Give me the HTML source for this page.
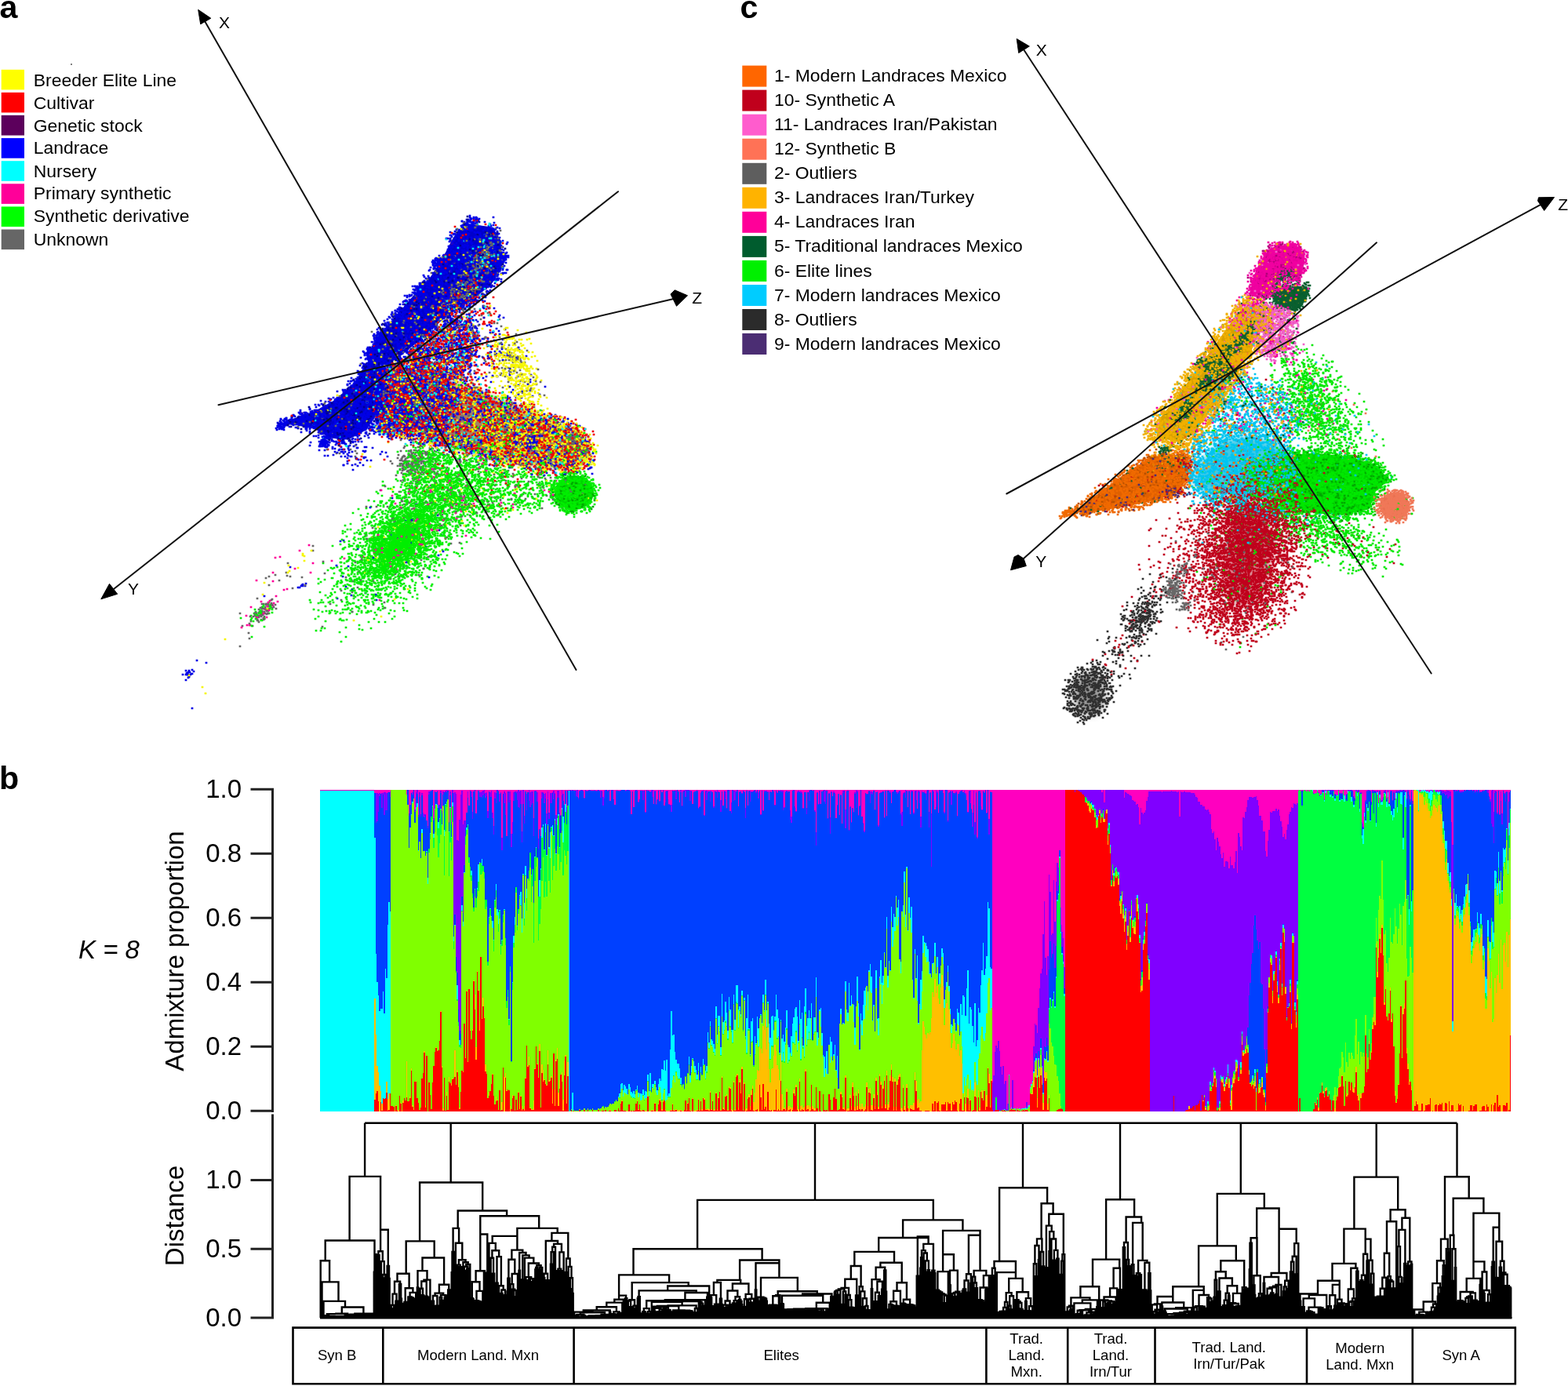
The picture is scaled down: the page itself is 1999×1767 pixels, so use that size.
<!DOCTYPE html>
<html lang="en"><head><meta charset="utf-8"><title>Figure</title>
<style>
html,body{margin:0;padding:0;background:#fff;}
body{width:1999px;height:1767px;overflow:hidden;}
svg{display:block;font-family:'Liberation Sans', sans-serif;}
text{fill:#000;}
</style></head>
<body>
<svg width="1999" height="1767" viewBox="0 0 1999 1767">
<defs><filter id="bl" x="-20%" y="-20%" width="140%" height="140%"><feGaussianBlur stdDeviation="5"/></filter></defs>
<rect width="1999" height="1767" fill="#fff"/>
<g fill="none" stroke-width="2.7" stroke-linecap="square">
<path d="M598 287L627 291L637 307L639 341L625 362L602 380L566 404L536 431L508 454L492 464L477 461L472 449L481 432L504 406L528 378L550 354L566 329L579 304L589 291Z" fill="#0000cc" stroke="#0000cc" stroke-width="3" stroke-linejoin="round"/>
<path d="M472 459L488 470L490 500L480 526L466 547L444 559L421 557L401 545L377 540L363 540L372 536L401 526L428 511L452 490Z" fill="#0000cc" stroke="#0000cc" stroke-width="3" stroke-linejoin="round"/>
<path d="M525 478L560 482L610 500L660 520L725 548L744 567L744 590L700 595L640 585L580 570L535 556L515 540L515 505Z" fill="#6a3410" opacity="0.62" stroke="none" filter="url(#bl)"/>
<path d="M486 470L520 470L540 500L530 540L500 552L480 545Z" fill="#0000cc" opacity="0.8" stroke="none" filter="url(#bl)"/>
<ellipse cx="732" cy="628" rx="25" ry="22" transform="rotate(0 732 628)" fill="#00d400"/>
<ellipse cx="512" cy="690" rx="30" ry="13" transform="rotate(-48 512 690)" fill="#30dc30"/>
<path d="M409 511zm20-2zm-1 0zm9-12zm1 3zm-6 10zm3-2zm8 2zm2-6zm1-1zm-5-2zm-1-4zm7 2zm-1-5zm-1 0zm2-1zm-1-4zm-3 2zm4-5zm15-23zm-2-7zm4-7zm6 5zm-1-3zm0-1zm4-2zm2 1zm1 0zm1-1zm2 3zm-2 0zm-1 0zm0 2zm3 0zm-4 0zm-2-1zm-1 3zm0 1zm1 5zm0 2zm-2-1zm0-5zm-5 1zm0 7zm-2 2zm0 1zm4-1zm8-2zm1-1zm-5 10zm1 1zm1 4zm-3-1zm-3 0zm0-1zm-1 2zm-10-2zm1-1zm-2-3zm6-4zm1-2zm-4-1zm-11 16zm7 3zm-1-2zm2-2zm6-1zm-2 5zm-4 0zm-3 3zm-5 4zm0 1zm1 3zm3 4zm-4 2zm2 4zm0 1zm-2 0zm2 2zm5 1zm-2-3zm0-2zm2-1zm3 0zm-2 4zm1 0zm0 3zm6 0zm-7-13zm0-1zm7 1zm2-2zm5 2zm-2 0zm-2 2zm-2 10zm0 1zm3-2zm3 1zm-1-5zm6-1zm-2 6zm6 1zm0-1zm-1-2zm1 0zm-1-6zm-3-5zm4-4zm-5-2zm-2-3zm-1 5zm-6-1zm6-6zm-7 0zm0-1zm2 0zm-2-4zm0-1zm5 1zm4 0zm1 3zm3 3zm2-7zm4 2zm-2 0zm4 5zm1-1zm-1-5zm6-1zm3 4zm-6 0zm2 6zm5 5zm-4-1zm-2-1zm-1 1zm-1 1zm-3-7zm1 2zm-3 0zm-1 1zm-1 2zm7 4zm-3 5zm-1 0zm0-1zm-1 0zm-2 0zm3 3zm0 1zm-3 4zm5 2zm2 0zm2-6zm0-1zm-1 2zm0 2zm1 3zm6 0zm0-3zm-3-1zm0-2zm0-2zm-2-1zm-2 0zm2-3zm-2 0zm1-1zm-1-1zm6 0zm3 1zm2-2zm1 0zm3 1zm-1 1zm-1 0zm-1 2zm3 1zm-7 9zm4-4zm5-1zm1 0zm-1 6zm1-2zm3-1zm0 3zm2-3zm0-5zm-6-3zm1-1zm-2-2zm7-3zm-3-3zm-2-2zm-1 2zm0 1zm-1 2zm-2 0zm-1-1zm0 1zm0 1zm-4-1zm5-4zm0-4zm-2 0zm-2-1zm0-4zm1-1zm7 0zm1 2zm-2 5zm1 0zm2 0zm2-10zm-5 0zm1 0zm1-2zm-1-2zm3-1zm0 3zm1 0zm-1-7zm2-1zm-7-2zm-2 1zm-2 1zm-1 2zm-3 4zm6 3zm-4 2zm-6 0zm1 0zm1-4zm-5-2zm-1 4zm1 1zm2 0zm0 1zm0 1zm-2 0zm-2-3zm-1 0zm-1 0zm-1 1zm1 2zm-1 0zm1-4zm0-1zm1 0zm0-2zm1-2zm-2-1zm-3-1zm1-3zm4 0zm1 0zm0 1zm2 5zm0-2zm4-1zm-6-10zm1 3zm2-1zm-7 2zm-3-2zm3-1zm0-4zm-1 0zm2-7zm1 1zm3 1zm3 5zm2-1zm5-6zm3 0zm-1 5zm-1 2zm-3 1zm1 7zm9-6zm-1 0zm4 4zm-1-2zm0-1zm-5-4zm2-3zm3-10zm-1 0zm-5 6zm-2-3zm-1 0zm-4-3zm3-1zm0-3zm8 2zm-1-3zm4-8zm-6-3zm4-5zm2 0zm-5-1zm-4 0zm1 6zm0 4zm-8-1zm-2 0zm1 2zm-3-4zm5-1zm-1-1zm0-1zm-8 0zm-3-5zm-2 9zm1-1zm0-1zm3-1zm1 2zm0 4zm-1 0zm-2 1zm-1 0zm-1-2zm-1 3zm1 1zm2 0zm0 2zm-3 4zm4-4zm3-3zm3 0zm4 2zm1 5zm-6 3zm3 1zm0 1zm-2 2zm-5-3zm-3-3zm-1 0zm1 6zm0 1zm-8-2zm1-3zm4-3zm-1-5zm-1-2zm-6 11zm-2 1zm2 2zm6-16zm1-2zm15-13zm1-8zm5-6zm1 2zm0 4zm-3-2zm10 9zm2-10zm-4 0zm0-1zm-1 0zm5-3zm0 1zm-1 2zm1 0zm1 0zm0-5zm0-2zm1 0zm0-2zm-1-2zm-1 2zm0 1zm-1 0zm-1-1zm-3 2zm0 3zm-4-1zm176 89zm0 11zm3-2zm0 9zm-29 2zm2-7zm2-3zm-5-13zm11-4zm7 6zm-5-18zm1 10zm0-20zm0-1zm8-3zm6 24zm-15-32zm-22-7zm1-6zm3-13zm-3-113zm1 12zm-2-1zm1 5zm-1 4zm1-1zm2-1zm2-2zm-2 8zm0-1zm-3 3zm1-1zm-1 4zm1 5zm0 7zm2 0zm-4 8zm-3-1zm-2-3zm-1 4zm2 1zm-3 1zm-3-1zm1-2zm0 10zm-3 0zm0-1zm-9 3zm-1-2zm2 0zm3-5zm0-8zm-14 6zm2 4zm0-1zm3 6zm-3-2zm-2 3zm2 6zm4-3zm9 1zm-7 3zm2 1zm-3 7zm-4-3zm-4 3zm-3 0zm-3-10zm-9 0zm1 2zm5 8zm-1 0zm-5-3zm1 3zm-16-4zm2-2zm4 1zm-2-6zm0 3zm-2-2zm-1-4zm5 1zm0-1zm6 5zm0-7zm1-4zm-1-1zm-12 5zm4-5zm1-5zm-6-4zm6-1zm1 0zm3 6zm2 1zm3-5zm1 0zm7-2zm0 3zm-3 1zm-3 8zm5 2zm1-5zm8 2zm-4-4zm-3-1zm1-4zm2-1zm-2-2zm2-5zm-2-2zm6-1zm-15-7zm0 5zm-2 10zm0-2zm1-1zm-1-4zm-6 2zm1 5zm-5 0zm-3-2zm6-2zm-1-2zm-1-5zm-3 3zm-2-1zm2-3zm7 3zm1 1zm0-2zm-2-10zm-1 1zm-3 0zm-1 2zm-2-9zm-1 0zm2-3zm-2 1zm4-2zm5 0zm2 2zm4-3zm5 0zm0 2zm-3 3zm2 5zm7-2zm1 3zm-2 2zm5-9zm-1 3zm2-6zm0-1zm7 7zm7-5zm-4 7zm3 3zm1 2zm-2 1zm-4 0zm-3 0zm3-5zm-5 4zm5 8zm-4 0zm0 8zm0-2zm4-2zm-2 0zm2-2zm5 2zm2-3zm-1-2zm0-1zm-1-2zm9 1zm-3 8zm-2 0zm0 4zm2-2zm3-5zm5 0zm3 2zm1-2zm0-4zm-6 3zm2-5zm-2-1zm5-1zm1-1zm1-3zm-1-4zm-2 3zm-1-3zm-4 7zm-2-1zm-3-6zm2-2zm-3 1zm4-7zm3 2zm0 5zm7-4zm0-1zm-7-5zm7-4zm-1-4zm-4-4zm-1 6zm-2-4zm-1 0zm1-3zm-2 1zm-2 6zm-3 1zm5 0zm1 5zm-9-1zm2-3zm0-1zm-3 3zm-1 1zm-10 2zm1-1zm1-5zm1 2zm2 1zm4-9zm5 1zm-1-9zm-2 0zm1 0zm-3 1zm1 4zm-6-2zm-5 0zm4-2zm-2-10zm2 0zm0 1zm7 5zm10-2zm0-1zm-5 10zm8-2zm2 3zm-2-11zm-7-6zm-17-8zm1 2zm-2 3zm-5 0zm-2 0zm2 1zm0 1zm-3 2zm-3-2zm-4-1zm0-1zm5-1zm7-4zm3 0zm0-1zm-18 5zm-6 14zm1 0zm3 2zm-2 4zm4-10zm-4 3zm4-7zm0 2zm4-2zm2 1zm-3 1zm1 3zm1-1zm2 3zm1-6zm8 0zm-1 1zm-2 4zm-6 8zm-1-3zm2 9zm3 1zm4 6zm1 2zm1 1zm-5 1zm-3 0zm1-2zm-6-5zm-4 7zm-4-1zm0-2zm1 0zm2-3zm3 2zm-2-6zm1-1zm-1-1zm-4-1zm-6 1zm-1 0zm-1 8zm5 1zm-9 0zm-1-2zm1-6zm-4-4zm5-4zm-34 51zm12-19zm2 2zm0 1zm1 0zm1-3zm3 1zm-1 0zm1-1zm1-6zm5 0zm1-1zm5-2zm2 3zm-4-2zm1 5zm5 3zm-5 2zm-2-2zm-2 3zm0-2zm-5-4zm0 4zm2 0zm-1 0zm0 1zm-2 1zm3 1zm-1 3zm-1 0zm2 4zm0-3zm2-4zm9 2zm-2 9zm-8 3zm1-6zm-1 1zm-4 5zm-3-13zm-3 2zm-2-1zm1 4zm-4-1zm-1 3zm6 16zm-1 3zm4-2zm4-2zm1 0zm0-3zm2 1zm6-5zm2 6zm-4 4zm1 1zm5 3zm-2 1zm-1-2zm-9-5zm0 7zm-1-1zm2 2zm0 4zm3 2zm-1-6zm3 1zm1 10zm3 0zm-4 3zm-3 0zm1-3zm1-3zm-3 3zm-2 3zm-10 1zm3-10zm-4-1zm-1 6zm1 2zm-5 3zm-4-2zm-2-4zm-3 3zm1 0zm-9 0zm3-3zm3-2zm-7-2zm1-3zm1-1zm3-1zm0 1zm-1 0zm0 2zm2-2zm1-1zm5 7zm2 0zm1-5zm-5-4zm-1-2zm0-2zm-1-1zm5-8zm-6 8zm-3 4zm3 1zm-2 0zm-1 1zm-1-1zm-2-1zm-7 13zm0 4zm-3-5zm-3 0zm3 7zm-1 5zm-1 1zm-3-2zm0 6zm-2 4zm1 0zm1 0zm1 1zm5-6zm3 2zm0 3zm1 1zm0-7zm-2-3zm-2-2zm8-3zm0 1zm0 5zm4-2zm3 1zm-2-2zm6 5zm3 1zm0 4zm-6-1zm-7-3zm-1 0zm1 1zm-1 6zm3 7zm0-2zm7-4zm1 3zm-3 1zm1 1zm4 9zm-1-1zm-1 1zm-6-1zm2-3zm0-3zm-5 7zm-2-1zm-8 1zm0-5zm5 0zm1-1zm-3-6zm-2-1zm-1 1zm-5-3zm-1 1zm-1 1zm3 8zm0 1zm-4 8zm6-1zm4 0zm0 3zm-4 9zm-2-2zm-2 8zm-2 6zm6 4zm1 1zm0-2zm4 2zm4-5zm-4-5zm1-4zm2 2zm9-2zm-2 2zm-1 1zm-3 9zm3 0zm3-4zm2 2zm0-6zm0-1zm2 0zm0-1zm-1-2zm3-6zm-2-2zm-2 6zm-4-1zm-4-3zm0-3zm5 0zm-3-1zm-3-2zm3-3zm-1-2zm2 1zm1 2zm3 3zm11-6zm6 1zm3-1zm2 1zm-3 3zm-3 5zm2-1zm5 7zm-7 0zm-4 0zm2-2zm0-5zm-5 1zm2 22zm3-2zm2-2zm1 3zm2 0zm2-1zm-1 2zm2-2zm-2-2zm4-11zm6 7zm-3-1zm-1 4zm-2 0zm2 4zm5-2zm-1-2zm0-1zm2 4zm6 2zm0-2zm1-3zm-3-6zm-3 3zm0-2zm0-1zm6-5zm-7-3zm-1-5zm-1-2zm-4-1zm2-4zm11 7zm0-6zm0-1zm0-4zm-3 2zm-3 0zm4-3zm2-1zm-1-2zm-8-2zm-1-1zm-1-2zm-1-1zm-3-1zm7 12zm0 2zm-9-7zm-2 1zm-1 6zm-5-3zm-5-2zm2-2zm-3-7zm10-1zm0 6zm3-10zm-1-1zm-2 0zm-10 2zm3-5zm-2-8zm10 0zm-2 2zm8-1zm1 0zm3 0zm1 5zm-3 0zm-2 9zm3-2zm1-2zm5 0zm-1 2zm4-2zm-1-1zm1 0zm-1-2zm0-4zm0 1zm-1 1zm1-3zm4-3zm3 3zm2 2zm-1 1zm2 0zm3-4zm4-1zm1 9zm-14 0zm1 6zm1 3zm4 3zm-4 1zm4 6zm5-2zm4 3zm0-1zm-3-9zm0 2zm7-5zm3 5zm-4 7zm1-1zm2 3zm-1-5zm-1-14zm-3-9zm3-3zm4 3zm3-3zm0 7zm8-7zm8 0zm6 30zm-16 8zm1 2zm1 0zm1 4zm17-4zm2 10zm-8 1zm-7-3zm-3 2zm-8 13zm-3-2zm0-1zm0 3zm-5-2zm-3-10zm5-2zm2 5zm5-5zm-2-4zm1-5zm1 1zm1-9zm-4 2zm0 2zm-3-1zm-4 0zm-1 6zm3 3zm-12 0zm1 1zm4-2zm1-10zm-6-1zm-1 1zm1 4zm-2 2zm-4-6zm-2 1zm0 1zm0 4zm2 4zm1 2zm-2 1zm-1-2zm-1 1zm2 3zm0 2zm1 0zm-3 3zm6 2zm4-6zm4-1zm0 1zm-4 10zm0-3zm3 0zm-1 4zm1 1zm2-1zm-5 3zm0-3zm-5 2zm-2-4zm-1-1zm-1 0zm0 8zm0 2zm1 3zm0-2zm4 3zm3-5zm2 1zm3-3zm-1 2zm-1 3zm2-1zm-2 2zm-3-1zm6 6zm-11 3zm1-5zm-1 7zm0 1zm-4 6zm1 2zm1 2zm3 2zm2 0zm-2-4zm-1 0zm4 4zm4-1zm0 1zm5-11zm3-2zm-3 7zm5 4zm2-3zm5 4zm-5-11zm-4-5zm-1 3zm-2-7zm4 1zm1-3zm-2-1zm0 2zm-3-5zm7 3zm11 1zm15-5zm7 2zm5 1zm-14 14zm5-2zm-19 19zm-2 2zm8-3zm10 5zm6 20zm4 2zm2 2zm-16-7zm-2-4zm0-3zm-6 2zm-10 10zm1-1zm-10-11zm0-14zm-3-2zm3 5zm-2 3zm4 3zm-9-7zm-3-4zm-6 2zm-3-3zm0 2zm0 11zm4 8zm0-3zm6-1zm-2 6zm0 3zm-3-1zm-1 0zm-4 1zm0 1zm-7-1zm3-2zm1-3zm1-5zm-6 4zm3 0zm-6 2zm0-6zm-4 9zm2 2zm3-2zm-1 2zm1 3zm-2 0zm-1-1zm-3-1zm-2 1zm-1-3zm-5 3zm-2 1zm-5 0zm-1-5zm1-1zm3 0zm2-1zm-5-2zm3-5zm4 2zm6 0zm-2-6zm-2-1zm-1-3zm0 5zm1 0zm1 1zm0 1zm-11-1zm3-1zm2-3zm-4-6zm1-1zm6-2zm6 4zm0-1zm0-2zm2 0zm2-1zm3 0zm-1 2zm0 2zm3 2zm-5 0zm-1-3zm-1 0zm0 5zm2 5zm1 1zm4-2zm-2-3zm3 0zm3 4zm2-2zm0-8zm-2 0zm0-6zm-1 1zm-9-2zm1-7zm-2 0zm1 0zm2-1zm-1-3zm-2 1zm9-2zm0 6zm1-3zm0-6zm-2-1zm2 0zm2-5zm2-1zm-10 0zm0-6zm-2 3zm3 4zm-11 7zm1-7zm4 1zm-3-3zm0-5zm-4-1zm0 5zm1-1zm1 1zm-3 1zm-7-5zm1 3zm6 4zm-3 5zm-3 4zm2 1zm0 4zm-1-2zm3 0zm1-1zm4-1zm0-2zm3 5zm1 2zm-2-1zm-1-2zm-2 0zm5 5zm-2 3zm3 3zm-5-1zm-1-2zm-3 3zm1-4zm-3-1zm1 0zm-4-1zm-1 5zm-1 1zm-5-7zm-1 0zm2 6zm-7-1zm1 2zm-3 0zm0-2zm-2-5zm1 0zm5 3zm1-2zm-6-2zm2-3zm-1-2zm-2 0zm2-2zm4 1zm4-1zm0 1zm0 1zm-1 1zm3 4zm3-2zm0-6zm0-1zm-6 1zm5-15zm-4 2zm0-2zm-1 0zm-1 3zm3 3zm-6-6zm-5 5zm2-1zm0 11zm-2-2zm-6-4zm5 1zm-1-6zm1-3zm-2-1zm-1 3zm-2 0zm-1 1zm0 3zm-2-5zm0 7zm-2 1zm2 2zm-6 2zm-1 7zm5 0zm9-4zm1 6zm-5-1zm0-2zm-2 1zm1 3zm2 2zm0-2zm1 0zm1 1zm2 2zm-2 0zm-1-1zm-8 3zm2-5zm-4 1zm-1-1zm-1 0zm0 4zm4 5zm2 6zm-6-3zm1 9zm4 1zm2-5zm2 0zm-1 1zm1 2zm-1 1zm1 2zm3 0zm2 0zm-4-10zm0-2zm0-3zm7 1zm2 2zm-1 0zm-1 1zm2 2zm2 0zm2 0zm-2-3zm0-2zm-1 0zm5-1zm0 1zm6 2zm0 3zm-2 8zm-3 0zm1 0zm-5 1zm0-6zm-5 0zm2 4zm2 5zm6 4zm-2 5zm6 0zm-1 0zm-2-1zm0 2zm-8 2zm1-2zm-6 3zm0-1zm-2 1zm-4-2zm2 0zm3-6zm1-2zm-1-3zm-2-2zm0 3zm-3 4zm-1 0zm-2-7zm-2 2zm1 1zm-3-1zm1-1zm-1 5zm1 1zm3 2zm0 2zm-1 2zm2 2zm-3 0zm3 7zm-2 1zm-3-2zm-1-1zm0 3zm-1 1zm4 2zm9 5zm1-2zm0-1zm-4-6zm-2-6zm12 4zm1-1zm1-2zm2 1zm4-1zm3-1zm-3 3zm2 3zm-6 3zm6 5zm-7 0zm0-4zm-4 1zm0-2zm0-1zm-1 1zm-2-1zm0 3zm3 2zm-1 9zm4 1zm1-1zm4-4zm2-2zm0 2zm-1 2zm-1 3zm0-1zm0 2zm4 1zm-3 1zm-3 2zm-3-2zm1 0zm-3-1zm0 1zm-3 3zm2-1zm0 2zm-1 1zm-3-2zm-2 1zm-3 0zm-1 1zm3-9zm0-2zm1 0zm2-1zm-5-2zm-3 5zm-7-5zm0 10zm6-1zm-2 1zm1 1zm1 0zm-4 4zm-1 5zm3 0zm3-2zm-3 0zm10-1zm1 0zm-6 8zm3 0zm-2 2zm-1 0zm-2-3zm-3-1zm-4 3zm0 4zm13 2zm9 4zm9-6zm-1-7zm-7-4zm-2 0zm-1-3zm0 2zm2-1zm0 1zm5 1zm4 1zm-3-3zm0-1zm4 3zm5 3zm1-4zm-1-1zm2-2zm2 0zm6 1zm0 1zm0 1zm-1 0zm-2 2zm-4 6zm1 0zm5 4zm-10-4zm-1-2zm-1 0zm4 18zm8 3zm-1-7zm9-4zm-1-1zm-4 4zm12 5zm1-5zm-2-11zm-10 2zm1-4zm1 0zm1-5zm-1 2zm-3 0zm0-1zm0-1zm-1-4zm14-16zm-7 7zm-2-3zm-5 1zm0 1zm2 5zm3-2zm0 6zm-2-1zm-6-1zm-1-1zm0-3zm-2 0zm0 5zm-1 0zm-2 1zm-2-3zm0 3zm-2-6zm3-2zm-2-1zm-2 1zm-2-3zm2-1zm-1-3zm8 1zm2 0zm-3 5zm7-7zm-6-4zm0 4zm-2-1zm-2 0zm0 1zm-4-2zm2-1zm0-9zm6-3zm2 7zm1-2zm2-2zm-1-3zm5 2zm3 0zm2 3zm0 2zm-4-1zm-1 4zm1 1zm1-2zm3 0zm1 6zm3-11zm0-4zm5 7zm3-2zm2-1zm1 3zm5-4zm-2 5zm4 5zm-10 2zm-2 5zm5 9zm2-4zm1 0zm5-5zm-6-4zm11 9zm2 3zm2 2zm1-3zm0 2zm1-6zm3-7zm1-3zm-5-11zm14-2zm-2 6zm0 6zm1 0zm1-3zm5 5zm4-3zm-5-8zm-1-1zm16-1zm6 1zm-5 11zm-5-5zm-4 3zm4 8zm0-2zm5 7zm1 6zm-9-4zm0 4zm-3-1zm-5-4zm4 1zm-9-10zm-1 28zm2 2zm7-1zm1 2zm1-9zm-5-3zm0-3zm6 6zm3-2zm4 1zm1-5zm1 5zm-4 4zm0 2zm1 5zm1 0zm2 1zm1 2zm3 0zm-1-1zm-8 13zm-1-7zm-7 7zm-5-9zm-2-4zm-2 5zm-2 1zm-1 3zm2-1zm-7 0zm-8-1zm1-3zm-3-4zm3 1zm3-2zm1 4zm6-11zm1-10zm-10 0zm-6 12zm-6-6zm-3 0zm-3-3zm11 17zm1 3zm-4 1zm14 20zm19-4zm0-2zm4 0zm0 1zm14-4zm-6 6zm7 0zm-9-1zm0 10zm-20-2zm-77 51zm25 14zm5 25zm-29 17zm25 9zm194-112zm-6-20zm-11 2zm0 14zm0 2zm4 3zm7-3zm4-2zm-18 8zm-12-8zm8 3zm-1 4zm6-8zm-4-1zm2-6zm-7 5zm-11 2zm-2-13zm-1-2zm-3 14zm0 8zm-2 3zm-38-9zm-18 2zm1-8zm-3-10zm6 4zm-1-2zm10-1zm-3 5zm-1 9zm2-1zm5-6zm4 3zm3-9zm10 1zm-6 19zm6 0zm9 0zm-4-2zm0 7zm4-1zm5 1zm5-5zm-6-4zm6-7zm1-2zm-8 0zm-4-2zm-3 0zm0-2zm1-4zm-1 0zm15-10zm-3-15zm-1-1zm-5-6zm-5 1zm-1 8zm4 1zm3 4zm-10 0zm-5-3zm7-4zm-15-7zm1 4zm3 5zm1 4zm-5 0zm2 3zm-1 3zm3 3zm0-7zm4 3zm6-3zm-5 5zm0-1zm-1 1zm0 1zm1 3zm-1 0zm4-1zm-3 7zm-2-7zm-3 0zm-2 0zm-2 1zm-1 4zm-2-1zm0-3zm0-4zm2-1zm-1-3zm-8 5zm-1-6zm-1 15zm-2-3zm-5-1zm-2-1zm-2-2zm-9-1zm1-6zm8 1zm3-1zm2-8zm-9 5zm-4 0zm2-4zm10-5zm6-5zm-1 4zm-2 11zm5-6zm8 6zm1-5zm1-7zm-1-5zm-2-5zm-1-3zm-5-5zm-4 1zm0 5zm-2 6zm-8 1zm-2-10zm-2 1zm-4 2zm12-5zm-2-9zm-4 6zm3-13zm3-1zm9 14zm-1-6zm7 1zm4-3zm-4-2zm8-1zm-2 8zm1 12zm2 3zm10-6zm-3 1zm-2-5zm7 8zm14-2zm-11-11zm43 17zm-6-1zm-4-1zm-11 4zm1-2zm5-7zm-11-5zm-1 4zm3 16zm8-5zm-3 11zm-8-2zm-1-1zm2 11zm-3 7zm12 1zm2-7zm-2 3zm-5-1zm0-3zm5-1zm8 10zm3-2zm7-4zm-4-11zm-5 0zm-1-4zm-1-5zm7 5zm15 7zm-1 0zm-9 1zm7 2zm-2 5zm-4-2zm-1 9zm6-2zm5-4zm0-4zm-281 193zm-77-9zm48-12zm7-13zm-6-33zm18 11zm26-1zm13 4zm5-68zm-47-43zm3 2zm7-1zm1-9zm23-8zm5 1zm7-17zm-4-6zm-11 0zm2-4zm1-1zm-3 1zm0-5zm5 0zm2 0zm0 1zm2 1zm3-3zm0 1zm0 2zm6 0zm1 2zm-3 1zm-2 3zm-1 4zm-1 2zm3-1zm3-6zm9 3zm-1-2zm1-4zm-3-1zm-4-1zm5 0zm1-1zm-1-5zm1-2zm-3-3zm-1 0zm-10 2zm6 1zm1-4zm-7-2zm2 0zm-2-3zm4-2zm0 2zm0 1zm3-2zm3 1zm1 3zm3-9zm-5-4zm3 0zm3 3zm-7-8zm-4 0zm-2-1zm1 4zm-2 1zm-1-1zm3 5zm-4 3zm-5 1zm-2-3zm5-3zm1 1zm0 1zm1-1zm-1-5zm1 0zm0-3zm-4-2zm-1 0zm-1 2zm1 2zm1 0zm-3 3zm-3-2zm0-5zm-2 6zm-3 5zm2-3zm5 0zm-2 3zm-1 0zm1 2zm-4 9zm5 0zm0-2zm9 0zm-1 1zm-4 6zm2 3zm-2 1zm-3 0zm-3 0zm3-5zm-5 0zm0-2zm-3 7zm-3-2zm-10 2zm-2-1zm7-7zm-1-3zm-6 2zm1-5zm-1-1zm5 0zm-1 3zm6 0zm-2-1zm0 3zm4-1zm1-2zm1-2zm-5-2zm-1-2zm2-1zm-2 0zm1-1zm3-1zm1 2zm2-8zm-2-2zm-1-1zm-7 6zm-1-5zm-1 9zm2 4zm-3-1zm-7 0zm-2-5zm3 1zm3-6zm-6 2zm0 2zm0-1zm-5 0zm1-1zm1-2zm1-1zm-7 4zm2 4zm1 1zm-3 3zm0 5zm1 2zm-1 2zm8-6zm7 1zm-3 2zm3 0zm-1 3zm-2-1zm-2-1zm0 5zm5-2zm-5 6zm-4-2zm0-3zm-6 2zm2 1zm1 2zm-2 1zm0 1zm2 3zm-1 4zm-2-2zm2 4zm8 2zm2-5zm-4 1zm2-3zm5-3zm4 1zm-3 0zm2 2zm5-1zm3-2zm0-1zm5 7zm-7-3zm5 5zm-11-1zm-8 8zm-4 7zm-1-7zm-4 3zm-1 0zm3 6zm-6-7zm-7-1zm-4 1zm1 0zm-2 1zm-1 1zm0 1zm-8 7zm-7-2zm2-2zm1-4zm-4-2zm11 1zm-1 0zm-2-1zm7 3zm-1 0zm1-5zm-11-2zm-2-1zm0-9zm13-2zm8-1zm-1 0zm-5 4zm-1 7zm1 0zm9-3zm-1 3zm2 2zm0-2zm2 1zm2-3zm-4-8zm0-2zm2 3zm1-2zm0-5zm0-3zm-2 0zm1 2zm-2 2zm-7 1zm-2 0zm0-1zm-2-2zm1-3zm2-6zm3 1zm7 3zm2-2zm-3-3zm-1-2zm1-9zm-1-2zm-1 3zm-4-2zm-5 2zm3 2zm0 4zm-7 2zm-2-3zm0-5zm-7 0zm1-6zm0 2zm-2-3zm1 15zm-1 5zm2 1zm3-4zm0 1zm5 3zm-4-1zm2 9zm-1 0zm-2 2zm-5-6zm-3 4zm-3 2zm0-3zm-3-3zm-2 1zm-1 4zm-5 1zm0-10zm0-2zm2-1zm9 3zm2-3zm-2-2zm2 1zm-2-11zm-11-2zm1 3zm-1 7zm-2 0zm-4-1zm-1-4zm-8 8zm-3 2zm0 1zm1 1zm0 2zm1 0zm3-1zm2-1zm-1-4zm5 0zm-1 0zm4 0zm0 5zm-4 0zm-1-2zm1 5zm0 4zm-1 1zm-2-6zm-5 0zm-2 1zm0 2zm7 6zm-1 2zm5 5zm0-2zm2-6zm-1 1zm2 0zm15 12zm0-1zm2 1zm-1 1zm1 0zm-2 1zm-7-1zm-6-2zm3 0zm4 7zm1 0zm2 0zm3-2zm1 0zm0 2zm-2 0zm2 4zm-1-1zm-3 0zm-2 2zm3 1zm0-1zm3 1zm-19-1zm19 13zm21-5zm0 6zm5 0zm3 2zm-5 9zm-86-47zm5-2zm0 2zm2-2zm24-6zm0-2zm-2 2zm-2 1zm-2-1zm-1 1zm0 2zm-4-1zm-1-1zm-2-3zm6 0zm-3-4zm2-2zm1 0zm-1-1zm2 2zm5 1zm2 2zm0-9zm0-2zm-18 10zm-2 2zm3 3zm-1 1zm0-1zm0 3zm-2 2zm-1 0zm1-1zm0-1zm-5 2zm-2-1zm2-3zm-1-2zm-3 2zm0 4zm16 180zm-123 133zm-2 3zm-1 0zm-1 1zm-2 2zm-2-2zm-1-2zm-1-3zm0 12zm8 36z" stroke="#0000e6"/>
<path d="M504 507zm-1-14zm-3-7zm-1-16zm-3 1zm145 29zm-17-6zm8 12zm-25 5zm-9-15zm5 7zm2-9zm-50-2zm-9-4zm16 6zm7-2zm-1 1zm-22-23zm2 7zm-5-5zm-30 19zm-1 1zm17 19zm-2-6zm-6 10zm9 16zm-7 10zm1-5zm-12 2zm18 36zm5-4zm3-20zm9 11zm3 4zm-3 10zm1-2zm7-9zm0-4zm9 2zm3 12zm5-10zm-21-45zm47 21zm1-26zm16-2zm24 7zm-4 22zm-7-1zm-6 0zm-10 16zm10-2zm2-5zm7-3zm6 8zm-13 9zm-4 9zm0 1zm2-12zm-4-1zm-2 5zm-10 7zm-7 1zm-4-3zm0-8zm-12-17zm4 23zm-9 2zm0 6zm2 7zm0-4zm11 0zm-4 4zm-1 1zm-3 10zm-7 6zm0 1zm2 4zm4 2zm-1-4zm0-1zm6-2zm-3 2zm1 5zm4-3zm-1 3zm3-7zm-3-3zm-3-4zm1-1zm6 2zm3 0zm-1-1zm5 6zm-4-1zm-2-2zm-1 4zm3 7zm1-5zm3-2zm2 2zm-1 1zm2 3zm3 0zm1 1zm-6-11zm3 0zm0-1zm4-6zm0-3zm-9 4zm-6-2zm1 0zm3-7zm-1 1zm-1-6zm4 3zm21 8zm14-4zm1 3zm-9 12zm6-1zm1-5zm3 5zm-3 0zm0 1zm0 4zm2 1zm4-1zm-1 3zm2 2zm-4-3zm-9 2zm-4 0zm-2-1zm-1-4zm4 2zm-1-5zm-2-6zm-1 6zm-7-1zm-2 1zm4 11zm-4 4zm-2 3zm1 1zm4 3zm2-2zm2 0zm7-10zm3 2zm2 5zm1-7zm1 1zm7-1zm-2 5zm-3 1zm0 4zm1 5zm-5-5zm-2-1zm-1 6zm-1 6zm7-5zm3 3zm1-2zm0 1zm0 1zm-4 7zm3 0zm4-2zm-9 7zm-6-6zm-1 6zm-6 0zm0-13zm-1 2zm2 3zm-5-1zm0-1zm-1 0zm-4-2zm2 4zm4 8zm-6-3zm0 1zm-4-1zm2-2zm-4 2zm1 3zm-3 0zm-2-2zm-1-5zm0 1zm0 2zm2 0zm0-5zm-5-1zm9-4zm-2 2zm0 4zm5-11zm-5 2zm-1-5zm5-5zm1 1zm-1-2zm-3 1zm1 0zm-1 2zm-1 1zm-4-1zm-2-2zm-1 7zm1 0zm1-1zm1 2zm-1 3zm-3-1zm-8-4zm4 1zm2-11zm-7 3zm3 2zm-4 2zm-3 0zm0-1zm-2-4zm-1 1zm1 3zm1 0zm4 2zm-2 2zm-1 1zm3 2zm-1 1zm-6 2zm0 4zm0 1zm4 0zm0 1zm5-3zm2 4zm-3 3zm4-2zm1 5zm-3 2zm-5-6zm-2-1zm-3 6zm-5 0zm-3 1zm2-3zm-2-1zm6 0zm-2-5zm2-2zm1-2zm-1-2zm-5 7zm-8-2zm2 6zm0-1zm0-2zm1 1zm1 2zm-1 1zm0 1zm1 1zm-4-1zm0-1zm-1 0zm0 2zm-1-5zm-6 6zm-1 0zm-1-3zm-1 0zm0 1zm0-6zm1-1zm-6-5zm3 2zm1 0zm4-2zm2 0zm-3 5zm2-1zm4 1zm1-11zm-5-1zm1-1zm-1 3zm-7 3zm-2-2zm1 0zm-1-2zm5 0zm-1-6zm-2 2zm-1-1zm0-4zm4 1zm0-3zm7 1zm10 2zm-2 0zm0 3zm-4-2zm0 2zm1 2zm0 2zm-1 2zm0 1zm2 1zm1-2zm2 0zm2 1zm3 1zm2-5zm0-1zm2-1zm-1-1zm1 0zm-1-2zm-6 0zm2 1zm1-2zm-1-2zm1 0zm2-1zm-1-4zm3 1zm-4-3zm-1 5zm-2-1zm-4 0zm1-10zm-5 1zm4-3zm1 0zm4 4zm4-6zm-1-2zm1 1zm-3-2zm1-2zm-3 0zm5-3zm1 2zm-3-5zm-7-1zm2 1zm1 0zm-7 2zm0 4zm7 0zm-1 0zm-8-3zm-2-4zm-1 0zm-6 0zm1 1zm1 0zm-6-5zm-1 2zm1 1zm1 6zm1-1zm3 3zm-1 4zm-4-2zm2 4zm0 2zm-1 0zm1 4zm2-2zm2 1zm0-6zm3 3zm5-3zm-3 5zm-1 0zm-1 5zm2 2zm2 0zm-8 3zm-1-7zm-5 3zm2 1zm0 1zm-4-3zm-6 1zm0 1zm-1 3zm-1-1zm-2 1zm1-6zm-1-5zm-4 3zm6-4zm1 0zm-1-3zm4 4zm3 3zm1-21zm-4 1zm-1-1zm-2 3zm0-1zm-5-3zm1 12zm-5 1zm-1-7zm0-2zm2-4zm-2 2zm-4 0zm-4 9zm1 2zm-1 8zm1-6zm2 0zm2 1zm3 0zm1 2zm-2 4zm-3 1zm3 1zm3 4zm0 1zm-7-1zm-8 13zm6 2zm-1-3zm2-1zm2 7zm1 0zm-2-11zm13 3zm0-5zm9 0zm-2 2zm3 3zm-2 0zm0 6zm-4 0zm-3-4zm-5 4zm0 3zm-1 5zm6-5zm5 2zm3 1zm-2 3zm-2-1zm1 5zm2-2zm2 7zm-5 0zm-2-2zm1 2zm-5-3zm3-3zm-3 1zm-4 3zm-8 2zm7-7zm-5-6zm-4 5zm-2-3zm-3 7zm3-2zm0 6zm-4-2zm7 6zm3-2zm2-1zm3 5zm-4 0zm-2 2zm0 2zm6-1zm-1 5zm-3-1zm-3 2zm0 1zm-2-1zm1-5zm-1-1zm-5 3zm0 3zm-1 0zm3 3zm0-1zm2 3zm-1 4zm-1-3zm-3 5zm1 3zm-1 2zm4-1zm0 1zm0-3zm2-2zm2 0zm1 3zm-1 1zm0 2zm3 0zm0-2zm3 1zm0-1zm0-1zm1-1zm-1-3zm-1-3zm-5 2zm3-2zm-2-3zm-1-2zm1 0zm2 1zm7 2zm0-3zm3 1zm2 0zm-2 3zm-3 1zm1 3zm-2 5zm0 2zm0-1zm2 0zm0-1zm1-1zm0 1zm3 2zm-1-3zm0-4zm5 1zm-1 0zm0 2zm-1-1zm-1 2zm2 3zm1 0zm3-3zm-1-1zm-1-2zm-1-3zm-3-2zm3-2zm-2 0zm0-1zm1-1zm3 2zm2-1zm-1-5zm1-3zm-1 0zm-2 0zm-4-1zm1 2zm0 3zm-1 1zm-2 1zm-2-3zm-4 3zm1-4zm1-2zm2 2zm1 0zm1-7zm-3 2zm-1 0zm0-6zm4 3zm1-3zm4 3zm-2 1zm2 0zm4 3zm-3-4zm1-2zm10 4zm-1 0zm-1 2zm-3-1zm1 0zm-2 1zm2 1zm-1 4zm4 3zm-2-4zm0-3zm3 1zm0-1zm5 6zm2-4zm0-2zm0 1zm-2-5zm0 1zm-1 2zm0-2zm-2-2zm-1 0zm0-1zm1-2zm3 3zm1 0zm1 0zm6 2zm11-3zm-1 5zm-3-3zm-3 0zm6 4zm-9 5zm-1 0zm1-4zm0 2zm-2-1zm0-1zm-1-1zm-2 0zm2 5zm-1 1zm1 3zm1 1zm-1 2zm2 3zm2-2zm-2-2zm6-2zm1 6zm-1 0zm1-1zm-3 4zm5 0zm1 3zm-8 0zm-5-1zm-5 1zm-2 1zm-1-5zm-1 0zm5-2zm-2-6zm-2 0zm1 5zm-2 1zm-3-3zm1-1zm-4-1zm1 0zm-1-1zm-1 0zm0-1zm-1 0zm0 3zm0 2zm1 0zm1 3zm5 6zm-5-2zm-2 2zm3 2zm2 1zm0 1zm-2 5zm-2-2zm0 4zm1-1zm1 0zm-1 3zm0 4zm4-3zm2-3zm3-1zm-1 2zm0 1zm3 4zm1-4zm0-3zm-1-3zm-2-3zm-1 0zm0-1zm4 0zm5-1zm-2 2zm6 5zm0-2zm-3-5zm5 1zm1 1zm4 2zm-4 1zm3 5zm-1 1zm1 1zm2 3zm-9-6zm-1 2zm-4 11zm8-3zm2 10zm-7 0zm-8-4zm2-3zm1-2zm-2-3zm-3 2zm-2 1zm2 1zm-6 0zm2-1zm1 1zm-1-3zm1-1zm-5 2zm1-1zm-3 2zm1 1zm3 3zm1 0zm-4 4zm-1 2zm-1-2zm0-2zm-2 1zm-5-1zm1 1zm-1 0zm0 2zm-1 0zm-2-2zm0-1zm1-2zm1-2zm-5-4zm-2-1zm5 1zm2 0zm-1-2zm4 3zm-1 0zm-1-1zm0 2zm1 2zm3 0zm0 1zm3-11zm-5 3zm1-4zm-1-2zm3 0zm-1 2zm2-1zm1 0zm0-1zm-3-2zm2-5zm-2-1zm0 2zm-3-2zm1 3zm1 1zm0 1zm-2 1zm-3-1zm-1 1zm-1-1zm0-2zm3-2zm-2-2zm-1 1zm-1 2zm0-1zm-3 1zm1 1zm2 7zm-1-2zm2 0zm3-1zm0 4zm-4 2zm0-1zm0-1zm-5 3zm-1-3zm0 2zm-2 1zm-1 0zm-2-1zm0-1zm3-2zm0-1zm-1 1zm-1 0zm-1 0zm0-3zm1 0zm6-2zm-3 0zm1-2zm1-3zm-1 1zm-5-2zm0 3zm1 1zm2 1zm-1 2zm-1 0zm-2 0zm-2-1zm0-2zm1 0zm0 1zm0-3zm-1-2zm-1 3zm-1 0zm-1-1zm1 0zm-1-2zm-2 0zm1 2zm-1 3zm1 0zm1 2zm-1 1zm-1 1zm3-1zm2 0zm1 4zm1 1zm-1 1zm1 1zm-3 0zm-3-3zm0 2zm2 3zm-2 6zm3-1zm2-1zm-1-3zm-1-2zm1 0zm3 1zm3 0zm1 0zm1 0zm1-1zm0 2zm1 0zm0 3zm-1 1zm-6-1zm1 4zm2 1zm-1-1zm2 2zm0 1zm1 2zm-3-2zm-1 3zm-5 0zm0-1zm1 0zm1-3zm-2-3zm1 2zm-2 1zm-1 0zm0-1zm-2-1zm0 2zm3 2zm-1 0zm0 1zm-2 2zm0 1zm2 2zm0-3zm4 2zm-2 3zm2 0zm-1 2zm-5 0zm3 2zm-3 2zm1 3zm2-1zm4-2zm0-1zm-2 0zm0-1zm0-1zm1 0zm2 1zm2 2zm-2-1zm1 2zm-1 1zm4-5zm3 1zm-3-5zm-4 2zm0-2zm0-1zm5-3zm2 1zm-1-1zm1 0zm2 6zm2-2zm2 1zm-1 2zm1 0zm1 0zm7-6zm1 1zm-1 4zm-13 4zm1 1zm2 4zm4 8zm-1-5zm8-2zm-2 5zm-2 5zm-1 3zm-7 0zm-4-1zm-2 1zm0-4zm2 0zm1-3zm-9-4zm1 0zm-5 0zm1-2zm-2 5zm4 5zm1 3zm-4 1zm-1 5zm12 0zm1 2zm-3 8zm-7 2zm1-4zm-2 2zm3 15zm14-1zm6-25zm12 9zm4-13zm-6-13zm6 1zm2-4zm2-4zm-6 0zm-3 2zm-5-3zm6-3zm1-1zm-7 2zm10-4zm8 0zm5 12zm-3-6zm18-8zm4 4zm50-31zm-48 15zm-12-8zm6-6zm16 0zm-3-2zm11 6zm-3-4zm-2-1zm3-10zm1-5zm-1-1zm-1-6zm-7 7zm-3-5zm6 8zm-2 4zm-3 1zm0-1zm-8-6zm0 4zm-9 3zm5-8zm0-1zm-2 1zm-1-1zm-3-2zm3 0zm4-1zm8-3zm0-2zm-1-2zm0-2zm-4 0zm-9-2zm2 0zm3 1zm-4-6zm-1 0zm4-3zm1 2zm2 0zm1 3zm0 2zm3-1zm4-4zm1 0zm1-1zm4 1zm0 2zm0 2zm-5 0zm0 3zm1-1zm2 1zm4 4zm2 1zm5-7zm-7 0zm3-2zm11-3zm-1 0zm5 1zm3 4zm-1 3zm-9-1zm1 8zm0 1zm-2 11zm14 1zm12-14zm3-7zm-7 3zm-8-4zm2-2zm-1 1zm-1-4zm5 0zm5 2zm2-3zm8 1zm4 8zm1 0zm2 0zm-10-3zm27 1zm-4 6zm-3-15zm-1 1zm13 1zm3 0zm-3 5zm2 5zm3 2zm7-4zm1-6zm-5 3zm22-5zm-15 6zm44 8zm-10 0zm-4-7zm-13-8zm5-1zm3 0zm1 5zm2 2zm2-1zm1 0zm0-3zm-1-1zm4 1zm5 3zm-7 5zm4 1zm1 2zm2-6zm2 2zm3 1zm0-3zm3-3zm-2 2zm-4-1zm0-1zm-1 0zm3-1zm6 2zm3-1zm1 1zm2 1zm5-6zm1 4zm2 1zm-6 4zm-4 2zm13-12zm9-15zm-3 4zm1 2zm-2-5zm-7-2zm1 7zm6 1zm-1 1zm1 2zm-6 3zm-4-2zm0-2zm-2 1zm-2-2zm1 5zm-6-2zm0-7zm2-4zm2 0zm3 6zm-1-11zm0 3zm-3-1zm-2-2zm-2-5zm-3-1zm5-6zm-1 1zm4 3zm3 1zm2 2zm-1-4zm3-2zm3 7zm3 3zm7-1zm-4-42zm-4 0zm-15 16zm5 12zm-9 3zm-5-3zm3 0zm-4-3zm-2 2zm-1 0zm-7 3zm8-13zm0-7zm-11 3zm-5-1zm-3-8zm-6 14zm15 8zm-2 1zm0 1zm-7 3zm-3 10zm-2 5zm1-2zm4-4zm3 1zm0-1zm3 5zm1-2zm2-2zm-2-4zm0-1zm0 2zm-2-1zm-2-5zm4 1zm7 6zm0-6zm0-1zm8 5zm-2 1zm0-1zm-2-1zm2 6zm0-2zm2 1zm3 5zm-5-2zm-2 3zm-1 0zm-3 0zm1-3zm1 0zm-2-3zm-2-1zm1 14zm-1-1zm3 2zm1 0zm1-3zm-3-3zm2 0zm1 0zm1 1zm1 0zm6-2zm0 1zm-3 5zm-1 1zm0-2zm-2 4zm6 0zm-3 3zm2 3zm-3-2zm-3 0zm-10-1zm-6-1zm5-2zm2-2zm-1-3zm1-4zm-6 4zm-2 0zm0-4zm-3 3zm-3-2zm0 2zm-1 8zm4-2zm3 6zm-3 0zm-1-1zm-1-2zm-6 1zm2-3zm-12 1zm3-4zm-2-3zm1-1zm10 2zm-1-5zm2-1zm-7-6zm6-4zm-6-1zm-5-3zm-1 0zm0 8zm3 2zm-1 1zm-7-2zm-1-3zm2-7zm-5 0zm-8 8zm0 3zm2 5zm-2 7zm7-6zm3 11zm-18 2zm3-10zm-5-4zm-5 10zm5 3zm-11 0zm-4 0zm1 0zm-8-2zm3-4zm-3 0zm1-5zm9 1zm-3 1zm1 3zm2-2zm-3-8zm-1 1zm-2-5zm2 2zm1-6zm0 2zm10 3zm1 1zm-2 0zm4 2zm0-4zm10 6zm0-3zm0-11zm0-5zm-4 2zm-1-4zm-1-10zm2 5zm-2 1zm-20 7zm0 1zm-3 1zm4-6zm-5-2zm10-6zm-2 3zm4 0zm-11-15zm8-1zm6 9zm27-11zm1 1zm2 12zm-14 16zm5-3zm1 0zm6 0zm2-1zm1-4zm-1-2zm9-4zm-5 7zm3 7zm6-1zm3-37zm-5-2zm4-8zm-13-11zm1 0zm0 3zm5 4zm-9-5zm-7-2zm8 16zm-25-4zm-8 14zm-10 1zm1-23zm2 3zm3-6zm-8-6zm5-6zm-4-9zm1-2zm0-10zm5 2zm27-1zm0 15zm14-9zm30 40zm2 9zm12-9zm0-4zm-2-8zm4-3zm11 19zm-232 202zm5 10zm-195 3zm2-2zm7 1zm1-2zm13-8zm0 10zm-4 1zm-3-4zm-20 7zm1 3zm85-2zm9 6zm-15-15zm16 2zm11 0zm16-8zm-1-3zm-2 9zm2 0zm5 1zm-1 4zm-9-1zm-28 23zm49-7zm3-16zm-3-5zm-3 7zm-6-3zm5-7zm-4-4zm10 3zm18 9zm13-6zm-3 1zm-6 1zm23-15zm2-1zm4 1zm-7-5zm-6-1zm1 0zm2 10zm-7 1zm-10-5zm0-3zm-1-7zm12-4zm-9 3zm-6 0zm2-3zm0-5zm-1-3zm2-4zm3 2zm7-1zm1-1zm4 0zm-2 8zm1 0zm5 0zm4 6zm5-3zm0-7zm-2 0zm-3 2zm-2 1zm1-3zm3-2zm-1-9zm-1-1zm-1 2zm-3 3zm-2-1zm0 2zm-3-2zm0-3zm-1-1zm2 0zm1 0zm2 0zm1 2zm1 0zm0-2zm0-2zm-3-1zm-3-2zm-1 0zm5-3zm2 3zm1 1zm0 3zm6-3zm-2-3zm2-1zm1 0zm-7-6zm0-2zm2 1zm3 0zm-1 1zm1 1zm1-3zm1-4zm-3-4zm-2 5zm-1 1zm-5 0zm1-1zm-1 0zm1-5zm-1 0zm0 2zm-1 1zm-3-3zm1 3zm2 3zm-1 1zm-1-1zm-1 1zm0 2zm1 2zm2-3zm1 0zm2 1zm1 3zm-1 3zm-6 0zm-1 0zm-1-1zm-2 1zm-2-1zm0 1zm-2 0zm0-2zm3-2zm0-1zm-2 0zm-1-2zm5 1zm0 2zm1-3zm0-1zm-2-2zm2-1zm1 0zm-1-2zm-1-2zm-3 3zm-2 1zm0 1zm3 0zm-1 2zm-1 0zm-1-1zm-3 1zm0-1zm2-1zm-1-2zm0-1zm0-2zm-1 3zm-3-1zm1-2zm-1 1zm-1 2zm-1 8zm1 0zm2 0zm4-2zm-1 0zm-2 4zm3-1zm-2 3zm-5-2zm0 3zm3 3zm-3 1zm0 3zm2-1zm2 1zm2-1zm1 0zm0-2zm-3-2zm0-2zm6 3zm1-2zm2-1zm1 1zm-1 1zm0 5zm-2-3zm-2 1zm-1-1zm0 7zm5-2zm2 0zm0 1zm-3 2zm-4 1zm-2-3zm-2 1zm-1-1zm0-1zm-2-1zm-1 2zm3 2zm0 1zm-1 2zm-1-1zm-1 1zm-1 0zm0-1zm-1-3zm1-1zm0-1zm-1 0zm-1-1zm0 3zm-3-1zm-2 2zm2 3zm-4-1zm-2-2zm-3 3zm4-4zm1-3zm-3-2zm-1 0zm0-3zm3-2zm3-1zm0 3zm2 2zm2-1zm3 0zm-1-6zm-2-1zm-2 1zm-2-2zm2-3zm2 0zm1 1zm2-6zm0-1zm-2-3zm0 2zm-2 4zm-7 1zm1-1zm2-3zm-1 0zm-1-3zm-5 0zm1 2zm0 8zm2 1zm1-2zm2-1zm0 4zm0 1zm-5-1zm-4 1zm0-2zm1-1zm-1-5zm-7-2zm-1 9zm-4 2zm1 2zm-2 6zm2-1zm2 2zm5-5zm6 2zm-7 2zm3 4zm-1-2zm4 3zm-13-2zm4 10zm-1 0zm0 1zm0 1zm3-1zm-6 11zm3-6zm5-1zm1 0zm3 1zm-2-6zm1 0zm2-2zm8 1zm9-1zm-1 0zm-2 1zm2 5zm-3-3zm-1 6zm0-2zm-3 7zm-2-4zm-2 0zm-2 4zm2 2zm1 1zm5-1zm1-1zm2 7zm-2-1zm0 5zm2-3zm3 0zm-3 2zm-11 5zm-3-14zm-3 5zm-6-2zm-1-3zm-3-1zm2 11zm-9-2zm-3-5zm4-11zm4 2zm-1-6zm0-3zm1-1zm-13 6zm-4 5zm-6 3zm6-9zm-3 13zm-3 10zm-3 2zm-15-29zm6-20zm14 6zm9-2zm12-10zm-2 1zm-1 2zm-2 1zm4-5zm-6-13zm0-20zm7-10zm22-13zm-2-7zm1 11zm6-1zm2-2zm-4 9zm1 1zm4 5zm-3-1zm-9-4zm-2-4zm-2 1zm-6 16zm3 2zm5 4zm-6 2zm-9 9zm1 0zm5 5zm1-4zm1 0zm1 1zm4 5zm1-5zm-2-2zm-1-4zm9 1zm-3 7zm5 3zm0-3zm0-2zm5-1zm0 4zm2 1zm1 0zm1 1zm-1-3zm-2-3zm2 0zm0-2zm-1-2zm0 1zm0 1zm-2 0zm0-7zm2 1zm1 0zm-1-3zm0-6zm-3 5zm-1 2zm-6 0zm-2-3zm0-11zm14 6zm6-2zm1 2zm1-3zm-3-2zm3-2zm8 0zm0 3zm-3 2zm3-1zm-2 3zm-4-1zm-1 2zm0 3zm4-2zm2 2zm1 4zm-3 0zm-1 0zm-2 0zm-4-3zm2-1zm-1 0zm-4-2zm-1 5zm-1 1zm0 2zm3 0zm4 0zm0 1zm0 1zm-2 0zm-1 0zm1 1zm-2 3zm-1-3zm-1 0zm0 2zm1 2zm1 0zm-1 3zm-2 1zm4 0zm0 1zm1 2zm1-1zm0 1zm1-1zm-1-1zm-2-2zm0-1zm1-2zm4 0zm1 0zm1 2zm-2 5zm0-1zm2 0zm-1-2zm2 0zm0 1zm1 2zm1-2zm0-2zm1-6zm-2 0zm-1-1zm-1 3zm-1-1zm0-2zm0 1zm1-1zm0-1zm-2-3zm2 1zm2 0zm-1 1zm10-2zm1 1zm-2 1zm-1 1zm0 2zm1 2zm0-1zm-2 1zm0-2zm0-1zm-3 0zm0 3zm0 2zm1 0zm1 1zm1 1zm-2 0zm-1-1zm1 5zm2-1zm1-2zm2 2zm0-2zm0-2zm-1 1zm-1 0zm3-3zm4 0zm-1 2zm1 0zm0 1zm-1 4zm1-1zm-1-2zm2 0zm0 3zm2-2zm-1-4zm-1-1zm1 0zm1-1zm1-3zm-2 3zm-4-1zm-1-1zm0-1zm1 0zm1 0zm1 1zm0-1zm0-1zm-1 0zm-1 0zm-1-1zm1 0zm2-2zm3 3zm1-3zm0-2zm-1 0zm-2 0zm3-6zm-4 0zm-2 1zm-1-1zm0 2zm0 2zm0 1zm1 0zm0-1zm1 0zm1 0zm0 1zm-1 0zm1 1zm-2 1zm-1 0zm-1 0zm-1 0zm1-1zm-1-2zm-2 2zm1 0zm0 1zm-2-1zm-2-1zm2-1zm-2-2zm0-2zm2 0zm2 1zm0 2zm1-2zm-1-5zm-2 1zm-1-2zm3 0zm1 0zm5-2zm-1 0zm0 6zm1-2zm-1-1zm1 0zm1 1zm2 2zm0-2zm1-3zm-3 0zm1-1zm0-1zm-3-2zm-1-4zm2-2zm2 1zm2 0zm0-2zm-2 0zm-1-3zm0-4zm-2 1zm-2-1zm3 5zm-1 0zm-3 1zm-3 0zm0-2zm2 0zm1 1zm-1-2zm0-1zm0-1zm-3 1zm-3 5zm1 1zm0 3zm5-3zm0 3zm-2 2zm3 0zm0 1zm-2 1zm-3 0zm1-3zm-2 0zm-3-2zm-1-1zm-5 2zm-3-3zm0 2zm0-6zm-5 2zm8-10zm3 3zm-11-3zm2-8zm3-3zm4 3zm0 2zm4-5zm8-1zm-1 4zm-1 0zm-1 0zm1 5zm-1 4zm2 2zm2-3zm0-4zm4 2zm3 4zm0-5zm1 0zm-3-3zm3-11zm-1 0zm-3-2zm-10 5zm10-8zm5-3zm-13-4zm-10-9zm19-13zm0 2zm-29-73z" stroke="#00ee00"/>
<path d="M441 506zm3-11zm25-43zm5 3zm-2 1zm5 12zm1 1zm-19 14zm4 4zm-3 7zm-11 2zm3 15zm10-15zm9 8zm-4-17zm9-2zm14 0zm-8 5zm4 7zm0 3zm0 1zm-6 8zm13-35zm-6 3zm-5-27zm28-12zm-5-21zm-4 9zm-6 11zm-23 6zm6-2zm33-39zm133-85zm-3 6zm0 6zm-1 0zm-13 35zm-13-1zm-12 12zm5-22zm-10-11zm2-2zm-20 7zm5-6zm5-4zm-2-13zm9-1zm5 11zm0-11zm1-2zm9 3zm3 4zm-4 6zm25-22zm-21 2zm-1-10zm5 7zm9-13zm-16-15zm-17 5zm5 17zm4 14zm-29-15zm-2 24zm-1 20zm-13 1zm-1 4zm9 6zm5-5zm-2 23zm-27 4zm-8-3zm-18 10zm4 10zm4-2zm14 9zm-13 2zm-2-3zm-4-4zm5 45zm-1-10zm16-9zm4-5zm13-9zm-2 2zm-9-14zm8 7zm14-18zm-6 5zm26-2zm-1 11zm15-18zm-79 66zm-42 72zm-8 11zm3-1zm4-11zm-4-9zm-16 13zm-3-6zm4-5zm-7 20zm2-2zm3-1zm0 4zm-4 4zm-4 6zm-21 8zm-11-5zm19 3zm6 7zm-5-25zm4-12zm-3-1zm-13 1zm-5-3zm2-5zm-4 5zm-1 5zm-1 0zm6 11zm0-5zm7 4zm-3 3zm-5-1zm-3 2zm-1 5zm-8-4zm-8-15zm-18 17zm-13 3zm1-13zm-17 9z" stroke="#000090"/>
<path d="M465 503zm12 6zm-9-24zm2-3zm12 2zm7-1zm1 14zm21-1zm-5-14zm3 5zm0-7zm1-8zm1-1zm-31-1zm3-22zm-2-20zm159 73zm-32-137zm-23 10zm6 1zm8-13zm3 5zm-1-21zm1-10zm-6-2zm7 1zm20-13zm-12 19zm11 4zm6-14zm3-10zm8-12zm-10 2zm-11 8zm-7-14zm7-5zm-9-14zm-27 6zm10 15zm11 8zm-34-10zm-11 51zm-40 30zm13 17zm-18 20zm24 23zm3-11zm-1-5zm9-7zm0 24zm5-3zm3-7zm12-4zm-9-40zm20 0zm9 14zm12 1zm-3-16zm15 2zm11 8zm2 39zm-24-8zm-1-7zm-1-2zm-13 21zm-3-4zm-5 1zm-2-2zm10 15zm-8 6zm5 18zm8-5zm-7-10zm17-1zm34-5zm-26 9zm20 42zm-26 1zm-3-10zm-23-2zm14 6zm-18-3zm-15 9zm1-4zm-4 4zm-6-13zm5 3zm1-12zm0 6zm-2 1zm-7-2zm7-13zm3 4zm10 4zm9-5zm-4-24zm-8-1zm-11-6zm-4 14zm6 0zm-10 9zm-13-11zm6 4zm5-11zm-10-2zm-2 0zm8 30zm-10 5zm8 20zm-10-12zm-4-2zm-5 7zm2-6zm-3 2zm-4 5zm3 21zm27-9zm-5 11zm-4-6zm-1 10zm-9-2zm-9 8zm5 8zm2 12zm-4 9zm26-2zm-6-14zm9-1zm10-2zm3 5zm-2 6zm0 8zm17-17zm-16-11zm-3 2zm-5-5zm39-11zm-12-4zm7 23zm13-28zm9 0zm7 23zm5 18zm3-3zm9-1zm-24 14zm-9-12zm-13-4zm-7 5zm13 12zm32 11zm105 15zm-7-5zm-11 8zm-58-6zm-7-14zm18 3zm18-1zm0 11zm-1 0zm0 10zm15-18zm3-24zm-18-8zm-21 15zm3 7zm-17-28zm10-18zm-7 1zm-5-7zm1-2zm38 24zm1-1zm-194 13zm-4-1zm19-6zm-7 4zm10-14zm-3 0zm-1-4zm-9-5zm0-9zm0-6zm-9 24zm-16-23zm-36 12zm-14 10zm12 5zm-30 1zm5-10zm7 27z" stroke="#00e6f0"/>
<path d="M469 457zm7 18zm-24 25zm8 7zm-2-11zm10 15zm23-7zm2 1zm18-1zm-7-1zm2-7zm1 1zm-19-22zm8-18zm2-41zm-8 9zm-4-3zm8 10zm0 2zm-2 8zm-13-13zm205 61zm-7 5zm-11 6zm-26 7zm1-14zm3-14zm14 2zm0 10zm11-5zm-6-15zm-15-3zm7-1zm-4-15zm1-3zm4 4zm2 2zm7 6zm4 0zm3-15zm-48-83zm-11-6zm-3 11zm2 0zm8 3zm-18 7zm5-11zm-3 3zm-10-2zm-2-1zm2 4zm0 4zm-10 3zm-1 2zm-7-5zm5-1zm-5-7zm11 7zm3-6zm1-2zm-9-5zm9-3zm-3-6zm11 10zm-2 0zm3 1zm3-12zm3-2zm-3 1zm4-8zm-6-7zm0 7zm0-1zm-3 0zm-1 1zm-2 6zm-4-3zm-12-11zm14-6zm5 4zm3-8zm-1-3zm7-2zm2 3zm4 2zm2-4zm3 2zm1 4zm-2 2zm-2 2zm-5 4zm1 4zm3-3zm-4 7zm1 1zm-3 4zm5-2zm-1-1zm7-1zm4 3zm-6-10zm4 2zm8-14zm-5-4zm12-13zm-1-1zm-11 8zm3-1zm0 3zm-5-1zm-5 2zm5-10zm-3-8zm19-6zm-6-3zm-37-8zm10 7zm0 15zm-31 26zm-24 17zm24 33zm-1 1zm-6 0zm-3-2zm-21-1zm-11 1zm-2-11zm5 19zm-4 25zm-17-1zm4 31zm10-9zm12-6zm-4-1zm13 0zm-2 2zm3 4zm1 4zm-7 7zm1 1zm6 1zm-2-5zm8 2zm-2-5zm15 4zm2-6zm3-3zm-7-5zm-8-6zm3-1zm7-5zm5 5zm-1-1zm-6-5zm1-2zm-9-12zm2 6zm-3 3zm7-22zm9 3zm-6-7zm13 3zm6-2zm3 4zm-15 10zm1 8zm14 8zm2-6zm12-15zm20 6zm0 11zm-17 20zm31-15zm-2 14zm-5 5zm2 10zm-29-7zm-3-17zm-14-4zm-12 4zm2 6zm6 5zm1 4zm1 6zm3-2zm1 0zm-8 4zm8 6zm-1 7zm-3 6zm-10-5zm2 4zm2 8zm0 3zm4 0zm1-4zm10-21zm5 2zm6 2zm9 3zm4 6zm17 9zm3 6zm-30 18zm-6 17zm-17-16zm5-14zm-3-1zm-5 29zm-13-11zm0-1zm-8 12zm-3 2zm-2 0zm-13-12zm1-1zm-1-6zm7-11zm6 1zm11-18zm2-3zm-2-10zm3 2zm-9 0zm-1 2zm0 4zm-2-8zm-6 18zm-10 8zm-3-3zm-5-10zm2-8zm6-5zm-19 2zm-10-4zm0 22zm7 2zm-6 0zm-2 9zm3 3zm-2 6zm8-6zm17-1zm3 16zm-23 3zm-7-7zm4 20zm1 6zm10-5zm3 0zm11-1zm2 1zm-15 14zm-5 8zm-6 3zm5 13zm4-1zm-2 0zm0 20zm0-7zm4 7zm11 1zm-2-14zm3-7zm-7-10zm14 6zm9-3zm13 9zm-5-5zm4-4zm6-7zm-5-8zm-14-1zm4-17zm3 2zm13 5zm7 11zm-5 5zm7 4zm6-6zm17-1zm-6-2zm7-18zm11 8zm4-9zm12 2zm-3 7zm6 15zm0 4zm-7-1zm-10-6zm-2-1zm-9 13zm14 0zm1 15zm-6 5zm-1 1zm-13-2zm-1-2zm-11-12zm5 8zm-16 8zm9 18zm-5 6zm23-2zm5-5zm22-3zm-21 12zm16 26zm-5 9zm6 6zm6 3zm0 1zm-11-4zm-8-9zm-26 9zm3-13zm-17-1zm-2 1zm13 14zm-1 3zm-39-16zm-6-3zm7-9zm10 4zm12-6zm-13-16zm10 4zm-11-5zm-7-6zm1-7zm-1 1zm1 2zm-7-3zm-1 0zm2 13zm-2-3zm7 10zm1 3zm-8 0zm1 3zm-6-1zm-2-1zm0-2zm-10 6zm0-2zm2-2zm-2-4zm2-6zm3 2zm1-1zm2 6zm2 0zm3-1zm-1-4zm0-6zm1 3zm-3-3zm5-10zm-7-1zm2 5zm-1 1zm-6-2zm1 5zm-1 4zm-1-2zm-2 2zm-1-1zm-1 0zm-1 0zm-4-1zm6-4zm-3-2zm2-4zm-1 0zm-4 2zm2 1zm-8 0zm-3 4zm7-1zm-3 3zm3 3zm-6 2zm0 2zm1 3zm5-3zm3 0zm0 1zm5 0zm-2-1zm1 2zm-1 3zm-1-1zm-4-2zm1 6zm3 3zm-2 0zm-9-5zm1 12zm10 4zm3-3zm0-2zm8-2zm0-1zm7 12zm-13 7zm-16 12zm2 21zm-1 1zm6 8zm17-8zm-6-18zm6-1zm18 12zm13-14zm6 4zm-10 12zm-14 1zm-5 13zm10 5zm-19 7zm-11 5zm2-15zm-3 0zm-10 22zm0 2zm-2 9zm25 9zm-5 4zm54-26zm-10-46zm25-3zm21-3zm1 12zm35-9zm12 1zm21 4zm59-67zm-10 8zm2 1zm-9-12zm-4-1zm-2 1zm-4 3zm-1 5zm-15 37zm-17 2zm12-16zm-7 1zm-3 11zm-3 1zm-11-14zm4 22zm-12 6zm-29-28zm13 0zm6 11zm-12-19zm4-4zm-11-15zm11 1zm3-1zm12 10zm-1-11zm0 1zm18 4zm-12 4zm11 7zm1-4zm5 0zm13 7zm-7-23zm4 5zm4-4zm-2-3zm-12 0zm4-7zm-4 0zm9-11zm1-4zm-6 1zm1-1zm0 7zm-10-1zm-3 1zm1-2zm5-3zm-5-10zm-3 4zm1 19zm6 6zm-1 1zm-12 0zm-9 1zm-4-8zm0 1zm-4 7zm-4-3zm-4 2zm-3-9zm-5-3zm8 3zm5-9zm-4-8zm5 3zm5-4zm1 4zm5 1zm3-13zm1-1zm-4-3zm-25 1zm10-1zm0-9zm10 1zm3-3zm18-5zm-3 6zm-1 12zm12-7zm9 8zm-2 4zm19-10zm-10 9zm3 6zm11 1zm-2 9zm-13 1zm4 4zm2 2zm-3 10zm11-1zm-1-3zm1-1zm0-8zm2 1zm6 1zm-2 3zm-3 1zm2 3zm-3 5zm4-2zm3-3zm-2 0zm4-2zm1 2zm-2 5zm4-3zm3-1zm-1 0zm1-7zm-3 2zm0 1zm-1-1zm-3-1zm3-3zm2-5zm1-1zm-9 3zm-5-1zm3-3zm-3-5zm14 1zm11 8zm-6-3zm-3 3zm1 4zm4 1zm1 0zm1 1zm-1 0zm-3 0zm-2 0zm0-1zm-1 6zm5 2zm0 1zm-1-3zm1 0zm0-2zm7 4zm2 1zm-6-8zm-427 242zm-8-9zm9-3zm9-13zm4-2zm3-6zm5-3zm-1 3zm3-1zm5-2zm1 4zm-6 7zm-1-3zm-2-3zm-2 0zm1 6zm0 4zm0 3zm-1 0zm-3-5zm0 2zm-3-1zm-2 1zm-3-1zm0-1zm-2 2zm88 13zm10-29zm65-18zm18-20zm-2-7zm5-6zm-10-15zm-17 3zm12 26zm-32 7zm-46-9zm-15-29zm75-22zm5-6zm26 21zm4-17zm-10-15zm10-36zm2-14zm-26 12zm-31-40zm-1-3zm57 5zm-3-3zm-7 7zm11-30zm-26-15zm18 9zm8-17zm-14-10zm-6-2zm3-3zm-11-5zm5 11zm-41 44zm-3-3zm0-21zm-33-16zm18 45zm-49-32zm-7 204zm-26 14zm-4-18z" stroke="#686868"/>
<path d="M430 504zm48-5zm12-4zm3 7zm5-1zm6 6zm0-9zm4-2zm3-7zm-7 4zm3 0zm-4-1zm-4 2zm0-13zm8-3zm2-7zm-3-6zm-5 2zm3-7zm-13-21zm198 67zm-5-24zm-11 7zm1 0zm3 3zm-2 0zm-1 10zm1-1zm3-2zm8 2zm-12 6zm1 4zm-5-3zm1-9zm-6-3zm-1 3zm-7-1zm2 3zm2 8zm2 0zm-23 1zm3-3zm1-3zm2-8zm8 6zm0-2zm-2-11zm-4 3zm-4 0zm3-12zm2 2zm0 3zm9-2zm1-3zm1 6zm-3 8zm6-5zm5 3zm3-6zm-4 0zm-3-1zm1-1zm1-3zm2 2zm3-1zm0-1zm-1-4zm-3 1zm-3-1zm7-4zm-1-2zm-2-1zm3-3zm0-1zm-2-1zm0-1zm-3 2zm-2-2zm-3 2zm-4 0zm0 4zm-1 2zm1 1zm4 5zm-19-2zm0 1zm0-3zm0 1zm-1-3zm4 3zm1-7zm-4-3zm8 4zm5-3zm-1 0zm-2 0zm-2-7zm-6 1zm-3 0zm5-6zm-5-1zm7-5zm3 2zm-2 1zm-1 4zm6 0zm9-6zm-1 6zm-2-1zm-4 3zm2 2zm3-1zm1-1zm6 5zm0-4zm2-2zm-4-7zm8 0zm11 11zm-13 10zm0 2zm1 1zm2 0zm0 3zm2 3zm4-3zm-6-44zm2 6zm-8 6zm-4-3zm0-8zm-3 0zm-6 5zm1 2zm5 7zm-3-3zm-2 3zm-2-1zm-1 0zm0-6zm-5 6zm-9-2zm4-7zm9-5zm2-1zm-14-4zm6-9zm24 6zm-57-70zm-6 14zm-13 1zm-2 6zm1 5zm-3 1zm-13-8zm4-4zm7-1zm0-4zm-9-9zm23 7zm2 0zm1-1zm-3-2zm-2-2zm15-31zm-8 6zm0 4zm4 4zm21 11zm-5-35zm-7 1zm1-2zm-34-23zm6-2zm-35 39zm16 48zm-4 5zm-37 22zm-20 14zm0 26zm45-23zm11 26zm3-4zm-2-10zm0-8zm-3 6zm-2-11zm-6 2zm12-12zm-8 0zm-18-9zm9 3zm-3-11zm13-6zm8 4zm-3-2zm8 22zm54 19zm-5 5zm4 4zm5 0zm-1-1zm-1 2zm-4 2zm-13 2zm-6-12zm-13 8zm0-6zm5-4zm-19 8zm-8 7zm0 3zm11 6zm-4 4zm-7 9zm4 12zm4-4zm2 4zm11-3zm27-25zm0 2zm7-3zm7-1zm-2 2zm0 2zm-1-1zm-1 1zm3 10zm-10-4zm0 11zm1-5zm-16 29zm17-14zm-4 20zm7-2zm3 7zm-13 2zm-4-5zm-3 0zm-2-4zm0 6zm-12 3zm-7-1zm4-7zm7-4zm-5-6zm1-2zm-16 4zm3 0zm-1-11zm-10 2zm1 10zm-1 0zm0 11zm12-1zm2 2zm-11 0zm-2 5zm-3 1zm0-2zm-5-4zm-2-3zm-8-5zm2 4zm4 5zm-1 6zm-18-4zm8-4zm3-5zm-6-4zm-3-2zm-4-7zm4-4zm1 0zm2 6zm12 7zm2-6zm5 6zm3-5zm-3-7zm-6-3zm0-5zm-3-22zm0 11zm-10 6zm3 5zm1 3zm2-1zm-13 1zm-6-2zm-3 0zm-1 3zm0-5zm0-4zm-5-2zm4-3zm6 1zm-2-3zm5-12zm-23 5zm-7 8zm-1 17zm5 4zm4 5zm2-1zm0 1zm3-4zm8-4zm3 1zm5-2zm-10 14zm9 13zm0 4zm-6-7zm-11 3zm2-1zm1-1zm-3-9zm-8 9zm-3 16zm1 1zm7-3zm18 2zm-11 6zm3 3zm6 4zm-1 4zm-13 3zm-3-3zm-5-2zm1 4zm20 22zm6 1zm-7-4zm-5-10zm8-3zm12 5zm4-6zm1-1zm-2 8zm-2 1zm-5-1zm10 19zm0-6zm-2 1zm-1 0zm12 0zm6 2zm-2-1zm-5-10zm-4 0zm5-8zm-4-4zm11 4zm-2-6zm0-15zm-1 4zm-10 4zm-10-1zm5 0zm0-2zm5-6zm-8-3zm-2-7zm-3-3zm7 1zm2 1zm13 0zm4-2zm18 5zm-3 3zm-5 1zm-6 0zm0 14zm4 5zm9-2zm10-6zm5 7zm2-5zm-2-2zm2-6zm-2-5zm-12 4zm11-12zm-3 4zm8-4zm7 0zm-5 7zm8 4zm1 1zm0-1zm1-2zm0 2zm0-3zm1-7zm-1 3zm16-7zm-2 10zm5 5zm-7 0zm-2-2zm-3-5zm-2 0zm0 7zm6 8zm-3-6zm2-1zm3 3zm2 0zm0-1zm1 0zm-7 11zm0-3zm-9 3zm0 1zm1 1zm-5-2zm4-2zm2-10zm-9-1zm-2 4zm-3 15zm3 6zm-1 0zm5 1zm-2-1zm6 1zm-1 3zm1-11zm2-2zm6 3zm-3 0zm12-2zm2 6zm-4-1zm4 2zm-1 4zm-4 3zm-4 0zm1-5zm-6-1zm0 6zm1 1zm0 3zm-1 3zm11-3zm1 7zm0 5zm-10-5zm-2-1zm0 3zm-6-3zm4 2zm1-5zm0-4zm-3-2zm-3 7zm-16 1zm2 4zm-11 0zm3-12zm10 7zm2-22zm-3 1zm-3 3zm-13 6zm-8-7zm-1-2zm4 27zm-1-5zm9 16zm-8 4zm10 9zm1-15zm26-6zm7 3zm10 1zm-4 0zm3 6zm-6 18zm-14-3zm-2 21zm12 8zm-9-4zm-30-15zm-8 16zm10 1zm-34-14zm8-4zm7 4zm-23-38zm-31 32zm3 10zm21 17zm-18 35zm28-29zm19 28zm-12 2zm-3 4zm-26 22zm3-4zm2-2zm-12-4zm4-7zm-1 36zm-4-7zm0 22zm72-61zm-3-6zm6-19zm-3-1zm0 4zm55 6zm-4-5zm26-4zm81-10zm4-43zm4 1zm2-15zm-7 1zm4 12zm-10-4zm-2 0zm5-5zm-1-1zm2-4zm0-1zm-4 4zm-4-2zm-6 14zm1 1zm3 4zm10-3zm-19 7zm-3 3zm-7-1zm4-2zm-1-5zm-4 1zm0-1zm0-3zm7 3zm6 1zm-2-2zm3-2zm-7-3zm1-5zm3-1zm3 3zm-3-7zm-1-1zm-3 0zm-2 4zm0-4zm-3 2zm-2 2zm4 8zm-3-3zm-2 2zm-1-2zm-3 0zm3-4zm-1-3zm1-3zm-6-2zm0 2zm2 3zm-2 1zm-4-2zm-1 7zm-4 6zm10 4zm-1 2zm3 2zm-7 22zm-12-10zm-38 11zm-1 8zm-16 1zm4-25zm22-13zm-7 1zm-14-4zm7-2zm0 1zm-3-2zm-6 2zm2-11zm-4 2zm1-3zm8 3zm0-3zm4-3zm1 0zm2 1zm-3 4zm0 3zm1 0zm6 7zm-3-5zm1-2zm5 7zm0-2zm4-4zm-4-2zm1-3zm-2-4zm6 3zm0-2zm3 2zm-2 4zm2-3zm4 3zm-2-5zm5 0zm3 3zm0 2zm-1-2zm-2 4zm6 0zm-6 6zm-5-6zm-4 3zm2 1zm1 5zm1 2zm-1 2zm-1-2zm10 4zm10-5zm-1 3zm-3 1zm9-5zm1 1zm-3-4zm-5-2zm0-2zm2-7zm-5 1zm2-2zm4-2zm1 1zm-8-5zm1-1zm3-1zm0-7zm-4 0zm10-1zm-1 2zm6 2zm-5-9zm4-6zm-1-4zm1-2zm-6 2zm1 2zm-6-4zm0 4zm-3 1zm5 4zm-2 2zm-9 1zm3-4zm-3-8zm-2 0zm-1 4zm-7-6zm1 2zm1 2zm2 9zm1 0zm1 2zm-4-3zm-1 1zm0 9zm2-2zm1 2zm3-1zm-1-3zm4 6zm2 3zm2 3zm-4-2zm-8-1zm-3 3zm-6-2zm2-1zm-2-8zm-4 1zm-4 4zm5 0zm-3 5zm0-1zm-9-1zm1-3zm-9 7zm-1 0zm0-1zm8-14zm4-1zm2-7zm-4 3zm-1-1zm1 4zm-5 0zm-3-1zm1-2zm-2-6zm7-5zm2 3zm-1 2zm3-3zm0-1zm6 4zm-3 10zm1-1zm2-2zm6-2zm-1 1zm6 2zm-1-8zm-2-1zm-3-1zm4-1zm0-8zm3-5zm-2-2zm-13-1zm2 7zm5 1zm-3 0zm-8 2zm0-4zm-1 0zm-3 4zm1 1zm2 1zm-7 0zm2-4zm-5-3zm4-6zm10 2zm0-1zm-9-4zm-2-1zm0 2zm-1-2zm0-5zm3 1zm-5-6zm5-1zm6 1zm5 0zm-1 6zm13 3zm2-7zm-3 0zm7-4zm-1 6zm5-2zm-2-5zm2 0zm1 1zm2 9zm0 4zm-5-1zm0-4zm-1 10zm1 3zm-4 6zm6-4zm4 6zm3-1zm0-3zm-6-8zm4 0zm11 3zm-6 3zm-1 7zm3-2zm1-1zm1 1zm1-1zm7 0zm2-4zm-5-15zm1 6zm25 8zm7 4zm4 1zm-13 1zm-3 2zm0-1zm-7 0zm-4-12zm-3 3zm1 6zm5 1zm-7 3zm5 2zm5 1zm2 4zm-4 1zm3 3zm-1-2zm2 0zm1 1zm2 5zm-12-4zm-3 9zm2 0zm1-1zm4-1zm-1 6zm-6 0zm2 4zm3 4zm1-1zm1-1zm-3-3zm1-1zm10 1zm-2 1zm2-6zm-3 2zm-4-1zm15-5zm0 5zm-6 3zm4 5zm-1-4zm9 2zm-1-4zm2-4zm-5-2zm5-8zm-1-2zm-5 2zm-1 4zm-4 0zm0-4zm-1 0zm-1-4zm1-1zm-1-4zm10 4zm6-4zm-1 6zm6-6zm5 9zm-2 4zm-4-1zm-2-3zm0 5zm-2 1zm0 3zm5-2zm-5 4zm1 3zm4 3zm-1 0zm5-2zm1 2zm-3-1zm5 3zm0 2zm2-6zm0-4zm6 8zm1 2zm-5-16zm-1-5zm-490 330zm-4-8zm245-112zm-12-50zm-1-7zm-17 10zm-2-8zm-5 2zm-6 40zm-72-36zm0-6zm-2-1zm58 24zm31-47zm7-13zm7 21zm18-19zm-3 0zm-32-79zm-10-16zm33-15zm-15-20zm20 1zm3 3zm-7 0zm1 9zm1-1zm3-3zm9-2zm-13-22zm14 5zm-1-5zm0-4zm-5-1zm1-10zm-10 6zm4 1zm1 4zm-8-1zm2-11zm-4 0zm-1 26zm-34-4zm-38-12zm-9 1z" stroke="#f5f500"/>
<path d="M474 451zm-4 24zm-5 20zm0-2zm6-5zm13-1zm7-4zm0-2zm4 4zm-7 10zm-4-5zm-1 17zm6-1zm0 5zm2-3zm4-6zm0-1zm-6-3zm6 1zm1-2zm0 1zm6-2zm1 1zm0 3zm-7 5zm2-1zm2 7zm1-4zm0-2zm5 0zm0 4zm3 2zm1-5zm-2 0zm-2-6zm5-3zm-2-5zm-3 2zm-8 1zm-2-1zm7-9zm-6 2zm8-4zm0-4zm4-7zm-1 3zm0-6zm3 0zm-7-1zm3 2zm-5 1zm0-5zm-3 5zm-1 8zm-16-3zm2-6zm6 1zm4 0zm4-15zm-21-15zm169 70zm3-58zm-20-74zm5-16zm-13-7zm-10 3zm-10 22zm-1-1zm-2-1zm0 2zm-12-4zm4-2zm6-18zm7 8zm1-6zm1-17zm-2-4zm-5-11zm24-3zm-3 16zm7 7zm6-14zm-17-14zm-6-2zm14-10zm6-9zm3-11zm-36 5zm-28 42zm6 44zm-13 5zm-29-3zm-10 19zm5 47zm2-1zm14 1zm-1-6zm-1-2zm-2 0zm17-12zm-12 7zm1 1zm4-2zm-1 4zm2 2zm-1 0zm-5-1zm2 10zm12-4zm8-11zm0 3zm-2 3zm-2 5zm4-2zm7 5zm1 0zm1 1zm-3-11zm0-1zm-5-10zm-7-8zm11 4zm-15-7zm-6 1zm4-10zm4-9zm-14-8zm3-3zm15-1zm-2 8zm10-7zm9 0zm-1 2zm5-3zm8 4zm-2 11zm-7 0zm-6 2zm5 0zm-4 11zm3-1zm3-2zm4-5zm11-4zm1 11zm-1 0zm0-3zm9-8zm-3-15zm2-1zm6 12zm4 3zm4-5zm4 4zm6 2zm-6 11zm3 1zm-11 1zm1-3zm17 32zm-6-1zm-7-6zm-6 4zm-7-2zm2 1zm-4 9zm-3-7zm-10 4zm4-1zm-5-5zm3-2zm0-4zm11-2zm-2 0zm2-6zm-2-8zm-8 7zm-3-3zm6 10zm-4-2zm-4 2zm-3-2zm-1 3zm1-10zm-3-4zm-6 2zm2 7zm0 3zm1-1zm-4 4zm-1 2zm2 3zm2 1zm-1-3zm7-1zm4 5zm-3 0zm-8 1zm-3 1zm3 10zm1-1zm6 2zm2 10zm-4 1zm-5-2zm2-2zm1-3zm-3 1zm-1 3zm2 9zm-3 3zm0 6zm2 1zm4-6zm3 5zm3-7zm1-1zm-2-2zm-5 0zm7-4zm7 2zm-1 4zm-4-2zm14 8zm-7-9zm5-1zm-4-8zm-8 2zm0-1zm0-1zm4-9zm1 0zm4 0zm-2 5zm23 2zm9-2zm-4 9zm-1-5zm-8 33zm1 1zm-1-7zm18 16zm-14 7zm-3-1zm1 0zm2-3zm-16 4zm-4-4zm-2 7zm-6 0zm-3-5zm5-4zm5-5zm-1-2zm-1-15zm2 4zm-8-2zm-1 3zm-6-4zm-4 0zm-5-1zm-2 3zm0 14zm15 11zm-8 2zm-5 0zm-7 1zm-2-2zm5-3zm-5-9zm-5 9zm1 4zm-12-2zm-7-1zm0-10zm9 2zm-2 0zm5-4zm-8-2zm-4 1zm-2-12zm1-1zm6-1zm4 3zm-1 0zm5-1zm6-2zm2 0zm0 5zm8 10zm-1-6zm-6-5zm7-1zm-1-3zm-4-5zm-3 2zm-2 1zm-2 0zm-1-2zm0-2zm-1-1zm4-2zm-5-7zm5 2zm5 5zm2-9zm2-9zm-1-4zm-2 1zm-8 11zm-6 1zm-2 0zm0-5zm0-1zm1 1zm0-4zm0-1zm3-4zm-7 2zm-4 2zm3 1zm0-1zm-1-2zm-3 5zm-3 2zm6 10zm-2-3zm2 1zm2 1zm1 1zm5 2zm1 1zm-5 1zm3 4zm-7-1zm-2-1zm-4 0zm0 1zm2 2zm-6-1zm-12-10zm10 2zm4 2zm-2-7zm-1-2zm1-2zm2-10zm-1 0zm-8 7zm-2-3zm-3 4zm1 0zm-1 2zm3-2zm3 0zm1 4zm-5 2zm0-2zm-1 1zm-2 1zm0-2zm-5 0zm-1-4zm3 2zm3 0zm-3-10zm1 3zm-13 7zm7 4zm-4 7zm12-4zm-3 5zm-4 8zm-1 0zm-6 3zm-1 1zm2 4zm1 5zm-3 2zm7 2zm1-3zm0 1zm0 1zm5-9zm6 2zm5-5zm3 0zm-2 3zm4 5zm-3 4zm-2-1zm-5 1zm-2 8zm4-6zm8 2zm1 2zm-5 5zm6 6zm-10-4zm-1 0zm-4-3zm0 4zm-6-1zm5-4zm-1-4zm1-1zm-6 2zm-3 2zm-3-3zm-3 5zm0 3zm2 0zm-2 1zm1 6zm6-1zm7 8zm-2-5zm-1 3zm11-4zm3-1zm2 9zm4 4zm-15 7zm2-1zm3 0zm2-4zm6 4zm1-1zm-2 3zm-1 0zm2 7zm-13-2zm2 0zm-9-2zm6-9zm-11 5zm2-2zm1 1zm-4-5zm-3 5zm1 6zm1 11zm1-1zm4 1zm0-1zm0-4zm3 0zm4 0zm-4 3zm-6 11zm3-3zm-1-2zm1-2zm-4 3zm15 8zm6 5zm0-4zm2-7zm-7 2zm-2-6zm5-5zm-1 0zm-4-3zm4-1zm18 5zm8-5zm-4 6zm-3 5zm2 1zm-6 1zm3 0zm0-1zm-3-1zm2 5zm-1 9zm5-4zm1 0zm0-1zm1-4zm5 8zm3 0zm4 6zm5-5zm2 0zm-4-3zm-2-2zm-7-8zm2-6zm3-3zm-1-2zm5-3zm2-5zm1 2zm-2-4zm-12-2zm3 6zm3 0zm-2-1zm0 1zm-1 4zm-8-5zm-6 3zm-1-2zm2-3zm-6-1zm8-3zm5-4zm2-1zm-3-7zm0 3zm-4 2zm1 0zm-4 2zm-5 0zm0-2zm6-2zm1-5zm-7-2zm1 0zm7-1zm7 0zm0-2zm3 2zm1-1zm1 0zm1 10zm5-4zm1 1zm1 4zm5-10zm-1-1zm1 5zm10 3zm2 0zm-4 3zm1 12zm0-9zm7 8zm2 1zm-1 2zm9-8zm4-2zm0-8zm-12 5zm-1-1zm-2-4zm2-7zm5 0zm1 1zm1 3zm4 1zm6-1zm-3 4zm2 5zm8-13zm6-2zm3 0zm11 3zm-2 5zm3 7zm-3-1zm-3-2zm-8-4zm11 23zm-2 0zm-1 0zm-2-1zm-2 1zm-4-6zm-1 0zm-5 1zm1-4zm-12-3zm6 16zm-1 4zm-5 1zm5 7zm3-8zm1-4zm9 2zm3-5zm5 3zm3 2zm-3-1zm-1 6zm3-1zm1 2zm-6-1zm-4 0zm-2 10zm4 1zm-1 1zm4 8zm-16 1zm0-6zm2-6zm-1 3zm-6-1zm-1 0zm-1 1zm6 9zm-6-3zm-8-3zm1 5zm-5-10zm5 3zm-1-8zm-1 0zm7-13zm-5 0zm0 2zm-9-1zm5 9zm-5 1zm-5 1zm-1-2zm4-3zm-4-8zm-10 6zm1 8zm1 3zm0 4zm1-4zm11 0zm-6 2zm-4 6zm0 1zm-2 6zm24 22zm-11-13zm1-5zm2-4zm3 1zm7-2zm3 1zm6 5zm3 5zm3-7zm1 3zm6-7zm11 1zm-1 14zm-22 1zm12 33zm-1 5zm-52-54zm-38 7zm-5 39zm74 23zm32-1zm117-62zm-1 3zm5 1zm-13 4zm5-12zm-2 1zm-6-1zm-4 13zm5 7zm5-4zm-3 3zm0-1zm-1 1zm-12 3zm-3 0zm-5-2zm-3 1zm8-7zm6 2zm-1-2zm-5-5zm-1-3zm6-2zm0-1zm1 0zm-1-4zm-3 4zm-1 2zm-5 0zm1-4zm1-1zm-5 0zm2 9zm-5-4zm-14-6zm-1 7zm7 0zm-1 2zm0 1zm-1 2zm1 0zm-1 8zm2-1zm-2-3zm6-1zm-1 4zm-1 1zm-36 26zm-21 7zm4-16zm9-19zm-14 11zm-2-18zm-8-11zm4 4zm5 0zm1-3zm7-2zm1 6zm-5 4zm0 1zm-1 4zm4 0zm6-4zm8-5zm8-3zm4-1zm-5 9zm3-3zm2 1zm-13 17zm17-1zm10-3zm-5-1zm2 0zm0-4zm-1-3zm-5-9zm4-1zm7-1zm0-10zm-4 2zm-11 1zm7-2zm-7-9zm0-1zm4 3zm2-2zm7 2zm-1-4zm-3-1zm-5-8zm3-3zm-1-3zm-6 6zm5 5zm-9 4zm-4 0zm2-5zm1-1zm-1-6zm-2 4zm-4-5zm-2 5zm2 8zm-2 3zm0 2zm6-4zm1 1zm-1 2zm4 2zm2 4zm-2 1zm-12 0zm2 4zm-1 1zm-8-2zm2-2zm1-3zm0 2zm0-8zm-3-1zm-3 5zm1-6zm-5 3zm-2 1zm2 0zm-1 11zm-5 0zm-1-6zm-4 3zm1-11zm0 3zm7 2zm-3-9zm3-3zm-5 1zm1-1zm-1 5zm-7-8zm5-6zm1 1zm14 2zm-2 2zm-5 4zm4 0zm9 2zm2-5zm-1-3zm-3-2zm1-2zm3-4zm-5 1zm-2-9zm-1 3zm-22 8zm-1-1zm9-13zm0-1zm3 2zm-1-6zm-5-1zm1-4zm-2 0zm-5-6zm11 3zm1 0zm11 1zm-4 5zm0 4zm1-1zm7-3zm1 4zm-3-9zm3-4zm11 6zm-1-4zm-3 10zm2 6zm-2 4zm-1 0zm7 1zm4 1zm1-5zm-5 3zm5-5zm5-1zm-1 6zm-2 1zm1 3zm4 3zm6-6zm2 0zm2-3zm-2 0zm-3-3zm22 4zm15 8zm-22-1zm-7-3zm5 0zm0 1zm-1 0zm-1 4zm4 11zm-9 2zm0 3zm3 4zm4-3zm0 1zm-5 14zm7-7zm1 1zm5-5zm-1-4zm8 8zm7 1zm2 0zm0-6zm-9-7zm-2 0zm-4-11zm11 1zm-2 0zm5 3zm1-4zm9 1zm0 1zm2 0zm2 7zm-10 0zm1 8zm1 3zm2 10zm3-4zm3-2zm-1-5zm-2-3zm6 2zm6 4zm-4 0zm-292 15zm29 4zm5-23zm-1-10zm-4-3zm2-1zm0 2zm7-1zm1 7zm10 1zm0-1zm-1-4zm1-5zm0-7zm0-5zm-1 3zm-8-7zm0 2zm-4-5zm5-13zm-6-3zm-2 11zm-3-3zm1-3zm3-2zm-2-2zm-3-1zm-1 2zm-5 15zm1-1zm10 0zm-2 3zm2 0zm-7 2zm0 1zm2 2zm2 0zm-5 5zm-28-5zm-11 11zm-16 13zm-14 12zm23-26zm-36-22zm-20 2z" stroke="#f00000"/>
<path d="M713 644zm7 7zm3 3zm12-6zm18-13zm4-3zm-14 6zm-2-3zm1-17zm-8-17zm-7 5zm-13 12zm1 3zm19 0zm-3-1zm2 7zm-2 2zm-2 0zm3 6zm-7 4zm-5-6zm-7 5zm-1-3z" stroke="#00a800"/>
<path d="M585 605zm31 9zm-11 17zm-11-11zm-19 10zm0-3zm-5-1zm-26 1zm27-12zm-16-24zm-11 12zm-9-23zm-1-2zm-10 61zm-7 12zm3 7zm25-14zm29-4zm-15 30zm-13 22zm-7 2zm-4-15zm-1-5zm-5-1zm-6 18zm0 14zm70-62zm42 13zm74-43zm-15 12zm-38 4zm1-8zm-337 153zm28-2zm-16 12zm152-19zm22-39zm-8-19zm-12 8zm-92-20zm82-9zm21 14zm10 3zm-3-61zm-156 88zm3-19zm6-1zm-3 57zm-27-27z" stroke="#ff0099"/>
<path d="M475 459zm-6 42zm8 1zm17-20zm-5 2zm6 21zm3-1zm1 6zm9-4zm3-6zm-3-3zm-1-13zm4 0zm0-1zm-3-15zm-2-1zm1 1zm0 1zm-2 2zm-3 2zm0 2zm-5 1zm-4-1zm-11 0zm8-8zm18-8zm-2-6zm191 54zm-9-3zm2-19zm-9 10zm-1-6zm4 0zm1-8zm-2 3zm-4 7zm-5 12zm5-7zm3 3zm-3 7zm-6 3zm0 1zm-9 1zm0-4zm1-2zm-1 0zm5-2zm0-1zm-1-4zm1 0zm-4 1zm-4 2zm-5 4zm2-1zm-18 0zm2 0zm1-1zm6-9zm6-9zm-2-2zm-1-2zm11-1zm-5 7zm0 2zm3 3zm2 3zm2-3zm6 3zm-6-11zm1-6zm0-1zm2-11zm-4-1zm0 4zm3-1zm-7 0zm3 0zm0-4zm-2 2zm-2-1zm-2 3zm6 11zm-8-3zm-4-2zm-6 4zm-4 1zm1-7zm1 0zm3 3zm-2-5zm0 1zm7 0zm0-2zm3-2zm-2-2zm0-5zm3 0zm-4-3zm-5 6zm-3 0zm-1-3zm-2-4zm5 0zm-1-6zm3-1zm1 0zm2 0zm0 1zm-1 1zm6 4zm8-1zm-6-2zm-1 2zm0 7zm1 1zm2-1zm3-2zm-1-1zm5-2zm3 2zm-2-4zm-1-2zm12 3zm1-6zm-2 18zm-5 3zm12 9zm0-9zm-17-30zm-10-6zm-1 3zm5 6zm-1 3zm-12-3zm-1 3zm-5-4zm-2 0zm6-9zm3-2zm-3-2zm-1-1zm15-7zm-20-90zm6 13zm-45 25zm-8 2zm-2 7zm-13-9zm16-8zm-2-15zm-12-19zm11-2zm22-1zm7-3zm3 4zm2-7zm-32-29zm-33 77zm-31 34zm-17 18zm24 24zm7-9zm14-15zm-4 10zm4 12zm-2-6zm15 10zm5-4zm-3-1zm1-15zm-2 2zm-7 3zm-1 1zm-9-23zm4-5zm6-13zm12-2zm13 6zm-13 15zm16 4zm11 2zm-2-22zm20 39zm15-3zm-10-3zm10 13zm-4 2zm-1 1zm-5 1zm1 3zm-6-3zm-27 4zm5-5zm-4-3zm9 1zm-15-11zm-10-7zm-2 3zm4 5zm6 4zm-11 8zm2 4zm6 10zm-5 1zm0 23zm12-10zm-1-4zm11-9zm0 3zm30-5zm6 0zm-1 1zm-4 2zm-6-1zm5 15zm2-7zm0 4zm0 5zm0 6zm-3-4zm-16 4zm-3 15zm28-8zm-8 9zm8 12zm-5 2zm-12-7zm-13-6zm0 5zm-9 4zm-3 2zm-5-6zm2 0zm-5-17zm-2-3zm-1-1zm1 7zm-8 1zm3 7zm-3-1zm-3 3zm6 2zm7 10zm-10-4zm-2 2zm-3-5zm-2-1zm3-1zm-21 4zm0 1zm1 5zm-7-3zm-3-7zm1-1zm6-7zm-2-2zm-5-4zm30 9zm0-19zm-6 1zm-4-3zm6-10zm0-12zm-9 1zm-1 7zm-8-4zm-1-5zm-5 12zm8 6zm4 6zm-3 1zm2 3zm-7-5zm-6-2zm-9 2zm-1-9zm4-4zm1-4zm0-4zm-2 0zm-9-1zm0 9zm-1 1zm-3-2zm-5 3zm6-6zm0 12zm-9 10zm3 9zm13-8zm8 8zm2 2zm-3 1zm-6 4zm-1 0zm-4 3zm2 3zm4 1zm0-6zm-7 15zm-1-1zm-6-1zm-1-3zm7-4zm-5-5zm-9 8zm4-1zm-1 5zm2 6zm-1 5zm6 0zm-2 3zm6 0zm8-5zm-1-5zm6 2zm0 9zm-8-1zm-4 6zm10-1zm0 7zm5 4zm-3 1zm-4 2zm-11-1zm0 2zm2-5zm-8-7zm-1 7zm-4 11zm8 4zm-1 3zm20 13zm-3-4zm5-6zm-3-6zm-6-1zm0-2zm1-6zm1 0zm3 4zm10 3zm19 19zm1-9zm6-2zm-15-6zm7-5zm-4-1zm2-17zm-4 1zm-1 2zm0 6zm-3 0zm-7 3zm-6-7zm2-5zm6 3zm7 0zm1-17zm2 11zm1-1zm4-3zm-1-3zm5 0zm-2-7zm15 1zm1 9zm1-3zm5 1zm0 1zm-14 1zm2 3zm20 5zm-1 3zm-2 0zm9-4zm0-6zm-2-2zm-10-3zm11-7zm3 0zm6 5zm-3 3zm9 6zm4-1zm1-8zm10 3zm4 6zm-5 1zm-4-6zm-3-1zm-2 9zm1 2zm7-3zm0 2zm4-2zm0 1zm-2 6zm1-2zm-2-1zm-1 1zm1 5zm2 4zm-7 1zm1-6zm-4 0zm-1 2zm0 1zm-8 2zm2-3zm3-3zm-2-6zm-1-2zm-2 7zm-1-7zm-6 4zm2 0zm-3 14zm0 5zm3 3zm2 3zm0 1zm2-4zm3-2zm2 1zm2-4zm-4-1zm-1-1zm15 5zm2 2zm2 4zm-4 1zm-5-4zm-1 11zm0 1zm2-3zm5-1zm1-1zm-2 4zm1 1zm2 2zm-4 3zm-3-4zm-6 5zm-2 0zm-4-5zm7-5zm-2-1zm-2 1zm-2-1zm1 2zm-7 8zm-17-9zm-2-2zm12-4zm1-4zm-1 2zm3-1zm0-6zm-8 1zm-3 9zm-11-1zm3-4zm-4-5zm-5-4zm4 15zm-2 8zm6-6zm0 11zm-7 3zm0 8zm2-6zm19 23zm22-17zm-2-2zm6-2zm-3 4zm7-5zm6 2zm0 3zm-2-1zm-2 2zm6 3zm-3 0zm-8 15zm-6 13zm4 4zm-15 12zm-25-12zm-10 20zm-4 0zm-3-1zm3-13zm-17-10zm8-15zm3-23zm-17 11zm-1 15zm-16 4zm-7-1zm6 5zm-15 41zm-4 9zm17 6zm9-4zm-4-10zm18 1zm-6 8zm15 41zm-27-27zm-18-2zm-1 12zm0 8zm12-1zm-10 10zm1-6zm-5-1zm3 21zm78-65zm8 1zm153-70zm-3 2zm-6 3zm1 1zm1-5zm0 1zm3-1zm-3-6zm-3 1zm2 2zm-5 2zm1-4zm-7-3zm2 7zm3 7zm-4 6zm5 1zm8-5zm0 6zm-23 4zm0-5zm-2-1zm-2-2zm-3-1zm10 3zm5 3zm0-3zm-2-14zm1-6zm-3 3zm-2 0zm1 1zm-10-1zm5 9zm2 3zm-7-3zm-4 3zm-1-5zm2-2zm0-6zm-4 0zm-5 4zm0-2zm3 0zm-3-1zm-3 4zm1 9zm0 1zm0 2zm3 0zm6 0zm3 2zm7 19zm8 17zm-28-7zm-5 0zm-13-6zm-3 16zm-25-13zm12-20zm-2-10zm-4 0zm-1 1zm-1-1zm-22 7zm14-9zm0-5zm-8 5zm0-3zm-2-4zm2-1zm-5-1zm10-4zm10-1zm-1 1zm2 3zm-4-1zm-2 5zm6 0zm3 5zm1 0zm0-12zm1-2zm19 1zm-3 4zm-1 0zm-3 6zm2-1zm5 0zm-10 0zm-3-1zm-1 3zm1 3zm-2 3zm14-1zm5 0zm4 1zm0 5zm2 1zm-1-2zm0-5zm4 0zm2-9zm-1 1zm-2-1zm-1 5zm1 2zm-1 0zm-9-10zm1-1zm3-4zm-1 1zm5 5zm1 0zm2-9zm-2-4zm-1 0zm-7 4zm-2-2zm5-3zm0-4zm-1 1zm-1 1zm-1-6zm6 0zm0 6zm0 1zm2 0zm-1-8zm-1-7zm2 0zm1 1zm2-8zm0 1zm-4-1zm-6 1zm0 4zm-7 9zm-4 0zm7-4zm0-1zm-5-10zm-2 2zm3 4zm-5 0zm-2 16zm3 1zm0-5zm-1 1zm6 1zm3 2zm-4-1zm-3-1zm1 5zm2 2zm2 1zm-7 2zm-3-5zm-6 5zm-5 1zm3-5zm0-1zm1-1zm0-1zm3-3zm-2-3zm-1 1zm-2 1zm1-1zm-1 2zm-2 2zm-1-3zm-7-2zm7 8zm-11-1zm0 3zm-4 0zm0 3zm-7 0zm1-6zm5 3zm0-7zm-2 0zm-1 3zm-3 0zm4-7zm1 2zm0 1zm0-2zm2-1zm1 7zm5-4zm-2-2zm1-3zm-4-4zm-2 4zm0-1zm-5 1zm-1 1zm0-7zm6 3zm-7-10zm3-1zm2 1zm1 0zm2 6zm9-7zm2 1zm0 4zm0 10zm1-3zm6-1zm3 3zm-1-4zm1-4zm-4-6zm2-6zm-1-2zm2 0zm1 0zm1 3zm1-1zm-5-9zm-1-1zm0 5zm-3-3zm-5 0zm0 3zm-1 3zm5 7zm-2-2zm0-1zm-11-4zm-2 6zm-2 0zm-3-2zm1 0zm-1-4zm4 0zm-1 1zm2-1zm1-3zm3-3zm-9-9zm10-9zm-2 7zm5 0zm10 7zm5-2zm2 3zm2-11zm13-4zm-6 4zm5 10zm-12-6zm-1 5zm2 0zm0 12zm1 1zm-2 1zm7-1zm2 5zm3-3zm-1-4zm1-8zm-1 2zm9 1zm-4 9zm12 3zm1-7zm-6-6zm-5-3zm2-4zm-3-6zm38 20zm-2 6zm-3-4zm-5 4zm1-2zm-6-8zm-9 6zm6 3zm-3 1zm0-2zm-2 0zm2 5zm2 5zm2-4zm-3 0zm4-2zm7-1zm-6 6zm2 4zm-1-1zm2 4zm-4 2zm-4 0zm-4-4zm2 1zm-1 19zm2 0zm8-1zm-1-2zm5 2zm0-10zm-1 0zm-6 3zm1-3zm4-3zm3-1zm1 2zm6 5zm-6-3zm2 9zm2 2zm2-1zm0-4zm-3 1zm3-2zm3-1zm0 6zm5 1zm-3-6zm-4-3zm5-6zm2 1zm0-1zm-2-4zm-2 2zm-2 0zm-5-6zm1 2zm2 0zm-3-3zm-1-1zm-2-1zm1-2zm9-1zm3 4zm5-6zm2 6zm2 9zm0-7zm-5 2zm1 7zm3 0zm1 2zm-2 1zm-4 2zm2 3zm-3 2zm0 2zm0 1zm5-6zm1 0zm3 0zm2 6zm-2-7zm5-7zm2 8zm3 0zm2 7zm2-1zm0-1zm3-5zm-276 218zm20-66zm-5-15zm-21 2zm8 21zm-15 12zm-76-38zm106-4zm-1-26zm3 7zm5-11zm-10-44zm-13-79zm2 2zm12-1zm-2 3zm10-6zm-13-6zm5-5zm0 3zm4-10zm1-10zm-1-2zm-2 0zm-4 8zm-4 2zm-12 0zm4 11zm2-3zm-21 6zm-7-4zm-38 20zm-43 171zm-43 19zm-2 15z" stroke="#f5f500"/>
<path d="M421 509zm4-2zm2 3zm3-2zm8-10zm-2 10zm2 1zm6 2zm2-3zm-2-8zm-2 2zm-1 0zm3-4zm3-3zm-1 0zm-3-5zm1-4zm21-35zm0 1zm3 0zm1 0zm-1 1zm1-2zm2-2zm3 2zm1 0zm0-3zm4 1zm-2 3zm1 2zm-1 0zm-2 0zm-2-1zm-1 1zm3 3zm-2 5zm-5 1zm3-3zm0-4zm-2 1zm0-1zm-5 9zm1 3zm1 3zm3-1zm-1-3zm4 0zm5 3zm-4 4zm1 0zm4 0zm-1 0zm-8 5zm2-6zm-3-1zm1 2zm-8 2zm-2 0zm-2-2zm-5 12zm0 1zm3 0zm6-4zm1 1zm-6 7zm2 0zm2 3zm-1 0zm-5 0zm0-6zm-4 3zm1-2zm-2 3zm-1 7zm5 2zm0-1zm-5 3zm7 2zm2 6zm2 0zm3-2zm-1-4zm-4-7zm-1-1zm0-1zm9 2zm2 10zm12 1zm-1-7zm0-2zm-4 2zm-1-6zm2 0zm3-4zm-4-2zm-2 0zm1 5zm-6-1zm-2 1zm0-1zm1-2zm-2-4zm4 3zm2-1zm0-4zm-2-1zm1 1zm-1 1zm3-5zm-1-2zm4 0zm1 2zm2 3zm2 2zm-3-4zm1-1zm4 1zm5 3zm1 0zm-1-1zm1-1zm-1-3zm2 0zm0 1zm4 0zm0 3zm2 0zm0 2zm-5-3zm-1 7zm2-1zm1-1zm2 4zm1-1zm1 1zm-7-1zm1 2zm-3-1zm0-2zm-3-2zm-3 6zm2 3zm1 1zm-1-2zm4 0zm1 1zm-2 1zm-3 4zm0-3zm-1 0zm1 6zm0 5zm5 0zm0-2zm-1 0zm1-2zm-2-2zm5-1zm1 1zm-1 1zm-2 1zm2 4zm1-1zm-1-1zm3 0zm1-6zm-2-1zm-4-1zm1-5zm4 0zm0 3zm2-1zm6-2zm-1 3zm-1 3zm-2-2zm-1 3zm2 4zm-1 0zm7-1zm0 3zm4 2zm3-4zm-3-1zm2-6zm-5 2zm1-1zm3-5zm2 0zm-2-2zm0-3zm-4-2zm-2 5zm0-2zm-3 1zm-4 0zm0-8zm3-3zm2-1zm5 0zm2 4zm-2-7zm-2-6zm5-2zm-1-6zm1 3zm-3 0zm-2-3zm-1 7zm-2-2zm-3-4zm-2 1zm1 1zm0 1zm1 0zm1 1zm-1 1zm0 1zm-1 2zm1-1zm0 6zm0-2zm-1 0zm-1 3zm-6-5zm0-1zm-2-1zm3 6zm-3 1zm-2-3zm1-3zm-1-4zm-2 0zm1 2zm-3-1zm0-6zm4 0zm2 6zm1 0zm2-1zm2-5zm1-3zm-10 0zm-1 1zm-1 0zm0-3zm-1-3zm4 3zm1-1zm1 1zm-4-4zm-2-2zm0-5zm9 2zm-2 1zm0 2zm6-5zm7 3zm-3 3zm1-2zm-1 1zm-2 6zm0 3zm1 1zm6-5zm-2 0zm4 1zm3 2zm1 2zm1-8zm1-8zm-3-1zm0-2zm0-2zm-9 0zm2 0zm0-3zm-5-1zm11 0zm1 1zm1-1zm2-2zm-3-2zm-4-10zm7 2zm-3-4zm2-3zm-2-1zm-6 1zm0-1zm-2 1zm0 9zm-2 2zm-4-2zm-6 0zm1 0zm0-1zm-1 0zm0-3zm2 0zm4 2zm1-1zm-2-9zm-2 4zm-3 2zm0 1zm-3-3zm1 1zm-5-1zm0 4zm0 3zm5-2zm-1 1zm-1 2zm0 1zm3 2zm-7-3zm2 4zm-1 2zm1 5zm4-5zm-2 1zm4-2zm7-1zm-5 5zm5 4zm-2 3zm-2 2zm-2-1zm-5 0zm2-3zm-2-2zm0 2zm-3 1zm0 4zm-3-3zm-2 3zm-1 0zm-3-1zm0-1zm3 0zm1-6zm-2-3zm1 0zm-6 7zm2 2zm-2 1zm10-15zm8-17zm4-2zm1 1zm0 1zm3-1zm-1-2zm8-10zm1 5zm-7 5zm0 2zm4-3zm6 3zm-1-7zm0-1zm1-3zm3-2zm0 3zm2-4zm0-1zm-1 0zm-2 0zm3-1zm-5 0zm189 96zm-19-9zm-10 15zm-5 4zm-3 4zm-11 2zm0-2zm3-14zm1-18zm-10-16zm6-6zm0-2zm-7-6zm1-130zm1 7zm0 1zm-1 4zm2-2zm2 2zm2 0zm-1-5zm-2 9zm-1-3zm-1 1zm-2 0zm1 1zm-1 3zm3-1zm-1 1zm-1 2zm-1 0zm1 6zm0 8zm5-5zm-7 15zm-5-4zm1 1zm-6 0zm1 0zm0-2zm-1 1zm-4 0zm1 1zm-4 7zm0-5zm-1-3zm-3-1zm-3 5zm-6 0zm0 3zm3 3zm-1-1zm-2 0zm0 4zm0 3zm-1 4zm9-7zm2 11zm-11-3zm1 7zm-3-1zm-3 0zm0-1zm-3-2zm0-3zm7 3zm0-6zm-7 0zm3 0zm-1 1zm-9-4zm1 2zm-1 3zm4 1zm2 3zm-4 4zm0-3zm-4 3zm-2-2zm0-3zm-3 0zm-2 0zm0 1zm2 4zm-4-1zm-3-3zm2 0zm2-7zm-2 2zm-5-2zm12 2zm3 1zm0-9zm0-1zm-3-3zm-2-1zm-8 1zm3-6zm-2 1zm0-3zm1-1zm1 2zm3-3zm8 0zm1 0zm1 1zm2 4zm-1 4zm-1 2zm1 4zm4-6zm3 0zm3 3zm-1-1zm-4-6zm4-2zm-4-4zm1-2zm-1-1zm0-4zm5 2zm-1-5zm3-2zm-7-3zm2 4zm-3-2zm0 8zm-9 5zm-1 0zm0-2zm-11-10zm-1-3zm7 2zm3 5zm0-2zm3 2zm-2-5zm1-4zm1-1zm0-3zm1-1zm-2 0zm0 1zm0 1zm-3 2zm-4-1zm-3 2zm1-4zm-1-3zm-3-2zm2-5zm7 4zm6-4zm1 2zm6-1zm-1 3zm0 2zm-4 7zm3 0zm1-2zm0-1zm1-2zm4 1zm-1 3zm-1 1zm6-5zm-2-4zm-2 3zm-2 0zm1-5zm11 2zm0 2zm3-3zm3-2zm3 3zm-5 3zm6 3zm1 5zm-5-2zm-1-1zm-1 0zm-2-4zm-2 0zm-2 7zm3 1zm1 4zm-3 4zm-3 6zm7-1zm-1-3zm4 0zm2-1zm3-5zm-4 3zm-3-1zm14-5zm-3 5zm-2 2zm1 1zm-2 6zm8-1zm3 0zm-3-14zm3 1zm2 0zm-1 0zm2-5zm0 1zm1 0zm-1-2zm0-1zm1-2zm-2 2zm-2-2zm-2 2zm-3 2zm-2-2zm3-3zm-7-7zm5 3zm2-2zm4-6zm-3 0zm-2-9zm0-1zm-2 2zm-2-2zm-1 1zm0 5zm0 2zm6 1zm-3 0zm0 5zm-3-1zm-4 1zm-1-1zm2-5zm-1 2zm-3 2zm1 1zm-5 0zm-2-2zm-1 2zm-3-5zm2-1zm5-4zm-4-3zm3 1zm5 1zm-2 0zm0-6zm1-1zm-6 1zm-3-5zm14-5zm3 0zm2 0zm1 2zm8 10zm-3-8zm3-4zm-8-4zm0-10zm-18 2zm7 4zm-8-2zm-1 1zm-3 3zm-1-4zm-3 3zm1 0zm0 1zm-2 2zm-1 0zm-4-2zm1 2zm-2 0zm-1-2zm1 0zm0-5zm2 0zm-1 2zm0 1zm3 0zm0-1zm1-4zm4-1zm-14 10zm0 12zm-5-5zm0-1zm10-4zm3 5zm-2-4zm1 0zm0-2zm6 1zm-1 0zm5 0zm0 3zm-6 0zm-1 0zm0 2zm5 2zm2 1zm-1 5zm-5 1zm-4-3zm1-2zm-6-1zm0 5zm0 3zm4 5zm0-6zm6 1zm0 5zm-2 5zm3 0zm1 1zm-6 3zm0-2zm-3-4zm-2 0zm-1 2zm-7-1zm3-2zm-2-7zm-1 2zm-4-3zm-4 5zm0 2zm0 4zm2-3zm4 4zm-8 3zm0-1zm-1-3zm0-10zm-3-1zm3-8zm-23 38zm4-3zm-2 3zm1-1zm4 1zm0-1zm1-1zm0-1zm-3-2zm18-9zm-2 3zm-2 9zm-5 2zm1-1zm-1-4zm-1 1zm-2 0zm0 4zm-2 0zm1 3zm2-1zm-1 4zm2-1zm1-3zm1 0zm2 0zm5 3zm2 5zm-4 7zm-1-3zm-4 1zm1-2zm0-1zm-6-1zm1 3zm-7 0zm3-9zm1-2zm-3-1zm0 1zm-1-1zm-2 1zm-1-1zm1 3zm1 2zm-1 2zm-6 2zm0 9zm-1-2zm-1 5zm0 1zm-1 2zm3 0zm-3 6zm1 0zm2 1zm1-5zm5 5zm4-5zm-1-6zm-1-3zm1-1zm1 2zm7 5zm3-4zm3 4zm-1 1zm2 1zm-7 0zm-2 0zm0 5zm4 2zm9 6zm-3 3zm1 0zm-1 2zm0 2zm-12-4zm1 2zm-2 4zm-1-3zm-1 3zm-3 0zm1-5zm-1-2zm2 2zm0-6zm-1-4zm-2 4zm-9 3zm3 4zm4-3zm0 1zm-7 6zm-4-4zm-1 0zm0-2zm-3-1zm-2 5zm-4-3zm-1-3zm-1-1zm1-4zm2-2zm4 2zm0-1zm3 1zm-2 3zm1 2zm2 0zm0-3zm2 0zm-1-7zm-2 2zm-2 0zm1-1zm-1-1zm0-1zm1 0zm1 1zm0-3zm-1 1zm3-1zm1-3zm-8 8zm-2-1zm-2-1zm-3 8zm-4 3zm-5 7zm-3 2zm3 6zm-5 2zm1 6zm0-1zm2 0zm1-5zm3-1zm1 1zm0 5zm1 0zm0-12zm9-1zm1 6zm-1-3zm5 1zm-1 0zm1-5zm1 1zm0 9zm7 4zm-6 1zm-5-1zm-3-5zm-1 1zm0 1zm3 4zm-3 5zm0 2zm12 1zm1 5zm2 1zm-5 1zm-5-6zm-5 0zm-5 6zm-1-7zm-5 0zm-5-6zm0 4zm1-1zm5 5zm1 4zm-3 8zm3-1zm8 0zm-2 3zm-3-2zm-2-1zm0 1zm-1 7zm-7-4zm0 1zm6 7zm-2 2zm2 2zm-2 3zm-1 3zm-1 2zm4 1zm6-5zm3-4zm-2 1zm-1-5zm5 2zm3-1zm3 0zm-2 4zm1-1zm-1 9zm2-2zm-2 0zm3-3zm0 6zm2-12zm0 1zm2-6zm-11 0zm-1-3zm5 0zm1-1zm-1-5zm-1 0zm-4 3zm11-2zm6-3zm0 2zm6-1zm1-3zm1 1zm2-1zm1 0zm2 3zm-1 1zm-4 7zm1-1zm0 3zm-3-3zm-2 1zm-2 0zm-2 0zm-1 3zm6 9zm-6 1zm0 4zm9-4zm2 1zm4 4zm-3-3zm3-3zm-4 0zm-1 0zm-2-3zm1 0zm0-4zm5 1zm4 2zm3-3zm0 2zm-5 12zm6 0zm6-3zm3-6zm-7 2zm1-7zm6 1zm0-3zm-2-2zm1 1zm-3-5zm-4 6zm-4-3zm-1-3zm3-5zm1-3zm5 1zm3-2zm0-1zm0-1zm-3-2zm-3-2zm7 0zm-3-4zm2-2zm-1 0zm-4 1zm2 0zm-8 3zm-2 1zm-4 6zm-1-4zm-4 0zm0 5zm-2 0zm-4-1zm-2-6zm6 0zm-2-1zm-2 0zm11-1zm1-7zm0-6zm-14 6zm0-4zm5-1zm-1-4zm-2-2zm2-4zm0 1zm5 3zm0 2zm13-6zm0 4zm0 1zm-2 9zm1 0zm2 1zm0-2zm0-2zm-2-2zm5 0zm-2 1zm3 3zm4 0zm0-1zm-1-6zm-4 0zm0-4zm5 0zm8 3zm6-5zm2 6zm-3 0zm-4-1zm6 3zm0 2zm-10 4zm2-2zm1 11zm-7 1zm1 2zm0 3zm1 0zm5-2zm-1 0zm-1-3zm5 1zm3 5zm-1-6zm1-3zm-5-2zm15 3zm-7 5zm0 1zm1 2zm3 0zm3-5zm8-1zm-5-4zm0-7zm1 1zm-10-5zm6-2zm-1-2zm-2 1zm-1-3zm-3-1zm8-2zm4 3zm12 3zm14 3zm-21 17zm-1 9zm18-3zm3 7zm4-4zm4 7zm-6 1zm-6-3zm-3 17zm-5-9zm-5 3zm-4 8zm0 4zm-5-3zm-5 2zm-4 0zm1-3zm0-7zm-3-4zm3 1zm7 1zm-1 1zm5 3zm-1-5zm-1-1zm2-3zm-2-2zm-8-11zm-2 1zm-2 0zm2 3zm1 5zm3 0zm0 2zm0 4zm-2-1zm-4 0zm1 0zm-3 1zm-4 0zm0-2zm1-2zm-1-1zm-2 1zm7-3zm-2-3zm2-1zm0-2zm-11 2zm1-3zm0 2zm-3 0zm0 1zm-2 2zm4 5zm2 4zm-1 8zm2 0zm-1-2zm6 0zm-1 2zm-2-3zm0 3zm3 3zm-6-2zm-6 0zm1 7zm-1-1zm1 9zm11-6zm1-1zm2 1zm-3 4zm3 2zm-5-1zm1-1zm-1 0zm0 6zm4 2zm-6 2zm-2 0zm-4-5zm2 10zm1 0zm-4 5zm2 1zm2 2zm6-2zm4-1zm-3-5zm1-1zm8 0zm2 7zm2-8zm-1-2zm-6-2zm-1-6zm3 2zm3 0zm-5-10zm10 5zm2-2zm4 4zm15-6zm6-1zm6 0zm2 2zm-11 11zm2 7zm-2 11zm-8 1zm14 0zm-11 25zm0-7zm-8 3zm-7-1zm4 9zm3 0zm-1 0zm-4 0zm-8-5zm-9-6zm7-4zm6-13zm-10 0zm-3 8zm-9 6zm4-4zm-1-8zm-4-1zm-2 1zm-4 12zm3 7zm1 0zm8-4zm-3 5zm-2 0zm1 1zm-1 4zm-3 2zm1-2zm-3 1zm-3 2zm-1-2zm-3 2zm-4-1zm1 0zm2-1zm-1-5zm-1-8zm1 6zm-3 0zm-1 0zm-2 0zm2-4zm-6 3zm0 2zm1 4zm2 1zm-4-3zm-2 0zm-4 5zm-2 1zm0-2zm-4 2zm0-2zm0-2zm3-5zm1 0zm0-2zm-7 3zm11-5zm-3 2zm1 3zm1-1zm0-2zm4 3zm0-6zm1 0zm-3-9zm-4 3zm3 3zm-1 1zm-3-2zm-7 2zm0-2zm1-2zm-1 0zm4-4zm-4-3zm3-1zm-3 0zm5-2zm0 1zm2 1zm2-3zm-1 2zm1 5zm5-1zm0-1zm5-3zm1-1zm0 1zm0 5zm-1 1zm-3 6zm3-1zm1 1zm0-3zm6-1zm-2 1zm1 2zm5 1zm0 1zm-2-4zm0-2zm1-1zm-2-2zm2-6zm0 3zm0-1zm1-3zm-4-7zm-2 5zm-2 1zm-1-1zm-5-5zm4 3zm1-9zm8-1zm1-5zm1-12zm-6 0zm-4 6zm-1-1zm-4 1zm3 5zm3-2zm-2 4zm-11-3zm5-3zm-2 0zm0-2zm2-5zm0 1zm-3 5zm-8-6zm-3 0zm0 1zm0 4zm0 2zm1 2zm-1 2zm3 0zm-1-3zm2 1zm0 6zm-2-1zm-1 1zm-1 1zm3 2zm0 1zm1 2zm3-3zm-3 0zm4-2zm1 0zm2 1zm2 0zm1 4zm-6 1zm1 0zm6 5zm-3 1zm2 0zm-4 3zm0-1zm-4 0zm0-3zm0-2zm-4-1zm-2 3zm-3 4zm-1 0zm0-3zm1 0zm1-4zm-1 1zm-7 5zm-3-2zm-3-1zm0-1zm7-2zm-1-4zm-1 3zm-1 0zm-2-1zm-2 1zm3-2zm-1-3zm3-1zm6 1zm-1 1zm1 2zm-1-1zm2 2zm3 1zm0-5zm-1 0zm0-4zm-6 1zm0-1zm2-4zm-2 0zm7-4zm-7-5zm-3 5zm-5-4zm1 3zm0 4zm1 2zm1-2zm3 1zm-3 5zm-3 0zm-3-13zm-3 1zm0-2zm-2 0zm-3 6zm-4-4zm2 4zm2 2zm0 1zm2 2zm-7 1zm1 3zm3 5zm0 1zm5-3zm3-2zm2 1zm-1 9zm-1 1zm1 3zm-2-3zm-3 0zm-2 3zm-2 0zm-1-5zm0 2zm0 7zm0-1zm3 0zm1 0zm0 2zm-4 2zm-2-1zm4 8zm0 2zm6-7zm-2 2zm5 5zm-1-6zm2-1zm-7-5zm7 0zm0-2zm4 2zm-2-1zm2 3zm2-4zm10-1zm-3 4zm3 3zm-6-3zm-1 4zm1 1zm6-1zm0 3zm-2 0zm0-1zm-1 1zm3 1zm0 3zm-4 0zm0-3zm-4 1zm0-1zm-4-1zm0 2zm-1 3zm3 4zm9-2zm-1 3zm0 4zm-3 5zm-14-2zm-1 3zm-3-2zm1-2zm2-3zm1 2zm2 0zm1-1zm-3-3zm-2-3zm-1 1zm1 1zm-5 0zm-2 1zm-2 3zm3 1zm2 2zm-1 3zm-2-1zm-3 3zm2-1zm2 1zm2 0zm0 6zm-3-3zm-3 4zm1 3zm-1 4zm9-7zm3 6zm1-4zm1-6zm-1 3zm-2-1zm-3-2zm3-4zm3 2zm3-2zm4 6zm5-3zm-1 8zm2 0zm1 1zm2 2zm1 1zm-6-2zm0 2zm-1 0zm-1 0zm-3-2zm-4-5zm1 3zm2 2zm-3 4zm3 4zm3 2zm-2-4zm2-2zm3 1zm5-2zm-1 2zm-1 2zm2 1zm0 1zm-3 1zm-1-3zm1 9zm-1-1zm-4-4zm-3 4zm-1 1zm1 2zm-2 0zm0-1zm-8 1zm-1-6zm0-1zm4 0zm3-1zm-1 0zm-8 0zm-2-7zm0 1zm-1 2zm-1-2zm-1-1zm0 4zm3 5zm3 3zm-7 4zm1 1zm0 6zm9-6zm4-1zm-6 5zm3 3zm3 2zm0 1zm1 1zm-4 0zm-7 2zm8 6zm-1-4zm11 0zm0 6zm7 1zm-5-15zm0 3zm-5 0zm-3-1zm0-9zm4 2zm1-1zm5-1zm-1 1zm-1 0zm5-2zm6 1zm-3 5zm1 0zm5-1zm1-2zm-3-2zm2-1zm4 3zm2-3zm0 3zm0 5zm2 1zm0 2zm-5 2zm-4-2zm-5 0zm3 4zm-1 4zm4 0zm-6 1zm14-2zm9 6zm6 1zm-1-3zm-3-13zm-7 6zm-2-1zm3-3zm-2-6zm1-1zm0-3zm9-1zm-1 3zm0 3zm3-5zm-4-3zm3-8zm-1-5zm-3 1zm3 4zm-7-6zm0 2zm-3-1zm0-1zm4 10zm-5 3zm-2 2zm-2-3zm-1-1zm-3 0zm2 3zm-9-1zm6-8zm-7 1zm1-1zm14-2zm-1 0zm-1 0zm0-2zm2-8zm-7-1zm1 6zm-8-3zm-1 0zm6-2zm-2-3zm-4 0zm2-3zm5 0zm0-3zm3 2zm0 4zm2-1zm0 1zm3 0zm-3-6zm8 0zm-2 9zm1 6zm1 0zm3-1zm3-5zm1 2zm3 1zm-6-7zm0-4zm2 0zm3-1zm4 1zm0-1zm6 4zm2-1zm3-1zm0 4zm1 2zm-6 7zm-5 2zm6 9zm4-6zm-1 3zm6 1zm4-16zm15-5zm2 1zm4 8zm2-3zm1-2zm-3-7zm11 2zm10 2zm-4 8zm-8-3zm-2 1zm2 2zm-1 4zm-2 4zm7-3zm8 1zm-1 5zm-5-3zm2 6zm-4 5zm-8-3zm-7-10zm-8 0zm5 14zm2 0zm3 11zm5-3zm-1-3zm-5 1zm-1-2zm10 0zm2 1zm1-2zm3-3zm4 13zm-9 8zm-1 7zm0 1zm-6-2zm-6-9zm-4-1zm-3 13zm-5 1zm-9-3zm2-2zm-3 0zm6 0zm-1-5zm-5 0zm9 2zm5-12zm-1-7zm2 1zm-14 7zm-9 0zm2-3zm1-7zm-11 11zm1 6zm9-1zm3-1zm-2 10zm-2 6zm1 9zm-4 1zm19-9zm12 1zm1 3zm-4-1zm10 5zm6-10zm-1 4zm14 9zm-1 1zm-13-6zm-1 9zm-52 32zm-6-45zm-36 63zm30 33zm5 27zm-40-20zm-8-7zm1 41zm73-70zm161-50zm2-1zm2-18zm-4 11zm-1-13zm-2 2zm0 1zm-2 4zm-5-7zm-1 11zm-4 4zm-1 0zm-15 13zm3-8zm-3 3zm0-1zm2-4zm4 0zm2-1zm5 5zm-1-7zm-2-3zm3-7zm-11-4zm0 6zm-2 1zm3 0zm3 3zm-15 3zm6-11zm-14-1zm1 14zm2 2zm7-2zm5 13zm-11-2zm1 6zm-40-12zm-1-2zm-25 8zm10-19zm-2 4zm-10 2zm-1-2zm7-11zm4 1zm6 11zm5 0zm4 2zm5-8zm-7-3zm2-2zm16 1zm1-1zm2 1zm1 2zm-4 3zm-8 5zm2 10zm19-7zm-4 10zm3 4zm2-13zm-3-9zm0-3zm4 1zm6-3zm-1-5zm-1-6zm-1 2zm-12 0zm5-7zm7-6zm2-9zm0-2zm-13-1zm-8 13zm6-7zm-11 3zm2 4zm-6-1zm3 3zm-3 4zm4 0zm3-2zm-3 1zm5-3zm0 3zm4 0zm-2 1zm-2 0zm-1 0zm1 4zm0 1zm-1 2zm-4-2zm0 2zm-4-2zm2 6zm-8-3zm-2-3zm7 2zm0-5zm-5-6zm-8 2zm0 4zm1 6zm-5 0zm-4-4zm0 1zm-5 3zm2-6zm-5 1zm4-5zm9 2zm-6-15zm11-3zm-4 3zm0 4zm7-1zm4 6zm2-12zm1-5zm-1 2zm-7-10zm-6 2zm5 5zm-12-3zm-2 4zm-6-1zm0-5zm-1-4zm11 1zm1-4zm-8-3zm0-6zm14 0zm1 3zm-1 1zm7-8zm10 7zm-2 13zm5 7zm1 0zm-1-1zm7-1zm2-4zm-3-1zm-4-4zm17 12zm-1-8zm7-6zm21 14zm-11-2zm-1-2zm6-1zm1-2zm-7-2zm-4 1zm-4-3zm1 1zm6 9zm-6 1zm0 5zm1 3zm8 1zm-5 4zm1-1zm-2-3zm3 13zm0 6zm-2-1zm4-3zm7 0zm0 7zm3-2zm6-1zm0 4zm4-3zm0 3zm2-11zm-5-9zm-9-3zm0-6zm1-2zm3 1zm9 4zm9 9zm-1 0zm-6-5zm1 2zm-1 0zm2 1zm-1 7zm1 3zm-1 0zm6 9zm4-1zm-1-13zm-266 204zm26-36zm-58 30zm-7-11zm-11 15zm-45-17zm5-2zm44-54zm56-3zm-40-88zm-1-6zm10-3zm-4-5zm-1-1zm14 3zm17-8zm9-22zm-4-5zm-1 2zm-5 0zm-1-5zm-1-3zm-1 1zm2-3zm7 6zm5-4zm3 1zm3-2zm1 0zm1 9zm1 0zm1 4zm5-8zm-2-2zm-3 0zm1-4zm4-7zm-1 1zm-3 4zm-1 1zm-2-1zm-1-1zm-5 2zm-1-4zm0-3zm7-1zm-6 0zm0-1zm4-5zm3 0zm6 4zm0-7zm-4-1zm0-2zm-1 0zm6-9zm0-2zm-5 7zm-3 0zm-3-1zm0-1zm0-1zm2 0zm1 1zm0-3zm-7 0zm4 6zm0 1zm0 2zm2 2zm-3 1zm0-1zm-5 0zm-1 0zm0 1zm-1 1zm-3 0zm1-6zm2-1zm2-2zm-6-5zm0 3zm-4 0zm2 0zm0-3zm-3 0zm-2 1zm2 2zm-3 3zm2 1zm4 1zm-1 4zm0 2zm-2-2zm-2 1zm0 1zm2 4zm-3 0zm0 2zm5-1zm1-1zm-2 0zm0-3zm1 0zm3 0zm1 3zm1-3zm2 1zm2-1zm-2 7zm-1-2zm-3 1zm3 2zm3 0zm-2 2zm1 5zm-2-1zm-5-6zm-6 1zm1 3zm-8-4zm-5 7zm-1 0zm3-4zm-6-4zm4-7zm1 1zm2-1zm1 2zm0 5zm4-3zm3 3zm0-1zm-2-4zm2-6zm-2 0zm0 2zm-4-4zm3 1zm1-4zm-9-6zm1 7zm-3 4zm-2 2zm-7 0zm1-5zm4-7zm-1-2zm-4 0zm-1 5zm1-1zm-5 1zm1-5zm0 3zm-2-2zm-3 4zm1 3zm2 3zm-3 2zm2 6zm4-1zm0 1zm4-2zm2 0zm1-1zm0 3zm-3 4zm1-2zm-2-1zm0 6zm1-2zm3 1zm-1 2zm0 2zm0 1zm-3-2zm-2 0zm-5 2zm-1 5zm3 0zm2 4zm-4-1zm0 9zm3-4zm3-1zm0 3zm4-5zm-4-8zm3 0zm2 2zm3 2zm6-2zm2-1zm5 5zm-2-2zm-1 1zm-1-1zm-1 1zm-5 4zm8 18zm-19-11zm-3 3zm-3 0zm0 1zm5 7zm-10 3zm-1-5zm2-1zm-6-2zm-4-1zm0-1zm1 0zm2 0zm-2-4zm0 3zm-2 7zm4 3zm-6 0zm-1 1zm-8-4zm3 2zm-9-5zm-2-3zm3-4zm4 2zm0-2zm1 2zm5 3zm-1 2zm1-4zm0-5zm1-6zm-2 2zm-4 0zm-3 5zm-3-1zm-1 1zm-1-2zm1-4zm-1-1zm6 0zm-5-5zm4-3zm9 7zm-2-5zm7 0zm3 3zm-5 1zm-1 3zm2-1zm1 1zm4 5zm1-4zm3 2zm1 3zm2-5zm1-5zm-3-1zm0 2zm-3 1zm2-7zm1-3zm1-1zm0-4zm-8 5zm0-1zm-5-3zm1-8zm3 1zm1 1zm6 2zm4 2zm-1-13zm1-3zm-1-1zm-2 1zm0-4zm-3 2zm0 1zm-3 0zm-1 0zm-5-2zm1 7zm1-2zm3 0zm-1 3zm0 1zm-5 2zm-1 0zm-1-2zm-3-4zm3 0zm0-5zm2 1zm-1-2zm-3-2zm-1 6zm-4 0zm-5-1zm3 4zm1 3zm-2 8zm6-4zm3 0zm-1 5zm-3 2zm3 2zm0-2zm4 1zm-3 3zm3 1zm-1 2zm-6 0zm-2-1zm-9-2zm2-2zm0-1zm-3 0zm-1 1zm-3-1zm0 2zm-5 4zm-2-3zm2 1zm2-4zm1-8zm5-1zm0 2zm0 2zm3-8zm-2 0zm-1 3zm-3-2zm2-4zm2-1zm0 2zm0 1zm2-4zm-2-2zm0-1zm3 1zm-12 6zm3 4zm-1-1zm-7-1zm-2 2zm-1-5zm-5 4zm-5 3zm2 1zm-2 2zm-1 2zm1 0zm1 1zm1 0zm0-2zm-1-1zm1 0zm1 2zm3 1zm0-5zm2 0zm1-1zm1 3zm-3 0zm0 1zm4 4zm-4 4zm1 2zm-1 0zm-4-2zm2 0zm1-1zm-2-4zm-1 1zm-1 2zm-1-1zm0-2zm0 1zm-2-1zm0 1zm0 1zm1 2zm1 0zm-1 2zm4 2zm2 3zm0 2zm-7 2zm11-4zm-2-3zm2 1zm7 1zm6 0zm2-1zm2 6zm-1-2zm-3 3zm1 1zm2 0zm1 0zm-6 2zm4 7zm1 1zm0-1zm-1-1zm4-1zm-1 2zm0 3zm2-1zm0 2zm-3 0zm-2-1zm-2 1zm0 1zm0 2zm4-1zm3 2zm-1 4zm-7 0zm11 7zm7-1zm2-4zm11 2zm2-2zm3 3zm2-2zm-7 16zm-77-48zm1 0zm-1 1zm-1 1zm2 1zm7-4zm11 2zm3-7zm-5-1zm1 3zm-5 1zm1-2zm-2 1zm0-1zm-3-2zm1-1zm4-1zm-3-3zm-1 2zm8 0zm2 0zm1-1zm1 0zm-2-3zm2-3zm-1-1zm-1-1zm-23 9zm5-1zm0 5zm0-1zm4 0zm-1 4zm-1 0zm-2 0zm-2-1zm0-1zm0 2zm-5 0zm1 0zm0-2zm2 1zm-5 2zm26 206zm-43 11zm-86 82zm-10 13zm1 2zm-2 0zm0 3zm1 1zm0 2zm-3-3zm1-1z" stroke="#0000e6"/>
<path d="M433 505zm27-41zm-5 33zm15 6zm9 2zm12-22zm-1-2zm-8 7zm4 14zm-2 8zm26-1zm-4-30zm-10-12zm5-23zm-3 1zm1-9zm-1-1zm7-7zm-21 18zm20-45zm176 80zm3 5zm-11 12zm-10 2zm-7-27zm-15-4zm14-7zm-5-3zm4-4zm4 4zm3-1zm0-2zm26 15zm-27-35zm-19 7zm0-128zm-15 44zm1 7zm-12-9zm-4 3zm5 14zm-5 2zm-9 7zm5-11zm1-3zm-5 2zm-4 0zm-2 0zm-8 9zm1-2zm-5 1zm1 1zm-4 3zm-2-1zm-1-2zm1 1zm3-5zm-3-4zm-2-3zm3-1zm0 1zm9-3zm-3-5zm0 3zm10-10zm-1 5zm-2 2zm12-17zm1-8zm-3 3zm-7 1zm-2 9zm-1 2zm-5-7zm10-18zm6 6zm0-3zm2-1zm1-1zm1-2zm2-1zm5-2zm1-1zm6 0zm-5 4zm0 3zm-4 7zm0-1zm1-6zm-3 3zm-3-2zm1 5zm-1 5zm6 2zm0 1zm-6 0zm0 7zm12-1zm1 1zm1-9zm-4-2zm6 4zm10 6zm-7-17zm3-3zm1-23zm-5 8zm2 2zm-8-3zm-4-6zm2 5zm2-10zm6 2zm4-3zm4-3zm0 3zm-43-16zm-9 12zm8-3zm5-4zm-20 18zm-17 23zm6-2zm10 18zm-17 2zm-2-2zm8 27zm12-5zm-1 15zm-44-6zm8-15zm-10 22zm0 7zm12 0zm3 17zm-14 3zm-5 6zm-10 10zm3 5zm16 14zm3 1zm3-20zm-4-11zm23 1zm-6 10zm-8 10zm10-1zm2-1zm11 9zm2-15zm-7-1zm4-5zm4-10zm-1-10zm-10 5zm-10-8zm3 1zm1-2zm5-8zm5-4zm4 0zm-4 6zm4 3zm-1-3zm4-2zm-2-2zm10 1zm11 3zm-6 4zm-2 6zm-3 8zm21-11zm-7-6zm45 13zm-7 5zm9 25zm-34-6zm1-4zm-2-11zm1 2zm-10 2zm-6-4zm-6 6zm-1-4zm-4 16zm8 1zm-1 9zm-3 7zm2-1zm1 4zm-5 2zm-4 19zm12 4zm9-12zm2 2zm-2 7zm-5-13zm5-9zm-5-6zm45 12zm-13 15zm-2 25zm-8 6zm-20 3zm0-2zm1-6zm10-3zm-1-7zm-5-6zm-16-3zm-10 20zm1-4zm-8-2zm-3 9zm-19-6zm7-8zm-2-8zm9 4zm11 7zm4 0zm1-19zm-2-3zm-12 1zm4 2zm-2-9zm11-6zm-4 3zm-15-6zm5-2zm-3-4zm-8 3zm3 8zm0 1zm-6 6zm6-3zm1 1zm-1 12zm-11-7zm-9 7zm4-9zm-4-1zm10-8zm-5-4zm7-6zm-2-2zm-4 3zm2 3zm-5-3zm-5 0zm1 6zm2 0zm1 2zm-7-8zm-13 17zm18 16zm10-5zm-11 13zm8 15zm-25-11zm16 15zm-1 2zm13 4zm0 5zm-8 3zm-5 9zm5-6zm4 0zm5 2zm-26 2zm8 19zm-9 19zm1-2zm11-9zm5 15zm1-5zm5-1zm5-11zm-2-5zm-9-4zm10 1zm25 18zm1 3zm-3-12zm2-14zm2-6zm6 0zm-10-7zm-13 10zm-3-19zm1-1zm8-7zm6-2zm28 21zm11 4zm-2 0zm11-15zm9-6zm2-3zm6 0zm8 40zm-18 18zm-24-12zm-6-5zm-11-11zm3 12zm-3 10zm13-6zm-2 10zm-2 19zm24-13zm15 6zm5 10zm-20 20zm28-4zm0 2zm-22 28zm-9 1zm-15-3zm2-24zm3 7zm-15-11zm-5 19zm8 6zm-25 0zm-10-6zm3-6zm-5-2zm11-7zm14-3zm-4-30zm-11 3zm-15-5zm0 2zm5 8zm1 1zm3 5zm-1 8zm-2 1zm-3 1zm-4-1zm-11-5zm-1 1zm-2-4zm1-2zm1 0zm2 1zm0 2zm6 4zm4-1zm0-4zm-6-7zm6-2zm0-5zm-1-4zm-3 2zm-10 9zm1-1zm0 1zm0 3zm-2-2zm-2 3zm-1-1zm-4 1zm6-8zm-1 0zm-2 0zm-2-3zm-1 3zm-8 0zm-1 2zm0 2zm4 2zm2-1zm1 0zm-7 3zm2 3zm3 2zm1-3zm6-1zm-1 7zm3 1zm-7 1zm-4 12zm7 6zm-6 16zm5 6zm7 7zm2-4zm11-3zm3-1zm5 0zm1 1zm5 0zm11 4zm-2 6zm11 12zm-9 6zm9 24zm-33 0zm-14-15zm-1 9zm-10-14zm8 37zm15 15zm-21 10zm68-65zm-3-11zm4 0zm-9-17zm19 5zm23-2zm0 7zm7-11zm89 7zm30-16zm-1-14zm6-38zm1 6zm3 2zm-20-6zm2 18zm-18-1zm14-23zm-1 0zm-1 2zm-1 1zm-3-1zm-1 0zm-2-1zm0-1zm-1 13zm0 1zm-13-5zm-2 1zm-1 0zm-1 10zm6-2zm7 21zm-15 22zm-8-5zm-10-15zm-8 17zm-12-4zm-22-17zm12 7zm10-25zm-5-3zm-19 7zm3-15zm6-8zm29 9zm7 20zm8-18zm-2-15zm-3 1zm7-8zm0-10zm3-6zm-15 7zm-13-1zm4-3zm1 5zm0 7zm-10 4zm-2-2zm-5-2zm2-2zm-1 6zm-11-7zm-6-10zm-3 0zm1-2zm25-3zm-1-3zm-1-1zm-1-13zm-9 7zm-12 7zm1-18zm1-9zm5 2zm5 5zm30 2zm-12 6zm11 7zm8-3zm5 1zm-2 5zm5 0zm0-4zm15 1zm-7 1zm3 8zm3 4zm-1-3zm-6 18zm6 3zm-2-5zm8-3zm3 2zm1-2zm1 2zm1 3zm-4 1zm-2-3zm1 4zm1 0zm0 1zm5 5zm0-4zm4 0zm-3 0zm0 2zm6 0zm-2-1zm0-1zm0-1zm2-1zm0-2zm1-2zm-3 0zm1 3zm-4-3zm1 0zm-2-2zm7-3zm0-1zm-2-1zm-2-3zm-2 3zm-3 1zm0-1zm0-2zm6-10zm9 18zm0 2zm1 0zm1 2zm-7 1zm3 3zm7-1zm0 4zm2 0zm2-2zm1-8zm-4 2zm-3-2zm-426 250zm1-28zm6-3zm0-1zm5-1zm4 2zm0-4zm0-9zm2 0zm7 3zm-3-3zm7 1zm-1-2zm5 2zm-6 2zm-3 6zm1-3zm-2 1zm-2 0zm-2 3zm1 2zm-2 0zm1 7zm-4 1zm0-5zm-3 0zm-2-1zm1 7zm-7 7zm154-27zm14-3zm0 7zm19-40zm-17-6zm-31-16zm-1 2zm0-5zm-7 7zm4 12zm-1 20zm4-7zm16-1zm-27 14zm-14 10zm0-12zm-36-57zm68-50zm0 37zm15 5zm9 0zm16-12zm-9-10zm7-60zm5-15zm-2-11zm3-5zm-16-27zm3 8zm13 0zm-2-3zm1-1zm-15-25zm-4-1zm-8 3zm0 5zm11 9zm-23-6zm-18-24zm-4 0zm-1 4zm0 25zm5 33zm-36-2zm19-39zm-4-6zm-10-7zm-1 6zm-19 4zm11-15zm-6 36zm-56 181zm19 2zm-42 28z" stroke="#686868"/>
<path d="M502 469zm125 36zm-8 6zm-2-5zm-7-3zm-3 6zm-13-18zm-9 0zm5-3zm-21 9zm-16-8zm10-13zm4-4zm-39-19zm5 6zm-5 2zm-4 16zm-9 2zm14 38zm6 12zm-16 1zm3 45zm5-5zm0-6zm5 1zm-2 6zm6 1zm4 3zm1-7zm-5-2zm22-19zm-10 9zm1 17zm2 2zm8-2zm15 1zm0-2zm-11-54zm12-2zm11-3zm12 13zm-6-4zm25-6zm19 13zm-1 7zm1 5zm-11-5zm-8 7zm14 1zm6 5zm-7 18zm2 2zm-16 4zm-5-6zm-1 3zm0 2zm-15-11zm11 0zm-18-14zm1 26zm-5-1zm-4 10zm6-1zm-2 4zm2 3zm-3 2zm-6-4zm-1 3zm7 6zm-6 11zm10-5zm1 3zm0-1zm3-4zm-2-1zm-2-6zm1 1zm1 1zm5-1zm1-1zm-1 7zm-1-3zm-1 3zm0 5zm6-4zm4 1zm0 3zm2 2zm2-1zm0-6zm-2-3zm-1-2zm-3-1zm7-6zm-2-2zm-5 0zm0 3zm3 0zm-5 3zm-3-1zm-3-3zm0-7zm13-4zm8 9zm11-2zm2 0zm9 0zm4 2zm-7 6zm-5-7zm-1 15zm10-6zm1 8zm1-1zm-1 7zm-8-7zm-2 1zm-3 2zm0 2zm-6 0zm-1-3zm3 1zm0-5zm0-6zm-2 0zm-2 2zm0 2zm-3-1zm-1 0zm-1 2zm-3 1zm3 9zm-1-1zm-2 5zm3 3zm0-2zm-2 2zm2 8zm-1-2zm2-4zm4 7zm7-4zm-2-1zm1-1zm0-4zm-3 1zm-2-2zm3-4zm9 3zm6-2zm3 0zm1 4zm-1 5zm-9 5zm-4-2zm1-1zm3 9zm1-1zm2-1zm6 2zm-4 4zm4 1zm-8 0zm-3 5zm-6 0zm-2-3zm-1-1zm4-9zm-1-1zm-5 4zm-1 0zm-5-3zm-1 0zm0 1zm0 4zm6 2zm-7 5zm-1-4zm-6 3zm1 1zm-8 0zm5-10zm-2 1zm-2 2zm-1-3zm-1-1zm0-2zm3-1zm7 4zm3 2zm0-7zm-3-2zm4-2zm-10-4zm-5-5zm6 6zm-2 6zm-6 0zm-6-6zm4-1zm0-3zm2 0zm-6 0zm-2 2zm-2 0zm3-4zm-2-1zm-2 1zm-3 0zm2 4zm3 5zm-5 2zm1 2zm-1 5zm1 0zm0 1zm1 1zm2-2zm1 3zm0-1zm3-5zm2 1zm5 2zm0 2zm-6 4zm2 1zm2 2zm-3 0zm-1 0zm0-1zm-4 2zm1-1zm0-3zm1 0zm-5 1zm0 4zm-2 0zm-1-2zm-4 2zm-3-1zm2-2zm1 0zm0-4zm1 0zm0-3zm0-4zm-3 2zm1 2zm-5-1zm1-4zm-3 0zm-3 6zm0 5zm7 4zm-8 0zm-6-7zm-1 0zm0 2zm-3 5zm0-6zm2-1zm-4-1zm-2-3zm-1-1zm0-3zm5 1zm-1 0zm6-1zm1 2zm3 4zm0-3zm-2 0zm3-3zm-1-1zm-1-7zm0 2zm-5 1zm0 2zm3 2zm-8 0zm0-1zm4-4zm-5-4zm-2-4zm10-1zm0 2zm-2 1zm1 1zm1 1zm2-1zm0 2zm9-1zm-2-1zm0-1zm-2 5zm1 1zm-2 0zm3 5zm-1-2zm3 1zm0-4zm3 4zm3 1zm0-2zm4-2zm-1-1zm-1 1zm2-2zm-2-4zm-3 1zm3-5zm2-1zm-1-3zm1-1zm0-1zm-4-3zm-2 0zm2 5zm0 1zm0 1zm-2 0zm-8 0zm6-6zm0-5zm-7 1zm3 0zm2-5zm0 3zm7 2zm0 2zm2-9zm0-1zm-2 1zm-3 1zm2-2zm3-2zm1-4zm-3-1zm0-2zm-6 3zm0-2zm-5-3zm0 2zm6 7zm-5 1zm-3 3zm-3-3zm-4 1zm3-2zm2-3zm2 2zm-1-1zm0-3zm1-5zm-4 2zm-1 0zm-2-2zm0 4zm2 0zm-5 2zm-2-6zm-2 7zm3 1zm1 13zm4-4zm2-2zm1 3zm2 2zm-3 1zm0-1zm-1 7zm-5 3zm2-5zm-5 0zm1-1zm-3 0zm0 2zm3 1zm-1 3zm-3-5zm-10-6zm-2-2zm2-2zm4 4zm-1 3zm2-1zm0-2zm3 2zm1-8zm-6-3zm0-3zm4-1zm-3-7zm-1 1zm-2 1zm1-1zm-4 8zm1 3zm-3 2zm-3-5zm-5-3zm-1 1zm-5 8zm0 4zm2 2zm9-3zm1 1zm-1 3zm1 1zm-5 4zm2-2zm1 2zm-4 3zm-3 0zm0 1zm-2 4zm2 12zm-2-4zm4 0zm1 4zm2-2zm1 1zm2-1zm-1-2zm1-3zm5-8zm0 2zm-3 1zm2 3zm1 0zm1-1zm3 0zm-2-5zm4 0zm1 3zm4-3zm1 0zm-2 5zm-1 1zm-4 2zm7 4zm-3 3zm-10-6zm1 8zm-2 1zm2 5zm2-3zm-1 1zm1-2zm9 2zm-4-1zm-2 6zm6 1zm-2 2zm-2 0zm-1 1zm-1 1zm-4-2zm1-1zm1 1zm-6-5zm0 6zm-3 1zm-3-5zm-1 0zm3-6zm1 0zm1-1zm-7 10zm0 1zm-2 0zm-3 9zm2-1zm2-3zm-1 0zm2-3zm5 3zm3 12zm-5 0zm-2 0zm-2-3zm0-2zm-2 0zm-4 4zm1 3zm0 1zm2 0zm1-1zm3 1zm-4 4zm-3 6zm6 3zm1-6zm4 0zm-1 0zm-1 1zm0 3zm1 2zm0-3zm2 3zm1 0zm1-8zm1-2zm-4 2zm-3 0zm1-3zm0-1zm3-2zm1 1zm2 0zm1-1zm1 1zm1-1zm2 0zm3-1zm0 1zm-1 1zm1 1zm-2 0zm2 3zm-2 1zm-5 0zm0 1zm3 1zm-3 4zm1 2zm2-1zm-1-1zm3-1zm2-2zm-3-2zm1 0zm2 0zm4 1zm-3 6zm3-1zm1 1zm1 0zm1-1zm0-1zm0-3zm1-2zm-6-3zm2-2zm-2-2zm1-1zm0 1zm1-1zm2 0zm-1-2zm1-1zm2-4zm-1 0zm-1-1zm-4 2zm0 1zm1 2zm-3 2zm-1 0zm1-3zm-3 3zm-1 0zm-3 0zm2-2zm0-2zm1-2zm2 1zm1 0zm-4-6zm-2-2zm0-1zm2-1zm1 0zm3 3zm1 0zm3-1zm0 4zm1 1zm2-1zm1 0zm1 0zm0-5zm8 1zm-3 0zm-1 5zm-3 1zm1 1zm0 1zm-1 1zm0 4zm5-2zm0 1zm3-6zm1 0zm1 0zm2 6zm0 1zm2-2zm-3-10zm-2 0zm-1-2zm7-1zm4 1zm-1 0zm-1 5zm4-2zm1 2zm1-4zm2 1zm1 0zm3 0zm0-1zm-5 3zm3 6zm1-1zm0 1zm-3 4zm-4-3zm2 0zm-2-4zm-2 4zm-2 3zm0 5zm-1 1zm1 2zm1 0zm1-1zm-1-1zm5 1zm-1-1zm8 1zm-3-1zm-1 0zm1 6zm-4 4zm0-1zm0-2zm-2-4zm-5 4zm1 3zm-4-2zm-3 1zm1-1zm3-3zm-2-4zm0-2zm2 0zm-3-1zm0-1zm-1 2zm-5 2zm1-3zm0-3zm0 1zm-2 2zm-4 2zm2 1zm1 1zm-1 0zm1 3zm2-2zm2 1zm-1 6zm-2 0zm-2 0zm1-1zm-3 1zm3 2zm2-1zm1 0zm-3 5zm0-1zm-2 2zm-1 7zm3 0zm4 0zm-3-2zm0-2zm6 1zm1 1zm-1 0zm3 4zm-4-12zm-1 0zm3-2zm6-1zm3 7zm2 0zm9 2zm0 4zm-7 2zm-7-4zm-1 6zm12 6zm-4 6zm-8-5zm-5 1zm4-3zm-13-3zm1-1zm-3 3zm2 8zm-4-3zm-3 0zm-3-2zm0 5zm0 1zm-2 0zm-1-1zm-1-1zm-4 1zm0-3zm0-1zm2-1zm3 0zm2 2zm-1-5zm-5 2zm-1 0zm3-3zm0-1zm2-2zm6 1zm-2 3zm3-1zm1 1zm0-2zm-1-1zm0-1zm3-1zm-1-2zm-3 1zm0-1zm-1 1zm-2 0zm2-6zm5-1zm-1-6zm-7 5zm-2-2zm1 0zm0-2zm-2-3zm-1 1zm0-1zm-3 1zm0 4zm1 0zm1 1zm0 1zm-2 0zm1 2zm5 0zm-2 1zm3 3zm-3 1zm-1 1zm-3-2zm-1 2zm0-1zm-3-2zm1 3zm-5-1zm3-4zm-2-1zm3-1zm0 1zm0 2zm1 0zm0-1zm1-3zm0-3zm1-1zm0-3zm-4 3zm-2-2zm0 3zm1 1zm1 1zm-6 1zm-1-1zm2-2zm0-2zm1-2zm-1 0zm-2 1zm0 2zm-2-3zm0 1zm-1 0zm2 3zm0 3zm-1 0zm-1 3zm1-1zm4-1zm1 1zm-1 1zm-1 3zm1 0zm1 1zm-2 0zm-3 1zm-2 2zm3-1zm-1 2zm1 0zm-1 1zm-1 2zm2 2zm-1-2zm1-1zm1 3zm1-1zm1 1zm1-2zm0-2zm-1-1zm0 1zm-2 0zm1-3zm3 0zm1 3zm0-1zm1 0zm5-2zm-2 2zm-1 1zm2 1zm0 2zm0 1zm-1 0zm0-1zm-1 0zm-2 1zm1-1zm-1-2zm-1 0zm-1 4zm0 1zm0 1zm3 1zm0-2zm4-1zm0 2zm0 1zm-2 0zm-1 0zm3 2zm-1 1zm-4-2zm-4 2zm0-4zm1-1zm-1-1zm-2 0zm-2 2zm1 0zm0-1zm-1-1zm0 1zm-1 0zm-1-1zm0 1zm0 2zm2 1zm0 2zm-1 3zm0 1zm4-2zm2 2zm-3 2zm3 1zm0 2zm-5-1zm-2 2zm1 2zm-1 0zm0 1zm0 1zm6-3zm2-1zm6 0zm0-4zm-1 0zm-1 3zm-3-2zm1-1zm1-1zm1-3zm1 1zm-1 0zm3 0zm0-1zm4 2zm-3 0zm0 3zm6 2zm1-2zm0-1zm-1-4zm2 0zm1 1zm0 2zm2-3zm1 3zm-3 2zm0 1zm0 1zm4 1zm-5 6zm-2 1zm-3-5zm-3-1zm1 4zm0 1zm-1 2zm1 1zm3 3zm1-1zm4-2zm6 0zm-1 1zm-7 13zm-5-7zm-2 2zm3 3zm-11 2zm0-5zm5-5zm2 0zm-5-5zm-4 5zm-3-4zm-3-1zm1 5zm3 3zm1 0zm0 3zm0 2zm-2-1zm-1 4zm1 0zm1 1zm6 10zm4 14zm-3-5zm-2-1zm1-2zm7 0zm1-10zm8-6zm1 6zm12 2zm-7 5zm19-23zm-7 1zm-11 7zm3-9zm-3-2zm2 1zm1-3zm0 1zm5 4zm6-15zm-3 1zm-3 4zm2-1zm-9-3zm2-4zm1 1zm3-6zm3 5zm2 2zm-1-7zm12 9zm2-5zm9-4zm5 2zm5-7zm0-15zm1-4zm-8-4zm-1-2zm7 2zm16 6zm1 0zm-2-8zm2-4zm-9-14zm-9 11zm-2-3zm-3 6zm1 0zm-7-11zm7 0zm5 3zm1-14zm-1 2zm-6 2zm-1 1zm-1-1zm1 2zm-4-1zm4-5zm1-3zm-1 0zm-5 1zm1-1zm-1-4zm5 0zm0 1zm3 1zm1 3zm1 0zm3 0zm1 1zm3-7zm5 5zm0 7zm-2-4zm6 0zm0 2zm2 3zm3 1zm0-1zm-6-8zm7 0zm2 2zm3-1zm-1-3zm4-3zm2 7zm-2 3zm6-1zm1 3zm-4 1zm-4-1zm-4-3zm12 11zm-6 2zm-1-4zm14 1zm-3 4zm7 6zm3-15zm0-2zm2 1zm-10-1zm0-6zm-3 1zm-1-2zm10 0zm4 0zm3-4zm6 1zm1 0zm5 1zm-10 9zm3-4zm-6 8zm4 6zm18-18zm-3 2zm-4-6zm6 1zm3 0zm7 2zm1-1zm6 1zm3 3zm-1-5zm3 1zm4-1zm0 4zm30 6zm-4 0zm0-1zm-7-5zm2-3zm1 1zm6 2zm0-4zm8 0zm2 0zm1 4zm-6 3zm2 3zm1 1zm3-2zm-3-2zm5 2zm-1 1zm7 3zm-2-3zm0-1zm1-5zm-2 0zm-4 1zm0-3zm0-3zm4 1zm1 2zm3 3zm1 0zm1 1zm3-7zm1 1zm3-1zm6 0zm-2 3zm1 1zm1 3zm-2-1zm-5 1zm2 3zm5 0zm-9 2zm-3-4zm13 4zm1-5zm-1-6zm6 2zm2-14zm-4 0zm2-4zm-4 1zm-1-2zm-1 9zm6 3zm-11-4zm-7 5zm-4 2zm0-7zm4 2zm3-2zm0-1zm0-2zm-3-1zm-4 0zm3 1zm3-3zm2-1zm1-1zm1 2zm0 2zm5-2zm0-5zm0-2zm0-2zm-1 0zm-2-1zm-4 0zm2 4zm-7 3zm-1-4zm3 0zm-5-4zm3-3zm1-3zm7 1zm0 1zm-2-1zm4 3zm0-5zm7 4zm-4 2zm2 3zm-2 2zm2 3zm1 0zm-1-2zm2 0zm1 3zm2-4zm-2-2zm3 4zm5 1zm-14-32zm-7-3zm-1-4zm-5 7zm12 3zm-5 8zm2 4zm-4 1zm-3-2zm0-2zm-4 0zm-4 3zm0-1zm-4-1zm-3 1zm-1 3zm1-4zm0-1zm-5-23zm-9 18zm8-4zm-1 14zm-2-1zm-8 3zm3 0zm-4 6zm-2 3zm-1 1zm7 2zm4-3zm-2 1zm0-1zm0 4zm8-9zm4-2zm10-1zm-3 0zm-4 3zm0 2zm2 3zm1-2zm4 3zm-14-2zm1 5zm1 5zm-3 2zm6 1zm-2-3zm5-2zm1-1zm3 2zm-1 1zm-4 2zm0 5zm0 1zm4 2zm0 1zm-2-2zm-2 1zm1 2zm-3-5zm1 0zm-5 0zm1-2zm-2 4zm0 2zm-1 0zm-7-3zm-1-2zm4 0zm3-3zm-3-6zm-6 5zm1-4zm-3 1zm-3 1zm0 5zm-13 7zm0-7zm-4-3zm3-1zm-1-3zm12 4zm1-3zm-6-6zm3-4zm3 3zm-12-5zm2 8zm-4 0zm-4 0zm2-3zm-5-8zm-5 3zm2-3zm-4 17zm4-4zm7 8zm0 6zm0 1zm-8-6zm-5 0zm-4 5zm-2 1zm-3-14zm2 5zm-2 1zm-7-7zm-1 7zm0 1zm2 0zm-1 5zm-13-13zm0 1zm10 0zm-5-8zm-2 6zm0-5zm-6-6zm2 0zm4-4zm7 7zm9-1zm-2 1zm1 6zm4 2zm4-2zm1-3zm-2 0zm2-1zm-2-13zm-5 1zm7-6zm0-4zm-10 7zm-2 3zm-3 1zm-4 1zm-6 0zm0-2zm-6 0zm4-3zm-4-9zm11 1zm3 0zm-11-4zm9-10zm10-2zm-3 2zm21 21zm6 2zm3-6zm1 8zm6-4zm-4-30zm-5-20zm-1 19zm-22-9zm-17 14zm-7-5zm7-3zm0-1zm4-6zm8-10zm4 5zm4-10zm1 1zm2-6zm-28-5zm0-10zm37 8zm-2 4zm21 4zm15-1zm-7 8zm-1 10zm20-7zm-4-1zm16 6zm-1 5zm18 9zm-435 227zm7-14zm-1-6zm5 5zm2 0zm3-8zm2 14zm0 11zm-16-1zm0 14zm75-44zm6 21zm9-9zm-5-2zm9-5zm-3-5zm7 0zm1 14zm3-4zm7 2zm-1-8zm-4-4zm19 8zm-7 1zm-3 5zm-1 8zm3 1zm2 0zm3 21zm-6 6zm23-16zm4 1zm11-2zm-3-8zm-9-14zm-4 0zm-2-5zm-4-5zm6 5zm10-5zm3-1zm-5 5zm2 8zm1 0zm2-1zm6-11zm12 4zm-8 11zm23 2zm-3 3zm-4-7zm2-4zm5 1zm6-10zm1-13zm-9-2zm-2 7zm-4 4zm0-5zm-9 6zm-4-5zm3-4zm-1 2zm-3 0zm-1-7zm2 0zm4 0zm6-3zm-3 1zm-6 1zm0-5zm-2 1zm3-10zm3-1zm4 1zm-1 6zm0-2zm2-1zm3-2zm1-1zm2 1zm2 5zm-4-1zm9 2zm6 0zm-1-2zm-2-1zm1-4zm-1-4zm2-5zm-4 1zm-2-1zm0 2zm-7 2zm1-2zm0 1zm-1 0zm-1 0zm1-1zm4-5zm-3 2zm1-3zm-2-2zm3-1zm0 1zm0 1zm6-3zm-1 2zm5 4zm-2-4zm3-1zm-3-3zm1 0zm-2 1zm-3 0zm0-1zm2-4zm-1-1zm1 0zm3-1zm1 3zm1-1zm-1-1zm-3-8zm-1 0zm-1 0zm0 1zm-1 2zm2 1zm1 2zm-5-1zm-2-1zm1-1zm1 0zm1-2zm0-1zm-2-1zm-1 2zm1 0zm-4-1zm0-1zm-1 1zm1 1zm0 8zm1-2zm3 0zm-1 4zm-1 3zm-1 0zm1-3zm-2 1zm0-1zm0 3zm-3-3zm-3 0zm-2-2zm0-2zm5 2zm0 1zm-2-5zm2-3zm1-3zm-2 2zm-3 1zm0-3zm-2 3zm2 2zm-5 2zm-1-2zm3-4zm-3 1zm1 1zm-2 0zm-3-3zm1 3zm0 7zm2-1zm3 0zm0 2zm0 1zm-1 2zm-4 4zm0 4zm2 0zm1 1zm3-1zm0-4zm0-1zm0-1zm1 1zm0 1zm0 1zm2-2zm4-1zm1 1zm0 2zm-3-1zm1 4zm-3-2zm-1 2zm0 1zm3 1zm0 1zm3 0zm-9 5zm0 1zm-1-1zm2-6zm-5 1zm-5 6zm-1 0zm1-2zm2-5zm-14 0zm4 2zm2-3zm-3-2zm-3-4zm8 1zm2 2zm1 3zm-2-8zm-1-4zm0-2zm6-1zm-3-1zm3-7zm-1 1zm-5 4zm-2-2zm0-2zm-6 2zm0 4zm6 1zm-1 4zm0 2zm-4 0zm1 0zm-4 0zm-1-1zm-2-1zm-4 0zm2 1zm2-9zm2 0zm1-3zm-5 3zm-9 6zm0 7zm-1 3zm2 2zm1 0zm2-2zm0-3zm3 2zm1 0zm-1 7zm3 0zm4 1zm-3 0zm1 1zm1 3zm-6-3zm-4 0zm-3-4zm0 2zm-1 2zm1 9zm2 9zm7 1zm2-6zm0-1zm3-3zm-2 1zm-5 1zm2-5zm-2 0zm2-2zm6 1zm4 6zm3 0zm-1-4zm5-1zm-1 3zm-2-1zm1 5zm6-1zm-1 4zm-10 1zm-3-3zm0 7zm4 5zm7-5zm-1 14zm-9-2zm-9 0zm-16-3zm1 2zm1 3zm-7 0zm4-16zm2-11zm1 0zm-7 2zm-1 1zm-9 4zm3-2zm2-4zm-8 17zm6 4zm-8-2zm-3 2zm-8 3zm5-6zm-20 6zm14-23zm5-3zm8-15zm-4 3zm6-2zm6-2zm4 4zm1-1zm-2 1zm1 1zm4 3zm7 3zm2-10zm-4-9zm-8 2zm10-7zm-1-4zm1 0zm0-9zm-8 3zm-3-6zm2-6zm9 6zm2-19zm-4 0zm-6 2zm0 3zm20-31zm16-3zm5 13zm-2 0zm-2 1zm5 8zm-1 2zm-4 0zm-3-3zm-5 2zm-4 1zm-2-13zm2 17zm0 3zm-5-1zm3 5zm0 6zm-8-2zm1 4zm-2 4zm0 7zm12-4zm1-8zm2 3zm2-3zm3 2zm0 5zm-4 0zm4 8zm-1-2zm1-4zm4-1zm-1 1zm0 1zm1 0zm3 5zm1-4zm0-1zm-3 1zm2-3zm1-2zm-1-2zm0 1zm-1-1zm-1 1zm-3-1zm2 1zm-2-4zm-1-1zm2 1zm1-1zm1 2zm2-1zm1-1zm-2-8zm-2 0zm-2 7zm-2 0zm-4-6zm9-3zm4 0zm3 0zm0-1zm4 2zm-1-2zm2-4zm3 1zm-1 2zm-1 2zm5 9zm-2 0zm-3-3zm-1 3zm-1-1zm-3 1zm3-3zm-5-1zm0-3zm-1 4zm1 2zm2 2zm3 2zm0 1zm-1 4zm-3-3zm-3 1zm2 3zm-2 6zm2 0zm3-2zm2 1zm-1-3zm0 1zm4 3zm3-1zm-1 1zm1 1zm2-3zm0-2zm-2 1zm-1 0zm1-1zm1-6zm-2 0zm0 1zm-1 1zm-3-1zm2-2zm-2-3zm2 1zm2 2zm1-1zm3 1zm6-1zm-2 1zm2 4zm-2 0zm-2 0zm-2-2zm0 2zm2 3zm1 0zm-2 0zm-1 4zm0 1zm1 0zm0-1zm2-2zm3 1zm1-3zm-2 1zm3-2zm1 2zm0 3zm1-2zm3 0zm-1 1zm0 2zm3 0zm0-4zm-3-1zm1 0zm-1-2zm2 0zm1-4zm-1 1zm-3 0zm0-1zm-1-3zm3 1zm2-1zm0-3zm-1-1zm1-1zm-1-3zm-1 0zm-1 0zm1 1zm-2-2zm-3 1zm1 4zm1 2zm-3 0zm-1-1zm1 0zm-1-1zm-2-1zm1 3zm-1 0zm-1 0zm-1 0zm-1-3zm3-4zm3 2zm-1-3zm-6-7zm2 0zm1 1zm2 1zm6-2zm-1 3zm-1 2zm0 1zm2 1zm0-1zm0-1zm-1-1zm2 0zm3 3zm0-1zm0-3zm-1-1zm-1 0zm-1-2zm3 1zm-7-2zm0-2zm3-1zm-1-1zm-2-3zm4 2zm2-10zm-4 3zm-1 1zm1 1zm0 1zm-2 0zm-1 0zm-2-2zm0-4zm0 2zm-3 9zm1-3zm1 4zm2 1zm1 1zm-6 0zm-5-3zm-2 0zm-1 4zm-1 0zm-5-3zm2-1zm2-2zm0-6zm1 3zm4-2zm2-1zm-1-1zm2-5zm-8 0zm-2-8zm7-3zm7 1zm1-2zm-2 5zm-2 2zm3 4zm4 1zm7-6zm0-3zm0-12zm-2 0zm0 3zm-6 4zm-2 0zm-3-1zm4-11zm3 3zm1-19zm-3 10zm-12-2zm-2 0zm-1 13zm-10 7zm33-46zm-3-17zm-4-48zm7 5zm-19-4z" stroke="#00ee00"/>
<path d="M464 489zm7-4zm20-2zm-1 5zm-10 1zm4 8zm7 12zm9-13zm-4-6zm5-8zm7 2zm2-3zm-2-10zm-1-12zm-3-9zm5-4zm-3-34zm137 41zm-2-111zm-27 11zm-5 5zm-12 19zm3-31zm6-1zm-6-9zm-1-9zm8-1zm14-2zm-5 11zm-7 4zm11-2zm7-10zm-9-14zm-1 2zm0-9zm7-21zm-21 32zm-29 51zm-33 72zm15-20zm-8 17zm0 3zm20 1zm4-3zm3-3zm-13-10zm1-7zm7 5zm1 0zm1 0zm-20-21zm34-12zm-7 4zm9 14zm4 4zm12-3zm-8-13zm23 1zm-9 26zm27 15zm-34 2zm-3-19zm-3 2zm1-3zm-3 10zm-15-6zm-2 7zm12 4zm-4 21zm3 4zm-8-2zm1 9zm-3 4zm2 4zm3-7zm9-9zm3-2zm-1-5zm-3-4zm10 3zm20 2zm4 0zm-32 44zm7 6zm-9-19zm-12 4zm-8 8zm-2 6zm-20 1zm2 0zm-7-8zm-1-5zm19 4zm5-1zm0-11zm7-5zm-7-3zm-4-8zm11 0zm-5-15zm1-2zm-10 12zm-4-2zm-13 7zm15 0zm-1 9zm-10 4zm-15-5zm1 0zm2-8zm-6-14zm5 11zm-10-1zm0 1zm-4 5zm0 25zm16 12zm3 4zm-19 2zm6-6zm0 14zm7-3zm2-1zm-7 12zm11 6zm-16-5zm-6 17zm16 15zm-6-6zm10-7zm-2 1zm21 4zm-12 7zm18 12zm3 4zm7-12zm1 0zm-8-34zm-18 8zm13-10zm21-9zm31-6zm25 7zm-2 19zm-28 15zm3 4zm28-10zm-6 14zm-6 12zm-7-4zm-20-9zm-12-6zm-2 15zm-3 1zm50 16zm123 1zm-31 16zm10-19zm-9 1zm-22 0zm6 12zm4 7zm-47-11zm-21-8zm23 6zm18-2zm-10-2zm-3-3zm14 14zm11-11zm-6-8zm7-5zm-9 0zm-7-22zm1-6zm-11 12zm0 9zm-14-6zm-3 7zm13-10zm-6-13zm6-13zm-3 1zm-21 9zm3-13zm40 3zm15 15zm15 7zm-12-2zm8 23zm34-7zm-243-29zm-7 0zm8-11zm-3 7zm6-11zm-4-6zm1 1zm-15 10zm3-1zm-18 15zm-7-22zm-12 16zm-17 31zm-8-11zm-12-33zm-19 12z" stroke="#00e6f0"/>
<path d="M472 470zm-4 9zm-18 16zm28-3zm5-5zm2-2zm6 2zm-1 1zm0 5zm-4 10zm-6 8zm8-1zm3 1zm4-1zm-1-10zm-5 2zm7-6zm6 1zm-6 10zm0 4zm3 0zm12-6zm-3-3zm-2 1zm-2-4zm4-2zm1-3zm-1-5zm0 1zm-1-1zm-7 5zm2-4zm-1-9zm8 3zm-1-4zm3-2zm-5-1zm2-4zm3-1zm-1-1zm-2-1zm3-3zm-5 0zm-4 5zm-1 7zm-9-2zm3 0zm-11 2zm-2-2zm25-27zm4-4zm-15-6zm-1-4zm-15 6zm177 68zm-8-2zm-9 0zm3-54zm-24-86zm-13 6zm0-4zm-9 13zm-3 0zm-10-5zm0 1zm-2-2zm1-1zm24-12zm-1-3zm1-1zm-11-12zm10-22zm17 2zm-8 23zm2-6zm12 5zm-1-18zm-9-46zm-11-5zm-14 18zm-18 11zm-8 16zm-8 14zm-9 24zm22 3zm-44 16zm-5 10zm18 15zm-19 39zm10-9zm-3 3zm-1 4zm0 1zm12-2zm-3-7zm5-10zm14-8zm-1 0zm-4 7zm5 0zm-7 4zm-3-5zm-3 2zm2 3zm-1 0zm1 9zm-1-2zm0-1zm4 8zm1-4zm3 6zm4-4zm1-4zm-2-6zm6 2zm0 1zm1 4zm-3 5zm3 0zm5-11zm7-5zm-11 2zm-2-1zm4-10zm4 0zm3 2zm1-2zm-4-11zm-3-5zm-1-3zm0 1zm-8 10zm-13-3zm5 2zm9-15zm-7-5zm13 0zm4 5zm7-1zm0 5zm7 5zm0 10zm1 0zm2-9zm5-5zm8 3zm-3 6zm0-1zm4 3zm1-5zm1-9zm-4-3zm11-9zm0 13zm12-7zm-5-6zm5 2zm3 0zm6 23zm-6 1zm-8 2zm2 0zm-1-8zm-3-5zm8 31zm3-10zm4 9zm-8 9zm-21 2zm0 2zm-1 3zm-4-2zm-2-9zm4-3zm5 6zm5-9zm-6-5zm-6-6zm-2 3zm-2 10zm-3-3zm-2-3zm0-3zm-1 1zm-8 5zm-1 3zm2 3zm0 4zm1 1zm6-5zm4 5zm-12 3zm-1 3zm3 1zm-2 0zm10 2zm1 12zm1 1zm-5 1zm-8-2zm7 6zm-3 4zm-3-1zm-1 4zm5 1zm8 1zm-3-7zm0-2zm2 1zm8-3zm1 13zm10-11zm-10-5zm1-2zm-1-5zm4-1zm5 1zm2 1zm15 8zm-1-6zm8 3zm0 10zm1-1zm-11-5zm-6 13zm15 23zm3 1zm-1 7zm-6-1zm1 1zm-7-2zm3-2zm1-6zm-9 9zm-16 1zm-1-1zm-5-6zm2 0zm7-1zm4-5zm-4-7zm1-4zm-5 6zm-1 1zm-3 3zm-4-2zm-5-12zm0 2zm-1 5zm-1 8zm-1 0zm-2 0zm0 7zm9-4zm3 4zm-5 0zm1 5zm4-3zm-11 4zm-8 1zm-3 1zm5-6zm1-6zm-1-2zm-3 5zm-5-3zm0-1zm-1-1zm-3 1zm1 5zm-6 8zm-13-5zm4 1zm-1-9zm1 2zm6-2zm-2 4zm4-1zm3 0zm-2-10zm-4 5zm-2-10zm-6 2zm-1 0zm1-7zm11 5zm11-5zm-3 5zm0 2zm-2-1zm-1 0zm0 1zm3 8zm4-5zm5-7zm2-9zm-2 0zm-3-1zm-2-1zm-6 7zm-1 0zm1-2zm3-3zm1-6zm-1 3zm-5-3zm3 0zm-1-1zm-1-1zm10-2zm0-7zm-1-3zm-10-4zm2 7zm5 2zm-3 2zm-3 1zm-7-13zm-5 5zm-1-1zm0-4zm-2 9zm0 4zm0 2zm0 4zm3-2zm10 4zm-1 4zm-2 0zm-4 4zm-1-5zm-5 2zm0 3zm-5-2zm-4-4zm0 5zm-9-2zm3-3zm3-7zm5-1zm-3 4zm5 0zm0 1zm1-2zm-2 0zm2-3zm1-3zm-4 2zm-3-3zm0-4zm2-5zm-10 0zm2 1zm-2 2zm7 5zm-3 0zm-7 2zm0 1zm-2-1zm0-2zm3-8zm-3 4zm-11 3zm2 1zm0 1zm-2 10zm3-2zm9-2zm1 5zm-5 0zm1 4zm2 4zm-2 0zm-2 4zm0 2zm-2 4zm8 1zm2-2zm4-7zm1 3zm1 0zm0 1zm2-2zm3 3zm1 5zm4-3zm-5 6zm-6-3zm-4-3zm3 6zm-2 4zm1 4zm5 0zm-1-1zm7-3zm-5 3zm2 7zm-3 1zm-1-4zm-1 2zm-6 4zm0-2zm-7 0zm1-1zm1-9zm-5-2zm-3 7zm4 5zm-3-1zm4 4zm-2 7zm2 1zm2-1zm-1-1zm8 1zm2-1zm5 0zm8-6zm0 6zm-4 0zm-2 2zm1 0zm5 2zm-3 1zm3 2zm-11-1zm3-4zm-6 9zm-1 5zm3 1zm1 0zm11-4zm-4 4zm-3 1zm7 2zm-2 0zm-3 3zm-1 0zm-9-2zm0 1zm-7 1zm-1 0zm5-3zm-10-4zm-3 2zm0 7zm0 1zm3 0zm0 1zm3 5zm0-5zm8-1zm-2 2zm-4 8zm4 4zm-3 0zm8 2zm7 3zm2-10zm-10 0zm1-2zm3-4zm2 0zm4-3zm-2 4zm6-2zm7 0zm9 5zm-1 0zm-3 2zm5 1zm0 5zm-14 1zm10 9zm3-9zm6 6zm6 8zm-1-14zm0-4zm-7 2zm-1-14zm6 3zm3-11zm4 0zm-13-3zm2-1zm0 4zm1 5zm-1-1zm-3 1zm-4 2zm3-6zm-3-1zm-1 1zm-2 6zm-8-1zm2-2zm-3-12zm3 0zm7 6zm1-1zm-9-10zm-2-1zm0-4zm2-2zm-1-2zm0-1zm13-1zm4 2zm1 11zm3-1zm6 0zm2-5zm-2-2zm-1 1zm6-4zm10 1zm3-1zm-6 9zm7-3zm-1 3zm0 2zm-12 0zm2 5zm-4 10zm18-12zm2 6zm-3 5zm-1 4zm12-7zm-6-10zm-1-1zm-5 0zm6-11zm11 1zm1 8zm4-3zm3 0zm6 3zm-2-3zm-4-2zm-1-4zm6 1zm6-1zm2-2zm2 2zm6-1zm1 14zm-7-3zm-6-1zm-1 0zm0 2zm0 2zm5 2zm4 0zm1 5zm-3-2zm5 8zm-12 0zm-4 3zm0-11zm-3-3zm1 6zm-3-1zm-6 2zm2 1zm3-1zm-3 2zm1 6zm2 2zm0 5zm-4 3zm-1 1zm7-3zm0 6zm4-4zm-1-1zm1-4zm3-4zm1-1zm1 3zm-1 4zm0-1zm2 0zm2-1zm1 1zm4-4zm1 3zm-9 5zm0 3zm0 4zm1 1zm-3 3zm10-2zm3 3zm0 6zm-4 3zm-5-6zm-1 1zm-2 0zm-8 5zm6-11zm-5-1zm1-1zm-3 0zm-12 7zm-10 0zm4 2zm4-16zm2-2zm3-9zm-9 12zm-12-3zm4-7zm-4 2zm-2 2zm-2 1zm-6-7zm1 11zm0 12zm1-3zm10 3zm-7 3zm29 7zm6 3zm2 1zm6-5zm4 4zm3 3zm0-5zm-1-2zm5 1zm1 0zm-2 4zm1 5zm-11-1zm9 9zm1-1zm-12 18zm-57-34zm-20 27zm213-22zm-6 4zm-1-1zm-1-7zm-6-1zm-6 0zm2 12zm-9 13zm-7-9zm5 1zm5 4zm-1-17zm1-4zm-6 4zm-3 5zm-10 0zm1-9zm-6 4zm-6 1zm12 12zm3 2zm-14 4zm0 3zm-42 16zm7-25zm-3 0zm-11 5zm-16-7zm14 0zm-3-8zm-10 1zm1-4zm8-1zm10-4zm1 0zm-5 5zm0 7zm3 1zm2 0zm0-3zm4-1zm3-4zm-2-1zm15 6zm2-1zm-11 2zm5 5zm-1 6zm1 2zm10-2zm-5-4zm17 2zm4-12zm-2 3zm-12-1zm6 1zm-1-6zm-2 0zm1 1zm2-6zm7-3zm-11-2zm2-2zm2 0zm-1-2zm0-3zm-3 0zm-2-1zm-1-1zm3-1zm9-4zm-4-2zm1-1zm2-7zm-2 2zm1 2zm-4-6zm-3 2zm-5 2zm-8 2zm-3-5zm1 10zm2 0zm-1 2zm0 2zm8 0zm2 10zm-18 4zm2-7zm-9-5zm1-1zm-4 11zm-5-1zm-5-2zm-1 3zm1 0zm-7-3zm2 1zm2 1zm-3-8zm2-3zm1 2zm4-2zm3-4zm-7 1zm1-2zm-1-7zm-2 3zm-1 0zm6-3zm4-3zm6 2zm0-1zm-3 11zm5-2zm0-2zm8 3zm-12-27zm0 3zm-1 7zm6 3zm-9-3zm-1 0zm-2-3zm-6 4zm-4-1zm1-1zm6-3zm-7-1zm10-6zm2 5zm3 1zm-10-16zm10-4zm5 8zm18-1zm-5 7zm4 2zm8 13zm-4-9zm6-5zm1 10zm41-2zm2 3zm-5 2zm-4-1zm-8-10zm-4 0zm-4 0zm0 4zm0 9zm0 6zm2-2zm8 2zm-2 5zm1 2zm-5 2zm-2-2zm3-1zm-7 12zm12 1zm3-4zm-7 0zm2-5zm11 3zm-4 2zm1 7zm4-3zm2 2zm5 1zm2-6zm-5 0zm4-13zm-4 5zm-8-6zm2-4zm-1-3zm8 0zm3 1zm3-2zm1 7zm3 0zm4-2zm0-1zm2 7zm-4-1zm-4 15zm13 3zm1 1zm-298 12zm40-33zm-8 5zm0-9zm15 1zm-6 0zm0 2zm3 3zm-2 1zm9-3zm4-4zm-2-5zm3-2zm0-4zm-1-1zm-6 0zm-1 3zm-3-10zm8-4zm-11-11zm-1 6zm0 1zm6-1zm-1 4zm-3 0zm-1 1zm-9-1zm1-2zm6-1zm-2-9zm-3 7zm-7 12zm-3 1zm6-2zm2-2zm4 2zm-1 7zm0 6zm-6-1zm0-2zm-6-12zm-3-4zm2-7zm-6 31zm-16 13zm-22 8zm4 4zm-2-27zm-4-14zm-29 15z" stroke="#f00000"/>
<path d="M478 452zm1 10zm-1 1zm-11 1zm0 3zm-3 0zm1 2zm2 0zm10 6zm-1-1zm-14 7zm-13 21zm4 5zm-1-2zm10 5zm0-7zm2 8zm12-7zm-10-16zm-1-7zm19 6zm9 4zm-2 5zm-11-26zm15-10zm-5-9zm4 1zm11 7zm-1-30zm-9-8zm6-17zm10-6zm111-36zm-11-1zm-3 9zm0 2zm-4-2zm-8 3zm-2-4zm-3 10zm-4-13zm-5 1zm-5-9zm7-4zm16 13zm-2-22zm-5 5zm-6-1zm10-15zm4-2zm8-10zm6 16zm3 4zm13-1zm-4 5zm5-4zm4-14zm-7 1zm5-8zm-14-12zm-1-13zm-10 3zm25-2zm-38-17zm0-4zm-13 21zm14-2zm6 11zm-4 12zm-12-5zm-12 36zm-20 9zm8 0zm-32 18zm-15 23zm15-14zm-3 4zm3 0zm3-2zm-10 35zm-9 8zm4 10zm12-4zm4-7zm9 2zm5 1zm24-30zm-6 7zm-10-10zm-2-5zm4-7zm-1-3zm16 9zm-81 124zm-7 2zm0-5zm-6 21zm7-2zm2-5zm-19 7zm-9-10zm-8-13zm1 15zm-4 2zm2 0zm8 4zm-11 6zm1 1zm1 4zm-5 17zm-9 0zm-18-10zm16-5zm-3 13zm10-31zm-4-15zm-3 10zm-6-3zm0-4zm-13 8zm1 3zm3 14zm-1-4zm-7-21zm-23 14zm0-1zm5 0zm-3 8zm-7 10zm-6-9zm-10-2z" stroke="#000090"/>
<path d="M586 588zm11 16zm18-19zm-4 11zm11 20zm-63 7zm-6-15zm-19 4zm-19 59zm6-3zm7-19zm36 3zm-16 16zm2 7zm18 11zm-35-10zm-6-4zm-10 3zm0 10zm13 21zm51-52zm23-12zm19 2zm15 1zm1-4zm15 2zm-336 154zm-4-12zm35-16zm-11 8zm-11 10zm182-79zm-12 9zm-10-13zm-10 0zm-14 6zm-64 8zm24-3zm56-14zm13-29zm16 31zm-1-16zm-11-10zm15-30zm-11-15zm-118 70zm-30 58z" stroke="#ff0099"/>
<path d="M712 643zm13 2zm1 1zm5 7zm4-10zm7 3zm2-1zm10 4zm2-3zm0-16zm2 8zm-10-5zm-2-1zm-6 7zm5-20zm-4-11zm6 5zm6 9zm-11-15zm-15-4zm-20 10zm11 8zm1-1zm11-5zm4 1zm1 0zm-1 23zm-6-3zm1 2zm-13-9zm-1-1zm-11-4zm1 4zm2 3zm-2 2z" stroke="#00a800"/>
<path d="M419 508zm3 1zm6 0zm2-2zm0-8zm8-1zm-5 11zm2 1zm1 1zm3-4zm1 0zm6 1zm-1-8zm-4-2zm22-50zm4 2zm-2 3zm4 1zm1 1zm0-4zm-2-1zm1-2zm3 0zm0 6zm0 5zm1 0zm0-1zm1-1zm1-1zm1 1zm1-1zm1 6zm-4-2zm-2 1zm-2-2zm-1-1zm-2-1zm-3 7zm4 6zm3-1zm0-3zm-3-1zm5 0zm3-1zm0 2zm-4 5zm2 4zm3-3zm-1 2zm3 5zm-8-1zm-3-6zm-1 2zm-2-1zm0-1zm-1 0zm2 6zm-3 0zm0-1zm-2 1zm-2-1zm-2-3zm6-2zm0-3zm-15 17zm2-1zm13-4zm0 3zm-5 1zm-2 4zm5 0zm1 2zm-1 0zm1 2zm-1 2zm-3-3zm-2 0zm0 3zm-8-3zm2 2zm-1 3zm5 0zm-5 12zm2 1zm3 1zm1-7zm1 5zm2 2zm2-3zm1 0zm2-4zm-5-3zm0-3zm-2-1zm4 2zm2-3zm8 7zm-4 0zm-2-3zm1 3zm-1 3zm4 4zm3-1zm0-4zm2-1zm0 6zm4-7zm2-4zm-3-5zm-2-3zm-1 1zm2 1zm-2 2zm-9-3zm3-1zm-2 0zm3-3zm2-3zm-5 0zm4-4zm-1 0zm3-1zm4 1zm-1 1zm-1 2zm4 1zm1 1zm1-5zm4 2zm-2-1zm2 4zm4 1zm0-6zm7-1zm-2 4zm-4 3zm2 3zm2-1zm3 0zm-3 1zm3 4zm-3 0zm-3-1zm-1 2zm-1 0zm0-1zm-3 0zm0-2zm1 0zm2 0zm0-4zm-2 0zm-4 5zm2-1zm-2 2zm-1 0zm2 3zm0-1zm4 3zm-1 1zm2 3zm-6 2zm2 0zm2 3zm4 0zm2 3zm1-1zm2-4zm0 1zm-2-1zm2-2zm-2-4zm0 3zm-4-1zm1-1zm-1-1zm2-3zm5 0zm8 4zm-7-1zm0 2zm2 2zm0 1zm1 4zm3 0zm2-1zm1 1zm6 0zm0-1zm-1-6zm-6-2zm7-2zm-1-3zm-2-2zm0-1zm0-3zm-3 1zm0 5zm-9-7zm5 1zm2-4zm-1-1zm-1 0zm-1 2zm-2-1zm0-2zm-2-2zm12 3zm1 3zm1-10zm-1 0zm-2-4zm2 2zm1-3zm-8-2zm-4-5zm1 4zm-2 9zm-3 1zm0-7zm-4 2zm0-2zm0 1zm-1-1zm0 5zm1 1zm1 0zm-8-2zm1-1zm0-4zm-2-3zm1-1zm-3-2zm4-1zm3 3zm-1-3zm4 6zm0-2zm2 3zm2-7zm1 0zm-1-1zm-11-1zm-3-2zm4-6zm-3 0zm12-2zm8-2zm-2 7zm-1 1zm-1 4zm9-5zm1 6zm0-3zm1 2zm2-4zm-2-1zm3 0zm-6-5zm1-4zm3-3zm0-4zm0 2zm-2-2zm-10 1zm6-5zm-7 2zm1-1zm3-6zm2 0zm2 0zm1 0zm0 4zm3-3zm3-2zm-5-5zm5-1zm-7-8zm-5 2zm-2 8zm3 4zm-1-2zm-2-1zm-1 2zm0 1zm-4-1zm-1 0zm0-2zm-1-2zm-2 1zm1-3zm3-2zm-1-3zm-3 2zm3 1zm-3 1zm-6 0zm0 3zm2-1zm2-1zm-2 2zm0 1zm0 1zm0 1zm-4 0zm1 1zm2 2zm-3 2zm4 5zm2-5zm-2 1zm5-1zm0 7zm-1 0zm5 2zm-2 1zm-6 0zm1-2zm-1 1zm-4-1zm-1 2zm3 1zm-8 2zm-1 0zm5-4zm0-1zm-2-3zm1-3zm0-1zm-10 10zm8-17zm1-2zm13-17zm1 6zm9-15zm3 2zm0 1zm0 3zm-7-2zm14 4zm-6-6zm0-2zm2 1zm2 0zm0 2zm2 0zm0-4zm1-3zm-1-1zm0-2zm-1-1zm-1 3zm-4 1zm6-8zm178 115zm-15-13zm-8 17zm-14 3zm-6-3zm2-2zm14-14zm-11-15zm0 2zm0-8zm4-12zm-5-9zm10 7zm2-13zm-19-38zm4-94zm1-2zm-7 13zm3 2zm1 2zm1 0zm1 0zm2 0zm0 2zm-3 7zm0-6zm-1-1zm1 3zm-2-3zm-1 1zm-1 0zm-1-1zm1 2zm1 4zm-1 0zm2 5zm-2 4zm0 1zm4 4zm2-4zm-22 26zm9-18zm-1 5zm-2-2zm-6-2zm-1 2zm3 3zm-3 5zm7-2zm-5 5zm0-2zm-1 1zm-3 1zm1-1zm-2-1zm-3 1zm-2-5zm1 0zm3 0zm3 1zm-3-4zm0-5zm-4 4zm-4-1zm-3 5zm4 1zm-3 12zm4 2zm0-6zm5-1zm2 3zm0 3zm-5 2zm-5 3zm-3-3zm-4 7zm-3-1zm-1-6zm5 0zm-7-7zm-1 0zm-5 3zm2 6zm-5 3zm1-4zm-10 5zm1 0zm-5 0zm1-1zm-1-1zm3-2zm2-2zm-1-1zm-3 0zm1-3zm1-2zm12 4zm-2-3zm1-6zm0-2zm1-3zm-5 7zm-3-2zm-1-1zm-3-2zm3-5zm-1 1zm-5-5zm9-1zm1 0zm-1 7zm0-1zm2-2zm3-2zm4 1zm3-1zm-2 13zm1-3zm3 2zm-3-4zm3-1zm3-1zm0 4zm3 0zm-2-7zm0-1zm-2-4zm-1-1zm5-5zm0-10zm-3 0zm-2 1zm2 5zm-1 1zm-1 0zm-1-1zm-1 1zm1-6zm-5 5zm-2 0zm4 3zm2 3zm-9-3zm-2 2zm0 3zm-4-4zm-6-5zm1-2zm7 1zm-1 1zm2 2zm4-9zm0-4zm-6 3zm0 2zm-6-4zm3-3zm0-7zm4 2zm4-1zm4-1zm3 5zm-3 6zm5-4zm4 2zm-1 2zm-1 3zm6-1zm-2-9zm-4-2zm18 8zm-1 4zm-3-1zm0-6zm-3 2zm-2 5zm1 5zm8 8zm2 0zm1 3zm0-6zm-2-9zm9 3zm3 1zm-7 5zm1 2zm2 4zm4 0zm1-3zm7 1zm-5-8zm1 0zm2-3zm2-4zm-3 1zm1-2zm-1 0zm2-1zm-3 0zm-1 1zm1 1zm-8-4zm0-1zm2 0zm-3-5zm0-4zm5 3zm8 4zm0-2zm-2-3zm-5-4zm5-9zm1-1zm0 1zm-3-3zm-1 4zm-3-4zm-2-1zm0 1zm-2 1zm-3-3zm3 4zm0 2zm0 5zm3 1zm-4 3zm0-2zm-1 0zm-5-4zm-9 6zm2-5zm1-10zm3 7zm6 0zm-1-3zm0-1zm-12-5zm-2 1zm0-1zm2-5zm2 0zm4-3zm2-2zm4 1zm1-5zm3 0zm5 5zm-1 9zm1-5zm3 2zm2-1zm-2-8zm-4-6zm-22 0zm-4 3zm0-3zm3-4zm-3 2zm-4-2zm2 4zm0 1zm0 2zm-5 0zm-3 0zm1-2zm4-3zm0-1zm-1 0zm1-4zm0-2zm2 4zm3 0zm-15 3zm2 5zm-9 6zm-2 2zm-2 3zm0 1zm-2 3zm5-2zm-1-2zm4 0zm0 3zm6-3zm-2-10zm4 6zm3 0zm3 0zm0-2zm1-1zm0-1zm-1 0zm1-2zm2 2zm1 0zm1 0zm-3 3zm-3 4zm-4 10zm8-1zm-1 2zm1 3zm4 2zm2 4zm-11 0zm1-4zm-1 2zm-3-2zm-1 6zm-8-5zm6-1zm-3-9zm-5 6zm-5-2zm-1 2zm5 3zm-10 5zm2-4zm1-7zm1-7zm-20 30zm0 2zm2 0zm1-2zm17-7zm-4 7zm-5 4zm1-4zm0-2zm-5 3zm-1 0zm1 2zm-1 1zm1 4zm1 1zm2-2zm5 0zm0-1zm5 3zm-4 3zm-2 5zm6-1zm-11 2zm1-2zm-3-2zm-10 4zm7-6zm-1-6zm-1 3zm-1 0zm-1 3zm-9 13zm-2 5zm2 3zm-2 0zm4 1zm8-1zm1-6zm-2-2zm-3-3zm6 1zm4 0zm1 5zm3-4zm0-1zm3 0zm5 3zm-10 5zm0 2zm-3-2zm0 12zm5 0zm4-2zm4-3zm-3 7zm-1 1zm0 5zm-5 2zm2-2zm0-5zm-2 3zm-2-1zm-1-1zm-1 4zm-4 1zm1-6zm-1-1zm-1 0zm2-3zm0-2zm-11 1zm-2 6zm1 2zm1 4zm-6-3zm-5 1zm-3-1zm-1-4zm2 3zm1-2zm0-3zm0-2zm-1 1zm-2 0zm1 1zm0 1zm-1 0zm-2 0zm-1-2zm0-3zm6-2zm3 3zm-2 0zm2 2zm3 1zm1-3zm-4-4zm-2-1zm3-2zm1-5zm1-1zm2-3zm-8 8zm0 1zm-2 3zm-2 0zm0-1zm-5-1zm1 4zm-3 8zm1-1zm1 7zm-8 0zm1-4zm-4 5zm2 0zm1 7zm-1 0zm-4 4zm0-1zm-1 1zm3 3zm2-1zm-1 1zm0 1zm2-1zm1-4zm5-8zm11 5zm5 1zm1 0zm1 3zm-14 2zm1 0zm2 1zm-2 5zm14 2zm-7 2zm1 4zm4 0zm1 3zm-5 0zm-3-3zm-12 0zm-2-2zm7-3zm-2-2zm0-3zm-1 0zm-3 4zm-2 1zm-1-2zm-5-3zm-1 4zm2 0zm-2 3zm1 5zm6 3zm8 1zm-1 3zm-2 3zm-4 0zm7 4zm-1 3zm-4 0zm1-2zm-8-3zm-3 3zm1 0zm-1 3zm5 1zm-2 10zm2-2zm3 5zm8-13zm1 1zm6 0zm-6 5zm0 7zm3-1zm2 2zm-2-5zm1-1zm3 5zm3 0zm1 2zm1-5zm-4-8zm3 1zm2-6zm-9 2zm-4-3zm2 0zm-3-2zm5-1zm1-3zm-2 1zm-1-5zm5 2zm1 0zm3 3zm7-7zm2 6zm1-4zm5 1zm1-1zm3 5zm-7-1zm0 1zm1 3zm2 3zm-9-2zm1 2zm0 1zm3 2zm-2 3zm1 3zm-2 5zm-3 4zm2-1zm0 1zm5-1zm1-2zm7 1zm-1-9zm-3 3zm2-4zm1-2zm2 4zm3 6zm6-1zm3 3zm2 2zm-2-5zm0-1zm0-1zm1-3zm-4-1zm2-2zm-2-2zm3-5zm-1-1zm0-2zm-6 5zm-2 1zm3-5zm-2-2zm-1 0zm-2-2zm5-2zm2-2zm2 0zm5 6zm-6-8zm-1-1zm0-2zm2-3zm5 0zm0-2zm-1-2zm-1-2zm-2 0zm-2-2zm-2 3zm-3-4zm-4 5zm6 5zm0 4zm-8-6zm-4 2zm-2-1zm0 2zm-7-3zm11-6zm0-5zm0-5zm0 3zm-8 2zm-1-1zm3-2zm-5-7zm10 0zm1 4zm1-5zm3-1zm0 1zm1 1zm1-1zm1 0zm2-2zm0 5zm0 7zm-1 3zm2-7zm6 7zm1-4zm2-6zm-4 2zm-3-3zm8 2zm2 1zm5-5zm7 0zm1 3zm0 2zm-4-1zm2 2zm1 0zm-2 2zm-2 4zm0-2zm-4-2zm-1-2zm-1 0zm-4 14zm3 4zm-1 1zm1 3zm3 0zm0 1zm-1-6zm5 0zm-1 6zm3-1zm0-5zm-3-5zm13-3zm-4 9zm3 3zm-1 2zm3-5zm4-2zm-2 5zm0 2zm4-13zm1-5zm-7-8zm-4 2zm2-7zm4 3zm5 1zm2-3zm8 7zm1 1zm6 0zm14 9zm-1 2zm-15 11zm-4-10zm-6 9zm-2 14zm0 3zm10-1zm17-8zm-10 20zm-4-10zm-14 0zm-1 9zm-4 6zm-4-2zm-3 2zm-3-2zm-1 0zm0-2zm2-10zm3 2zm2-3zm4 4zm2-4zm-1-5zm3-9zm-1-1zm-6 4zm-1-4zm-6 9zm2 0zm1 0zm3 4zm-7 1zm-4-3zm2-2zm-5-8zm2 3zm0 1zm-2 1zm-6 11zm0 4zm3-6zm0 1zm3 0zm4-1zm0 2zm2 4zm-7 0zm1 4zm1 1zm3 2zm1-1zm-8-3zm-6 2zm3 8zm-3 2zm6 2zm1-1zm0-4zm6 4zm-5 1zm0 3zm-6 5zm3 3zm-2 9zm3 0zm-2 0zm5-3zm2 3zm4 3zm-2-6zm10-4zm-6 4zm14-7zm-11-4zm-2-1zm1 0zm-1-2zm3-1zm2 1zm0-2zm-3-2zm-2 1zm1-2zm1-5zm2 1zm3 2zm1 2zm4-1zm1-3zm9 7zm1 7zm6-6zm-1-3zm2 3zm-4 49zm-11-5zm-4 7zm-11 3zm2-7zm4-1zm2-3zm3 0zm-3-5zm2-4zm-12-5zm-5-2zm-7-2zm-1-2zm0 4zm-1 4zm2 6zm-3-1zm0 8zm2 0zm2-1zm1-1zm-2-2zm3 0zm1 14zm-1-4zm-7 0zm-4 3zm1 0zm-5-2zm2 1zm-2-2zm1-2zm1-1zm3-7zm-5 3zm-4 3zm-1-7zm-3 3zm0 6zm2 2zm1-2zm4 5zm-10-3zm-3-2zm-2 4zm-3-1zm-5-4zm6 3zm-4-7zm11 1zm-1 2zm2-3zm-1-4zm0-1zm-1-7zm-1 1zm-1-1zm-10 2zm8-8zm0 1zm8-1zm0 1zm5-3zm0 6zm-3 0zm0-1zm-2 3zm0 2zm11-2zm-1 4zm2 2zm0 1zm2-7zm-6-7zm5 2zm2-7zm-1-1zm-3-1zm0-1zm-2 1zm-1 4zm-6 0zm-2 1zm2-5zm5-2zm-7-1zm9-1zm1-1zm0-1zm4 2zm-4-12zm-2 1zm4-2zm0-4zm1-1zm-1-3zm-5 0zm-7 1zm1 3zm-1 1zm0 2zm2 0zm4 4zm-8 3zm-3-1zm2-3zm1-4zm-3-5zm-1 2zm-4-4zm-1 1zm-3 2zm-2-1zm1 0zm-1 1zm2 8zm-1 6zm2-1zm-1 1zm0 4zm5 2zm-1-2zm2-4zm2 1zm4 3zm1 2zm-1 0zm-6 0zm3 2zm1 4zm-5 0zm-5-4zm-2 5zm-8-4zm1 1zm0 3zm-2 0zm-3-6zm3 3zm0-1zm-3-5zm-3 1zm-1-2zm2 0zm0-3zm3 0zm-1 0zm6 2zm-1 1zm1 3zm1-1zm2-2zm0 3zm0-5zm1-1zm1 0zm0-4zm-1 0zm-2 1zm-1 0zm-2 0zm4-5zm0 2zm-3-10zm-2 4zm-4-1zm3-1zm-2-3zm1 9zm1 1zm-1 1zm1 4zm-8-3zm-6 2zm0-4zm6-2zm0-1zm0-5zm-5-1zm-4 0zm-6-1zm2 18zm1 5zm3 0zm0-4zm8-1zm1 2zm0 2zm0 2zm-4 5zm-3 1zm-6-3zm-1 1zm1 6zm5-1zm0 5zm0 9zm3-4zm0 1zm2-2zm3-1zm0-5zm-7 2zm6-4zm1 1zm-1-3zm4 1zm-2 2zm3 2zm4 0zm-1-1zm1 0zm3-2zm0 1zm1-1zm2 2zm1 2zm0 5zm1 3zm-2 1zm-1-1zm-2 1zm-4-3zm-4-2zm1-2zm-2 0zm0 2zm-1 2zm2 1zm0 1zm-2 3zm3 2zm-2-1zm1 2zm3 1zm2-2zm2-1zm6-1zm-4 4zm-2 3zm1 3zm5-2zm-2 1zm-1 2zm3 3zm-3 0zm-3-2zm0 1zm-2-6zm-7 1zm1 3zm2 1zm-4-1zm-2 2zm-4 1zm6-8zm-3-1zm2-1zm-9 0zm1 0zm-2-4zm1 1zm-3 1zm0-3zm1 7zm0 6zm-3 2zm1 4zm4-2zm-5 5zm1 0zm0 1zm2 4zm-2-1zm0 4zm1-1zm4-2zm-2 0zm1-2zm5 1zm-2 3zm1 2zm3-7zm3 0zm-1-1zm-3 0zm-2 0zm2-2zm7 2zm5-2zm-2-4zm9 3zm1 3zm-4-3zm-4 9zm-3-5zm0 3zm-1-1zm0 9zm0 2zm3-1zm-2-1zm10-2zm0 3zm-4 2zm2 3zm2 1zm1 1zm-8-1zm-3 0zm-4 0zm3 2zm-5 2zm1-1zm-7 2zm2-6zm1-1zm1 0zm0-2zm2-4zm-2-2zm1 3zm-4-2zm-1 3zm-4 1zm0-1zm-1-4zm-2 1zm0 10zm1-3zm4 2zm-1 5zm-2-2zm-3 2zm3 5zm3-1zm-2-1zm0-1zm2 0zm2-1zm2 3zm2-2zm0 5zm-3-2zm-1 6zm4 0zm-4 2zm0 3zm-6-4zm8 6zm5-1zm14 4zm-2 2zm-3-7zm-2-3zm-1 3zm2-4zm-1-2zm1-2zm-7-5zm3-1zm1 0zm1 2zm1 0zm1-3zm3 2zm5 2zm0-4zm1 3zm2 4zm4-3zm-2-2zm8 0zm1 4zm-2 3zm-5 6zm-5-3zm0 7zm5 1zm-1 8zm6-4zm2 3zm2-3zm-4-1zm-1-5zm3-2zm-1 1zm3-1zm6 3zm2 2zm-6-1zm8 5zm2-10zm-9-3zm-2-3zm6-4zm-1 2zm-3-2zm-2-4zm5 0zm-1 1zm5-1zm1 2zm4 2zm-6-13zm4 0zm3 1zm-3-6zm-3 2zm1-1zm-5 1zm-1-1zm2 0zm1 0zm-5-3zm1 7zm2 3zm1 1zm0 2zm0 1zm-6-2zm-4-4zm-6 3zm-2 3zm-2 0zm1-3zm-1-1zm-2-1zm5-2zm-1 3zm2-3zm-1-1zm-4-3zm1-2zm1-1zm1 0zm3 2zm6 4zm2-8zm-3-3zm1 0zm0-3zm-5 2zm-5 3zm-1 0zm-2-3zm1-5zm-1-1zm3-2zm8-2zm-3 3zm3 2zm5-3zm5 0zm0 2zm2-1zm-4 1zm-2 0zm2 4zm0 2zm4 3zm-1-4zm4 1zm-1-1zm5 4zm-1-3zm-1-3zm-3-2zm1-1zm0-5zm0 1zm4 1zm0-1zm2-1zm0 5zm4-3zm1 6zm-3 2zm-1 6zm2 3zm4-3zm-7 7zm5 7zm10-8zm3-6zm4 2zm0 5zm0 2zm2-3zm7-3zm0-5zm-6-5zm-2 4zm0-2zm9-11zm2 1zm0 12zm3-1zm5-2zm4-3zm-2-4zm8 1zm10 7zm-14 1zm2 5zm5 10zm-8 0zm-3-4zm-1-5zm-7 5zm3-7zm-4 18zm-3 7zm14-1zm-5-1zm0-1zm9-5zm-2 5zm14-6zm-6 11zm2 0zm5-1zm-12 4zm3 9zm0-2zm8 5zm-15-9zm0-1zm-10 4zm1 9zm-12-3zm-1-2zm0 4zm-6 2zm-3-10zm6-2zm0-2zm3 4zm6-11zm-5-7zm-6 2zm-1-4zm3 15zm-8-15zm-6 4zm-2 4zm-1 6zm-1 0zm-2 2zm3 2zm6 6zm3 3zm4 9zm6-4zm11 2zm4 0zm-1 4zm6 6zm-1-6zm0-2zm7-3zm-1 2zm6 3zm0-2zm4 0zm-1 6zm1-1zm-4 5zm-3-4zm-2-2zm-53-8zm-56 88zm8-1zm18 34zm-15-23zm-3 18zm-10 31zm32 13zm208-132zm2-17zm-10-8zm-3-1zm-2 1zm0-3zm-3 7zm-2 2zm12 7zm1 6zm-14 4zm-10-9zm5-1zm-11-13zm1 6zm3 3zm0 3zm-11-3zm2-4zm2 2zm2 1zm-7-9zm1 1zm-4 6zm-2 9zm2-1zm-38 2zm-1 0zm-20 1zm-4-8zm-2-6zm-4-6zm14 7zm3-4zm7 8zm2-6zm6-2zm0 1zm9-3zm1 3zm-2 5zm6 4zm-9-2zm-5 5zm3 4zm3 9zm12-13zm5 0zm-4 7zm6-5zm5-3zm-1-5zm-2 4zm-4-1zm-1-1zm-4 0zm0 1zm-1-3zm4 1zm10-17zm-5-2zm1 5zm-3 1zm0-25zm-5 7zm-3 0zm-6 0zm1-4zm4 3zm-3-4zm-7-3zm-3 0zm2 8zm2 1zm-2 1zm0 1zm-1-3zm-1 4zm0 3zm-2 1zm2 2zm1 1zm1-1zm3-2zm-3-1zm5-1zm3 3zm-4 1zm-2 8zm-2-2zm0-1zm-1-1zm-3-2zm-3 0zm0-2zm-1-1zm3-3zm-7 1zm2 3zm-10-3zm3 1zm-2 3zm-7-5zm5-3zm-8-11zm-3-4zm8 4zm7-1zm-2 5zm2 2zm-3 1zm7 1zm-3-2zm11 5zm-5-9zm2-3zm-1-14zm-11 5zm-10 3zm-6-2zm3-2zm4 0zm-3-4zm-1-4zm11 6zm1-15zm-8 6zm-3-6zm1 3zm-5-9zm6 0zm10 0zm1 0zm-1 4zm14 4zm4 3zm1 5zm4 4zm-7 1zm2 3zm1 2zm5 2zm6 1zm1-2zm-6-13zm13 0zm1 4zm-5 2zm-1 1zm7 1zm1 2zm-1 2zm2 3zm3-11zm23 2zm-6 3zm-13 7zm0 7zm1 0zm2-6zm5 3zm-1 5zm5 3zm-1 2zm0 1zm-3-3zm-5-4zm-4 0zm6 13zm5 4zm3 3zm2-2zm5 5zm6-2zm2-4zm1-4zm-4-2zm4-5zm-13-1zm1-3zm0 1zm-1-6zm6-2zm1 1zm2 3zm13 12zm-1 3zm-5 9zm11-3zm1-9zm-10-20zm-476 302zm213-134zm3 47zm-30-6zm-63-5zm-2 0zm2-2zm43-24zm43-74zm34 38zm-8-3zm-41-96zm-9-4zm1-6zm16 0zm1 7zm-2 0zm9 4zm21-5zm1-26zm-1-3zm-8-4zm-1 1zm-3 0zm1-3zm1-3zm1 0zm0 1zm4 1zm4 4zm-1-3zm5 3zm4 6zm6-6zm-1-2zm-2-4zm4 3zm3 0zm0-4zm-3-5zm1 0zm-13 3zm3-1zm-1-3zm4 2zm1-1zm0-1zm-1-2zm1-3zm-1-2zm5 1zm3 0zm-2 0zm1-7zm-2 3zm-1 0zm-2-6zm1-1zm2 1zm4 2zm0-9zm0-2zm-2 0zm-3 1zm-2-1zm1 2zm-2 3zm-7 0zm1 3zm-1 2zm3-2zm4 3zm-3 2zm1-1zm2 1zm0 2zm-10-2zm-1 0zm-2 1zm-1-2zm0-2zm0-1zm5-1zm0-6zm-4 0zm-2-1zm0 4zm1 0zm0-1zm2 1zm-5 1zm-2-2zm2-4zm-1 3zm-3-1zm1-1zm1 9zm0 2zm2 2zm-4 0zm-2 2zm2 0zm-1 2zm0 4zm4 1zm1 0zm2-6zm1 1zm4 9zm2 3zm-6 0zm-2 0zm-7-4zm1 1zm-8-1zm1 2zm1 1zm-4 2zm-3-2zm-1-1zm4-1zm0-3zm-5-2zm-1-1zm1-2zm7-2zm2 1zm0 5zm-1-2zm4-5zm-1-12zm0-3zm-4 0zm0 2zm0 4zm-4-2zm2-2zm-1 11zm-14-3zm7-4zm-1-3zm1-4zm-1 1zm-6 3zm0 2zm-3 1zm1-5zm-2-2zm1 3zm-1 0zm-1-1zm-1 4zm5 5zm-5 5zm2 6zm10-1zm-2 2zm-3-3zm3 4zm0 3zm-2 2zm-2 1zm-3 1zm-2-7zm-3 0zm5 11zm2 4zm-2-1zm-3 1zm5 4zm0-2zm4-3zm-3-2zm0-4zm4 1zm4 0zm1-1zm2 7zm8-6zm-1-1zm3 1zm-2 3zm-5 10zm-1-3zm-4 1zm2 14zm-2 0zm1 5zm-3 0zm-7-4zm5-8zm-4 0zm-8-3zm-5 12zm-3-6zm-3-1zm0-2zm-4-3zm-1 6zm-1 0zm0 1zm4 6zm-18-5zm2-4zm-1 3zm-2-2zm-1-1zm2-1zm-2-1zm14-6zm-1-4zm-6 4zm-6 2zm-1-2zm5-4zm0 1zm1 1zm-2-7zm3-1zm2 3zm-1 2zm4-2zm2 0zm1-2zm-2-2zm1-1zm8 1zm-1 2zm1 2zm-1 1zm-4-2zm-1 2zm2 3zm-2 3zm7 2zm0-1zm1-4zm3 2zm-2 1zm-1 3zm2-1zm2-1zm3-2zm-2-1zm2-4zm-5-6zm2-2zm-4-4zm-1 5zm-6-1zm2-1zm-1-5zm0 1zm2 0zm2 0zm-5-3zm1-3zm9-2zm-1 1zm2 4zm2-12zm0-2zm1-8zm-4 7zm-9-6zm-1 1zm1 5zm2 3zm2 5zm-2-1zm-2 0zm-7-2zm-1-3zm3-4zm-1-1zm1-3zm-3 6zm-6-4zm-3 4zm4 12zm0-1zm1-1zm3 1zm-1 4zm6 4zm-2 0zm0 1zm-10 0zm0-3zm1 4zm-5 1zm1-2zm-5 0zm-2-2zm2 5zm-5 1zm-5-2zm6-9zm-2 0zm-1 1zm2-5zm7 0zm-2-1zm5-15zm-5 3zm-4 1zm1 1zm-6 6zm4 0zm-3 3zm1 0zm-3 0zm-1 0zm-1-2zm-6 3zm-4-1zm-3 1zm2 4zm-2 1zm0 1zm0 1zm2 0zm0-1zm3-3zm-2 0zm1-2zm3 1zm0 1zm7 0zm-6 2zm3 4zm2 3zm0 4zm-8 0zm-1-1zm1-3zm-3 0zm-1-1zm1-1zm-2 2zm-1 0zm2 1zm1 1zm-2 1zm5 4zm2-2zm10 2zm-2 0zm6 5zm3-1zm1 3zm5 4zm-1 0zm-3 0zm-1 5zm0 1zm1 0zm1-3zm2 1zm0 2zm-2 0zm1 1zm1 1zm0 2zm-2 0zm-1-3zm-1 1zm-1-1zm0 5zm3-1zm1 0zm2 0zm-8 1zm-11-5zm34 13zm7-1zm7 5zm3 1zm-4 9zm0-3zm-90-40zm1-3zm2-1zm0 3zm3 0zm0-1zm2-1zm1-1zm15 1zm1 0zm4-3zm-1 0zm2-4zm-5-1zm-1 4zm-2-1zm-5-2zm0-3zm3-5zm8 2zm0 3zm0-1zm2 0zm-1-2zm-24 2zm7-1zm0 2zm0-1zm-4 2zm2 3zm-1-2zm4-1zm-1 2zm-1 2zm2 2zm-3-1zm-3 0zm-2-1zm1-1zm-1 0zm0-1zm-3 3zm27 208zm-137 105zm-8 6zm-4 0zm7 4z" stroke="#0000e6"/>
<path d="M477 462zm1 3zm-10 11zm10 7zm14 9zm-3 14zm6-5zm-2-1zm-1 1zm-3 2zm0-1zm0-3zm8 10zm12-15zm-6-3zm1-17zm-3-5zm-2 7zm-12-24zm11 5zm-10-12zm-14-22zm28-22zm192 103zm-5-17zm-13 10zm-26-15zm-2 5zm15-1zm-7 5zm9-14zm-6-2zm-10-2zm-5-3zm1-11zm5-4zm0-2zm4 1zm6 1zm-3 4zm7 1zm0 1zm-8-23zm-7 2zm-4 5zm13-19zm-18-86zm-23 19zm-2 0zm-2-2zm0 9zm-4 3zm7 8zm-14 0zm4-8zm-2 0zm-4 0zm-4 5zm0-3zm-2-3zm1 7zm-3 3zm3-1zm3 4zm-8-2zm0-3zm-2 2zm-11 2zm6-1zm-7-4zm3-4zm6 0zm3 1zm1-11zm-5 4zm-8-1zm0-1zm7-1zm14-7zm2 2zm-5 5zm-2 1zm1 2zm3-5zm5 3zm0-1zm3-2zm0-5zm3-4zm-5-6zm5 1zm0-4zm-3-2zm-10-4zm3 15zm-2-1zm-4 0zm-3 1zm-3 0zm11-29zm1 13zm5-1zm8-11zm0 3zm13-3zm-2 4zm-3-3zm-2 2zm4 3zm2 0zm-9 6zm-3 2zm-1 12zm10-1zm3 0zm-4-12zm11 6zm-3 2zm4-20zm-4 1zm9 2zm3-7zm-1-1zm-2-15zm0 5zm-7 2zm-2-2zm-1 1zm2 3zm-6 5zm0-1zm0-3zm-8 1zm-1-10zm4 5zm5-13zm4 2zm-17-12zm-25 5zm23-2zm-11 17zm-27 21zm-23 28zm24 2zm-4 17zm0-4zm10-1zm0 3zm-19 9zm-15 1zm-16 7zm3 9zm1 8zm-14 2zm-1 15zm12 20zm16-3zm1 0zm-6-2zm4-9zm-13-4zm4-1zm22 0zm0 15zm0 1zm-1-3zm-1-3zm22-10zm-12 3zm4-7zm-4 1zm8-4zm2 5zm2-5zm-3-17zm-2 6zm-13 7zm0-2zm-4-4zm-2-16zm1-2zm22-2zm5-4zm5 7zm-2-4zm0-2zm9 10zm1 2zm-10 6zm-1 10zm5-1zm3-12zm4-6zm7 1zm-2-9zm25 13zm-5-9zm7 2zm10 20zm-21-5zm1-5zm-4 13zm-1 12zm9 4zm1-1zm19 8zm-26 1zm-3 2zm2-1zm-18-4zm14-8zm-4-2zm0-4zm-6-6zm-1 1zm-10 0zm-1-1zm-3 9zm-4 3zm0 13zm-2 9zm14 2zm1 4zm0 2zm-8 2zm17 17zm5-4zm-7-13zm4-6zm16 5zm6-9zm7 2zm7 26zm-26 20zm-1 6zm-16-5zm12-5zm-4-5zm-18 5zm2-12zm-6 7zm-3 8zm2 3zm-6 3zm-16-10zm0-4zm-8 4zm-5-5zm4-7zm13 4zm-2 7zm9-4zm5-14zm1-1zm-14-2zm5-16zm-1-5zm-10 12zm-2-6zm4-5zm-6-3zm-7 11zm10 15zm-4-1zm-18 0zm3-9zm8-11zm-1-3zm-13 8zm4-2zm-11 3zm2-7zm2-2zm-11 9zm10 14zm-8 13zm8-2zm4 4zm2 4zm11 5zm-3 8zm-15-8zm-5 0zm-6 22zm17-4zm9 3zm-2 2zm-1 2zm-6 8zm11-2zm-6 9zm-6 0zm-2 8zm-6 30zm5-14zm8 13zm8-15zm11-6zm-5 18zm4 1zm2 3zm14-47zm-10 1zm-8-6zm1-8zm15 1zm4 7zm4 0zm-5-11zm11 1zm-3 8zm-1 7zm13 3zm9-1zm-2 9zm7-16zm-3-4zm2-1zm19 5zm4-4zm11-5zm0 6zm-6 0zm-4 14zm8-6zm1 9zm-26 17zm21-7zm1 5zm-1 20zm-11 2zm-18-2zm-7 1zm11-10zm-3-6zm-24-6zm5 2zm3 12zm4 6zm-3 17zm7 19zm1-20zm1-7zm-3-1zm10 2zm9 6zm8-2zm13-1zm-1 9zm-2 12zm-20-4zm1 3zm-10 28zm-9 0zm3-21zm-9 0zm0 2zm1 17zm-1-2zm2 5zm1 3zm2 2zm-19-3zm2-2zm-3-8zm-25 7zm9-16zm-9 5zm15-22zm-5-11zm-4-4zm-5-1zm7 15zm3 5zm-1 2zm3 0zm-19-5zm-4 4zm-7 1zm0-4zm3-2zm-1-1zm2-6zm0 1zm0 1zm1 1zm5 0zm-1 0zm-2 2zm2-1zm2-2zm2-5zm-2 1zm-3 1zm0-2zm0-1zm1-3zm1-1zm-1-1zm-9-4zm-1 3zm0 2zm1 0zm0 3zm4-3zm1 1zm-2 2zm2 1zm0 1zm-2 2zm-12-1zm7-4zm-1-5zm-2-5zm-8 6zm-2 0zm3 3zm1 3zm-4 0zm0 5zm-1 4zm1 2zm1 0zm4-4zm0-2zm3 1zm4-1zm-1 4zm2-1zm0 3zm-2 0zm-5 1zm4 4zm-7 1zm-5-2zm2 2zm12 5zm4 0zm-1 1zm4 3zm-2 2zm-1 4zm-18 19zm3 4zm10 6zm-5 6zm-1 0zm-7-7zm0 14zm12 3zm-1-6zm9 1zm2 1zm16-20zm25 5zm-7 15zm-6 9zm1 0zm-4-14zm-7 2zm21 21zm-3 6zm-32 10zm-17-21zm-9-1zm6 11zm4 15zm12 34zm12-23zm53-53zm-10 1zm-2-9zm-6 3zm8-8zm8-1zm-3 1zm7 3zm7 7zm135-26zm5-48zm-2-4zm-1 1zm2 3zm-25 23zm10-8zm-1-5zm0-4zm4-1zm-5-5zm-3-2zm-5 13zm-5-3zm-2 0zm0-3zm-11-6zm17 33zm6 12zm1 3zm-26 5zm-14-23zm-14 5zm-11 19zm-11 3zm13-26zm-1-17zm-10 11zm-5-17zm-2-6zm5-4zm23 1zm3 11zm0 3zm8 15zm-3-11zm8 2zm12-5zm-2-4zm-1-2zm-5 2zm-4-4zm7-29zm-18-3zm2 0zm2 0zm2-5zm-9 7zm-2 4zm-1-1zm11 16zm-8 0zm-12-13zm-9 7zm-5 5zm-7-6zm0-10zm0-10zm2-2zm2 1zm19-10zm2-1zm-6 1zm-22-3zm3-4zm0 2zm5-1zm4-15zm6 10zm18 2zm-1 11zm11 5zm-6-10zm11 3zm35 7zm-9 28zm1-5zm-7 0zm6-3zm7-3zm1 2zm-4 5zm3 5zm1 0zm1-2zm-1 1zm-1-1zm2-1zm3 4zm1-1zm2 1zm1 0zm1-2zm-1-1zm1-6zm-4 2zm-1 0zm-1 0zm1-2zm-2-4zm3 0zm1 2zm3 1zm-1-4zm-2-1zm1-2zm2 1zm-2-2zm-5-1zm0 2zm1 3zm-2-1zm-2-1zm-2 2zm-2-1zm3-12zm14 3zm12 7zm-8 2zm-1 0zm-5-5zm1 1zm0 6zm1 3zm1-1zm1 4zm-2 1zm0 2zm-1 1zm1 5zm0-2zm4 2zm1-2zm7 2zm-2-4zm-3-5zm0-2zm0-1zm-439 261zm0-42zm20-1zm4-4zm5 5zm-1-2zm0-4zm-2-1zm7-5zm3 2zm0-2zm3 1zm4 3zm-7 8zm-2 1zm-2-7zm-2 12zm0 2zm-6 3zm5-9zm-5 3zm-2 3zm0 1zm-1-3zm0-2zm-7 6zm32-16zm97 4zm48-42zm11-32zm-9 6zm-16-6zm10 22zm-15 0zm-7 1zm-21 12zm1 19zm-10-24zm-52 10zm-4-10zm27-20zm63-15zm-7-14zm-2-5zm9-9zm23 6zm11-16zm-8-2zm2 4zm-23-19zm14 0zm-3-26zm-36-42zm55 21zm-3-5zm3 0zm-12-6zm-15-40zm8-3zm3 6zm7-7zm7 10zm-4-6zm5-5zm-9-8zm-3-7zm8-4zm-1-8zm-51 52zm-8-30zm0-17zm-17 22zm-10 0zm-8-18zm4-11zm-19 24zm-8 2zm23 10zm23 28zm-53-34zm-4-4zm-33 195zm24-17zm-1 16zm-1-4zm-9 10zm-10 25zm-7-28z" stroke="#686868"/>
<path d="M442 505zm36-42zm0 21zm15 3zm2 2zm0 8zm12 7zm-3 5zm7-9zm-5-3zm2-3zm-4 1zm-4-8zm3-4zm4-2zm0 3zm4-7zm-6-6zm-10 6zm-9-22zm15 8zm-2-38zm-5-1zm-4 15zm8-28zm190 93zm-6-14zm-1-5zm-7-2zm-2-2zm0 2zm2 3zm0 6zm-1 2zm0 1zm0 2zm-1 6zm4 0zm4-7zm7 1zm-5 4zm5 8zm-11-3zm-12 0zm1 0zm3-2zm1 1zm0-2zm-1-1zm0-3zm-2-3zm-1 0zm-3 4zm-2-4zm-1 11zm3-2zm-1 3zm-12 3zm-4-6zm4-5zm6-9zm-5-10zm-2 2zm2 1zm3 0zm-1 1zm10 0zm-1 1zm-3 0zm-2 4zm3 2zm2 0zm6-2zm-3 5zm2-2zm4-1zm-3-6zm1-9zm1 1zm-5-2zm7-4zm-5-7zm-1 2zm-1 0zm-5-1zm-2-1zm-4 12zm0-5zm-2 4zm-9-10zm3 1zm10-1zm-3 1zm2-2zm1-4zm0-3zm0-1zm-3 1zm-4-1zm1 6zm-6-8zm-1 0zm-1-3zm0-3zm1 0zm6 0zm0 2zm5 2zm2-3zm1-2zm0 11zm1 3zm4 0zm4-6zm2 0zm0 7zm0-14zm15 5zm-8 4zm-1-1zm-1 10zm5 1zm2 2zm-4 0zm-2 0zm9 7zm-10-44zm-7 14zm-1-9zm-4 9zm-3-2zm-5-1zm-1 2zm-4 0zm-4-2zm0-4zm2-4zm-2-3zm6-1zm1 0zm4 5zm-1-6zm-4-2zm-6-2zm0-7zm2-2zm-3-94zm-43 51zm-6-5zm-9 4zm0-14zm23 7zm-13-19zm28-14zm-7-1zm6 7zm18 10zm-4-20zm-17-11zm-6-11zm-52 64zm4-4zm-10 6zm-15-12zm-2 29zm0 1zm-4 14zm-9 0zm-3 32zm16 9zm-3-18zm7-9zm11 11zm-7-1zm0 6zm17 11zm11-16zm-2-1zm-7-3zm3-7zm3-4zm2 7zm-10-16zm0 8zm-2-30zm1 7zm12 5zm6-11zm6 7zm-3 0zm9 11zm4 11zm2-2zm28-23zm1 12zm-11 17zm17 17zm1 6zm0 5zm-22-6zm-9 5zm5-12zm-7-9zm-1-2zm-22 0zm6 1zm-3 36zm-2-3zm7 13zm9-11zm0-8zm26 1zm5 1zm13-1zm-3 6zm4 5zm-12-1zm0 5zm9-2zm-3 5zm4 6zm-6 0zm0-1zm-11 2zm-11 9zm18-5zm2 6zm4-7zm1 0zm3 12zm2 15zm0 2zm-23-1zm-9 3zm0-5zm-6 3zm-8 1zm-1-3zm3-5zm9-6zm-17-2zm-1-13zm-4 6zm-2-3zm2 1zm0 8zm-3 5zm-1 5zm1 0zm11-7zm1 5zm0 3zm-19-2zm-16 8zm-10-6zm5-6zm3-15zm6-3zm4 6zm-1-2zm-1 8zm3-3zm10 4zm-3-20zm-1 6zm-9-13zm4-2zm4-4zm3-7zm-8 7zm-12-4zm-2-7zm-7 17zm0 4zm5-1zm3-2zm5-1zm-3 4zm-8 3zm0 4zm-7 0zm-5 0zm-4-6zm7-12zm5-7zm-10 0zm2 11zm-3-3zm-4 2zm-4 0zm-8 1zm-1 5zm11-1zm1 1zm1 0zm-7 11zm-3-1zm-1-6zm1 2zm-2 5zm-2 1zm5 0zm-3 9zm5 0zm6 1zm-2-3zm-2-7zm2 2zm2 0zm2 4zm5 2zm-2 3zm6 17zm-5 2zm0-4zm-3-2zm-2 6zm-7 1zm3-5zm3-2zm-14-2zm0 4zm5 1zm1 7zm2 6zm1 2zm6-1zm-5-2zm-2-5zm11-1zm3 0zm8-1zm-5 9zm6 3zm-12 7zm11 8zm-20 4zm0-3zm-9-9zm1 7zm-1 5zm-1 4zm13 11zm-4 1zm-7-4zm-2 2zm3 1zm27 5zm0-4zm-1-4zm-7 4zm-4-7zm5-2zm-3-2zm-1-2zm16 5zm4-3zm7 4zm-8 3zm-6 2zm4 7zm0 1zm2 0zm-3 2zm2 3zm8 1zm3-11zm8 2zm5 1zm1-7zm-5-3zm-8 4zm0-12zm4-1zm6 6zm3 0zm-1-14zm-7-8zm-5 0zm2 11zm-11 2zm2 1zm-3-4zm6-6zm-13-13zm7-5zm5 4zm2-4zm-2 1zm7 6zm-1 3zm11-1zm-2-9zm-1-2zm21 1zm-5 4zm-10 16zm2 6zm-1 3zm6-6zm10 2zm5 5zm6-3zm1 3zm0-5zm1-12zm0-2zm-14-2zm13-5zm15 4zm0-1zm7-1zm8 2zm1 2zm3 2zm0 1zm-11-2zm1 0zm0-2zm-5 8zm12-2zm-4 4zm7 5zm0 5zm-8-5zm-3-1zm-3 3zm-7 1zm2-8zm3-2zm-9 14zm-1 2zm-5 7zm3-1zm5 1zm0 5zm4-5zm3-3zm0-1zm-2-1zm6-3zm-1 2zm-2 0zm1 3zm6-5zm6-1zm-1 6zm1 5zm-1 0zm3 3zm-6-2zm-3-3zm-2-1zm-1 13zm1-1zm3 2zm-1-1zm3-5zm0 1zm0 1zm5 2zm1 1zm0 2zm-2-1zm-2 0zm2 4zm-1 1zm3 3zm-7-1zm-3 0zm0-1zm0-2zm-2 1zm-2-2zm-4-1zm-4-8zm2 7zm-1 0zm-9 3zm-5 0zm-7 1zm-3-6zm-1-3zm6-1zm3 2zm4-16zm-4 0zm1 2zm-2 1zm-8 9zm-2-13zm-8 2zm-7 0zm4 10zm3 8zm-1-1zm9 0zm-4 9zm-4 5zm10 28zm0-27zm11 1zm2-1zm1-3zm8 5zm-5 5zm8 4zm13-12zm-1-1zm5-2zm2 0zm0 3zm-3 1zm5 10zm-7-2zm-3 1zm1-1zm8 4zm0 10zm-45 6zm6 13zm-22-5zm11 8zm-6 11zm-13-1zm-14 5zm-7-15zm4 0zm4-6zm-12 2zm2-12zm21-5zm-23-4zm-10 3zm-8-15zm-1 82zm18 0zm-1 0zm-2 27zm-10-15zm-18 2zm13 5zm-10 12zm5 51zm57-111zm24 5zm21 2zm32 3zm107-12zm-19-7zm16-39zm-3-3zm-4 1zm-2-2zm-5-1zm0-2zm4 0zm1-5zm0-1zm-3 4zm-4-1zm-3-4zm-1-1zm1 6zm0 2zm-1 5zm0-1zm-1 0zm-1-1zm5 5zm-4 7zm-11-5zm5 4zm2 0zm0-6zm2-2zm-7-5zm6-7zm-5-3zm-5 6zm3-2zm-7 5zm1 1zm3-1zm-3 4zm-1 0zm-8 1zm1-1zm3-5zm0 3zm3 0zm-3-11zm1 3zm-3 4zm-9 4zm6-2zm0 3zm-5 3zm7 6zm2 5zm2-1zm-17 18zm-44 6zm13-30zm-3 0zm-22 0zm10-6zm-1-4zm-5 3zm-4 0zm-4 0zm0-6zm0-5zm11-1zm5 1zm0 2zm6 0zm-2 1zm3 1zm-1 1zm-4-2zm2 10zm1-5zm6 4zm-1-1zm2 3zm-4-13zm0-2zm4 1zm2 0zm4 6zm1 0zm7-3zm-2 6zm5-1zm1 1zm-13 1zm9 16zm4-1zm6-3zm2 3zm5-6zm1-1zm-4-7zm-2 0zm-4 3zm-2-7zm4 1zm-2-5zm0 1zm-1-3zm8 1zm5-2zm1-2zm-9-2zm-6-4zm7-5zm-5 2zm-2 1zm3-6zm0-1zm3 3zm4-1zm1 0zm0 4zm1 0zm0 1zm0-4zm2-4zm-2-3zm-1-2zm3 1zm1-6zm-6 2zm-7 0zm5 1zm-9 7zm-5-6zm2 0zm2 0zm-1-5zm2 1zm-4 1zm-7 3zm1 6zm-3 4zm2 4zm3-5zm3 5zm3 4zm1 2zm-5 0zm-11 0zm-3 0zm0-3zm-1 0zm5-2zm-1-1zm-1-2zm0-1zm2-2zm0-2zm-7 2zm-4-1zm-1 9zm3-2zm0 5zm0-1zm-18 2zm-3-5zm2-2zm-2-3zm3-1zm-1-1zm9 4zm4 1zm-2-8zm-11-4zm7-7zm1 1zm4 0zm-2-4zm7 2zm3 1zm-1 2zm-3-1zm5 9zm1-5zm3 1zm-2 3zm6 1zm-2-6zm1 0zm1-1zm-1-2zm-1-3zm-5-8zm3-2zm-2-7zm-6 0zm-2 2zm1 6zm4 2zm-1 0zm-1 1zm0 2zm-8 1zm2-2zm1-3zm-2-1zm-6 3zm-5 0zm2-1zm3-7zm1 1zm6-7zm-1-1zm-12 2zm0-1zm-1-4zm23 1zm6 0zm-1-2zm2-2zm-4-4zm4-1zm3 5zm2-2zm11-2zm0 9zm-8 0zm1 1zm-1-2zm-5 5zm6 1zm-3 2zm-1 2zm-1 3zm0 5zm3-3zm6 1zm0 3zm1-5zm3-4zm-2-1zm0 2zm-3 1zm-2-6zm4 0zm2 2zm3-3zm6 4zm2 11zm3-5zm-4-8zm-5-5zm29 10zm5 6zm-6-1zm-4 3zm-2-3zm3-8zm-1 0zm-10 1zm6 9zm-7 5zm10-3zm4 2zm0 1zm-2 3zm-2 2zm2 0zm2 2zm-1 0zm2 2zm-5 0zm-1 0zm-5-2zm2 7zm-1 6zm-1-1zm-2 2zm-2 2zm1 4zm7-6zm2 3zm-1 4zm0-1zm6-2zm0-6zm-2-1zm-5-1zm2-4zm9 3zm0-2zm4 2zm-6 3zm4 6zm2 3zm-1-5zm-2 1zm0-2zm7 6zm1-1zm2-1zm-2-3zm0-1zm1-1zm2-9zm-2-5zm-13 5zm0-1zm5-5zm0-3zm-5-4zm14 3zm-1-4zm-1-1zm6 0zm2 6zm2 3zm-4 0zm-2 7zm2 2zm1 4zm3 6zm4-3zm0 3zm3-7zm-3 2zm-2-1zm1-1zm1 0zm-2-5zm12 5zm0 6zm-469 244zm54-39zm110 15zm37-72zm-8-8zm-15 19zm13-21zm-9 5zm-83-8zm104-21zm3 14zm6 3zm12-12zm-2-20zm-22-119zm-7-2zm9-4zm5 4zm5-4zm6 9zm4 1zm0-18zm-12-7zm3-2zm11 2zm-8-18zm-3 2zm0 1zm-2 6zm-3 4zm-2-4zm-8 5zm8 10zm0 3zm-6 1zm-84-12zm-35 193zm1 7zm-2 2zm-126 131z" stroke="#f5f500"/>
<path d="M421 510zm18-3zm34-55zm-25 58zm10-10zm13 2zm5 2zm-4-23zm17 4zm-1 1zm-1 22zm3-1zm5 4zm0-7zm-1-7zm5 1zm1 12zm4 0zm2-2zm2 1zm-3-6zm0-1zm2-1zm3-3zm-2-6zm0-3zm-2 1zm-2 1zm-5 3zm-1 0zm-1-1zm1 0zm-2-3zm7 0zm-2-3zm-5-1zm3-2zm9-7zm-3 0zm3-4zm0-3zm1-1zm1-3zm-4 5zm-5-7zm0 2zm-2 5zm-4 7zm-2-6zm-5 1zm12-10zm5-45zm143 9zm-1-3zm-6-114zm-30 48zm-3 6zm7 14zm-6 1zm-6 1zm3-2zm-9-10zm-17 8zm0-1zm6 0zm2-17zm8-5zm1 12zm3 1zm5-10zm-22-33zm29-1zm10 14zm-18-55zm-24 8zm-4 8zm12 6zm2-3zm-17 25zm-1 6zm-9 3zm5 8zm0 31zm-28-1zm-14 31zm-5 3zm4 24zm-6 5zm-2 3zm9 9zm8-9zm-1 0zm-3 2zm-1 3zm-1 2zm2 2zm0-2zm12-4zm-13-14zm2-6zm12 0zm10 2zm-1 4zm2 0zm1 0zm1-3zm2 4zm-7 3zm-3-1zm-3-3zm5 11zm-3 2zm2 4zm6-1zm4-1zm-3-2zm3-1zm-1-2zm-5-1zm8-3zm5 2zm-1 4zm-5-1zm6 9zm8-3zm-5-8zm2-1zm-3-2zm7 2zm-2-8zm-11 1zm3-1zm-4-7zm9 3zm5-3zm-2-4zm-13-14zm2 12zm-3-21zm7-3zm6-6zm11 6zm-1-1zm5 4zm-5 3zm-6 5zm4 3zm0 8zm9-5zm6-2zm-1 10zm7-17zm-6-9zm6-3zm31 11zm-8-4zm2 9zm1 7zm-10 2zm-1-11zm-5 2zm-1 26zm22-2zm-6 9zm1 10zm-16-12zm-1 9zm2 2zm-5 2zm0-3zm-14 0zm3-2zm-2-2zm-1-1zm1-3zm-1-3zm13 3zm-1-7zm-11-9zm4 6zm-2 4zm2-1zm-6 0zm-4 0zm3-4zm-5-5zm-10 0zm7 5zm-7 4zm10 6zm5-2zm-5 4zm-4 9zm1-3zm-5-2zm-1 4zm0 7zm8 2zm5 3zm0 6zm-13 0zm5 8zm0 1zm-3 0zm-3-2zm1 6zm5 0zm7 3zm1-3zm-2-2zm-1-3zm5-3zm15 8zm-2-13zm-5-5zm-1 3zm-3-1zm1-9zm20 7zm5-7zm4 5zm8 13zm-16 7zm3-10zm-1 0zm-6 0zm-5 6zm0 4zm2-3zm0 18zm2 5zm11 5zm1 11zm0-1zm-6-9zm0 2zm-7-5zm-2-1zm-2 8zm4-1zm1 3zm-7 3zm-6-1zm2 1zm-9-3zm1-9zm-2-2zm8 4zm1 0zm3 3zm2-2zm-1-11zm-4-9zm-7 4zm5 8zm-4 2zm-6 0zm1-11zm-13-4zm0 10zm2 0zm-3 7zm2 1zm11 1zm-2 1zm1 6zm-6-1zm-3 3zm-7 3zm0-9zm-2-4zm-5 2zm1 7zm-13-2zm-2 2zm0-10zm4 5zm0-1zm3 2zm1 0zm-4-8zm-4-2zm-3 1zm2-7zm-5-5zm3 1zm7-3zm9 3zm1 3zm-2 2zm0 1zm0 5zm3-6zm8 0zm0 1zm-2-5zm-4 2zm1 0zm0-1zm0-2zm6-4zm-2-1zm-11-1zm0-4zm5-1zm-1-3zm-5 0zm2-2zm-3-1zm15-4zm-4-12zm0-1zm-2 3zm-5 0zm3 1zm-4-3zm3 8zm0 2zm0 2zm-5 0zm0 1zm-2-1zm-4-9zm-5 1zm-1 8zm-2 1zm0 3zm7-2zm3 0zm-5 10zm6 5zm-4-1zm-3-5zm-3-1zm-3 2zm-2 0zm-1-2zm-4 1zm-1 3zm2 1zm-7 1zm-3-2zm4-3zm1 1zm0-1zm-2-7zm3-1zm-1-1zm3 0zm2 5zm1-1zm1 3zm2-5zm-1-2zm0-2zm-5 1zm2-3zm-2-3zm4-3zm2-2zm-13-1zm0 3zm1 4zm1-2zm-2 4zm-2 1zm-8-4zm6-6zm-4-1zm-6 12zm-4-2zm3 4zm-1 6zm5-6zm7 0zm1 5zm-3 2zm1 4zm-4 4zm-5 0zm1-5zm-4 1zm0 1zm1 3zm-2 0zm0 13zm8-2zm0 1zm4 2zm-1-6zm8-2zm10-4zm2-1zm0 1zm-3 4zm0 2zm-1 6zm-3 0zm-3-4zm-4-1zm-1 4zm3 4zm0 5zm8-4zm0 8zm-17 3zm-2-2zm0-2zm7-5zm-10 4zm1-7zm-4 7zm-2-1zm0 1zm6 3zm-5 9zm2 10zm6-3zm0 3zm3-2zm-2-9zm-2 0zm2-2zm21 5zm0 10zm-7 0zm-3 0zm-3 5zm10-2zm-1 8zm1 0zm0 5zm-12-2zm-8 0zm3-4zm-3-3zm-4-1zm0-3zm2 13zm-6-1zm5 7zm2 0zm-1-2zm8 0zm0 3zm-4-1zm1 4zm-11-1zm0 1zm15 15zm11-7zm4 1zm-2-5zm-1-4zm0 6zm-1 0zm-10-5zm1-1zm1-4zm-1-2zm2-2zm12 3zm7 1zm9-5zm0 6zm-2 0zm-4 6zm-4-2zm-1 1zm-1-1zm-2 4zm8 10zm10-8zm1 2zm-1 3zm5 3zm1-3zm2-3zm-3 1zm-3-6zm-1-1zm-4 2zm7-4zm0-5zm-3-3zm7 0zm3-18zm-2 1zm-6 6zm-2-7zm-4 2zm1 6zm2 1zm3 4zm-3 2zm-7-1zm-11-4zm6-2zm-2-3zm-2 1zm-2-4zm1-2zm3 1zm3 3zm7 0zm-3-7zm2-3zm-3-2zm-1 1zm-2 2zm-8 4zm0-7zm13-1zm0-4zm4 7zm4 4zm4-6zm2 1zm-2 6zm-1-13zm14 2zm4-3zm1-1zm0 4zm-3 4zm-2 1zm-3 1zm-1-1zm2 14zm-2 7zm4-1zm4 1zm16 0zm-4-19zm0-4zm16-3zm-1 2zm1 3zm3 5zm4-3zm-2-10zm1 0zm2 2zm7 4zm-1-7zm6 2zm4 5zm-1-1zm-2 0zm4 5zm-9 2zm-4-3zm-1-1zm1 10zm-2 4zm7 0zm8-7zm-1 7zm-5 4zm-5 2zm3-5zm-11 6zm-3-2zm3-3zm2-9zm-12 8zm-1 10zm5 4zm-5 2zm-1 4zm7-1zm3-3zm0 2zm0 4zm0 1zm1 0zm2-11zm-4-2zm8 1zm8-3zm2 4zm-1 0zm4 10zm-5 1zm-4 0zm0-1zm-4 2zm1 7zm5-1zm0-1zm-3-3zm8 9zm-2 1zm-14-8zm-3-3zm-8 6zm0 4zm3 1zm-6 0zm0-4zm-2 1zm-3 3zm2 0zm-6 0zm-3 2zm6-9zm0-15zm-3-1zm-1-4zm-2 0zm-2 3zm2 5zm-10 0zm5-9zm-7 3zm-4 2zm-1 1zm11 17zm-6 4zm-4 4zm0 4zm-1 3zm13-4zm25-2zm16 4zm-1-1zm9 0zm-3 8zm2 1zm-8 0zm-3-3zm-2 7zm3 1zm3 20zm-25 24zm-42-15zm0-28zm-6-2zm-25 11zm8 23zm104 22zm106-71zm-6 4zm-7 0zm4 6zm-5 4zm0 6zm7-5zm2 2zm2 0zm-23 6zm0 2zm-2-5zm-1-4zm6-4zm6-2zm0-4zm-4-2zm-3 2zm-1-1zm-2 1zm1-2zm2-5zm-2 2zm-5 3zm4 4zm1 6zm-10-5zm-1 0zm2-5zm-10-3zm-1 2zm4 9zm2 5zm6 5zm-2-3zm-2 0zm-4 10zm-1-1zm-60 14zm-3-3zm-1-8zm16 3zm-20-8zm2-9zm6-2zm4 1zm3 0zm-5-7zm-6-10zm0 1zm1 1zm6-2zm3 4zm7 1zm1-1zm1 2zm4 9zm5-13zm0 2zm3 3zm3-5zm2-1zm1 6zm6 1zm0 2zm0 5zm-7-3zm-3-2zm-2 5zm-1 0zm-1 6zm12 8zm1-2zm1-3zm-1-2zm-5-3zm8-2zm3 3zm-1 7zm3-1zm4-4zm-1-5zm-2-4zm-7-6zm3-5zm-1-1zm3 1zm10 5zm0-4zm-1-6zm-2-5zm-6 4zm0-4zm-4-1zm-2-4zm7-1zm6 0zm-3-8zm0 1zm3-11zm-6 1zm-2 1zm-3-1zm-2 1zm7 10zm-10-1zm1-4zm1-3zm-1-4zm-6 4zm-2-1zm-4-1zm13 19zm-6 6zm-7 1zm-6 2zm-2 0zm1-2zm2-6zm0-1zm-2-4zm-5-1zm-10 13zm-5 2zm-7 0zm4-6zm2-1zm-1-3zm-3-4zm2-1zm2 2zm8 3zm-2-3zm3-10zm-6 5zm1 2zm-10-9zm1-6zm15 0zm0 3zm6 8zm2 4zm3-1zm2-8zm-3 0zm-1-2zm-1-8zm3-1zm1-1zm3-3zm-6-6zm0 4zm-2-2zm-2 6zm-1 4zm-19-2zm-1-3zm14-3zm-1-3zm1-4zm-8 1zm12-10zm-1 3zm4 4zm1-1zm2-2zm0 4zm5 0zm1-6zm-5 0zm3-4zm13 1zm1 8zm-9-2zm0 9zm6 7zm3 3zm2-1zm0 1zm2-1zm-5-12zm1 1zm12 4zm1 10zm-2-6zm6-1zm0 5zm3-13zm-1-1zm19 5zm14 3zm-9 6zm-11-6zm-4 0zm-1-4zm-3 8zm4 11zm-2-3zm11 3zm-4-2zm-3 8zm-3 3zm1-4zm-5 20zm4 0zm1-3zm4-2zm2 5zm-4-9zm5-5zm3 2zm7 2zm-6 5zm0 2zm-1 1zm0 1zm3 1zm-1-2zm4 1zm1-4zm3 3zm3 1zm2-1zm-2-19zm-3 5zm-10-4zm6-7zm-1 3zm-4-1zm1-4zm8 4zm4-4zm2 1zm1 2zm9 6zm4 2zm-7-1zm-3-2zm-4 9zm4-2zm-4 8zm3 4zm7-5zm-1 7zm2-1zm2-5zm1-1zm-6-1zm8-6zm1 10zm4-17zm-1-4zm-296 36zm40-26zm-10-15zm-2 1zm2 5zm5-4zm11 5zm0 4zm3-8zm-4-4zm5-6zm-3 5zm-3-1zm-4-5zm3-2zm-4 0zm0-6zm1 1zm6 5zm3-4zm-4-5zm4-4zm1-6zm-3-4zm0 7zm-5 0zm0-2zm-2 4zm0 4zm-1 0zm-2-1zm-8 3zm5-15zm-5 2zm1 3zm-4 7zm0 10zm1-4zm-1 1zm1-2zm2 5zm-13-14zm1 2zm-6-1zm-13 32zm-25 9zm-1 4zm9-22zm-42-7zm46 50zm-73-57z" stroke="#f00000"/>
<path d="M501 511zm140-4zm4 0zm-33-5zm-58-24zm-38-18zm17 34zm5 5zm-22 17zm4 7zm12-5zm-7 13zm-3 0zm-5 3zm-5 3zm12 14zm-6 24zm1-7zm12-4zm4 11zm4-4zm8-24zm3 15zm1 10zm9 2zm15-6zm-7-9zm-17-26zm4-5zm25-16zm13 27zm23-20zm6-4zm15 6zm-17 18zm-2-7zm-9 13zm18 9zm1 12zm10 5zm-10-2zm-3 1zm-15-4zm0 3zm-1 5zm-5 1zm-12-1zm8-9zm-18-10zm4 11zm5 7zm-11-1zm2-1zm-5 3zm-1 3zm4 6zm11 7zm-10-6zm-4 2zm2 11zm1 7zm0 1zm0 1zm3-2zm3-1zm1 3zm1-2zm0 1zm1 2zm2-1zm0-2zm-1-2zm0-2zm-2-2zm0 1zm-1-6zm10 0zm2-1zm-1 3zm-4 1zm2 8zm7-2zm2-8zm1 1zm-4-11zm-2 4zm-6 3zm4-5zm-6-3zm15 0zm3-6zm4 3zm-4 2zm-2 0zm3 9zm2-4zm0-1zm3-1zm3 2zm-3 3zm1 0zm3-1zm-2-13zm6 6zm6 0zm6 6zm-3 3zm-8-6zm13 11zm-4 3zm5 6zm-20 1zm-1-4zm1-1zm4 0zm-3-3zm1-1zm-1-1zm-1-4zm0 7zm-4-4zm0-2zm-7 0zm0 4zm5 5zm-4 3zm1 3zm2 2zm0 1zm0 2zm1 0zm2 0zm-2 1zm-3 2zm3 3zm0-1zm4 5zm-1-8zm2-2zm1-3zm-2 0zm8 3zm1-1zm2 0zm0 2zm6-4zm4 5zm-6 3zm5 5zm-10-4zm-3-2zm2 5zm1 5zm-1 2zm3-2zm6-1zm3 0zm1 5zm-4 4zm0-1zm-2 3zm0 2zm-2-4zm-5 0zm-1 0zm1 2zm-5 0zm-1-7zm3-6zm-2 1zm-3 0zm-3 6zm-3-1zm1-1zm1 0zm-3-4zm-2-1zm1 8zm5 5zm-2 1zm-3 1zm-6-3zm-2-1zm1-2zm-5 3zm-1 2zm-2-4zm-2 1zm5-6zm-2 2zm-1-2zm-3-4zm4 1zm3-2zm2 2zm-1 0zm1 4zm2 1zm-1-2zm2 1zm1-3zm-4-5zm5-14zm-1 1zm-3-1zm-1 7zm-3-1zm0-3zm-3 4zm2 1zm2 0zm-1 4zm1 0zm-2 2zm-1 1zm-1 0zm-2-2zm-5-1zm-4 0zm0-4zm3 1zm2 1zm2-1zm0-7zm-6 0zm-1 2zm3 0zm-6 1zm1-1zm-4 7zm0-3zm4 2zm0 3zm-2 1zm0 1zm-1-1zm-2-1zm-1 4zm0 3zm1 0zm-1 1zm5-1zm0 1zm-1 1zm2 1zm3-6zm3 4zm-2 1zm-2 5zm5 0zm-3 3zm1 0zm-5 0zm-1-1zm-1-1zm3-3zm-4 1zm0-2zm-1 0zm-2 0zm0 2zm-8 2zm1-4zm1 1zm3 2zm2-1zm-1-1zm1-8zm0-1zm-1 0zm-4 3zm-3 3zm-3 1zm1-2zm0-5zm-4 3zm2 2zm3 3zm-1 4zm-1 2zm-2-2zm-1 1zm0 1zm-4 0zm1-2zm-3-1zm-2-1zm-2 3zm-1-1zm-2 2zm1 0zm-1 1zm-1-4zm0-1zm-2-1zm4 2zm2-4zm-3-3zm1 3zm-4-3zm2-1zm-2-1zm3 0zm7 0zm-2 3zm-1 0zm6 2zm1-1zm-1-4zm-1 0zm0-1zm2-2zm0-1zm-1 0zm-2-2zm2-1zm-4-1zm1 3zm-5 1zm1-2zm-2 2zm-2 0zm-3-4zm1-4zm5-6zm6 0zm11 3zm-1 3zm-3-1zm-3-1zm1 2zm-1 9zm2-1zm8-4zm-1 3zm6-7zm0-1zm-3 0zm-1-3zm-2-1zm-1-1zm2 1zm1 0zm2-2zm-5-7zm0 2zm-2 3zm-6 0zm2 0zm1-1zm0-2zm2-1zm0-4zm-2 0zm12-6zm-1-2zm-5 1zm-1-4zm2-2zm-2-3zm-5-2zm0-1zm-3 3zm1 2zm4 1zm1 7zm-5 0zm-5-2zm-4-3zm2-1zm2 0zm3 2zm0-6zm-3-5zm-4 2zm1 2zm2 0zm-6-1zm-2 0zm-1 2zm0 1zm1 5zm3-3zm-1 3zm-1-1zm1 3zm-2 0zm-3 0zm2 3zm4 3zm-1-2zm3 2zm3-2zm3 3zm0 5zm1 6zm-3 0zm-8 0zm1-3zm-5-4zm2 6zm-6-1zm3-3zm-4-2zm-1 5zm-9-1zm5-2zm-2-5zm-3 2zm1-5zm4 0zm5 1zm0 1zm1 2zm3-3zm-1-3zm-1-2zm-4-4zm2-1zm3 0zm-4-4zm-4-1zm1-4zm-3 1zm-3 5zm-1 1zm2 2zm3 2zm-1 3zm-6-2zm-4 0zm5-7zm-6-3zm-5 11zm3 0zm-1 7zm4-2zm1 1zm0-1zm2 3zm2 0zm0 7zm-1 3zm-9-3zm1 1zm-3-1zm0 5zm-1-1zm2 5zm-3 2zm9 1zm-1 3zm5 4zm1-11zm-3 2zm-4-3zm7-2zm2 0zm5 5zm5-4zm3 0zm0 3zm-5-1zm-1 3zm2 3zm5 1zm-3 3zm0 1zm-1 0zm-3 0zm-4-3zm0-2zm-1-1zm-2 5zm-1 7zm12-4zm3 5zm0 1zm-4-1zm-2-2zm-1 1zm7 4zm-2 2zm-3 3zm1 0zm-3 1zm-2-3zm0 1zm1-2zm0-3zm-4 1zm0-1zm-3 1zm0 4zm-3 0zm2-4zm-1-2zm-1-3zm2-2zm-3 1zm-3 0zm1 3zm-5 0zm-1-5zm1 2zm-3-2zm0 9zm3-1zm1 1zm-5 10zm4 0zm1-4zm1 1zm7 1zm-1 3zm-5 2zm1 1zm0 2zm2 1zm4 1zm-2 3zm0-1zm-1 0zm0 1zm-4-2zm0 1zm1 0zm-2 0zm-2 0zm-1-2zm1 0zm-1-3zm1 1zm-5 2zm1 0zm6 4zm-2 2zm-1 0zm2 2zm1 1zm-4 2zm-3-1zm1 1zm-1 2zm2-1zm0 6zm0 1zm0-2zm1-1zm2 1zm-1 0zm1 1zm1 0zm0-1zm1-3zm-3 1zm1-2zm3-1zm1 1zm2 2zm-1 0zm-2 0zm0 1zm0 2zm2 0zm0 1zm2-3zm1 3zm1-1zm-2-10zm-3 3zm-1-1zm1 0zm0-1zm-1-1zm3 0zm-3-2zm4 0zm5 1zm2-3zm2 4zm2 0zm-2 3zm-3-2zm-2 8zm2 1zm4 1zm0-3zm0-2zm-2 0zm3-1zm0-1zm2 3zm-1-1zm2 5zm3-2zm-1 1zm1-6zm2 1zm-2-4zm-1 0zm0 1zm-2 1zm0-3zm0-1zm-2-3zm2 1zm2 0zm0 1zm0 1zm0-4zm0-2zm0-1zm0-3zm1 1zm-1 1zm-2-1zm-1 1zm-1 0zm-3 2zm-4-3zm5-3zm1-1zm-3-2zm0 1zm3-4zm4 0zm0 1zm-3 1zm1 2zm1 0zm5 0zm2-4zm6 2zm-4 2zm-1-1zm4 11zm1-3zm-3-3zm2 0zm1 0zm3 2zm1 4zm3-5zm1-4zm-1-2zm-4 2zm0 1zm0-5zm2 1zm5 0zm1 4zm1 0zm0-2zm2 0zm0 2zm2-2zm-1 0zm4-2zm0-3zm5 1zm-3 4zm-4 1zm5 4zm0 4zm-2-2zm-4 3zm-1-1zm-4-3zm-2 0zm2 3zm-2 9zm6 0zm4-5zm0-2zm2 7zm-3-3zm0 4zm4 4zm-5 3zm-10-1zm-2-1zm0 2zm-1-5zm-3-2zm6 1zm-2-2zm-4-5zm0 4zm-2 1zm-1-3zm2 1zm0-4zm0-1zm-1 1zm-4 2zm-2 2zm3-1zm-1 1zm0 2zm-2 4zm1 0zm1-1zm1-2zm3 5zm-4 2zm1-1zm-1-1zm0 4zm5 6zm-4 0zm0-3zm-3 1zm3 3zm-2 5zm-1 0zm3 2zm0-3zm1 1zm2 0zm-1-2zm7 3zm0 1zm1 0zm-3-9zm-2 0zm1-5zm8 0zm1 1zm4 4zm1-2zm-3-3zm2 0zm7 6zm-1 8zm-4-2zm-1-2zm-4 0zm-1-2zm-1 9zm0 2zm2 2zm1-2zm0 2zm9-1zm-1 1zm-3 6zm-16 2zm2-4zm-1-2zm4-4zm0-2zm-3 0zm-5 1zm-2 0zm-3 2zm1 4zm2 4zm2-1zm-3 1zm-4 1zm-3 0zm1-1zm2 0zm-1-3zm1 0zm-3 0zm-4 4zm-8 0zm1-4zm5 1zm-1-5zm-3 1zm-2 0zm0-2zm3 0zm0-1zm-1-2zm0 1zm3-3zm5 1zm-2 5zm0 1zm6 0zm-4-13zm1-1zm2-3zm1-2zm-1-4zm-2 0zm-3 0zm3 5zm-4 2zm-3 0zm1-1zm0-1zm-1-3zm0 1zm-1-1zm-3-2zm0 1zm0 9zm7-1zm-1 0zm1 2zm-3 1zm0 1zm3-1zm0 2zm-4 1zm-2-2zm0-1zm-2 2zm-1-2zm-2 1zm-3 2zm0-2zm1 0zm0-2zm-1 0zm-1-3zm5 0zm-1 1zm1 2zm0-4zm0-2zm1 0zm1-2zm-2-1zm-3 1zm-1-2zm-1 2zm2 1zm0 3zm-1 0zm0-1zm-2 1zm0-1zm-1 0zm0 1zm0-3zm1 1zm0-2zm-2-3zm-1 2zm0 1zm-1 0zm-1-3zm-2 0zm0 2zm2 2zm-1 5zm0 1zm2 1zm0-2zm-1 0zm5-1zm-2 3zm-1 1zm0 1zm0 2zm-1 0zm-1-1zm0-2zm-2 0zm1 2zm2 5zm-2-1zm-1 2zm1 0zm0 1zm-1 0zm1 2zm1-1zm1 1zm0-2zm-1 0zm2 0zm0 2zm3-1zm-1-2zm1 0zm-1-2zm-2 1zm0-1zm6-1zm1-1zm4 1zm-1 2zm0 2zm1 2zm-6 2zm3 0zm2 1zm-1 2zm1 0zm-4 3zm1-1zm-1-2zm-1 1zm-1-1zm-4 3zm1-1zm1-3zm-1 0zm-2-1zm-3 0zm1 0zm0 1zm-1 0zm3 2zm-3 2zm0 3zm2 1zm1-1zm0-2zm3 1zm-1 1zm-5 6zm0 1zm3 0zm-1 1zm-2 2zm2 3zm2-6zm3-1zm3 0zm-1 6zm5 1zm-2-7zm1-4zm-1 0zm-4 1zm0-1zm2-2zm-1-1zm-1 0zm0-1zm3 1zm1-1zm1 3zm1-3zm2 0zm1 5zm0 2zm5 0zm1-4zm-3 0zm5-3zm1 0zm4 2zm-2 6zm1 0zm0 4zm-9 3zm0-3zm3-4zm-5 4zm1 0zm-1 3zm4 11zm-3 0zm0-1zm-6 5zm-5-4zm2-1zm3 1zm-5-7zm2 1zm-3 0zm-1-3zm-3 1zm0 2zm-1 1zm-2 8zm0 2zm3 9zm-2 1zm2 6zm0 12zm17-5zm10-10zm-13 2zm0-4zm9-8zm21-2zm-10 16zm11-32zm0 1zm-8-7zm3 3zm-5 2zm0-11zm-6-1zm11-1zm-2 3zm2 1zm11 7zm24-11zm35-19zm-17-8zm5 7zm-18 5zm-12-8zm-4-6zm2-3zm3-2zm6 5zm7-2zm4 10zm4-9zm-5 0zm7-10zm-3-3zm-4-5zm0 1zm2 2zm-5 8zm-7-2zm-1 0zm-4-1zm-4 5zm-4-6zm4 0zm-3-4zm-1-5zm10 0zm-1 3zm2-2zm3-7zm-7-1zm0 2zm-5 1zm2-3zm-4-2zm0-2zm0-1zm10-3zm-1 2zm-2-1zm7 4zm-2-5zm-1 0zm5 0zm2-1zm4 2zm-3 4zm-3 4zm11 5zm1 0zm-1-4zm0-1zm6-10zm3 1zm3 0zm0 2zm6 0zm-2 4zm-3 2zm-3 4zm-6 4zm0 1zm7 1zm0 2zm-7 5zm21-8zm-4 2zm2 6zm6-9zm2 0zm3 2zm-8-4zm-3-1zm-3-6zm3 0zm2 0zm2 2zm-1-4zm-1-1zm-2-1zm7 0zm3 2zm15-1zm-1 4zm1-1zm-12 4zm9 7zm11-9zm2-3zm-5-4zm9-2zm1 4zm3-1zm4 0zm2 4zm6-1zm6-4zm44 16zm-14-10zm-1 1zm-4-3zm2-2zm1 2zm7-2zm-3 0zm2 3zm0 1zm-2 3zm2 1zm2-1zm2 0zm-1-3zm5-1zm0 3zm-1 0zm0 3zm1 0zm5-3zm-1 0zm-2-5zm-4-1zm3-5zm3 3zm0-3zm5 1zm6 5zm1 3zm0-1zm2 6zm-7-2zm11-4zm0-6zm6-13zm-5-5zm0 2zm-1 7zm1 4zm-5-2zm-1 0zm0-1zm-2-1zm2 5zm-8 0zm-3 0zm0-1zm0-4zm0-1zm4 1zm2 0zm-6-3zm1 0zm1-4zm-1-1zm6 2zm0-1zm0-1zm2 0zm-1 2zm3 4zm1-3zm3 2zm-3-4zm1-5zm-1 0zm2-4zm-1-1zm-4 7zm-8-1zm2-1zm2-3zm-5-5zm1-1zm3-1zm2-3zm2 0zm1 4zm0 2zm2-2zm9-1zm-2 1zm0 5zm-1 1zm-1 3zm4 2zm1 0zm-1-7zm-12-40zm-3 3zm1 28zm-3-6zm-8 3zm-4 0zm-6-2zm5 1zm5-6zm-12-10zm-10-5zm7 24zm-1-1zm-4 5zm-3 3zm-2 2zm0 1zm0 1zm0 1zm1 0zm-2 4zm2 1zm1-2zm2 2zm1 0zm-1-6zm4-1zm-1 3zm2 3zm3 1zm1-1zm-1-4zm-1-2zm2 0zm0-1zm0-1zm-5 1zm-1-2zm2-4zm5 0zm4 5zm1 1zm1-4zm8-1zm-1 1zm0-1zm-3 3zm5 6zm-5 3zm1 0zm-4 0zm0-4zm-1-1zm-4 9zm-2 4zm3 1zm0-1zm2 1zm5-7zm3 1zm2-1zm-1 1zm0 3zm-6 1zm4 3zm0 1zm2 0zm-5 6zm-2-3zm-7-2zm1 3zm-9 2zm2-3zm1-4zm2-4zm2 1zm0-1zm-5-1zm-1-1zm-3 5zm-2-7zm-1 3zm-3 6zm6 1zm-1 0zm-1 3zm2 2zm-1 0zm-20 0zm0-1zm3-8zm-4-4zm8 5zm7 0zm-3-7zm2 1zm1 0zm0-3zm0-1zm-6-4zm1-1zm3 0zm2 2zm0-5zm-7 2zm-8 0zm1 4zm3-3zm0 1zm-8-6zm-2 0zm-1 1zm-3 2zm-1-6zm-4 10zm6-2zm0 6zm-5 7zm3 1zm8 0zm1 3zm-5 3zm-2-1zm-14 4zm0-7zm5-3zm-11-2zm3 8zm-2 2zm1 1zm-3 1zm-10-2zm-1-9zm-4 2zm-1 0zm1-1zm6 0zm5 2zm-4-14zm-1 3zm-8 2zm0-13zm7-1zm3 6zm4 1zm1-1zm5 4zm7 4zm0-8zm-3 0zm-1-6zm3 0zm2-2zm-1-5zm-7 0zm1 3zm-13 1zm-3-1zm-5 0zm6-2zm0-1zm-3-2zm7-4zm-2-1zm14-12zm8 9zm-6-14zm23 18zm6-3zm-6 12zm4-1zm0-1zm9 4zm-2-22zm-6 6zm-2 1zm-1-1zm12-13zm-22-25zm2 19zm-1 1zm-38-4zm0-5zm7 0zm-2-11zm0 6zm19-14zm-10-5zm-16-8zm8 1zm-6-18zm7-2zm-2 7zm43 16zm9-4zm7 4zm2 1zm4 12zm-2 6zm-2-1zm16 7zm-2 13zm2 2zm8-1zm2-17zm-8-2zm18-3zm-8 19zm10 3zm-10-31zm-223 232zm1 3zm-208 10zm25-8zm1 1zm-1-3zm4-6zm7-4zm1 4zm1 2zm-1 2zm3 1zm-13 14zm-1 0zm-5-6zm-2 4zm-6 1zm3 2zm83-23zm3-1zm12 13zm-1-2zm8 3zm17-13zm2 1zm-3 5zm-4-3zm-6 17zm8 1zm-9 16zm8-6zm-27 1zm-4 0zm-7 3zm74-15zm-28-13zm21-6zm-4 5zm3 4zm4 0zm10-4zm4-5zm-2 8zm-2 15zm8 0zm12-24zm2-9zm-7-3zm-2 1zm-10 4zm-4-6zm9-3zm0 5zm1-1zm1 1zm0-7zm-3-7zm-3 7zm0-5zm0-1zm-1-2zm1-1zm0-1zm-1 0zm-3 2zm-3-7zm1 0zm10 6zm2-2zm1-1zm1-2zm2-1zm5 2zm0 3zm0 2zm-4 6zm5 2zm0-3zm4-2zm2-4zm-3 1zm-2-7zm7-2zm0-1zm-2-2zm-5-3zm3 7zm-6-7zm0 1zm2 0zm-1 0zm-1-3zm-2 0zm0-1zm-3-5zm9 0zm1 1zm-1 3zm-1 3zm1 0zm4 0zm2-5zm-3 0zm2-4zm-2-1zm-1 1zm0-2zm1-1zm2-5zm-1 1zm2-2zm-1-4zm-2 2zm-1-2zm-1 0zm-1-1zm0 3zm0 2zm1 0zm1 2zm-3 0zm-1-1zm-3 0zm0-1zm2-3zm1 0zm-1-2zm-2 1zm-2 1zm-1-1zm-1 2zm1 1zm1 0zm1 1zm0 2zm-2 0zm-1-1zm1 2zm0 1zm-1 2zm5-3zm2 3zm-2-1zm0 3zm1-1zm-2 3zm-4-3zm-6 3zm0-3zm1-1zm-2 0zm0-1zm5-2zm-2-2zm1-1zm1-1zm0 1zm0-3zm1-1zm-2 0zm-1-1zm1 2zm-2-2zm-1 0zm1 5zm-7 1zm2-1zm-4-4zm-1 0zm0-1zm-1 2zm3 6zm3 1zm1 6zm-5-3zm-2 0zm1 5zm0-1zm2 6zm2-2zm0-4zm2 1zm5 1zm0 1zm0 1zm3 1zm-4 1zm-2 3zm1 2zm1-1zm-1-2zm1 0zm3 0zm1 0zm0 1zm-1 0zm-2 4zm2 0zm0 2zm-3 0zm-7-1zm-1-4zm-1-2zm1 5zm-3 2zm-2-1zm-1 1zm-1-1zm2-2zm1 1zm-1-5zm-1 0zm-1 0zm0 3zm-6 4zm0-1zm-1 1zm-5 0zm1-2zm2-2zm-1-3zm3 0zm2 2zm0-5zm-4 0zm-2-4zm9 1zm-2 3zm1 2zm4-1zm1-1zm-3-7zm-1-1zm3-3zm1 0zm1 0zm-1-1zm1-4zm-1-2zm-4 2zm-1 1zm-4 1zm1-3zm1 0zm-1-4zm-5 10zm6 3zm-7 2zm-8-1zm3-3zm3-4zm-1-2zm-8 1zm-5-5zm0 1zm1 2zm1 7zm2 0zm0 10zm3 1zm5-6zm3 3zm-2 0zm-1 2zm0 1zm-1-2zm4 5zm-2 4zm-8 2zm-2 0zm-3 4zm7-1zm0 5zm-3-1zm-4-1zm13 10zm2-10zm-4 1zm-2 0zm10-1zm10 2zm-5 1zm0 1zm-4 5zm0-1zm-2-4zm0 11zm11 2zm-2 5zm3 2zm-9 0zm-1-4zm-1 0zm-3 4zm-3-3zm2-3zm-2-2zm1-4zm-6 6zm-2-3zm-2-3zm-2 0zm1 6zm2 2zm-10-4zm3 0zm1-4zm-4-3zm-3-4zm5 0zm-4-7zm-6 1zm3 7zm-4 4zm-4-7zm-6-7zm-1 0zm-1 19zm-14-1zm-2-11zm20-13zm9 3zm2-3zm-1 0zm0-1zm8 3zm0-6zm-4-2zm2-1zm-3-6zm-5-1zm0-5zm2-2zm10-14zm-8 4zm0-1zm1-8zm6-1zm-3-6zm-18 12zm16-26zm10-16zm28 0zm-1 10zm-7 4zm-11 11zm-7 1zm-1 7zm4 9zm2 0zm5 6zm-6-7zm15-6zm-3 1zm-2 6zm4 7zm3-1zm1 0zm1 0zm0-1zm2 2zm1-6zm-2-3zm-4-2zm7-1zm0-5zm-1 1zm-2 0zm0-3zm2 1zm-1-3zm-3 5zm-2 0zm-8 0zm3-4zm-2-3zm6 0zm-4-1zm6 0zm5-2zm1-3zm4 3zm1 1zm3-1zm0-4zm1-1zm2 2zm1-2zm3 0zm-2 2zm0 3zm3 1zm-3 0zm-1-2zm-2 4zm6 4zm0 3zm-1 0zm-10 0zm1-2zm2-2zm-1-1zm-3 2zm-2 2zm1 2zm5 0zm0 3zm0 1zm-1 2zm0 1zm-1 0zm-1-1zm-3-1zm1 6zm1 3zm-1-1zm3 1zm2 0zm-1-1zm0-2zm-1-1zm0-1zm2 0zm2 2zm-1 0zm2 3zm1 1zm2-3zm1 2zm0-2zm-1-1zm-1 0zm1-3zm2-4zm-1 0zm-5 3zm-1 0zm0-1zm1 0zm-1-4zm1-1zm8-1zm5 3zm-1 0zm-1 0zm1 1zm0 3zm-1-1zm-2 1zm1 3zm0 1zm-2 0zm-1 1zm0 3zm3 0zm-1-2zm0-1zm2 1zm2 0zm1-3zm-1 0zm-2 0zm0-1zm4 0zm2 0zm1 2zm-1 0zm-1-1zm-1 1zm0 4zm1 0zm1-2zm3-1zm-1 2zm3-3zm-2 0zm-1 0zm3-3zm0-4zm-3 1zm-1 1zm-1 0zm-2 1zm1-2zm-1 0zm0-5zm3 1zm1-1zm1 1zm0 2zm2-2zm0-2zm-2-2zm-1-1zm1 0zm1 1zm0-3zm0-1zm-1-1zm-1 3zm-1 0zm-2-1zm-1 1zm1 2zm1-1zm-1 2zm-2-1zm-3 0zm1 1zm-4 1zm-1-1zm1 0zm0-1zm0-1zm2 1zm-2-3zm4 0zm-1-3zm-2 0zm-1 0zm-1-5zm5 1zm6-1zm-2 1zm1 3zm0 1zm3-2zm0 1zm2-1zm-1-3zm-2-2zm3-1zm-1-1zm1 0zm-6 0zm2-2zm-1-2zm-2 1zm4-1zm2 1zm-1-4zm2-2zm0-1zm-1-1zm-2-3zm0 3zm-1 0zm-1 1zm-4 3zm-2-6zm-2 1zm1 0zm-3 5zm0 4zm6 3zm-4 1zm-1-3zm-1 1zm-4 2zm2-3zm1 1zm-7-4zm0 2zm2 3zm-5-1zm-3 0zm1 0zm1-4zm-1-9zm11 5zm0-5zm1-4zm-3-1zm-4 4zm-6-4zm3-1zm1-9zm13 0zm3 5zm-1 1zm-4-1zm0 4zm4 4zm1 0zm2-2zm4 2zm0 1zm3-2zm-1 0zm-1-3zm0-1zm-5-2zm2-2zm4-4zm-2-9zm-2 3zm-8 0zm13-14zm-4-8zm-12 10zm-15 4zm2 2zm5 10zm-2 0zm-15-1zm40-40zm-23-49zm11-17zm-7-14z" stroke="#00ee00"/>
<path d="M615 591zm-3-7zm8 16zm-11 33zm-18 1zm-2 4zm-22-1zm-18-12zm0 2zm26-5zm-2-9zm-3-9zm-19-6zm-29 26zm-1 5zm11 33zm-2 2zm16-21zm19 20zm-14 13zm7 0zm-23 18zm2 0zm2-7zm-2-5zm-11 0zm-14 2zm0 20zm82-21zm-12-22zm6-9zm-12-5zm6-4zm72 4zm51-16zm-5-4zm-392 173zm7-3zm26-24zm1-5zm1 10zm-7 4zm4 5zm-12 0zm170-65zm9-14zm-5 3zm-106 19zm43-18zm43-30zm5 17zm18 2zm-19-76zm-110 100zm-10 26zm-4 1zm-18 14zm4-25zm-15 26z" stroke="#ff0099"/>
<path d="M443 511zm0-15zm4-2zm30-29zm-11 7zm-5 2zm-10 10zm8 9zm-4-2zm13 6zm-3 9zm12-10zm-3-7zm0-8zm3 0zm17 13zm-9-4zm9 9zm-2-24zm-9-10zm0-2zm-2-9zm21-5zm-4 6zm2 6zm8-11zm-8-10zm1-7zm9 0zm-5-8zm-4-7zm-8 10zm-5-9zm-3 20zm4-1zm-1-25zm2 1zm13-8zm138-69zm-17 26zm-5 4zm-13 14zm0-5zm-6-4zm-18 3zm2-21zm12 0zm-2 3zm-2 9zm18-42zm2 2zm2 0zm2-1zm-7 14zm4 12zm17-11zm-6-35zm-3 5zm3-11zm-32-13zm-27 51zm-9 23zm16 0zm-12 10zm-1 10zm-8-2zm-12-18zm2 0zm-29 33zm8-6zm11 7zm-3 0zm5 20zm-7 11zm-11 0zm4 19zm16-11zm7 0zm-7-13zm22 1zm14-16zm-15 5zm29-16zm8 0zm-105 129zm-2 1zm-4 12zm-5 1zm-8 1zm4-7zm2-8zm-2-4zm-2 0zm-7 0zm-12 9zm5 3zm2 3zm-9 2zm-2 11zm12 12zm11-6zm-24 12zm0-2zm-15 5zm-12-7zm11-7zm-1-2zm4 1zm5 3zm5 3zm-4-13zm-7-8zm10-13zm-15-5zm-8 5zm-3 9zm1 2zm-18-1zm13 0zm-19-16zm4 20zm-11 5zm-10-6zm-7 0zm10-6zm-13 10z" stroke="#000090"/>
<path d="M442 504zm35-33zm-23 27zm25-5zm-12-12zm15 24zm14 3zm9-5zm-7-14zm-2-8zm1-11zm2 5zm-1-3zm0 4zm-15-30zm158 64zm-9-151zm-24-7zm1 14zm9 2zm-5 9zm-23-14zm-11-14zm-3-10zm9-8zm16 3zm17-5zm5 6zm-7 0zm-1-4zm-2-3zm2 11zm-6 8zm-1 4zm18-12zm4-13zm5-1zm-9-21zm-2 0zm-14 11zm6-7zm8-21zm-40 29zm-16 11zm-6 22zm-26 20zm-7 75zm3-15zm24 15zm10-12zm6 4zm-1-11zm-1 3zm-10-2zm12-32zm-2-10zm17 24zm9-4zm4 0zm19-13zm16 17zm-6 14zm-7 18zm-12 0zm-11-9zm-9 6zm-5 1zm-6 2zm4 13zm1-4zm0 1zm7 2zm-3 7zm-6 6zm-5 4zm10-4zm20-6zm4 22zm2 9zm-4 9zm-12 5zm-13 6zm-1-2zm-15-7zm-22 6zm8-6zm2 1zm0 1zm-2-14zm-9 4zm14-9zm16-10zm-9 0zm-1-7zm3-17zm-8 11zm-9-5zm-7 11zm6-2zm1 0zm-17 11zm-1-12zm8 6zm2 0zm0-3zm0-18zm-22 10zm-2-3zm-3 11zm-1 10zm0 4zm-2 3zm8 9zm12-6zm7-5zm-4 13zm-11 4zm-3 3zm1 15zm8 1zm12 0zm-3 9zm-2-3zm-7 10zm-1-1zm-3 19zm0 13zm16-7zm12 0zm-1 4zm-1-1zm21 8zm-5-17zm3-14zm0-5zm-17 9zm-6-1zm-5-2zm2-10zm7-3zm14-2zm20-11zm-9 23zm1 3zm24-9zm-6-9zm35 4zm-8-5zm4 13zm-11 5zm0 15zm22 0zm0 18zm-37-11zm5 1zm-4-4zm-11-5zm-7 6zm-5 3zm-2 13zm29 10zm-3-7zm29 11zm107-1zm-11-7zm-12 11zm-3-1zm-3-8zm-2 21zm-54-24zm23 10zm-18-44zm2 8zm-14-16zm6-4zm-9-16zm20 4zm9 6zm-1 3zm27 1zm17 16zm-9 6zm1 18zm1-3zm4-7zm9-6zm-1-11zm24 3zm-3 15zm-251-9zm9-1zm8 0zm-6-16zm4-16zm-18-6zm-3 10zm5 8zm-4 10zm-11-23zm-22 8zm-12 42z" stroke="#00e6f0"/>
<path d="M709 641zm3 2zm16 9zm2 0zm13-9zm3-9zm-10 3zm3-5zm3-1zm-2-6zm6 5zm-1-7zm1-16zm-28-1zm3 4zm8 7zm-3 5zm6 4zm-2 12zm-11-2zm-4-10z" stroke="#00a800"/>
</g><circle cx="91" cy="82" r="1" fill="#555"/>
<g fill="none" stroke-width="2.7" stroke-linecap="square">
<path d="M1628 314L1652 314L1662 326L1660 342L1654 354L1646 348L1632 346L1624 360L1616 372L1604 377L1595 372L1600 352L1608 334L1617 321Z" fill="#e6009a" stroke="#e6009a" stroke-width="3" stroke-linejoin="round"/>
<path d="M1630 371L1642 369L1660 366L1666 368L1665 377L1658 390L1649 395L1637 391L1627 385L1624 377Z" fill="#085c2c" stroke="#085c2c" stroke-width="3" stroke-linejoin="round"/>
<path d="M1594 388L1610 394L1612 408L1602 428L1594 446L1582 464L1566 484L1554 504L1542 522L1524 548L1502 562L1476 556L1480 534L1504 504L1530 468L1548 444L1562 424L1578 402Z" fill="#d8a000" stroke="#d8a000" stroke-width="3" stroke-linejoin="round"/>
<path d="M1530 590L1560 560L1600 556L1640 572L1650 600L1630 622L1580 632L1540 630L1520 615Z" fill="#00b8e0" opacity="0.75" stroke="none" filter="url(#bl)"/>
<path d="M1372 652L1407 626L1442 600L1472 583L1510 581L1514 608L1497 629L1461 639L1424 646L1394 651Z" fill="#e06000" stroke="#e06000" stroke-width="3" stroke-linejoin="round"/>
<path d="M1600 600L1628 584L1675 579L1722 584L1756 596L1768 612L1752 626L1744 648L1710 655L1677 653L1642 638L1610 620Z" fill="#00d000" stroke="#00d000" stroke-width="3" stroke-linejoin="round"/>
<ellipse cx="1778" cy="645" rx="19" ry="17" transform="rotate(0 1778 645)" fill="#e87050"/>
<path d="M1580 640L1610 650L1625 690L1618 730L1600 765L1575 775L1560 740L1565 690Z" fill="#b00018" opacity="0.45" stroke="none" filter="url(#bl)"/>
<path d="M1375 862L1396 858L1408 876L1406 900L1394 912L1378 908L1368 888Z" fill="#444" opacity="0.55" stroke="none" filter="url(#bl)"/>
<path d="M1700 540zm-11-12zm-41 26zm8-42zm-19 21zm-1 4zm-6 5zm-13-11zm-13 3zm3-4zm6 3zm2 4zm-31-4zm11-3zm-16 9zm-30-26zm-2 1zm-7 18zm8 0zm-11 8zm-69-3zm7-17zm20 9zm-3 13zm2 21zm10-15zm28-28zm-3-19zm-5-15zm-34 24zm158-201zm8 5zm-2 4zm-2-2zm-3-3zm-1 2zm-2 2zm-1 2zm-3-7zm-7-3zm0 8zm-1 0zm-5 0zm0-1zm1-1zm1-3zm-1 1zm-10 5zm7-7zm2-1zm-18 13zm4-3zm-2 2zm-2 7zm3-1zm1 1zm-3 4zm-7 7zm2 0zm-1 3zm-2 0zm-1 1zm1 5zm3-5zm2 1zm0-1zm1 1zm1 3zm3-1zm-2-1zm3-2zm-1-2zm1 0zm-2 0zm0 1zm-2-1zm-3-5zm4 0zm0 1zm2 0zm0 1zm1-3zm2 2zm4 0zm2 4zm-3 0zm-4 1zm2 1zm1 0zm0 1zm-1 0zm2-1zm7 0zm0 1zm-2 5zm2 1zm0-1zm-1-2zm1-8zm-1-1zm0-2zm2 1zm3-10zm-2 1zm-2 1zm-2 2zm1 0zm-3 3zm-4-5zm-1 1zm1-3zm4 2zm-1-2zm-2-1zm-1-4zm1-2zm0 1zm2 0zm0 1zm5-3zm0 3zm-3 2zm0 1zm7-3zm2-2zm4 0zm1 2zm-2-1zm-4 12zm4-1zm0 2zm2-2zm3-1zm0 1zm2 1zm-1-1zm2 2zm1-1zm2-2zm0-2zm-2 0zm2-2zm-1-2zm-6 0zm3-2zm-2-3zm11 0zm10-1zm0 1zm-3 5zm-3 2zm4 2zm-3 3zm-7-5zm0 1zm0 7zm1 0zm-1 2zm1 0zm-1 4zm3 0zm1 1zm0-2zm-2-4zm1-1zm6 2zm1 2zm1 3zm-2-3zm-2 1zm1 3zm2 3zm-2 1zm-2 0zm0 1zm-1 1zm-1 0zm1-5zm-3 0zm1 1zm-2 1zm0-2zm-2-1zm-1 5zm1-1zm2 3zm-4-3zm-3 0zm1 2zm0 1zm-4-5zm0-1zm4 0zm1 2zm1-2zm-1-1zm-1-8zm-1 3zm-2-1zm1 0zm-1-1zm-1-1zm-2 6zm-3-5zm-2 2zm-1-1zm1 5zm-1 0zm-1 0zm4 4zm2 3zm-4-1zm-2 4zm1 1zm2-2zm2 1zm1-1zm1 7zm-7 3zm3 4zm1 1zm3-4zm-1-2zm2 1zm1 3zm0 2zm4-10zm-3 1zm4-4zm0-2zm1 0zm2 0zm1 0zm-1 3zm-1-1zm1 4zm2-1zm1-1zm1 0zm1 1zm1-1zm2-1zm2-2zm-3 4zm5 9zm-8-2zm1-2zm1-2zm-6 3zm2 3zm10 4zm-19 1zm-2-3zm-4 5zm-1-5zm-3 1zm3 7zm-19 2zm2-2zm5 3zm-2-6zm0 2zm-5-1zm3-1zm-2-5zm1 0zm2 3zm4 2zm3 1zm4-4zm-1 0zm-1-2zm0-1zm-4-3zm1 1zm-2-4zm4-1zm2 3zm-2-5zm2-3zm-2 0zm-1-1zm-1 2zm-1 3zm-3-1zm1-6zm-5 3zm0-3zm-2 2zm0 2zm0 1zm2-1zm1 3zm-2 0zm0 1zm2 0zm2 3zm-1 0zm1 1zm1 0zm1 1zm0 1zm-5 0zm-3 1zm0-2zm-1 0zm-1 2zm-2 0zm-3 0zm3-4zm-2 0zm3 0zm1 0zm2 0zm-2-11zm-2 4zm-7 0zm-2-4zm-2 2zm3 2zm0 5zm2 0zm1 2zm-1-1zm-2 4zm0 4zm-3 3zm0 2zm3 0zm-1-3zm4 3zm-1-5zm-1-1zm6 1zm5 2zm-2 3zm-5-3zm0 1zm1 1zm0 1zm0 2zm-1 1zm2 0zm2-2zm0 1zm3-1zm-1 2zm1 2zm-11 2zm0-1zm0-3zm-3-1zm2 5zm0 1zm-5-7zm-4-7zm-2 1zm-2-2zm0 15zm-10-4zm-3 4zm14-24zm7 0zm-3-4zm-1-1zm2 1zm1 0zm2-9zm-4-1zm0 5zm-12 40zm-2 1zm5-3zm11-1zm2 2zm0 2zm-7 4zm5-2zm0 2zm0 3zm-4-2zm-9-2zm2 3zm1 9zm3-3zm-2 0zm10 8zm-9-3zm-5 0zm-3 5zm-1 1zm1 1zm-4-14zm-9 9zm7-2zm-2 7zm13 4zm3 2zm-20 13zm2 12zm-31-10zm15 17zm11 24zm-24 2zm8 29zm11 2zm-9-16zm22 1zm-1-2zm-1 9zm3-43zm3-8zm31-1zm17-2zm-2 6zm1 9zm10 40zm6-1zm13 9zm4-26zm0-1zm-10-19zm4 14zm-6-17zm4-14zm-1 10zm-3-28zm-4-1zm-2-10zm-7-3zm0 5zm-1 5zm1 3zm-1 10zm9-6zm5 3zm-3 1zm-4 5zm-5 1zm-7 2zm0-10zm-6 1zm0-3zm-2 7zm-7-2zm3-5zm-13-8zm3 0zm13-9zm5 0zm-4 11zm0 4zm11-4zm-1-27zm-12 6zm4 6zm-8 2zm1-6zm-9-7zm5 3zm3 3zm0-8zm-2-7zm-11 5zm1-8zm9-5zm3 7zm3 2zm7 3zm19-1zm-1 4zm-6 16zm2-4zm28-80zm-1-1zm3-2z" stroke="#f000a0"/>
<path d="M1647 613zm-38 13zm-7-10zm0-3zm13-58zm7 8zm-32 12zm-7-32zm-37 40zm-6 8zm48 6zm1 9zm-11 17zm16-9zm-2 20zm-186-16zm1 2zm-11 8zm2-2zm7-2zm1 9zm-5 4zm-5-4zm-1 6zm-10-3zm2 1zm3-3zm-17 26zm-2-2zm-4-2zm-3 0zm-1 0zm-12 2zm6 0zm2-3zm-1 0zm-1 0zm0-1zm0-1zm-2 1zm8-7zm0 2zm-2 2zm-1 0zm4 2zm1 1zm1 0zm1 1zm-3-7zm4 7zm5-3zm0-4zm2 0zm-2-1zm6-4zm1 2zm1 2zm-1-7zm9 0zm-4 4zm-1 2zm3 4zm1 5zm-8-2zm3-2zm-6-1zm-1 1zm2 1zm2 4zm3 0zm3 2zm0-1zm17-8zm-5 3zm-2-1zm3-3zm-5-4zm-1-4zm1 0zm1 1zm8-1zm-1 2zm-2 4zm5 0zm4-4zm-1 1zm0 2zm0 1zm2 1zm2-1zm1 0zm1 0zm0-2zm0-1zm-2-2zm3 0zm4 0zm-1-1zm4 2zm-3 2zm-2 3zm4 6zm-2 0zm-7-5zm-2 0zm-2 0zm31 1zm-9 2zm0-2zm0-4zm-3 2zm-3-1zm5-5zm0 1zm6 0zm0 3zm0-1zm3 0zm3-1zm2-1zm1-1zm1-1zm0 2zm2 3zm-1 2zm-3-1zm-2-1zm2 5zm3 1zm6-1zm1-2zm0-1zm-2 0zm-2-1zm-1-4zm4 0zm4-2zm1 7zm5-3zm13-4zm8 0zm1 0zm8 0zm14-18zm-1 1zm0-5zm4 1zm2-5zm-6-5zm4 2zm5-1zm1 1zm-2 4zm4-2zm-1-4zm8-11zm-12-7zm0-7zm2-5zm1 3zm-6-4zm-2 0zm0 4zm-3 4zm0 2zm1 3zm1 2zm0 1zm3 3zm0 2zm1-2zm5-5zm1 0zm-1 5zm-1 6zm5 0zm-2 0zm-1 0zm2 3zm-8-6zm-9 0zm-1 1zm-8 5zm-2-4zm-2-1zm6 1zm1-1zm-7-4zm2 0zm0-2zm1-3zm1 3zm1-1zm3 1zm4 2zm2-8zm-4-1zm-2-3zm4-3zm0-6zm-3 4zm1 2zm-3 0zm-1-3zm-4-2zm5 13zm-2 1zm-5-3zm-6 2zm-2 0zm2-5zm5 2zm0-4zm-2 0zm-1-3zm2-2zm-4 2zm1 0zm-10-3zm-1 0zm6 14zm-5 3zm1 3zm1-1zm3 3zm5-6zm2 0zm0 2zm-5 2zm7 3zm-7 5zm-4 1zm3-3zm-3-3zm-1 3zm-3 1zm6 6zm-4 5zm0-1zm-2 2zm1 0zm0 4zm-1 1zm2 1zm2 1zm2-2zm-2-3zm1 0zm6 1zm-2 0zm-1 3zm6-8zm0-2zm-4-2zm2-2zm3 2zm6 0zm4 6zm3 6zm-1 0zm-6 0zm-5-6zm3 9zm-2 3zm6 1zm4-5zm0 7zm-2-1zm1 3zm1 4zm-5-2zm-2-3zm-4 2zm1 3zm1 0zm-4-2zm0-8zm-1-2zm-2-1zm-1 0zm-2 2zm2 2zm1 1zm-10-1zm5 9zm-4-1zm-1 1zm-2-1zm-7 0zm-7 0zm-1-7zm2 0zm0-4zm3 0zm7 2zm2-3zm-2-3zm-2 2zm1-5zm-3 0zm2-1zm2-1zm2-2zm-2-2zm2 0zm1 1zm-1-3zm-2 0zm-6 2zm-2-2zm-1 1zm-1 7zm1 1zm3-3zm0 6zm-5 1zm-7 0zm1-7zm4-2zm-3-2zm3-2zm-5 0zm-2 2zm-1 3zm-1-1zm0-2zm0 6zm-6 3zm5 3zm6 3zm2 1zm-5 3zm0 1zm6 2zm1 0zm0 5zm-4-3zm-7 2zm2-1zm-1-2zm-8-1zm1-4zm-5 0zm-2-2zm-1-2zm-1-2zm-4 11zm6-3zm-1 4zm-12-3zm-1 3zm-3-2zm1 1zm-4-7zm-3-1zm1-1zm4 0zm1-1zm4 1zm1 0zm-2 2zm0 3zm5-9zm-3-3zm0 4zm-10-4zm0-2zm3 2zm8-6zm0 2zm6-3zm-2 2zm1 0zm4 8zm6-6zm-1 2zm-2 1zm3 3zm1-6zm-3-1zm1-4zm5-3zm-1-1zm0-3zm-2 2zm-1 1zm-4-4zm-3 2zm-6 0zm29-18zm2 0zm-10 7zm0 2zm2 6zm0-2zm4 6zm3-1zm3 0zm-2-3zm2-3zm-6-3zm3-2zm5 0zm5 0zm-6 7zm0 5zm5-1zm-1 0zm2 2zm4-6zm1 2zm0 3zm3-2zm-2-3zm2-4zm-4 0zm4-12zm-4 1zm0 5zm-9 0zm-1 0zm2-6zm2 1zm2 0zm2-6zm4 2zm0 1zm17-13zm8 5zm3-8zm7-7zm1-5zm5 19zm5-1zm-2-6zm21-22z" stroke="#f06a00"/>
<path d="M1793 636zm-10 72zm-14-3zm-8 2zm5 8zm-13-6zm-5-4zm-4 4zm6 9zm-14 1zm2-14zm1 6zm-5-1zm1-2zm-5 1zm-36 12zm-10-17zm2 5zm-6 6zm12-6zm9-5zm12 20zm6 7zm-7-27zm15 2zm0-5zm-4-5zm-7 3zm-1-10zm5-1zm0 7zm4 0zm3-17zm-9 1zm1-2zm-6 3zm1 1zm1-1zm1 2zm0 1zm-7 4zm-4-3zm6-12zm-3 2zm-5 1zm-5-1zm0-1zm-1 1zm3 9zm1 2zm0-1zm-5 1zm0 7zm4 2zm6-3zm2 3zm-4 4zm-2-1zm-5 3zm-7-3zm-2-9zm0 3zm-3-2zm-3 9zm-4 3zm-3-5zm-3-4zm5 1zm1-4zm-4-8zm-5 6zm-3-1zm4-4zm0-2zm1-8zm2 3zm5 2zm4-3zm0-1zm3 0zm-5 8zm0 6zm5-3zm0-2zm5 0zm-1 5zm1-3zm2-4zm-2-1zm0-4zm2-3zm1 2zm1-8zm1-8zm-5 3zm-4-2zm-6 2zm2 0zm1 3zm1 3zm-7 0zm-2-2zm-5 6zm-6-1zm1-1zm0-13zm2 1zm4 2zm-1-2zm8 2zm-1-2zm1-2zm0-7zm-2 0zm-2 2zm-3 2zm-3 0zm-3 1zm-1-4zm2-1zm3-1zm-2-1zm-3 0zm1-1zm2-3zm-3 0zm2-2zm8 7zm1-1zm0-2zm6-2zm1 0zm1 0zm-1-1zm0-1zm2 1zm-4 4zm2 10zm2-1zm1-3zm-1-2zm0-1zm5 3zm-1-1zm4 3zm2-5zm1-1zm-2-1zm-2 0zm-3 0zm0-1zm1-4zm5 1zm5 1zm-3 0zm1 1zm-1 1zm7-1zm6-2zm-1 3zm3-1zm-1 2zm-4 4zm3-1zm1-1zm-1 6zm-7 0zm-6-6zm1 2zm1 3zm-2 5zm2 1zm1-3zm2 1zm1 4zm-3 2zm0 3zm-2 1zm4-1zm-1-2zm11-8zm1 3zm3 0zm1 0zm2 1zm0 1zm1 2zm-2 6zm-1 0zm7 1zm3-8zm1 0zm-2-1zm-5-5zm7-4zm-1-1zm-2-1zm-2 1zm0-2zm-9-1zm1 1zm4 0zm-6-3zm1-1zm0-3zm0-2zm3 3zm3-1zm0-1zm1 1zm2 2zm5-4zm5 5zm-3 4zm-1 4zm4-2zm3-3zm1 1zm6 5zm1 1zm-1-8zm-3 0zm-3-5zm1-1zm-1 0zm7 1zm1-1zm3 2zm-3-1zm0 1zm0 4zm1-1zm7 1zm0 2zm1 3zm-5 3zm1 8zm-9-2zm-12-5zm1 5zm1 1zm1 2zm1 5zm-3 6zm2 2zm0-1zm2 1zm5 0zm-2 3zm4 7zm-7-1zm-5 1zm7 7zm-6 4zm3 1zm7 0zm3 0zm1-10zm5 6zm-1 0zm7 3zm4 0zm-4-3zm4-15zm-6 4zm-5-2zm17 1zm-4 20zm9-12zm8 4zm7 7zm-1-46zm-23-12zm18 7zm12-7zm-10-33zm-8 2zm0-1zm-4 3zm-2-1zm-1-5zm-2 1zm-3 2zm3 1zm0 1zm-3 3zm9 16zm-15 6zm-2-2zm1-1zm0-4zm6-6zm-3-2zm-4 5zm-6 0zm5 8zm-3 1zm-13-1zm-4-1zm-3-2zm4 1zm3-2zm0-3zm-5 0zm-2-1zm3-1zm-1-4zm9 0zm-1 1zm-1 5zm1-2zm4 1zm1-4zm0-3zm-2-6zm-3 1zm0 3zm-5 0zm-1 1zm-2-2zm5-7zm-2 0zm-4 3zm2-4zm3-3zm4 0zm-1 2zm1 4zm2-2zm2 2zm0-4zm7 4zm-3 5zm5 4zm0-4zm-2 0zm5-2zm2 6zm3-2zm-1-1zm-3-5zm-1-1zm1-3zm-1 0zm0-2zm3-4zm-3 1zm-1 0zm1-4zm-2-1zm4 1zm1-4zm-1-2zm-2-1zm-1-2zm-1 3zm0 3zm-1-1zm-1-4zm1-2zm-2 0zm-2 5zm-3 4zm3-1zm1 0zm1 2zm-4 5zm-7-4zm-1-2zm-1 1zm3 2zm-1 2zm-5-5zm2-4zm-3 1zm1 0zm-3-5zm4 1zm1-2zm1 1zm3 2zm-2 1zm1 0zm5 1zm0-9zm-2-4zm-2 1zm-1 0zm-1 1zm0 5zm-8-1zm0-1zm-1 0zm5-2zm1-2zm1-3zm-3 1zm0-5zm3-1zm9 12zm2 0zm4-2zm2-1zm8 5zm1 2zm4 6zm-5 1zm1 1zm5 5zm-2-4zm6-1zm-1 4zm-1 0zm10 1zm-39-94zm-9 7zm-1 13zm3-4zm0 13zm3 0zm0 5zm-1 12zm0 1zm16-10zm-1 12zm3 12zm-11-12zm-5 4zm-7 2zm0 2zm-9 0zm6 1zm0-8zm-4-2zm-2 0zm-3 4zm0 8zm1 2zm-1 1zm-4-1zm-4-2zm-1-1zm-1 0zm-6 3zm0 1zm-4-2zm1-9zm11 1zm-1-4zm2-4zm-4-3zm-5 5zm-2 0zm-3-7zm5-4zm-1 3zm-1-2zm1-4zm3 0zm4 0zm3 5zm1 1zm-3-5zm11 1zm-6 1zm2 5zm7 4zm0-7zm5-4zm-4-5zm-5 2zm-1-8zm-4-2zm12-7zm-4-4zm6-8zm-12 0zm-9 13zm1-5zm1-10zm-5 3zm-1 10zm-4 9zm8-4zm2 3zm-3 1zm0 3zm0 1zm4 4zm-4-2zm-7-2zm-3 1zm-1-3zm-1 1zm0-1zm-2 7zm-4 0zm-2 0zm1-4zm-4-4zm-2 0zm0-1zm1 0zm-1-2zm4-1zm3-3zm8 5zm-2-3zm2-2zm0-3zm-6 2zm3-6zm-6-5zm1 0zm-1-2zm1-1zm-3 2zm-1 0zm-3 1zm0 3zm3 1zm1 1zm-5 3zm-7 2zm0-2zm3-4zm3-6zm-2 0zm-4-2zm0 3zm3 2zm-1 0zm-5 2zm0-2zm1-1zm1-4zm-3 3zm-3 8zm3 0zm0 2zm3 1zm0 1zm-7-2zm5 9zm2-1zm0-4zm6 3zm0 2zm-1 2zm3 5zm-7 1zm1 0zm-3-3zm-5 2zm0 4zm0 7zm6 6zm8-10zm-3 2zm-1-6zm8 3zm6-3zm0 2zm5 1zm-6 3zm1 3zm-1 1zm6 0zm-2 0zm1 4zm-6 0zm-3 0zm2-3zm-1-2zm-5 4zm1 3zm8 3zm6 11zm-15-6zm0 7zm-1-2zm-3 0zm-4-4zm-3 2zm-1-1zm3 5zm-3 0zm-4 2zm1 0zm0 6zm8-6zm5 4zm1 6zm-2 1zm-9 0zm2-3zm-2 1zm0 1zm-3-3zm0 3zm-1 6zm2 1zm5-2zm0 1zm-2 4zm1-1zm-3 3zm-3 2zm0 2zm4 3zm2 0zm0-2zm0-3zm1 0zm4 1zm0-5zm2-2zm3-3zm1 3zm1 4zm0-1zm-1-1zm-1 8zm3-1zm2 1zm1 2zm3-6zm0-1zm-1-3zm1-3zm0-1zm1-1zm3 1zm1-7zm-4-2zm-4 4zm-2 0zm-1 2zm-1-3zm-2-3zm6 1zm0-3zm-6-4zm2-2zm1 0zm2 1zm5 2zm1 2zm4-3zm-3-2zm9 5zm-3 6zm-1-1zm0 4zm7-4zm5 5zm2-3zm-6-7zm2 0zm-3-2zm5-3zm-1 3zm2-1zm7 1zm3-1zm6-1zm-1 4zm2 0zm-4 1zm-2 1zm1 3zm1-1zm1 0zm1 6zm-1 0zm-1-2zm-2 0zm-1 0zm-4 0zm3 0zm-5-2zm-2 0zm4 10zm2-3zm2 3zm3 3zm2 0zm-1 3zm0 2zm0 1zm-1-1zm-4-3zm0-1zm-3 2zm-1-1zm0-1zm-2-1zm-1 1zm0 3zm-7 3zm2-2zm-3-13zm-2 7zm-1-3zm-5-3zm0 3zm0 2zm2 4zm0 5zm1 3zm0-2zm3 6zm-6 1zm0 2zm3 1zm-3 1zm0 1zm1 2zm2 0zm4 0zm-1-5zm5-1zm-2 6zm2-2zm3 1zm-1-3zm0-1zm1 0zm-5-4zm6-2zm0-1zm3-2zm1 1zm1 5zm4-6zm0 1zm0 2zm3-2zm2 1zm2 5zm-5-3zm-2 0zm0 1zm3 3zm4 0zm-3 2zm1 3zm-4 0zm-2 2zm-1-1zm-1-1zm2-1zm-5-2zm1-1zm-1 3zm0 3zm-2 8zm4-3zm1 3zm0-1zm1-2zm0-3zm4 0zm4-1zm1 2zm-2 1zm-3 3zm-2 2zm0 1zm3 2zm0-1zm3-1zm-8 5zm-2-5zm-4 0zm3 4zm-4 2zm-1-1zm0-1zm-5-1zm1 1zm-2-2zm1-7zm2 3zm-4-1zm-3 0zm1-3zm-4-2zm-1 4zm2 6zm1-1zm-1-2zm4 1zm1 2zm-3 1zm0 1zm2 0zm-4 2zm-1-2zm-3 1zm-1 1zm2-5zm-1-1zm-2 1zm-2 4zm1 1zm-11-1zm0-1zm2 0zm-2-4zm8-8zm0 4zm1 2zm2 0zm4-2zm-3-8zm0-5zm2-1zm0-2zm1-5zm-2 0zm-6 7zm-4-6zm-2 0zm-1 5zm6 5zm-1-1zm-5 4zm-1-1zm-6 0zm1 0zm5-6zm-1 0zm-1-5zm-3-2zm-1 3zm2 2zm-4 2zm0-6zm-7-1zm0 4zm3 1zm-3 5zm3 0zm-1-2zm5 4zm-1 3zm-3-2zm-1 4zm1 1zm-2 0zm3 5zm0-5zm2-2zm2 3zm3-1zm2 2zm-1 5zm1 6zm-3 0zm-2-2zm-1 2zm-1-1zm-1-2zm-3-3zm-2-1zm0 7zm-2 0zm-1 0zm1-3zm-2-3zm-2 4zm1 1zm-6 0zm-2 0zm-2 1zm-1 0zm1-3zm6-7zm-5 0zm1-1zm-1-1zm-2-3zm3 0zm2 2zm1 0zm2 5zm6 0zm-4-14zm1 0zm4 2zm0-3zm-5-5zm0 2zm-4-1zm-6 1zm1 2zm-1-1zm3 2zm4 1zm-1 1zm-1 0zm-2 4zm-5 0zm-3 0zm-3-2zm3 1zm-2-5zm6 3zm-1-11zm-2 0zm-1 0zm-3 0zm1 3zm2 1zm-9-4zm-2 2zm1 1zm-1 1zm2 6zm0 1zm1-3zm2 4zm1 2zm-2 0zm-2-1zm-1 0zm-1 3zm1 1zm-1 4zm0 2zm3-2zm1-1zm0 3zm1-1zm2 1zm0-1zm-2-3zm1-3zm1 1zm1 0zm2 2zm0-3zm5 0zm-3 3zm0 1zm2 1zm1 1zm-2 0zm-3 0zm1 0zm-3 2zm1 1zm1 2zm1 0zm4 4zm-6-1zm-2 0zm0-3zm0-1zm-1-2zm-1 0zm-3 3zm-2 0zm1 1zm2 3zm-1 0zm-10-3zm3-1zm-3-2zm4 0zm1-3zm0-2zm1 1zm1-1zm-4-2zm-1-2zm0 5zm-5 2zm-1-2zm0-1zm2 0zm-2-4zm0 1zm1 1zm-3 1zm-2-2zm1 1zm-1 2zm1 2zm5 4zm-1 0zm-3 5zm-1-2zm-3 0zm-1-5zm-3 2zm-2 0zm-3-2zm0-4zm-1 0zm-2-3zm8-1zm1 1zm1 5zm2 1zm1-1zm-2-5zm1-6zm1-1zm-1-2zm-2 0zm-2 3zm0-1zm1 0zm-1 3zm0 1zm0 1zm-3-1zm-1-2zm-5 3zm2-2zm-1-3zm0 1zm-1 0zm0-1zm5 0zm1-5zm-2 0zm0-1zm-3 3zm0-2zm0-3zm-2 1zm5-1zm2 0zm2-2zm2 1zm-1 2zm0 3zm1-1zm-1 0zm5 1zm1-5zm7 4zm-1 1zm0 1zm-1-1zm-1 1zm-3-3zm-1 3zm1 1zm1 0zm0 1zm1 2zm-3-1zm1 2zm-1 1zm1 1zm2-1zm2 0zm-1 0zm3 2zm-2-4zm-1 0zm7-2zm-2 3zm0 1zm3-5zm2 1zm-3-3zm-2-2zm2 0zm-1-4zm3 1zm0 1zm1-2zm1-1zm-3-3zm-3 3zm0-3zm2-2zm-3-1zm7 1zm0-3zm0-1zm-2 1zm-1-7zm0 1zm-1 1zm-2 4zm-2 1zm-3-2zm-3 0zm2-1zm-1 1zm0 1zm1 1zm-1 0zm-1 0zm2 2zm-1-1zm2 0zm0 3zm2 1zm0 3zm-3 0zm-1 0zm-1-3zm-1 0zm-2 2zm-2 1zm1-2zm-1 0zm1-1zm-3-1zm-2-2zm1 2zm2 3zm-1 1zm-3-2zm-1-1zm-6 3zm3-2zm1-3zm0 1zm1 0zm1-1zm-1-4zm-4 0zm1-1zm0-4zm6 3zm0 3zm2 0zm3-1zm2-7zm-1-3zm0 1zm-2-4zm-1 0zm0-1zm-8 4zm17-8zm-2 7zm-1 2zm-1 0zm6 0zm5-5zm-1 1zm0 2zm0 1zm5 1zm-1-2zm-2-2zm3-8zm1 3zm1 3zm3 0zm1-1zm2-3zm0-2zm6 0zm-1 2zm-2 2zm-1-1zm-1 0zm0 2zm0 1zm1 2zm-1 1zm6-2zm1 1zm-2 6zm-2-1zm0-1zm0-1zm-4 3zm-3-2zm-2 1zm1 1zm-3 4zm1-1zm1 0zm0 1zm4-3zm-1 4zm-3 1zm-2 1zm1 3zm2-1zm-2 5zm3 1zm1 1zm1-1zm0-2zm1-2zm3-1zm0 5zm2-2zm1 2zm1 0zm-5-11zm0-1zm0-1zm4 0zm-1 2zm4-3zm1 1zm1 2zm1-3zm1 4zm2 3zm-1 0zm-4-3zm0 11zm2-1zm1 0zm0-5zm1-1zm5 1zm-2 3zm2 1zm2 0zm3 2zm-3-9zm-4 1zm3-3zm1-1zm-1-9zm-3 2zm2 0zm-4 1zm-5-1zm1-2zm1-2zm2 3zm2-5zm-2-1zm-2 2zm-2-3zm2-1zm-3-1zm7-1zm1 0zm1 5zm5-2zm-5-5zm-3-1zm-22-28zm11 0zm11 2zm5-4zm-2-8zm-1 0zm0 5zm-5 1zm-2-5zm6-3zm-6-4zm9-1zm-2 4zm2 1zm0-2zm3 2zm1-3zm0-2zm1-3zm-1-7zm0-5zm-4-2zm-3 7zm-3 0zm0-7zm-4 1zm4 13zm-6-2zm1-11zm-3 2zm-5-1zm8 20zm-4 2zm1 0zm0 2zm-1 3zm-17-4zm-14-15zm-7 3zm0 32zm11 0zm3 18zm-25-33zm-23 1zm-23-10zm-10 16zm17 5zm-1 18zm-10 35zm54-16zm-3 3zm1 1zm0 2zm1 1zm-2 1zm-2-3zm0 4zm2 1zm1-1zm1 2zm-1 1zm3 1zm0 3zm-4 0zm-7-3zm2-3zm-2 1zm-3 0zm-14 12zm15-4zm5-1zm2-1zm3 4zm2 2zm-4 0zm5 9zm-5-3zm-4 0zm1 1zm-1-4zm-1-1zm9 10zm-1 4zm-3 1zm1-1zm1 3zm-15 1zm-27 0zm10-7zm0-3zm-11-12zm4 4zm-18-2zm0 2zm8 20zm-9 10zm15-4zm14 0zm-2 17zm1 7zm-23-8zm2 26zm7 11zm23 2zm6 3zm0 1zm2-2zm5-11zm7-31zm-1-1zm-3 13zm-19-3zm7-18zm-3 6zm0 1zm22-3zm1-4zm-2-7zm5 5zm4-4zm9-1zm-1 1zm0 4zm-6 3zm5 1zm-6 2zm-6 16zm17-8zm0 10zm12 0zm1-10zm-4 3zm1-8zm3-4zm0-3zm-4 3zm0-3zm-4 4zm-7-3zm2 0zm3-1zm2-3zm-5-5zm1 1zm2-1zm5 1zm1 1zm-2 3zm1-1zm2 1zm1 2zm-1-4zm0-1zm0-1zm5 1zm2 0zm-1-2zm2 0zm2 0zm0 2zm-1 3zm0 1zm-3-2zm-1 0zm-1 4zm2 2zm-1 2zm-1 3zm4-6zm7 0zm0 3zm2-4zm2 1zm-1-5zm-5 3zm0-3zm0-3zm5 2zm1-3zm1 0zm1 0zm-1 3zm3 3zm-1-1zm1-1zm3 2zm0 1zm-1-7zm3 0zm3 3zm-1-2zm3 3zm1 1zm-1 1zm-1 1zm-1-2zm-2 1zm-1 1zm2 1zm3 0zm1 3zm1 2zm-4-1zm-3 0zm-3 1zm0-1zm2-4zm-3 0zm-2 3zm-2-2zm1 3zm1 9zm5 2zm0-1zm-2-6zm5 6zm-2-2zm0 5zm-1 1zm-2 0zm-1 1zm-9 3zm0-2zm4-2zm-3-9zm-4 1zm-1 3zm0-4zm-4 0zm-1 0zm2 12zm2 0zm-2 1zm-1 8zm-3 1zm10-6zm5 1zm4-1zm1 3zm10-3zm1 1zm0 3zm-8 7zm-2-1zm3 8zm2 4zm0 2zm4 0zm1 1zm-28-6zm2 7zm-20-9zm5-1zm8-7zm1-7zm-22 6zm4-8zm-10 11zm8 25zm5 16zm6 7zm9-22zm28-5zm-16 15zm-6 12zm-4 2zm0 18zm-12 5zm-18 5zm-17-25zm5 2zm2 9zm0-7zm3-22zm-6-9zm-35 86zm13-25zm16 18zm20-18zm-76-13zm-2-29zm5-75zm2-45zm0-7zm-6-12zm-17 4zm9 0zm1-24zm3-17zm40-67zm-1-1zm16-5zm-9 10zm0 20zm20-2zm0 3zm1-21zm-18-23zm37 34zm13-5zm8 7zm-4-3zm1-12zm-2-1zm10 0zm9-7zm-1 4zm-1 0zm1 4zm1 5zm3-1zm-12-1zm3 10zm-1 2zm-2 4zm7-10zm3 2zm5 3zm-1 9zm1-1zm4 1zm1-2zm-1-1zm3 1zm4-4zm1-3zm-6 1zm0-1zm2-3zm2-1zm2-2zm-1-3zm2 0zm-1-2zm-6-1zm0 2zm-1 3zm-7-1zm0-3zm6-6zm4-3zm3 5zm1-4zm0-3zm1-4zm-3 0zm1 2zm2-5zm0-9zm-13 6zm0 3zm3 4zm-4 2zm-9-13zm1 4zm-2-8zm-5 1zm0-3zm1 1zm1-3zm14-8zm-1 11zm1 2zm10-1zm-5-17zm-16-6zm32 22zm4-9zm12 13zm3 8zm-10 4zm1 2zm-3-3zm-4 1zm0-4zm3 0zm1-1zm-9 4zm-2 2zm-2 1zm-1 0zm2 3zm0 1zm6-1zm0 1zm3 8zm0-1zm0-2zm-1 6zm0-1zm-1 0zm0 2zm-5-1zm0-3zm-1-3zm-1 0zm-2 0zm0 2zm1 5zm2 1zm1 1zm3 4zm-4 0zm-2 0zm-1 1zm0 5zm0 3zm5-2zm-1 1zm0 1zm3-1zm-3-2zm5-3zm0 5zm1 1zm1-1zm-1 0zm5-1zm0-3zm-1-8zm6-1zm0 3zm0 1zm3 2zm-1 1zm-3-2zm-2 3zm3 6zm2-5zm4 4zm5 1zm0-3zm-1-4zm1-1zm-7 1zm3-6zm-1-9zm-1 4zm-9 1zm3-1zm2-1zm-2-5zm1-3zm2-1zm3 5zm2-1zm0-1zm4 1zm1 1zm7 3zm-4-2zm4 11zm-1 8zm4 2zm-2-11zm-5-37z" stroke="#00e800"/>
<path d="M1696 535zm-25-20zm-21 97zm-18 2zm-23-6zm11 1zm10-3zm-10-8zm-10 5zm2-9zm10-15zm-5 2zm24 24zm5-7zm8-8zm-20-54zm-17 4zm12-11zm-8-15zm-3 1zm-18 7zm6 7zm8 19zm14-4zm0 6zm-5 3zm-3 11zm1-2zm4-2zm1 5zm-24-1zm-12 0zm3-13zm1-15zm3-9zm0-12zm-11-2zm0 9zm4 2zm-14 2zm0-8zm-6 23zm-7-26zm-2 1zm-8-2zm-1 1zm5 5zm2 0zm0 2zm-7 3zm-3-1zm-5 2zm1-4zm0-2zm2 1zm2 0zm2-8zm-1-1zm-1 3zm-13 5zm3 3zm-1 3zm0-2zm0 1zm0 6zm-2 1zm4 3zm5-6zm1 1zm4 4zm-5-1zm-1 2zm-1 4zm-5-2zm1 3zm-1 3zm0 1zm5 0zm20 16zm-2 5zm-13 24zm0 12zm-3-6zm12-12zm17 51zm-9 2zm-4-24zm-12 11zm-19-3zm-9-40zm-24 2zm-5 1zm-1-3zm-1 7zm-10-4zm-7-3zm12 27zm-14-7zm-2-19zm-3-21zm1 0zm1 7zm3 0zm-1-7zm-1-2zm-5-2zm7-3zm0-1zm-3-3zm3-2zm-5 1zm1 1zm-4-1zm-2-1zm0 6zm2-1zm0-9zm8 0zm0-14zm1-2zm3-3zm4-3zm1-1zm0 2zm1 5zm0-1zm3-5zm0-1zm2-2zm0-2zm-6 3zm11-6zm1 6zm10-3zm-5 0zm1 6zm1-2zm3 6zm-1 0zm-10 3zm-1 1zm2 2zm3 3zm0-3zm-2-3zm2-1zm8 1zm-5 6zm1-1zm-2 0zm6 2zm-1 1zm0 1zm-1 5zm-5-1zm-5-4zm0-1zm-2 2zm-1 2zm3 0zm-5 0zm-5-2zm4-4zm-8-6zm-5 7zm1 3zm3-3zm1 4zm2 3zm-5 0zm1-2zm0 4zm-2 2zm0 2zm2 1zm0-1zm2 1zm1-2zm-2-2zm10-2zm-2 7zm-2-1zm-2 2zm3 4zm-2 0zm-1 0zm0 2zm-1 0zm-3 0zm3-1zm-2-4zm-4 1zm0 4zm-1 0zm0 2zm3 3zm4-3zm-3 6zm1 3zm4-1zm5 0zm-1-1zm-3-5zm-1-1zm2-1zm1 3zm3-2zm2 2zm6-1zm-2 0zm0 5zm-5-3zm0 5zm4 6zm1-5zm-1-1zm7 0zm1 2zm-1-10zm3 0zm-1-2zm1-4zm0-1zm0-1zm-2 1zm-2 0zm-2 0zm0 1zm0 4zm-3-1zm-5-10zm2 0zm4-3zm2 3zm5-3zm3-1zm2 1zm3 5zm1 0zm0-1zm1-2zm1 0zm7 0zm-1 0zm-6 1zm0 4zm0 1zm3 1zm0-1zm-1 0zm1-1zm1 0zm1 0zm-6 6zm-2-2zm-5-2zm2 2zm0 2zm1 4zm1-2zm3 6zm-3 0zm2 4zm-2 0zm5-1zm1 2zm4-7zm-6 3zm1-2zm0-5zm10 2zm0 6zm-2 3zm14-5zm-7-12zm1 3zm-2-1zm-6 1zm2 0zm3-3zm1 0zm-6-6zm4-2zm3 3zm4-1zm0-4zm-4-3zm0-3zm5-1zm-1 1zm1 0zm2-2zm-1-3zm1-2zm-6-3zm1 5zm-4 0zm-6 0zm1 6zm2-2zm2 0zm1-1zm1 3zm-1 0zm-2 1zm2 2zm-5-1zm-1-1zm0 2zm-6-5zm-2 2zm3 3zm-2 1zm-5-3zm-4 3zm0-1zm1 0zm1-1zm2-5zm1 3zm1 0zm1-3zm-7-2zm7-3zm1-3zm1 0zm3 7zm2-1zm1-1zm0-2zm0-9zm-3 0zm0 1zm-2 3zm-1 0zm-5 1zm-4-4zm7-4zm-6-7zm4 0zm3 2zm5 2zm8-1zm0-1zm-1 5zm-1 3zm0 2zm2-4zm4 1zm6 1zm-7-5zm2-4zm3-1zm1 2zm1-1zm-2-4zm-3 1zm-2-2zm2-2zm-1 0zm-1-2zm4 2zm0 1zm2-6zm-2-3zm-4-1zm1 1zm1 3zm-5-5zm0 3zm-2 0zm-3 1zm2 0zm3 5zm2 0zm0 1zm-10 3zm-4-4zm-1 0zm-1 5zm-2-1zm-1-1zm-4-1zm2-5zm0-1zm-1-2zm7 2zm3-1zm4-1zm-1-11zm-2 3zm-1 3zm-6-1zm-1 2zm2-10zm-3-3zm-2-2zm2 1zm5 5zm2-1zm1-1zm1 2zm1-4zm2-1zm1-1zm3 6zm-1 7zm2-4zm6 4zm4-1zm-1-1zm-5-6zm6-11zm-6 2zm3 0zm-2 2zm-2-2zm0-3zm-2-3zm-2 0zm-2-3zm3-2zm3 2zm2-1zm-1 0zm5 2zm2-1zm-4-5zm-2-4zm5-8zm-4 3zm-11 10zm-1 5zm0 11zm-4-1zm-3 1zm-2-1zm-6 23zm0 1zm-4 0zm-2 1zm4 1zm2 2zm-2 1zm0 2zm-3 1zm105-183zm5 9zm19 13zm-11-19zm4-9zm33 26zm-6 7zm-28 22zm7-14zm-9-3zm-5 18zm-5 4zm-6 1zm-8 1zm0-2zm1 0zm-10-3zm3-2zm2 7zm-30 31zm-3-5zm6 4zm2-1zm0 3zm0-6zm3-1zm-1-3zm8-9zm-2-1zm5 1zm3 3zm3-2zm-2-7zm-1-4zm11 4zm-1-2zm0-4zm5 3zm2 4zm0-1zm-2-1zm0 5zm0-1zm-5 3zm0-1zm-2-3zm0 3zm-1 12zm1-1zm0 1zm2-1zm1-1zm-2-2zm1-3zm7 2zm-5 4zm7 2zm-2 5zm0 2zm-5-3zm-4 0zm-9 2zm-2 0zm3-7zm0-5zm0 1zm-8 10zm2-1zm-5 5zm3 0zm0 2zm2 7zm2 2zm3 2zm3 0zm1-3zm-5-9zm1-2zm8 0zm-1 7zm5-2zm-1 0zm-2-3zm4 1zm2 0zm2-2zm3-1zm-7 9zm2 0zm3-1zm2 0zm0 2zm-1 1zm1 1zm-6 0zm-2 0zm-7 3zm2 4zm-2 4zm6 0zm1-1zm-3-4zm4 1zm2 0zm3 3zm-5-2zm4 6zm-2 4zm-5-2zm2-4zm-3 0zm-12 6zm3-3zm4-10zm-9 4zm1-3zm-1-2zm-1 2zm0 1zm-5 6zm0 5zm-3 0zm0-2zm-1-4zm-9 2zm1-1zm0 1zm1-5zm-1 2zm0-7zm0 2zm10 5zm1-4zm-1-3zm0-2zm-4-2zm-2-1zm0-1zm7-4zm0-6zm-2 0zm-2 1zm-1 5zm0 1zm-3-1zm-3-2zm3-2zm-2-1zm-2 1zm-1 5zm0 6zm-2 2zm-4-3zm1-2zm-1-7zm1 13zm1 2zm-3 2zm-3 7zm6-2zm1 2zm-1 2zm0 2zm-3-1zm-2 1zm-4 0zm0-2zm-4-1zm0 2zm4 3zm1-1zm1 6zm-7-1zm0 3zm6 0zm5 1zm-3 1zm4 3zm3-1zm-1-4zm-2-3zm-2 2zm1-5zm1-1zm4 2zm4 2zm2-3zm-2 0zm9-1zm-1 3zm-2 3zm1-2zm-3 3zm7 3zm-1 3zm-1 0zm-6 0zm-7-4zm1 3zm0 2zm1 3zm-2 0zm5 2zm0 3zm2-2zm0-3zm7-1zm-6 10zm1-1zm1-2zm2 0zm1 1zm2 0zm-14-1zm-6 7zm-3-1zm1 0zm-1-3zm6-9zm-2 0zm-5 4zm-1 0zm-2-6zm-2 4zm0 1zm1 6zm1 1zm3 1zm-7 1zm1 1zm0 8zm4-7zm3 4zm2 6zm5-1zm-1 3zm1 2zm-5-1zm-1-1zm-3 3zm0-4zm-2-1zm-2 0zm1-2zm-3 2zm3 7zm1 1zm0 1zm-1 1zm2 6zm5-2zm-2 3zm1 2zm5-3zm-2-2zm1-2zm-2-2zm-3-4zm6 1zm3 0zm-1 2zm4-2zm0 6zm-1-3zm-2 11zm2-3zm4-1zm0-2zm2 6zm3-9zm-2 0zm-2-2zm2 0zm2-4zm3 1zm-1-2zm-5-2zm2 2zm-5-2zm-1 0zm-5-9zm3-4zm3 2zm2-1zm5 5zm1 0zm0-3zm-1 0zm-1-1zm0-2zm5 0zm1 0zm1 3zm2-2zm2-1zm5 0zm-4 11zm4-2zm-11 1zm0 1zm0 2zm0 2zm-1 1zm13 11zm-1-1zm8 1zm5-39zm-3 1zm1-1zm0-3zm-1-1zm-6 4zm1 3zm0 6zm-2-2zm-4-3zm-1 1zm-2 2zm3 2zm-5 2zm0-2zm-5 2zm-1 0zm0-6zm5-1zm0 2zm1 1zm-4-4zm-1-5zm-1-2zm11 1zm3 4zm1-2zm-3-8zm-2 0zm1-3zm-2 1zm0 1zm2 2zm-7 1zm-1-4zm3 2zm1-5zm-7-2zm2 1zm0-4zm7 6zm3-5zm4 5zm2 3zm-1 0zm5-1zm3 6zm1-3zm-1-7zm2-2zm0-2zm2 2zm4 0zm6 1zm-4 3zm-3 2zm4 2zm16-9zm-1 58zm27-78zm-11-10zm5 13zm-25 8zm-10 0zm0-4zm0 1zm-3-1zm8-1zm2-2zm2-9zm-2-1zm-7 7zm-4-2zm0-1zm4-8zm-3 0zm1-2zm8 3zm10-3zm-1 0zm-3 2zm-1 1zm8-21zm-3 5zm2-5zm-6 0zm2 8zm-3 4zm-4 2zm2-4zm-1-1zm-2 2zm-2-2zm0 3zm1 1zm-4-9zm-4 3zm1-2zm0-4zm2 0zm2 1zm1 0zm0 3zm3 1zm1-2zm1 1zm2 1zm-1-3zm-2-5zm0-2zm3-4zm-3 0zm-2 6zm-3-1zm-2-1zm-1 2zm0 1zm-2 0zm-1-5zm-1-2zm4 1zm0 1zm2-3zm3-6zm2 1zm6 8zm0 3zm-1 2zm2 0zm1-3zm4-1zm-2-2zm3 4zm6-13zm2 11zm19 3z" stroke="#f0b000"/>
<path d="M1736 710zm-70 38zm-2-26zm1-8zm4-5zm6-4zm46-4zm-9-2zm0-22zm6 9zm-12-12zm-3 18zm-11 7zm-28-12zm2-13zm14 3zm-15-15zm1-5zm6 3zm5-9zm-11-1zm3-3zm5 0zm29 23zm-3-4zm5-6zm15 7zm12 17zm5 18zm-1-12zm20 11zm23-7zm-43-71zm20-3zm-8-33zm-63-15zm42 8zm-13 57zm-44-2zm-20 4zm12-27zm-9 8zm-11 3zm4-9zm-2-3zm-1-1zm-4 2zm-4-2zm-3 11zm0 1zm0 7zm7 2zm4-5zm-1-2zm1 6zm0 2zm1 3zm2 4zm-8-6zm-3 0zm-6 5zm-2 0zm-1-2zm0-1zm0-2zm3-8zm-3 1zm-10 2zm5 7zm1 3zm-10-2zm-3-4zm-7 5zm1-3zm2-1zm-1 2zm1 0zm1-2zm-4-5zm0-3zm4-1zm4 0zm0 7zm4-4zm-1-1zm2-10zm-15 7zm2-4zm4 0zm-1-6zm-4-3zm12 4zm1-6zm4 6zm0 2zm0 2zm9 0zm-3 1zm6-5zm-4-7zm0-5zm-1-7zm-1 2zm-2 2zm0 8zm-9-1zm-2-5zm-11 5zm4-4zm3-4zm5-1zm1-12zm5 4zm10-7zm5 2zm-1 0zm3 9zm-2 9zm1 5zm10-3zm1-6zm5-6zm5 6zm-3-13zm-8-60zm-40 2zm27 38zm-8 4zm-45-7zm12-24zm-24 4zm-16-17zm-4-6zm20 33zm-3 13zm-11 41zm5-5zm10 5zm13-18zm10-8zm7 3zm0 7zm-9-2zm-4 3zm4 5zm1-4zm3 9zm3 1zm-2 4zm-11-6zm-5-6zm-4 6zm-1 7zm-4-3zm4 6zm3 3zm-4 5zm-3 3zm7-1zm-3-4zm11 7zm-1-8zm-2-4zm5 3zm1-2zm5-1zm1 0zm7 3zm-15 13zm2 4zm2-7zm2 0zm2 2zm4 1zm0 3zm0 1zm-3-3zm0 7zm1-1zm4-2zm-9 6zm1-1zm-3-5zm-3 1zm3 6zm-7-3zm-2-1zm2-3zm0-2zm2-6zm-5 2zm2 4zm-5 1zm1-6zm-3-1zm-4 1zm1 3zm1 3zm-1 3zm3-1zm0 6zm-2-3zm-1 0zm-1 1zm1 1zm-1 1zm-1 0zm-7-3zm-3 0zm1-2zm1-8zm-1-2zm2 4zm3 0zm1-2zm3-10zm-9 3zm-20 8zm8 8zm-2 1zm-1 2zm-5 5zm3 1zm1 0zm-6 3zm6 5zm-1-3zm4-1zm-1 3zm6 3zm-4-7zm1-3zm2-3zm9 1zm6-2zm3 2zm-5 8zm2 3zm3 2zm-6 0zm-5-3zm2 0zm-6-3zm2 3zm0 5zm1 3zm2 0zm-1-1zm4-3zm3 1zm3 1zm-1 2zm-1 2zm0 1zm-2-2zm-2 0zm0 4zm3 2zm3-2zm-2 3zm1 1zm1-1zm-8 3zm0-7zm-2 2zm-1 1zm-3-1zm-6 0zm1-2zm4 3zm0-7zm0-4zm-15 6zm6 2zm1 0zm0 1zm-3 4zm-3 0zm0 6zm1 3zm3-2zm0 3zm0-6zm8 7zm0 5zm0 2zm-3 0zm-1-3zm-3 3zm1-4zm-2 0zm-3 5zm2 7zm-1-1zm-2 7zm3-1zm2-3zm9 1zm-6-3zm-1-1zm1-6zm3 0zm1 0zm-1 1zm8-1zm-3 8zm1 0zm0 4zm2 3zm0-4zm5-3zm0 5zm1 0zm2 0zm3-2zm0-2zm0-1zm0-1zm-4 0zm4-4zm-1-4zm-1-3zm1-4zm-1 3zm-1 0zm-3-3zm-8 5zm1 0zm-2-2zm5-3zm0-3zm0 2zm-5-5zm3-1zm1 0zm1 1zm3-2zm2 6zm3 0zm2-1zm-3-5zm4 7zm1-1zm6 0zm-1-5zm4 2zm1-1zm1-2zm2 1zm0 4zm1 2zm-5-3zm-1 0zm0 3zm-1 0zm6 1zm-2 2zm0 3zm-2 0zm-2 1zm0 1zm-1-2zm-2-2zm-3-3zm-2 2zm0 4zm7 5zm-3 1zm3 1zm-2 1zm-2 1zm0-1zm0-2zm-3 5zm1 6zm2-3zm3-1zm2 0zm0 2zm0 1zm0 1zm1 0zm1-1zm0-2zm1 0zm2 3zm1-3zm1-2zm-5-5zm-1-3zm0-1zm0-1zm4 1zm1 1zm0 1zm1-2zm4 2zm0-1zm1-1zm1 0zm0-1zm0 3zm2 4zm-4-1zm0-1zm-2 4zm2-1zm0 1zm-2 2zm4 1zm0 1zm-1 1zm0-4zm1-2zm1 1zm1 0zm4 1zm-3 2zm0 2zm6 1zm0-3zm-1-1zm0-3zm2 1zm0-4zm-1-1zm-1 2zm-3 1zm-1 0zm-1 0zm1-3zm2 1zm-2-2zm5-2zm-1-3zm2-5zm-6-1zm-3 7zm1-3zm-5 2zm-2 1zm0-3zm3 1zm4-2zm-1-2zm1-5zm-2 0zm-3 2zm-1-3zm-1-2zm5 1zm2 0zm2-1zm0 1zm-1 3zm4-3zm1-5zm-2-2zm3-4zm1-5zm0-1zm-5 0zm-2 0zm2 4zm1 1zm-2 0zm-1 1zm-2-2zm-1-4zm-2 1zm-1-1zm-1 2zm0 1zm2 2zm-2 0zm0 3zm1 0zm0-1zm2 1zm3 2zm-3 1zm0 3zm-4 0zm-1-3zm-1-2zm0-1zm-6-1zm0 2zm0 2zm0 1zm2-1zm-4 0zm-1 0zm-1 0zm-2 1zm3-8zm-1-1zm-2 0zm1 1zm-1-4zm5 1zm0-1zm1 0zm0 3zm2 3zm1-3zm4 1zm0-1zm0-2zm-3-2zm3-5zm0-1zm-6-1zm-1 4zm1 1zm-7-1zm-1-2zm0-2zm6 0zm-6-3zm5-6zm3 1zm0 2zm0-1zm1 3zm2-3zm0-2zm3 1zm5 1zm-1 3zm-1 0zm-2 3zm3 1zm-1 1zm3 5zm0-4zm3-3zm2 0zm1 0zm-1 1zm-2 5zm4-1zm3 0zm-2-3zm1-2zm-1-2zm-4-1zm2-1zm-2-3zm6 2zm4-1zm3 2zm4-1zm1 0zm0-1zm-2 3zm2 4zm1 2zm-2 4zm0-1zm1 0zm-6 0zm2-3zm-7-3zm0 3zm1 1zm0 4zm-1 1zm3 1zm2 3zm0-1zm-4 1zm1 10zm1-2zm4 0zm0-2zm0-1zm-2-2zm2 0zm2 2zm-1 2zm7 3zm0-4zm-2-5zm-4 1zm0-5zm-1-1zm1-1zm1 0zm3 2zm1 0zm2-1zm0 1zm2 1zm1-1zm1-1zm3-1zm-1 1zm-2 1zm0 2zm3 1zm-1 1zm-1 1zm-3-2zm-1-1zm-1 3zm3 4zm4 3zm-1-5zm1-1zm2 1zm3 4zm0 2zm2-5zm-1 1zm2-4zm-2 0zm-5-1zm2-2zm1-2zm-3 0zm2-1zm3 2zm1-7zm-4-2zm0-2zm-2 1zm0 1zm0 4zm-1 0zm-3-1zm-4 0zm1-1zm6-4zm0-1zm-6-2zm-1 0zm0-3zm1 0zm7 1zm14 4zm-4-2zm4 10zm1-1zm2-6zm1 4zm5 0zm-3-2zm-2-8zm5 1zm9-2zm0 14zm-4-2zm-2 3zm1 7zm1-1zm10-4zm-5 5zm3 5zm-7-1zm-3 1zm-9 0zm5-9zm-9 1zm2-3zm-4 6zm3 1zm0 1zm-2 2zm0 2zm-2 0zm4 3zm1 3zm-1 2zm-4 4zm-2 2zm6 1zm2-4zm0 5zm6-2zm-5-5zm0-5zm5-1zm11 2zm5-2zm-2 2zm-2 2zm-1 11zm-5-3zm3-1zm-7 10zm5-4zm0 7zm-3 3zm-2 4zm-3-2zm-4-1zm5-11zm-6 3zm-2 3zm-1-6zm-2 7zm2 7zm-6-1zm-6-5zm0 4zm2 1zm-2 0zm-3-1zm-1 0zm-4-1zm1 1zm5-2zm-1-7zm-3 2zm-3 1zm1-1zm2-2zm1-3zm1 2zm1-1zm4-2zm1 0zm-1 6zm0-1zm3 1zm1-6zm1-1zm-5-1zm-2 1zm4-7zm3 1zm-2-9zm-1 0zm-3 4zm-5 3zm0-2zm1-1zm2-4zm-2 3zm-5-3zm2 6zm0 1zm1 1zm2 1zm1-1zm-2 5zm2 1zm1 1zm-5 0zm-1 0zm-2 0zm-3-2zm-1 1zm-1 0zm-1 0zm-1-4zm5 1zm0-1zm1 1zm0-5zm1-1zm0-2zm-5 0zm-1 1zm2 1zm-2 1zm-5-2zm2 1zm1-3zm-5 1zm0-1zm0-2zm0 1zm-2 0zm1 2zm-1 0zm2 1zm1 7zm0-1zm-1-2zm1 0zm1 0zm2 3zm-1 0zm-1 0zm1 2zm0-1zm2 0zm-7 2zm2 2zm1 0zm0 1zm-2 4zm6 0zm1-3zm1 0zm1 0zm1-2zm2 3zm2 3zm-4 1zm-1-1zm-1 2zm0 3zm1-2zm3 5zm-3 0zm1-1zm-3 0zm0 1zm-1 1zm0-4zm-2-2zm-4 8zm1 1zm-1 5zm0-1zm4-2zm0 1zm1 2zm0-3zm-1-2zm2-2zm2 3zm1-1zm0-1zm1-1zm1 0zm0 1zm3 3zm-5 2zm0-1zm-2 1zm0 3zm7 2zm-1 0zm-2-1zm1 3zm-2 2zm-2-3zm-2 3zm-1 0zm1-2zm-1-5zm-2 2zm-2 1zm1-1zm0-1zm-3 0zm3 9zm0-2zm3 6zm-5 9zm4-1zm2 0zm0-2zm-3-1zm0-1zm1-1zm5 1zm-2 2zm3 3zm-1-2zm3-1zm-1 1zm1-3zm2-3zm0-2zm-6 1zm0-4zm10-1zm1 0zm3 6zm-7 0zm3 1zm0 2zm-3 1zm3 2zm5-4zm3 3zm-3-11zm2 0zm3-5zm-1-3zm-4 2zm-6 1zm-1-1zm-1-1zm2-1zm2 0zm3-3zm-2-2zm-1 3zm-2-3zm1-2zm-2-1zm-1 0zm4 1zm6-2zm-1 2zm3 4zm0-5zm4-1zm1 4zm-1 2zm2 2zm1 2zm2 1zm2-3zm1 0zm3 1zm-2 1zm-1 3zm1 2zm6-7zm-6-2zm16 1zm3 2zm1 0zm-8 4zm-3-2zm-2 9zm9 2zm-6 5zm-8 2zm-3-2zm4-1zm1 1zm0-5zm-2-4zm-8 9zm4-1zm-2 1zm-2 1zm0 5zm4-1zm-3 6zm-3 7zm6-3zm7-2zm9-7zm4 8zm1 1zm0 11zm3 1zm-6 0zm-6 8zm-11-5zm1-9zm-1 0zm-3 7zm2-2zm-3-2zm-1 2zm-2 1zm-1 5zm2-3zm5 7zm-15-3zm2 0zm0 2zm-7-2zm0-4zm2 3zm2-6zm-5 1zm-2-2zm2-1zm-2-3zm6 3zm5-3zm0 2zm-3 2zm1 0zm0 2zm0-9zm5-2zm0-8zm1-3zm-3 3zm-1 0zm-3 0zm0 4zm-3-1zm0-4zm-2 8zm1-2zm0 1zm0 2zm1 2zm-9 1zm1 1zm-1-4zm2-5zm-1-6zm-4 0zm-1 0zm0 1zm1 2zm2 1zm-4 2zm-1 0zm1-1zm0-1zm0-1zm-1 0zm-2-2zm1 2zm-5 0zm3 1zm-3 6zm3 1zm3-2zm-5 3zm-1 0zm3 8zm3 0zm1-4zm2 1zm5 0zm0 2zm-2 1zm-4 2zm0 5zm4 2zm2-1zm-6 0zm1 2zm-2 0zm-1-5zm-1 2zm-2 2zm-7 1zm1 0zm-3-2zm1 1zm1-4zm2 1zm1-1zm-2-4zm2-2zm-7 2zm-1 2zm-3-1zm3-3zm-6-2zm0 8zm1 2zm1-2zm3 0zm1 1zm0 1zm-3 4zm-3-3zm-2 2zm-2-6zm-1 3zm-1-2zm0-1zm-3 4zm2 3zm-8 0zm-2-2zm1-2zm-1 0zm1-3zm5 3zm1-4zm0-3zm-7 2zm1-3zm5-3zm2 1zm1 4zm-1 1zm3 1zm-1-3zm5-2zm0-2zm-8-4zm-5 3zm-1-4zm-1-1zm3-2zm2 1zm1 2zm-2-5zm-2 1zm-2-1zm0-5zm5 0zm2 1zm2 2zm1 0zm2 0zm3 1zm-1-2zm-2-1zm0-1zm3 0zm5-1zm2 6zm1 1zm-2 0zm-1 0zm-1 0zm-1-1zm1-1zm-3 0zm1 4zm0-1zm1 3zm-2 1zm1 3zm6 0zm0-4zm0-1zm-1 0zm0-2zm2 0zm5 4zm1 2zm0-8zm-1-2zm-1 1zm-2 1zm-1-5zm1 0zm4-1zm0-4zm-6-4zm0 1zm0 1zm0 5zm-5-1zm-1-2zm-2-3zm4-1zm0 1zm0 2zm3-6zm-7-1zm1-3zm-1 0zm5 2zm2-2zm0-1zm1 1zm6 5zm-2-6zm3-1zm-2-2zm-3 2zm-2-2zm0-5zm5 1zm-1 2zm3-3zm-3-2zm1 0zm0-2zm1 0zm0 1zm1-2zm-1-1zm-1 1zm-2-2zm-4 5zm-2-5zm-5 3zm3 1zm-1 1zm1 1zm-1 0zm3 3zm-1 0zm0 1zm3 4zm-1 0zm-3 0zm-2-2zm-1-1zm-1 0zm-2 1zm0-1zm-1 1zm1 1zm-5 1zm0-3zm1 0zm1-2zm-2-1zm2-1zm4 3zm1 0zm-2-6zm2 0zm-3-4zm-2 4zm-1 1zm-4 0zm-1-5zm1 2zm-2 0zm-1-1zm-1-1zm0 7zm1 2zm1-1zm-3 12zm3 1zm3-1zm0-5zm5 1zm4 0zm0 2zm-1 0zm1 1zm0 3zm-1 0zm-6-1zm1 2zm2 3zm0-2zm4-1zm-2 4zm0 2zm-1 0zm-1 0zm-2-2zm-2 1zm0-4zm-7 3zm3 2zm-1 1zm-6-3zm2 0zm0 1zm-3-3zm-2-1zm0-1zm0 3zm0 1zm-5 2zm1-4zm1-4zm-3 1zm1-6zm2 0zm3-1zm2 1zm-3 5zm1 1zm4-5zm0-2zm1-4zm-2 1zm0 1zm1 0zm-2 1zm-1 0zm-1 0zm2-5zm-1 0zm4-1zm1-1zm-2-4zm1-3zm-5-1zm-1 7zm-1-1zm-3 0zm0-1zm2-3zm-1-2zm-4 7zm-1 0zm6 6zm1 2zm-4-2zm-2 1zm-5 1zm-1-5zm4 0zm-2-5zm1-2zm-4-2zm-2 5zm-2-2zm0-2zm1 0zm-1-2zm-3 1zm-3-1zm7 11zm-1 0zm-1 0zm-1-1zm-2 4zm-2 0zm7 5zm-2-3zm7 5zm-4 3zm5 1zm0 4zm-3 2zm1-3zm-7-3zm-2 2zm-1-2zm1 4zm-2 5zm6-1zm1 2zm-5 9zm8 3zm3-3zm-2-7zm4-5zm4 2zm-2 4zm3 1zm1-1zm2 0zm0-2zm0-3zm4 1zm4 4zm-1 1zm-3 0zm0-3zm-3 7zm3-3zm2 4zm2 0zm-8-1zm-3-2zm0 1zm-2 0zm1-2zm0 11zm3 4zm7-4zm-1-1zm3 2zm-4 3zm0 2zm3-1zm1 3zm-3-1zm-3 4zm-1 1zm-4-3zm-1-3zm-1 0zm1 5zm-11-3zm0-3zm6-2zm1-2zm-1-4zm-3 1zm-3 4zm-6-4zm-1 1zm4 9zm0 1zm4 6zm1 0zm1 5zm0-2zm-2 6zm2-2zm1 0zm-3 5zm-5-3zm-2 3zm-2 12zm9-2zm3-2zm-2 0zm5-3zm4-3zm2 5zm-1 1zm-2-2zm1 11zm7-7zm-2 4zm1 2zm5-6zm-1-4zm0 3zm-2-2zm-1-3zm-2-1zm2-1zm5-7zm-3 0zm1 1zm-4 0zm0 5zm-2-1zm-1-1zm-2-1zm0 2zm-4-6zm0-4zm9-4zm1 2zm1 0zm1 5zm1-6zm1 0zm6-1zm0 3zm2 4zm-3-2zm0-1zm-2 0zm-1 2zm3 4zm3 0zm0-2zm5 1zm0 2zm-2 3zm4-4zm1-2zm0-2zm1-1zm-5 0zm1-5zm1 2zm4-2zm3 1zm-1 1zm3 3zm-1 2zm6-5zm1 4zm0-1zm-3 0zm1 3zm2 0zm2 2zm-1 2zm-1 0zm-6 2zm0-1zm2-1zm-4-1zm-1 0zm-2 7zm3 2zm3-1zm5 0zm2-3zm-2 4zm1 7zm3 4zm-8-4zm-4-1zm-2 1zm-7 3zm1-4zm-1 0zm-1 0zm0-2zm3-3zm2-1zm1-2zm-1-1zm-3 0zm-1 0zm-2 1zm2 3zm-3 1zm0-2zm-1-3zm-4 1zm-2 0zm3 9zm1 3zm-3 4zm2 0zm-1-2zm5 9zm3 6zm5-10zm-4 1zm-3-3zm0-2zm5 1zm7 2zm2 13zm8 0zm-26 0zm-13 5zm1-4zm4-3zm-3-4zm4-3zm-13-8zm0 4zm1 1zm-2 1zm-10-3zm9 14zm30 15zm21-14zm0-10zm3-3zm-1 0zm23-10zm-1-6zm-2 1zm-1 2zm-10 6zm-7-2zm-1-5zm3-4zm-1-3zm6-3zm3-3zm-6-1zm1 5zm-6 1zm-2 0zm5-11zm-5 0zm1 1zm-2-3zm1-2zm9 7zm1 0zm1 0zm1-1zm1 0zm-3-5zm3 0zm1-1zm2 10zm-2 1zm1 1zm14-4zm8 6zm-5-5zm-2 5zm20-4zm-118 20zm-13-6zm1 1zm5 0zm-3-3zm6-3zm2-7zm-2 3zm5-10zm-12-2zm-5 10zm-3-12zm-3 0zm1 6zm2 13zm-38 4zm-19 17zm5-37zm0-4zm-21 11zm-2 16zm-9-22zm0 37zm-21 38zm7 8zm0 4zm14-25zm-22 29zm-24-210zm8-9zm17 0zm1 7zm26-11zm3 3zm27 30zm-4 93zm6-5zm2-41zm-19-1zm13-7zm14 4zm5-10zm12 8zm5-2zm2 1zm-13 4zm13 4zm-3 11zm-17 2zm-3-3zm2-1zm-5 10zm2 10zm-5 4zm7-1zm9 3zm6 3zm-5-17zm4-6zm22 0zm0-1zm-5 27zm3 2zm3-2zm-1-2zm2-2zm-1-7zm5 14zm4-2zm3-4zm3 1zm1 0zm0-2zm-6-1zm6-7zm-1 0zm-1-6zm-2 6zm-3-8zm-6-1zm8 0zm6-21zm-10 6zm-1-5zm-2 0zm0 2zm0 8zm-18-1zm3-4zm9-14zm-7-1zm2-5zm12-3zm3 0zm-1 5zm3 10zm7-10zm-3-1zm-4 1zm5-10zm-6-7zm-3-1zm5-3zm-1 6zm6 0zm1-3zm-5-11zm2 0zm2-2zm-2-4zm-5 5zm-1-3zm-3 1zm-4 3zm-13-8zm5 27zm-7-3zm-8 4zm-9-26zm6 12zm-19-23zm28-9zm-1-13zm17 4zm-3 3zm-4 17zm3 0zm4 6zm5-8zm8 4zm-2 2zm5-2zm-5-9zm-3-4zm-3-3zm-1-8zm12 1zm-11-16zm-13 5zm1-12zm14-3zm4-1zm-7-35zm1 9zm-6-2zm-3-5zm4 3zm-14-2zm6 3zm0 3zm-1-1zm-3 5zm4 0zm-2-3zm10 4zm-5 0zm1 8zm-34-15zm3-12zm3 16zm16 30zm-3-1zm-8-1zm3 3zm-4 11zm-68-2zm101-77zm57-70zm34-2zm-6 20z" stroke="#c0001c"/>
<path d="M1549 534zm-54-10zm0 4zm-4 13zm22 7zm9 0zm-3-32zm5-3zm-7-7zm-5-10zm13-19zm8-8zm84-134zm44 7zm-57 40zm-2-6zm-3-15zm-6-13zm-15 44zm5-1zm2-3zm8-1zm2 2zm0 4zm-10 12zm6-2zm5 4zm-4-3zm6 5zm-2 6zm-11 0zm-8-10zm-3 23zm5 3zm-3-14zm23 9zm-38 10zm-14 5zm3 8zm9 11zm17 23zm14-16zm-20 2zm45-11zm-5-10zm4 3zm1 0zm5 1zm5-1zm1 3zm-1-1zm0 1zm1 6zm-5 0zm23 5zm-4-7zm-1-1zm14 2zm0-13zm-2-8zm-2 0zm5-19zm1-3zm-6 6zm-1 5zm-6-1zm-1-2zm3 0zm3 3zm-1-4zm-1-2zm2-5zm-7 2zm2 3zm-1 2zm-5-1zm2-5zm-5-1zm2 7zm1 2zm0 5zm-1 1zm-1 2zm1 2zm-3 0zm11-3zm1 6zm-4 1zm0 1zm0 1zm4-1zm3 3zm-8 2zm-1-2zm1-1zm-6 3zm1-1zm-6-5zm0-1zm2-6zm-1 0zm-5 5zm0 2zm-4-5zm-2-2zm0 4zm1 1zm-1 0zm-1 5zm4 0zm2 5zm-2-1zm-4 1zm-2-3zm0-3zm-3 1zm-2 4zm1 0zm-5 1zm-1-3zm0 2zm-2-4zm4-2zm-1-4zm-1-2zm5 3zm2 2zm3-3zm-2-7zm-1-1zm3-1zm-6 3zm-4-2zm-5-1zm0-2zm5-1zm-5-3zm7-3zm4-2zm-1 3zm-1 3zm2 1zm-1-3zm2 2zm3-2zm3-1zm1-2zm1 0zm3 2zm-1 0zm-4 4zm-1-3zm0 3zm0 1zm0 6zm5 1zm1 0zm0-4zm-1-1zm-1 0zm-1-2zm2 1zm2 0zm2 2zm-2-1zm0 2zm2 3zm0-10zm-1-3zm0-1zm6-2zm0-3zm-6 1zm-1-12zm3 3zm-7 2zm1-5zm0 1zm-3 1zm1 4zm-2-1zm0 3zm3 0zm1 0zm2 2zm-2 4zm-1-1zm-5 1zm-2-6zm-1 1zm1 0zm-4 1zm-1 1zm-1 1zm-4 2zm3-4zm1-3zm-3-4zm5-4zm-1 2zm4 5zm1 0zm0-6zm-4-4zm2-1zm-6 3zm-4-7zm2 1zm-1-2zm9-1zm7 3zm2 3zm0 1zm1 2zm1-2zm0-1zm0-1zm-1-3zm5 0zm0 3zm0 2zm3-2zm11-1zm2-2zm4 0zm-2 4zm-3 2zm-4 1zm2-4zm-7-2zm2 3zm-1 2zm-1 4zm6 2zm1 1zm-6 1zm2 8zm0-2zm3 0zm4 3zm2-2zm1 1zm-1-5zm0-3zm-1-4zm1-1zm5 2zm6 0zm-2 0zm-4 6zm0 3zm2 0zm-3-13z" stroke="#f060c8"/>
<path d="M1673 648zm2 5zm-9-8zm13-1zm3 9zm18-12zm3 16zm1 4zm16-14zm13-2zm40-31zm-6-2zm-7 10zm-7 16zm-11-6zm-5 2zm-1 3zm1-1zm-9 0zm2-13zm1-7zm5-2zm14 3zm6 5zm2-8zm-2-10zm-8-7zm-7 6zm-10 1zm1-9zm7 2zm3 0zm-4-11zm-10 1zm4-6zm28 21zm-41-31zm-49 9zm-3 20zm0 3zm27 1zm-6-24zm6 0zm31 4zm-19 12zm-7-4zm-1 5zm4 8zm-5 13zm0 5zm13-14zm3 1zm5 5zm9-1zm-2 5zm-11 13zm-9 3zm0-3zm6 1zm-1-6zm-5 3zm-11 7zm-12-8zm13 2zm-4-8zm-5-7zm-7-3zm-15 1zm11 14zm-6 8zm-19 2zm10-7zm3-16zm-3-2zm-15 8zm-6-2zm-18 8zm-2 3zm2 5zm-14-19zm1-3zm13 1zm0 4zm2-13zm-5 2zm-16-2zm-2-10zm13-1zm5-18zm0 11zm8 1zm9-6zm2 0zm4-3zm-4 9zm2 10zm3 7zm0-11zm15-1zm-60 2zm66 48zm-4 4z" stroke="#00a800"/>
<path d="M1408 905zm4-8zm70-117zm-7-12zm-3 0zm0 4zm0 14zm3 2zm-3 6zm-13 27zm-16 1zm4-4zm4-1zm1-3zm-12-2zm0-9zm2-3zm3 0zm8 7zm0-4zm2-2zm1 2zm0 3zm5 3zm6-7zm1 0zm0-9zm-1 0zm-2 3zm-5 3zm-2-7zm2 3zm2-2zm1-4zm-5 2zm0-3zm1-1zm-2 0zm5-1zm3-1zm1 0zm-2 4zm7 0zm0-6zm-7-2zm1-2zm2-9zm-2 0zm-2 5zm-1-2zm0-3zm1-2zm-4 2zm-2-2zm0 7zm3 2zm3 1zm-1 4zm-3-1zm-2 0zm0-1zm-3 3zm-4-1zm1-2zm1-6zm-2-2zm-5-3zm0 10zm-1 2zm-1-1zm-2 11zm4-1zm2 1zm-3-4zm5 0zm3-2zm0 4zm3 0zm-2 1zm-5-2zm0 6zm7 0zm-1 2zm0 1zm-4 0zm-1 1zm-3 1zm-1-4zm-3-2zm1 5zm-6 1zm-7-10zm3-4zm1 0zm-2 2zm0 4zm2-3zm3 1zm-8-6zm4 39zm-2 9zm-3-1zm-9 1zm-1-2zm3-4zm-1 1zm1 1zm-7-9zm4 16zm1 10zm-7-4zm1 15zm-1 0zm0 8zm16-13zm-2-18zm1 1zm4-1zm11 4zm0 7zm8-1zm5-6zm-28 28zm-11 12zm1 0zm-5-11zm-3 5zm-1 5zm3-2zm4 3zm-1 3zm-5 6zm4 0zm5-3zm5-1zm-4 3zm-2 3zm0 3zm3 5zm-6-5zm-7 3zm-5-3zm0 3zm-5-1zm-3 3zm-2-2zm1-4zm1-5zm0-2zm9 5zm4-7zm-6-2zm-1-1zm3-2zm-2-1zm5-9zm-1 2zm-2-3zm-2 7zm-5 0zm-3-4zm6 6zm-1 0zm0 2zm-1-1zm-1 5zm-1 0zm-10-5zm4-1zm2-4zm-4-5zm-2 3zm1 3zm-2 0zm-4-2zm3 0zm0-1zm0-3zm-5 2zm1 8zm4-2zm0 1zm-1 2zm-1 1zm2 0zm-4 1zm-3 2zm1 3zm0 3zm0 2zm3-5zm2-2zm5 0zm4 3zm-3 1zm1 1zm-2 0zm-3 0zm0 3zm0 1zm4 0zm1 4zm2 0zm-1 2zm-3 0zm-3-3zm-4 2zm2-6zm-4 3zm-1 2zm-6-4zm1 0zm-3-7zm-1 2zm-4 1zm3-5zm-4 2zm-3-1zm5 13zm-4 0zm-4-9zm1-4zm4-14zm0 3zm5 4zm3 1zm2 2zm3 0zm-1-4zm-2-3zm-2-2zm-1-3zm4 2zm-1-4zm-1-7zm3-5zm5 0zm3 3zm-6 9zm7-5zm4 5zm0-2zm-1 0zm3-3zm5-5zm-2 4zm3-1zm-1 1zm1 2zm-3 2zm4 2zm3 0zm-1-2zm-1-5zm6 3zm-3-1zm0 1zm5 2zm1 0zm-1-4zm-3-4zm-1-2zm6-1zm-5-3zm-9-4zm13-12zm-7-15zm-43 87zm18 8zm1-2zm-1-2zm-4-1zm-5-1zm0 1zm2-2zm-7-1zm3-3zm-2-1zm2-3zm3 3zm2 4zm11-4zm1-1zm-2 3zm-1-1zm1 6zm0 5zm1-3zm4 2zm-2-5zm9 1zm-3-3zm7-7zm-1 3zm0 2zm2-1zm2 0zm1-2zm3 0zm1 0zm4 2zm0 1zm-4 2zm0-2zm-1 6zm0 3zm-2-3zm-3-1zm-2 0zm1-2zm-2 1zm0-1zm-1 1zm-2 9zm-3 0zm-7 3zm3-3zm-7-2zm5 9zm1 2zm73-174zm3 4zm-2 8zm5-1zm6-10zm-1-18zm13 1zm1 3zm3 12zm-6 15zm22-1zm-8-24z" stroke="#303030"/>
<path d="M1647 624zm-17 8zm-17-24zm-61 90zm15-12zm6 2zm14-2zm-9-21zm0-17zm55 33zm19-4zm-38 3zm1 27zm-8 19zm23-22zm5 10zm-40 26zm1-35zm-33 19zm-20 3zm6-2zm10 34zm-15 27zm24-17zm29-1zm-40 51zm-42-41zm0-5zm0 2zm-5-1zm0-3zm-2-2zm-4 8zm-4 0zm-1-9zm-7-49zm10 2zm-1 5zm-1 4zm1 2zm2 0zm-17 17zm0 2zm-2 0zm-10 9zm10-1zm8-6zm2 3zm1 1zm0 1zm-1 1zm-2 0zm-4-2zm3 5zm4-1zm1 2zm6-7zm-5 1zm1-1zm0 1zm-1-2zm0-3zm5 3zm-1-4zm2-2zm-3-4zm-1 1zm-2 2zm1 2zm-1 0zm-1 0zm-2 1zm1-1zm-1-1zm-1-1zm-2 2zm0-4zm-2 0zm4 1zm0-1zm2 1zm-2-5zm-1 1zm-2-2zm8-2zm3 2zm2 0zm-3-3zm4 3zm0 3zm0 4zm1 5zm16 2zm2 10zm12-29zm-26-2zm1-3zm0-5zm1-2zm-4 2zm0-5zm12 4zm-6-7zm-14-28z" stroke="#686868"/>
<path d="M1644 557zm12-32zm-34 11zm-3-5zm-3-7zm-34 25zm4-32zm-26 4zm-13 0zm2-5zm-184 132zm8 0zm27 7zm105-75zm-3 1zm-17 4zm-2-6zm-2 1zm-3-4zm8 21zm-4 8zm5 8zm-10 25zm-20-9zm9-4zm-12-3zm-26-5zm9-13zm0-4zm23-50zm40-24zm-5 1zm7 5zm-2 3zm-3 6zm-11-13zm-2 30zm-3 13zm-1 1zm1 0zm-1 3zm6 0zm0-2zm-1-2zm5-1zm-1 1zm-1 2zm9-4zm5-4zm-1-6zm0-15zm17 10zm-9 3zm-4 7zm0 4zm26-4zm-7-30zm-15 1zm-2 0zm-2-2zm-1-1zm1 0zm-1-2zm8 2zm4-10zm-1-1zm-4 5zm-6 1zm1-3zm-2-2zm1-2zm1 1zm3 2zm2-2zm-1-7zm0 1zm2 0zm2 4zm2-2zm1 2zm2-5zm-2 0zm3-2zm6 3zm-4 2zm11-19zm-11 1zm0 11zm0-2zm-9 2zm-7-11zm10-15zm10 11zm5-7zm0 2zm-1 2zm3 1zm1-1zm-2-2zm3-4zm-4-1zm-3-2zm5 0zm-9-14zm-1-5zm3 3zm2-2zm1 0zm0-1zm1 1zm-1 1zm-1 1zm1 2zm6 2zm-1-9zm1-1zm-3-1zm-3 2zm1-2zm1-2zm-2 0zm3 1zm3-7zm-9 10zm-9 10zm112-122zm23-2zm-7 1zm0-1zm-1 2zm0 1zm-3-1zm-1-2zm3 1zm0-1zm-2-4zm-4 1zm2 4zm0 2zm-1 0zm-3-1zm-2-1zm-1-1zm3 5zm3 2zm-1-1zm-2 3zm0-1zm5 11zm5 0zm0-1zm1-6zm7-2zm6 9zm-5-1zm-1 0zm-1-1zm3-4zm-4 1zm-3 1zm0 3zm1 9zm2-1zm4-2zm-3-4zm4 1zm1 2zm2-1zm3 0zm0 5zm-4 2zm2 0zm3 2zm-2 2zm1 1zm-1 0zm-1 0zm-3-2zm-1 1zm-3 2zm0-1zm2-2zm0-1zm-7-2zm0 3zm2 1zm-8-1zm1 1zm0-1zm-2-3zm0-1zm3 0zm0 2zm2 1zm1-3zm-3-1zm3-4zm-5 0zm-1-2zm1 5zm-2 1zm-2-3zm-4-1zm-1-1zm1 2zm0 1zm0 1zm1 0zm-3 5zm2-1zm3-1zm2 1zm-1 5zm-4-1zm-5-1zm-1-1zm1 0zm-3-1zm-2-3zm0 5zm2 1zm-7-1zm5-7zm4-1zm0-5zm3 1zm0-1zm-3-12zm1 0zm2 1zm-1-3zm-2 1zm-1-2zm0 3zm-17 21zm-3 6zm-24 4zm11 19zm-22 21zm9 2zm0 2zm1 0zm1-6zm4-5zm4 2zm-1-2zm3-2zm1 0zm4 0zm0 1zm-2-1zm-4 3zm-4 10zm1-6zm-2 3zm-2 3zm0-1zm-1 0zm0 2zm1 0zm1 2zm-1 1zm0-1zm-1 1zm6-3zm-5 9zm-1 0zm1 1zm-9 2zm2-1zm-2-2zm0-1zm3 0zm1 0zm1 2zm2 0zm0-4zm-1-1zm1 0zm-1-3zm1-1zm-3 2zm-2 0zm-1 0zm2 4zm-5-4zm-5-2zm0 3zm2 1zm-1 3zm3 2zm0 3zm-2 0zm0-1zm-2 3zm-2-1zm-2 1zm-1-2zm3-1zm0-2zm-4 4zm0 1zm-15-11zm-2 8zm-3 1zm0 9zm-7 2zm0 6zm9-3zm0 2zm1 2zm1 0zm-1-2zm4 1zm1-3zm0-1zm-1-5zm-1 0zm-2 0zm7 0zm4 1zm0-3zm-1-2zm3 2zm3 0zm1-2zm1 0zm1 0zm-4 6zm-8 3zm1-1zm-1 0zm-1 1zm0 7zm2 0zm-1 1zm1 0zm-2 0zm0 2zm-1 2zm0 1zm1-1zm3-2zm0 1zm1 2zm4-7zm6 3zm-3-1zm-4 3zm1 3zm2 2zm1 0zm2 2zm-2 2zm-2 1zm0-3zm-2 1zm-2 2zm0-2zm0-3zm-1-1zm-2 3zm-1 1zm-8 0zm-1-4zm2-1zm2 0zm-1 2zm1 0zm1 1zm0-5zm-1 1zm-1 0zm1-1zm0-2zm2-2zm-1-2zm-1 0zm-1 0zm0 3zm-2-3zm-1 1zm-1-1zm1 3zm-2 3zm-1 1zm-1-7zm-1 2zm1 1zm-1 0zm-3 2zm1 1zm1 3zm1-1zm3 0zm0 3zm-2-1zm0 4zm-4 1zm-1 6zm1 1zm1 1zm1-1zm0-1zm-1-1zm3 1zm-1 0zm3 2zm0-1zm-1-3zm6-3zm1 2zm2 4zm0 1zm-5-3zm-1 0zm-1 3zm0 3zm3-1zm2 0zm2 0zm-11 6zm1-3zm1-4zm-2 1zm-2-1zm1 5zm-1 4zm21-13zm-3 1zm0 2zm-2 0zm2-7zm1 3zm2-3zm3 0zm-1 2zm-1 1zm2 1zm9-4zm-3 11zm8-18zm-4 0zm3 2zm-5-6zm1-3zm11 2zm-11-13zm0-2zm-2-2zm5-2zm2 0zm19 3zm54-4zm-4-19zm-6-3zm-2 12zm5-1zm-21-4zm-19 3zm-1-18zm14 4zm0-5zm3 2zm1 5zm2-18zm-10-3zm-3-6zm11-11zm3 0zm0 1zm6 6zm-2-5zm0-1zm-2-3zm8 0zm0 5zm2-1zm1 0zm4 1zm1-5zm1 0zm-1 1zm0 2zm1 0zm1-3zm2 0zm0 4zm-1 2zm-2-1zm0 2zm0 2zm4-1zm0 7zm-8-6zm0 2zm-3-2zm3 13zm-4 1zm5 7zm6-6zm6-8zm1-4zm1-1zm0-6zm1 2zm-3 0zm0-2zm-1-3zm3-2zm2 3zm1-1zm-1-2zm2 1zm3 1zm-1 1zm-1 0zm-1 1zm2 2zm2-2zm1 3zm3-7zm0-8zm0-4zm3-1zm2-3zm-1 3zm0-7zm-2-4z" stroke="#0a6030"/>
<path d="M1683 656zm-9 9zm-4 0zm3-7zm38-12zm-13 8zm5 9zm5-5zm26-2zm40-47zm-35 9zm6 0zm-3-38zm32 27zm-59-53zm-7-39zm-5 15zm-1 6zm-16-16zm-10 6zm-11 1zm4 12zm19 6zm6 18zm-24 11zm3 2zm4 13zm6 13zm25-25zm7 3zm-10 12zm7 25zm-7 8zm0 2zm-4-2zm-22-10zm-5 19zm-14-6zm-10-17zm1-1zm0 7zm-11 3zm2-1zm3-3zm1 2zm-2-5zm-5-5zm-2 0zm-3 0zm-1 1zm1 4zm0 1zm-1 2zm-1 2zm3 1zm3-3zm-1 2zm-1 1zm7 9zm4 6zm-12 4zm-4-8zm0-2zm-3-4zm-2 2zm0 5zm-4 0zm-2-4zm-2 1zm-1 2zm5 3zm0 1zm-15-1zm-5-2zm-1 0zm-1-1zm0-2zm7-1zm3 0zm1 1zm2-4zm-9-4zm1 3zm-2 0zm-3-6zm0-1zm7 1zm0-1zm-7-3zm6-4zm5 1zm-3 2zm4 3zm2 0zm-2-5zm1-1zm-1-1zm3 0zm1 0zm0 3zm6-3zm0 6zm-3-2zm-2 4zm2 0zm-1 2zm1 3zm1 0zm0-5zm2 1zm4 6zm3-4zm2-6zm-5 2zm-2-2zm2-3zm-2-2zm1 0zm4-3zm0-1zm-3 1zm4-3zm-1-4zm2-3zm-5 0zm1-2zm-3 2zm3 4zm-2-1zm-1 1zm-3-4zm-4 4zm-1-1zm0 2zm5 4zm-2 0zm-3 0zm-8-4zm0 5zm3 0zm-1 1zm-3-1zm-1 0zm-1-1zm-2 2zm0-1zm-3-3zm6-1zm1-5zm-4 1zm1-5zm6 0zm1 0zm-1 1zm-1 5zm3-2zm2-1zm-2-1zm0-3zm2-4zm-1-3zm-4 0zm-1 2zm1 2zm-9 3zm2-3zm-1-4zm1-4zm1-4zm12 6zm-1-2zm1-2zm7-2zm0 2zm-4 3zm-2 0zm0 1zm0 3zm0 1zm7-2zm3 3zm-2-1zm1 5zm5 0zm-1-7zm2 0zm-6-2zm0-5zm4 1zm6-2zm0 3zm2 4zm0-1zm2-3zm-2 0zm0-3zm1 1zm3 3zm6 8zm-1 1zm-8-3zm-3 6zm-2 5zm0 3zm2 6zm4-2zm-2-2zm1-2zm4 1zm-2 1zm0 2zm2 3zm3-3zm2 3zm-7-10zm1-1zm1 1zm0-3zm2 0zm2 0zm8 3zm-4 7zm2 0zm-2-13zm2-6zm2 1zm-6-7zm14-19zm-7 8zm-6 4zm-1 2zm-3-3zm-4-3zm-2 6zm-2-2zm2-8zm-6 0zm9-2zm-2 2zm4 0zm3-3zm-2-9zm-3 0zm-5 5zm-3-3zm3-5zm-2-4zm3 1zm5 0zm-3 0zm14-5zm-2-5zm4-1zm3-13zm-11-1zm-2 2zm1-5zm-1-1zm-1-3zm-10 5zm4 4zm-1 4zm-2 7zm11 2zm-6 6zm-2 1zm-14 0zm-6 0zm-1-5zm3 0zm1 0zm-5-5zm7-5zm3 1zm-3-8zm7 2zm0-9zm-3 1zm-1-1zm-1 5zm-4-1zm-3 1zm-1 3zm3-1zm-3 3zm-2 1zm-1-1zm-7 3zm3-2zm-3-2zm6-3zm-2-6zm-5-2zm-6 4zm2 6zm-1 9zm-1 1zm9-4zm2 4zm-1 2zm1 2zm1 1zm2 2zm-3-1zm1 3zm0-1zm2 1zm-9-3zm-6 5zm3 4zm2 2zm-3-1zm1 4zm2 6zm2-3zm-2-3zm4 4zm4 1zm1 0zm-6-6zm2-2zm1-2zm4-2zm4 0zm0 1zm0 4zm1 0zm9-2zm0 3zm-3-1zm-1 0zm-2 6zm-5-1zm1-1zm-2 1zm2 1zm-3 3zm1 2zm2 0zm-1 1zm-2 3zm2 1zm3-4zm5 1zm0 3zm-1 3zm5 4zm-8 2zm1-2zm-7-5zm3 6zm-4-2zm-1 1zm-6-4zm6 2zm-1-11zm-5 5zm2-1zm1 0zm-6 3zm-4-4zm0 4zm0 1zm6 0zm-2 2zm-4 4zm-4-1zm-4 1zm1-2zm1-1zm-2-1zm-1-2zm7 2zm-1-1zm0-2zm-2 0zm0-2zm0-3zm-6-2zm-3 6zm0 7zm-1-1zm0 1zm-3-4zm-6 4zm-6 0zm-1-3zm3 1zm1-3zm-4-1zm-2-7zm6 1zm5 2zm2 1zm2-5zm-1-4zm-6-1zm1 2zm2 1zm-7 2zm3-6zm-1-2zm-6-1zm3-5zm0-1zm3 2zm3 0zm6 4zm-2-5zm2 0zm2-1zm1 3zm3-2zm-3 5zm0-1zm-2 10zm4-4zm5 0zm-1 4zm6 0zm1-10zm-2 0zm0 2zm0-8zm-3-4zm0 2zm-6-1zm0 2zm-4-6zm3-6zm0-1zm1-1zm3 1zm1 2zm3 4zm3-7zm-2-3zm0-8zm1-3zm-4 5zm-5-2zm-1-4zm0-1zm-3 6zm7 5zm-14 1zm6-1zm-2-5zm1-1zm-4 2zm-2 0zm-1 0zm-3-1zm-4-4zm3 7zm3-1zm-4 14zm6-6zm3 7zm2 1zm2 4zm-7 2zm1 0zm-5 1zm-6 0zm-6-5zm2 4zm-9-6zm0-6zm6-2zm3 1zm-1 3zm2-5zm-1-6zm4-1zm1-1zm-3-6zm-4-1zm0 2zm3 4zm0 1zm-11-1zm-3 7zm-9 1zm3 3zm7 1zm1 4zm-6-2zm-1 6zm-2 13zm-3 0zm2 3zm3 2zm7 3zm-3-4zm0-2zm2-2zm3-7zm2 5zm2 0zm-1-4zm3-1zm7 5zm-4 2zm0-3zm-2 2zm3 5zm4-1zm-2 1zm-3 1zm-4 2zm-4 4zm2-2zm4 3zm2 0zm1-1zm0-2zm2 6zm-3 0zm1 0zm-3 5zm5 0zm-1-1zm0 2zm1 0zm-9 0zm3 0zm0-3zm-3-1zm-8 6zm-1 1zm-1 0zm-1-1zm1-2zm0 1zm1 0zm3-7zm-1 1zm0-5zm-13 2zm2 1zm-2 3zm5 6zm-5-1zm1 2zm0 1zm2 2zm-1 1zm2 4zm4-7zm0 3zm3-1zm1 0zm2 3zm1 1zm-6 6zm-3-1zm-1-2zm-2 1zm-3 3zm4 4zm3 6zm-6 3zm0 5zm2 0zm1-1zm2-5zm4 0zm-1 4zm2-7zm0-3zm3 0zm7-2zm1-1zm1 5zm-4 3zm-1 3zm0 2zm1-1zm6-3zm-1 5zm3 0zm1-3zm-2-9zm0 1zm2-2zm1-2zm-1-1zm0-4zm-4-2zm0 3zm2 1zm1 1zm-11 2zm0-4zm5-1zm2 1zm-3-7zm1 2zm1-4zm1 0zm2 4zm2 1zm1-3zm0-1zm7-3zm3 7zm-1-1zm-3 1zm1 1zm1 6zm0-4zm6 5zm3-1zm2 1zm0-6zm-6-8zm4 1zm4 4zm6-2zm0-1zm-3 0zm2-2zm5-1zm1 3zm-1 3zm1 2zm1 1zm1 2zm-2 0zm-6 1zm1-2zm-5 1zm1-2zm7 7zm1 0zm1 12zm-1 1zm-2-1zm0 3zm-5 0zm3-7zm-5 2zm0 4zm-1 0zm-9-6zm5-3zm-3-4zm-5 6zm-2-6zm-2 3zm1 0zm1 3zm-1 0zm5 11zm-3 5zm-3-3zm-1 3zm0 7zm5-3zm2-2zm4 6zm3-1zm0 1zm-5-11zm5-1zm1-2zm-1-1zm12 1zm4 1zm-2 5zm-1-1zm-1 2zm5 4zm-4 3zm-7-1zm2-1zm-4 7zm3 1zm4-4zm6 0zm-5 4zm-1 4zm1 0zm2 0zm1 4zm-8 2zm0-1zm-1-6zm0 1zm-1 0zm-1 3zm-2 2zm-1-1zm-2 0zm0 1zm-2 0zm4-6zm-2-4zm0-2zm-4 2zm1 1zm0 1zm-4-1zm-4-5zm0 11zm1-2zm1 2zm-8 4zm2-2zm1-1zm-3-1zm-4 3zm-1-1zm-2-1zm2-3zm0-1zm-4-5zm-3-1zm4-1zm3 2zm5-5zm2-5zm0-4zm1-3zm-11 0zm-11 9zm4-1zm1 0zm-2-8zm1 1zm-5 2zm-2 1zm-3-5zm0-1zm-3 11zm1 2zm-1-1zm1 4zm1 5zm4-4zm3-1zm2 2zm3 3zm0 2zm-2-1zm-1 0zm-3-2zm7 4zm0 6zm-4 0zm-2 0zm0 1zm-9 0zm4 4zm9 6zm-1-4zm7-4zm-3 2zm13 3zm14 38zm16-9zm-18-33zm3 5zm7 0zm-3 4zm11 4zm6-10zm6-2zm2 3zm6 8zm-11-2zm0-1zm-3 0zm17 13zm13-1zm-7-7zm4-2zm-2-1zm-7-2zm3-6zm-5-4zm10 4zm12 9zm15-14zm9 0zm-9 21zm9-3zm-13 6zm-11-2zm5 16zm-38 22zm-73-8zm-11-50zm9-7zm-3-10zm-1 1zm-1-1zm-4 6zm-3-2zm-8-7zm4-10zm1 3zm2-5zm-2 1zm0-3zm9 4zm2 0zm-2 2zm-2 0zm4 4zm-1 0zm-1 1zm0-2zm5 5zm1 1zm0-1zm3-8zm-1 0zm-5-3zm5-3zm0-5zm-2-3zm-2 4zm1 2zm0 1zm-1-1zm-8-1zm1-3zm4 0zm1-1zm-1 0zm1-2zm-3-5zm2 1zm7-2zm1-2zm-5-2zm2-2zm-2 0zm-1 0zm2-3zm3-2zm-3-3zm-1-3zm-3 1zm-5 2zm2 8zm2 2zm2 0zm-4 0zm-11 0zm3 0zm1-12zm1 16zm0-1zm2 2zm0 5zm-1 0zm-2 0zm-2-2zm-1 5zm1-2zm1 0zm4 1zm-1 0zm0 5zm1 1zm-49-76zm24 0zm18 20zm-7 1zm5 21zm3-13zm9 0zm2 0zm3 0zm0 1zm-6 5zm-1 4zm2 4zm0 1zm2-2zm4-4zm3-1zm-1 1zm0 1zm1 1zm-2 2zm-1 2zm6-6zm-1-5zm-5 0zm0-2zm6 0zm-13-3zm1-4zm5-8zm6 3zm-8-17zm-17 2zm-4-13zm31 4zm-1-10zm-4 1zm-9-8zm-12-2zm-4-6zm13-2zm8-21zm6-16zm-36 34zm6 13zm74-102zm-8 20zm30-3zm-26 15zm-3-4zm-3 2zm-23 1zm22 21zm-3 15zm4 5zm-8-5zm-18 24zm2 8zm5 3zm4-7zm-1-1zm-1 2zm-3-5zm6 1zm3 0zm-3 5zm9-1zm6-14zm-6 0zm1 4zm-10-5zm6-2zm-1 0zm-3-4zm-2 0zm6 1zm2 3zm7 1zm0-2zm-3-3zm11 4zm0-2zm8 0zm0 1zm-5 0zm4 8zm-4 0zm-6-2zm-2 0zm0-3zm0 8zm3 0zm2 2zm-1 1zm-4 3zm-1 5zm0 2zm4 0zm2 1zm3 0zm4-6zm9-4zm0 2zm-5 1zm6 4zm5-2zm-1-3zm0 1zm-3-4zm5-5zm-6-5zm-3 2zm4-6zm0 1zm5-2zm-12-10zm4 5zm-21-17zm1-14zm44 47zm-8-5zm-1-2zm-3 1zm1 5zm0 5zm4 2zm-2 1zm-2 9zm3 0zm7-8zm-2-7zm1 1zm2 0zm5 3zm2 5zm8 6zm2-4zm-1 0zm4-7zm-1 1zm2 9zm6-2zm9-2zm7-4zm-57-91zm5-22zm73 73zm-4 27zm-4 18z" stroke="#00c4f0"/>
<path d="M1652 318zm-42 2zm-8 25zm10 5zm11-5zm2-6zm4-6zm2-5zm-2 2zm-5-1zm-2 5zm-3 0zm-2-2zm16-11zm5 13zm5-3zm0 2zm4 2zm-2-10zm5-4zm8-1zm3 1zm-3 8zm3 6zm-11-7zm0 17zm-4-4zm-14 6zm0 11zm-8 8zm-6-13zm-14 6zm0-2zm1-4zm0 2zm-1 6zm1 14zm9-3zm-17 5zm1-4zm-3 1zm0-15zm72-37z" stroke="#b00078"/>
<path d="M1792 627zm1 2zm1 2zm1-2zm6 10zm-2 0zm-2-6zm-4 1zm-1 8zm1 1zm2-1zm1-2zm0 5zm3 1zm-1 1zm-2-1zm-1 1zm0-1zm-2 0zm-1 1zm1 4zm0-1zm-1 0zm0 1zm1 1zm-1 3zm4 0zm3 0zm-2-4zm-1-2zm5 0zm1 2zm-1-5zm-8 10zm-1 1zm1 4zm-1 2zm-37-21zm3 2zm1 0zm-5 7zm5-3zm-3 3zm1 2zm0-1zm32 14zm-1-5zm2 0zm0-3zm1-2zm-5 3zm-1-2zm-1-1zm1 2zm2 3zm-6 2zm-1 0zm0-3zm3 0zm0-1zm0-3zm-4 0zm-2 5zm1-1zm-1 2zm-1 2zm7 0zm-1 1zm-8 0zm-1-1zm-11-5zm1-2zm7-1zm0 2zm-2 2zm4-2zm2-6zm1 1zm-4-2zm0-2zm-1-1zm-1 2zm-9 2zm3-1zm-3 0zm7-4zm-1-1zm-1-2zm-1 2zm-1-3zm1-2zm1 2zm0-1zm6-2zm-3 4zm1 0zm1 0zm3 0zm0 1zm1 2zm0-7zm0 1zm9 0zm-3 2zm0 1zm-4 1zm0 1zm2 3zm-1 1zm-1 3zm5 1zm-1-6zm3 1zm3 0zm0 1zm3 2zm1 3zm1-2zm-1-1zm1-2zm-2 1zm0-1zm0-4zm-2-3zm-1 0zm-2-1zm5-1zm1 2zm1 0zm0-3zm0-2zm-1 0zm0 1zm0-3zm1-2zm-1-1zm-1 1zm-2-1zm-1 0zm-1 2zm-1 2zm1-1zm-4 1zm0 1zm-1-6zm1-1zm-1 0zm-1-5zm-1 1zm0-2zm8 0zm-2 6zm3-1zm0-2zm2 0zm1 3zm-2-5zm-28-1zm4 0zm10 6zm-5-3zm-1 4zm3 3zm1-3zm1 6zm-7-5zm-4-1zm1 5zm-1 2zm-3-2zm-1-1zm0 1zm-2 0zm-53-86zm-28-36zm-7 34zm35-39z" stroke="#f07858"/>
<path d="M1402 631zm-1-3zm-30 18zm17-3zm0 2zm-6 10zm38-15zm-2 11zm7-4zm47-7zm33-19zm1-9zm0-2zm2 0zm1 0zm3-19zm-6 1zm-7 9zm1-15zm-24 3zm-2 26zm0-2zm2 6zm9-3zm11-3zm6 3zm-9 11zm0 8zm-12 2zm-2-5zm-2 3zm-17-6zm11-10zm-9-6zm-12-1zm-10 14zm0 9zm-23 3zm-5 0zm3-9zm-5 2zm11-13zm12 1zm2 1zm11-20zm7 2zm10-19zm22-9z" stroke="#b85000"/>
<path d="M1389 641zm-4 5zm-2 7zm-4 4zm16-15zm28 2zm10 0zm72-20zm11 4zm-3-6zm-5-42zm-30 1zm-3 16zm22 26zm-2 0zm-2-4zm-5 9zm9-1zm1-1zm-8 7zm-25-6zm4-13zm-11 6zm-47 5zm38-33z" stroke="#4b2d73"/>
<path d="M1695 661zm6-1zm15-15zm36-89zm-31 9zm-26-19zm-11 24zm-20 27zm47-13zm-57 26zm-2 0zm-3 1zm2 4zm-11 5zm6-2zm1-2zm0-8zm-2 3zm-5-2zm0 1zm1 0zm-3 5zm-1-4zm-4-3zm-1 1zm1 4zm1 7zm-1 3zm-1 1zm5 0zm3 0zm5 2zm2 6zm-17-8zm-4 3zm-9 4zm-1 4zm6-3zm-14 2zm-7 1zm0-3zm5 1zm1-5zm-1 1zm-3-3zm-2-2zm4 1zm2 1zm7 2zm1-6zm-1-5zm-5 2zm-1 1zm3 3zm-7-2zm-4-2zm3-3zm4-1zm-1-1zm-5-3zm5-2zm4-1zm5 4zm-3-4zm6 0zm1 6zm-3 1zm1 2zm5 2zm-2 0zm0-1zm4-1zm2-1zm2 6zm3-5zm-1-2zm-4-1zm0-4zm3 1zm1-6zm-1-3zm2-4zm0-1zm-10-2zm0 12zm-8-4zm-3 0zm-1 0zm0 1zm-9-3zm7 0zm-3-5zm0 3zm-3-5zm1-1zm5 0zm-1-1zm3 0zm1 0zm1 0zm0 2zm1 3zm2 2zm0-3zm1-5zm0-3zm-2-1zm-5-3zm2 5zm-5-1zm-5 0zm1 0zm4-1zm6-4zm1 0zm8-5zm2 4zm1 0zm0 1zm-4 4zm3 3zm1 0zm1-6zm3 1zm-3 6zm5-2zm1 0zm1-1zm-2-4zm0-8zm0 1zm6-1zm2 4zm-1 3zm2 0zm3-5zm5-1zm-4 11zm-3 3zm-3 0zm0-2zm-1-2zm0 3zm0 2zm1 0zm3 6zm-7-1zm0 2zm2 2zm0 2zm-1 0zm0 4zm1-2zm3-1zm0 1zm-1-3zm3-2zm3 1zm1 1zm-3 0zm0-9zm1-1zm2 0zm1 0zm3 0zm3 0zm0 5zm-2 0zm1 3zm2 2zm-2 0zm8 0zm-1-13zm-1 1zm-7-4zm6-2zm-4-4zm2-1zm3-3zm-11-6zm-4 4zm-4-2zm-3 0zm2-2zm-2-1zm-1-1zm5 2zm1-1zm-1-2zm-4-2zm14-12zm-8 6zm-2-2zm-1-7zm9 0zm-1-5zm11 0zm-7 3zm1 11zm13-20zm-6 1zm2 2zm-6 0zm-4-5zm5 0zm0 1zm1 1zm1-2zm-7-5zm2 0zm0 1zm0-11zm0 3zm-9-3zm0-1zm-1-1zm-4-1zm3-4zm-7 5zm3 0zm-3 4zm2 10zm4-2zm8 0zm-3 7zm-1 4zm-6 0zm1-2zm-3-5zm-11 4zm-5 2zm-1-1zm9-8zm5-1zm-2-5zm2-5zm0-2zm-2-6zm-4 0zm2 2zm-5-1zm-5-3zm6 10zm-16-5zm-5 2zm-2-1zm0 5zm4-3zm3 1zm-2 1zm-1 3zm-1 2zm0-1zm-2-2zm0 9zm0 1zm1-2zm11-1zm-5 4zm3 3zm-2 3zm-4 2zm-3-5zm-1 0zm-1 6zm2 3zm0-3zm-1 5zm-1 0zm1 2zm-1 4zm7 2zm-1-1zm-1-3zm8 5zm-1-3zm2-6zm-4 0zm0-2zm-1 0zm4-2zm1 1zm5 1zm-1 0zm4 3zm-2-4zm7 5zm0-3zm0 6zm0 3zm-2-1zm-1 2zm-4-4zm-1 7zm0 1zm0 5zm2-2zm1 0zm1-3zm3-1zm4 1zm1 0zm-3 0zm-2 5zm0-1zm1 0zm-3 8zm-4-1zm-3-3zm0 2zm2 0zm-5 2zm-5-3zm3-1zm1 1zm-1-7zm1 0zm1 0zm1-1zm-7-3zm-3 0zm-4 1zm0 6zm-1 3zm1 1zm2-1zm4 4zm-3 0zm-3-1zm-2 1zm-3-1zm-4 0zm2-5zm-1-1zm-4 0zm0-7zm0 3zm-3-2zm0 8zm3 5zm-2 1zm-1 0zm-2-3zm-1 2zm-2-2zm1-1zm-3-3zm-6 6zm-3 1zm2-8zm-3-3zm7-4zm1 1zm4 2zm-1-2zm3-1zm0-5zm-1-3zm-3 3zm-2-3zm-3 5zm-1-1zm-2 3zm-1-2zm-1-8zm0-3zm5 0zm0 1zm1-2zm3 1zm1 5zm0-1zm-1-2zm2-2zm1-2zm2 1zm0-1zm1 3zm3-1zm0 3zm-2 2zm9 3zm-1 0zm2 4zm-1-2zm5-7zm-6 0zm-1-3zm6 1zm1-5zm-3 0zm3-3zm-3-2zm-2 2zm0 3zm-5 0zm-1 1zm-2-2zm3-6zm-5-1zm13-18zm-2-3zm-3 3zm-2 2zm-4-4zm-1 5zm-5 8zm-2 0zm-1-4zm0-9zm-7 0zm-1 2zm5 6zm-2 2zm3 0zm-4 6zm-1 1zm-2 3zm4 1zm11 0zm-5 3zm4 5zm-6 0zm-1 0zm-8 0zm0-1zm-1 1zm-1-1zm-3-6zm1 4zm-3 2zm-4 1zm-2 0zm0-8zm12-4zm-2-1zm1-1zm-5-4zm6-10zm-4-3zm-1 2zm0 1zm1 2zm-5-1zm-5 6zm7 3zm-7 0zm0 2zm-7-4zm2-3zm4 0zm-6-8zm-3 3zm-2 0zm2 18zm7-4zm2 1zm-1 6zm-10 15zm7 2zm2 5zm2 1zm0-3zm0-2zm-4-3zm1-5zm2 1zm4 1zm4 0zm2 4zm1 1zm6 4zm-3 1zm-5-1zm-6-2zm-1 0zm3 4zm-1 0zm-2 1zm2 7zm1-3zm1 1zm2-3zm-2 1zm0-3zm9 0zm-1 2zm-1 4zm-3 3zm2 2zm4-3zm-2 3zm0 1zm-2 1zm-3-3zm0-1zm-8 3zm-3 3zm-3-3zm3-5zm0-2zm2-4zm-2 0zm-1-1zm-3 6zm-2 1zm-4-5zm-2 1zm1 1zm4 8zm-4 4zm1 2zm3 4zm3-5zm1 3zm-1 3zm7 3zm-2 4zm-9-4zm-4 1zm3 1zm-2 6zm1 13zm6-7zm2 7zm2-7zm3-3zm-2 1zm-4-2zm1 1zm-1-2zm2-3zm5 0zm6 5zm-3 1zm-2 1zm4 5zm0-2zm8 4zm1 1zm1-5zm-2-1zm-2-3zm-3 1zm0-5zm0-2zm5 1zm0 1zm1-10zm-3 1zm0 3zm-4 0zm-6-1zm3-4zm-2 0zm1-3zm6-1zm0-1zm-1 4zm4-3zm7 0zm1 3zm-1 0zm0 3zm0 2zm-3-1zm0 1zm7 3zm-1-4zm0 1zm-2-3zm7 3zm-1 0zm2 3zm1-9zm-5 1zm1-5zm2-1zm2 0zm4 5zm2 2zm11-4zm-1 3zm0 5zm0 1zm1 2zm-5-2zm-5 2zm1-1zm-2-4zm-1 5zm-1 0zm10 5zm0-1zm1 1zm-1 1zm-3 0zm0 4zm3 3zm4-3zm0 3zm-2 2zm1 1zm-1 1zm-4-2zm-5 1zm-4-1zm-7-2zm6-4zm-3-2zm0-3zm1 0zm-4-2zm0 3zm-7-2zm1 6zm-3 4zm6-3zm0 3zm-6 1zm4 5zm2-1zm-4 12zm3 0zm-1 2zm5-5zm1-1zm0 1zm0 5zm3-1zm-4-6zm4-7zm2 3zm0-3zm2 0zm0 4zm0 3zm1 0zm4-2zm1-4zm6-1zm0 11zm-10 0zm0 3zm2 7zm0-2zm1-2zm3 0zm-1 1zm4-2zm2 1zm-2 2zm-4 6zm-3 5zm0-3zm-4-1zm-8 1zm2-3zm-2-2zm-5-1zm3-5zm-1 1zm-1 0zm-5 1zm5 7zm1 3zm-8 3zm-4-4zm-1 4zm-8-5zm4-1zm2 2zm-6-9zm3 0zm3-1zm4 2zm4 0zm-3-5zm3-8zm-1-1zm-3-5zm-2 4zm-6-3zm-3 3zm7 7zm-5 1zm-4 3zm-2-10zm2-2zm1-3zm-2 1zm-4 2zm-2 2zm0-5zm-3 1zm-1 3zm1 4zm-3 6zm0 7zm0 2zm4-4zm2-3zm7 1zm-4 10zm-5 0zm-2-3zm-1 5zm10 14zm3-7zm-4-4zm1 3zm4-3zm2 0zm5 2zm7-1zm-14 34zm23-24zm-5-9zm19-2zm0 2zm-5 6zm7 2zm-1 1zm5 3zm2-3zm9-9zm4 12zm-5 0zm0-1zm-3-4zm23 7zm5 0zm-5-3zm-9-13zm15 6zm10-1zm4-3zm14 10zm-10-4zm-1 13zm-1 5zm-8-7zm-4-2zm-27 34zm-75-57zm2 0zm0-5zm-3-5zm-4 2zm2 3zm-6-5zm-2 1zm-1 14zm-1 0zm-3-21zm-2 5zm-1-11zm3 1zm-1-3zm3-1zm1-1zm5 0zm1 6zm-6 6zm1 2zm10 1zm1-2zm3 0zm-1-3zm-1-2zm-1-4zm0 3zm-1-1zm-3-6zm5-1zm-1 0zm-1-5zm-1-2zm1 7zm-7 0zm-2-1zm4-4zm1-4zm-4-2zm-3-2zm8-2zm0 2zm6 2zm1-2zm0-4zm-4-5zm-2-9zm-2 2zm-3 1zm-1 6zm4 5zm-4 1zm-2-1zm-5 0zm-2-4zm0 7zm3 1zm-1 0zm1 3zm0 1zm-2 0zm-1-2zm3 5zm1 5zm1 1zm-16-77zm-18 14zm-1 24zm16-24zm5 9zm21 10zm-1-1zm2 4zm-2 1zm-3-2zm1 5zm-1 4zm5 0zm1-2zm1 0zm-1 2zm3 0zm4 1zm0-6zm-6-3zm0-2zm4-2zm2-1zm-1-3zm-2-1zm2-5zm-1 3zm-2-1zm-3-13zm-10-61zm3-10zm76-71zm-9 7zm-13 15zm-39 36zm15-6zm14 16zm-1 11zm-4-2zm0 1zm-11 4zm2-1zm0 4zm-12 20zm-1 1zm12-1zm-5-5zm6 0zm7 4zm-3-1zm-1 2zm3 7zm-1-4zm6-3zm-2 2zm0 2zm4 2zm-3-8zm0-3zm1-3zm0-8zm-2 0zm-4 6zm-1-9zm1-4zm22 0zm4 1zm-5 2zm0 5zm-1 0zm5 4zm-7-4zm-1 9zm0 4zm-4-1zm-1 2zm2 3zm1 1zm0 2zm3-2zm1-2zm8-4zm-3-3zm0 1zm4 2zm0 5zm4 1zm7-8zm1 0zm0-4zm0-6zm-12-18zm-3 7zm-8-3zm27 2zm3 5zm-3 0zm13 9zm-10-2zm0 9zm3 0zm-2 5zm-1-2zm1 3zm6 1zm1 2zm-3 2zm6 2zm-4-9zm-2-1zm0-3zm4-2zm6 4zm-2 8zm6-3zm1-1zm1 3zm3 2zm-1-1zm3-7zm0 1zm-2-1zm-10-8zm17-1zm-2 7zm4 1zm0 3zm-4 2zm-31-81zm16-19zm-16 4zm91 58zm-17 20zm3 22zm2-15zm6-11z" stroke="#00c4f0"/>
<path d="M1683 539zm2-23zm-38 30zm2-9zm3-6zm8-3zm-25-5zm7 9zm0 4zm-26-7zm12 4zm2-7zm-2-4zm1-9zm-16 1zm-4 5zm-9 3zm0 12zm28 12zm0 8zm-5 7zm-39-29zm5-7zm-11 3zm-22 15zm-7-23zm-12 16zm30 8zm-75-11zm-17 9zm5 11zm21 1zm32 1zm1-15zm-2-21zm-12-10zm-12-6zm13-39zm7 6zm126-162zm9 11zm-5-2zm-1 2zm-4-4zm-5-1zm0 1zm2 2zm-1 2zm-3 0zm-5-1zm-1-1zm3-2zm1 0zm3-4zm-3-2zm1-1zm-4 3zm-9-2zm0 2zm1 2zm0 2zm5-3zm-1 3zm-1 4zm-1-2zm-2-1zm-5 3zm0-1zm3-2zm-1-1zm-1 0zm-4-2zm1 4zm1 1zm-2 0zm-3 0zm-1-2zm4-7zm-10 10zm-5 4zm1 0zm2 1zm-1 2zm-4 1zm0 2zm6 1zm-1 1zm-1 0zm2 4zm-6-3zm-3 4zm2 3zm-1 0zm1 1zm-4 3zm-1 1zm3 6zm-1-3zm2-2zm2 4zm2 2zm1 0zm2-3zm-1 1zm2 0zm0-4zm1-5zm-2 2zm-3 0zm-2-1zm3-2zm6-1zm1 0zm3-2zm1 2zm0 1zm-1-1zm0 2zm1 3zm-2 0zm-2 0zm0-2zm-2-1zm1 4zm-1 6zm4 0zm3-1zm-3-2zm2-2zm3 0zm2 0zm-2 1zm-1 2zm5 0zm1 2zm-2-4zm1 0zm1-6zm-2 1zm-3-4zm5 0zm0-1zm0-1zm1-6zm-2 0zm-1-1zm-6 7zm-6-3zm6-7zm-2 2zm-1-7zm3 2zm2-1zm3 1zm0 1zm3 3zm0-2zm-1-2zm6 0zm4 2zm0 3zm-4 0zm-3 6zm6 1zm-1-4zm5-2zm-2 5zm3 1zm0-1zm-1-1zm2 2zm-2-12zm-1 0zm-1-1zm4 1zm2 1zm4 0zm-1-1zm-1 0zm7 2zm-1-1zm-1-2zm4 1zm1 0zm0-1zm3 2zm0-1zm2 2zm-2 3zm-3 0zm3 4zm-2 4zm-1-1zm-2-2zm-3 3zm2-6zm-5 0zm1 5zm-2 1zm-1 2zm2-1zm1 3zm-1 0zm10 0zm3 3zm-4 1zm-2-1zm-1 2zm4 0zm3 2zm-3 2zm2 0zm-4 2zm-6-5zm-2 1zm1-1zm-2 5zm-2 1zm-2 0zm-4-3zm1-2zm3-2zm0 3zm0-5zm1-4zm-2 0zm-1-2zm-3 0zm1 5zm2 0zm-5 1zm0-2zm1-1zm-5-1zm-2 2zm2 0zm1 0zm-2 3zm0-1zm-1 2zm3 2zm1-2zm2 5zm-6 5zm3 1zm0-2zm2 2zm-2 10zm1 1zm0 1zm2-1zm-2-6zm1 0zm4 7zm2-2zm-1-1zm3 0zm-1 2zm2-10zm-3-2zm2-1zm8 3zm2 0zm-3-4zm3 1zm1 7zm1 3zm-3 0zm-1-1zm-11 11zm-5-4zm-5-1zm0 1zm-3 7zm-5 0zm-8 0zm4 2zm3-5zm-5 2zm-2-1zm3-4zm-2-1zm0-1zm1 0zm1 0zm2 2zm1 0zm1-2zm1 1zm2-1zm5 6zm0-9zm-6-1zm1 0zm-1-1zm4 0zm2-3zm0-2zm-3 0zm1-1zm-1 0zm2-3zm-6-1zm0 4zm-1 2zm-1-1zm0 1zm-2 0zm2-2zm0-3zm1-1zm0-1zm-1 0zm0 1zm-2 2zm-3 0zm-1 0zm3 2zm-2 5zm2 0zm3-2zm1 2zm-1 1zm-2-1zm0 1zm0 2zm3 0zm0 1zm0 1zm-2-1zm-1 1zm-1-2zm-1 0zm-2 1zm-4-1zm1 2zm-5 0zm3-2zm0-1zm-1-1zm-1-3zm6 0zm-2-3zm0-3zm-3-1zm-1 0zm2 5zm-1 1zm-2 0zm-1-1zm-3-6zm0 1zm-3-1zm0 3zm6 6zm-5 6zm0 3zm-2 4zm3-2zm4 0zm-2-2zm3 1zm2 0zm2-3zm1 0zm2 2zm-7 2zm3 4zm2 1zm2 0zm-1 1zm1 0zm-1 1zm-2 1zm0 2zm-8-4zm1 0zm0 1zm-1 0zm-2-2zm-1 0zm2 6zm-5-1zm-1 0zm-2-2zm2-4zm-3-1zm-6-1zm2 5zm0 1zm4-17zm-1 2zm1 2zm4-3zm-1-2zm-1-2zm3 0zm-1-4zm-3-2zm3-2zm1-1zm0-6zm0-1zm-20 55zm1-11zm5 0zm6 1zm-1-3zm8 2zm-7 10zm-4-6zm-1 8zm4 2zm-2-1zm5 0zm4 3zm-5 1zm1 3zm2 7zm-13-5zm1-8zm-15 4zm0 4zm3-2zm3 23zm7-9zm10-1zm-5 10zm9 2zm3 2zm-15-2zm-17-15zm-26 26zm2-2zm18 32zm3-1zm-13 11zm-7 21zm18 4zm-8-22zm2-3zm25 5zm1 13zm-2-6zm14 1zm2-4zm-4 2zm-6-8zm7-6zm-2-6zm-15-5zm-6-7zm21-12zm38 1zm0 2zm-13 51zm5 5zm43-3zm-8-29zm-2 1zm-16-27zm9-1zm2 0zm5 8zm-15-37zm-6-6zm0 2zm0 9zm4 2zm-2 1zm-2 0zm3 2zm2 6zm7-3zm-2 9zm-3-1zm-2-1zm-4 3zm-1 2zm-1-13zm-6 2zm-5 0zm3 0zm-1-2zm-4 12zm-6 0zm-2-13zm5 0zm-11-6zm7-8zm10 0zm-3 11zm11-16zm-3 0zm5-11zm-4-2zm-1 4zm-7-4zm-1 10zm-17 1zm3-1zm-3-10zm5-11zm-6-2zm1-1zm20 2zm-4 5zm6 0zm3-4zm0 1zm7-1zm2 1zm4-5zm2-2zm0 1zm-5 15zm6 12zm4-1zm-6-9zm9 1zm-1 9zm26 72zm14 14zm4-2zm-2-15zm-25-136zm2-3zm0-2zm-1-4zm-1-3zm1-6z" stroke="#f000a0"/>
<path d="M1801 635zm-13 85zm-2-1zm-4-15zm-7 12zm-3 1zm-5-10zm-2 16zm-15 2zm4-4zm3-14zm-3 1zm-6 1zm-2-3zm-2-2zm2 5zm-2 7zm-6 0zm0-11zm-3 5zm-2-4zm-4 22zm-52-14zm-6-4zm15-6zm0 13zm4-10zm-1-1zm19-1zm2 13zm-1 1zm0 8zm16 0zm-4-7zm-9-4zm5-8zm3-4zm6 7zm-12-14zm3 0zm-1 0zm6-6zm2 2zm-1-10zm-3-3zm6-6zm0-2zm-3 7zm-6-2zm-1-1zm3-3zm-6 0zm2 10zm1-3zm-5 5zm-7 2zm1-1zm4-3zm-1-9zm-3 1zm-2-1zm-2 8zm-1 3zm-2 0zm13 3zm0 1zm-4 4zm-2 0zm6 9zm-2 0zm-1 0zm-8 1zm-10-4zm0-3zm-4-5zm-5 8zm5-3zm-17 2zm-4-8zm3-2zm1 2zm2-2zm3 1zm4-7zm-13 1zm3-1zm-1-10zm8 3zm-3 2zm8-2zm2-3zm2 2zm3 3zm-7 2zm0 4zm15-1zm-2 0zm-4-16zm-1-2zm4 0zm-2-6zm1-2zm-2 4zm2 0zm-4 2zm0-2zm-7 4zm0 2zm1 0zm3 5zm-3-3zm-5 2zm3-4zm-3 0zm-1 0zm-3 1zm-2 3zm-6 0zm1 0zm2-1zm0-9zm5-2zm3 4zm4 1zm0-2zm-3-4zm3-7zm-7-2zm-1 4zm-3 1zm-2-3zm0 1zm-2-1zm2-2zm0 1zm3-1zm-1-1zm-3-4zm4-1zm1 0zm5 0zm-3 0zm0 5zm4-5zm4 1zm2-2zm3-1zm1 3zm0 4zm-6-3zm3 5zm-3 3zm6 0zm-2-4zm7 3zm0 4zm0-1zm0-1zm3 2zm1-1zm-1-5zm1-2zm-4-4zm0-1zm-3 1zm5-2zm3-1zm0 1zm3-1zm-2 3zm-1 1zm1 1zm0 1zm2 0zm-1-1zm2 2zm1-1zm2 1zm0-4zm-1-2zm5-1zm3 1zm1 3zm0 2zm-7-1zm1 5zm5-1zm1 1zm-11 4zm0-3zm-1 0zm-2 2zm5 6zm-1 4zm-5-3zm0 1zm0 4zm4 6zm3 0zm0-2zm5-4zm1-1zm1-1zm-6-2zm0-1zm2 0zm13-3zm0 2zm-6 2zm5 3zm2-2zm4-8zm-2-3zm-2-1zm1 4zm-2-2zm-2 1zm0-1zm-5 2zm0-1zm2-1zm1 1zm-3-5zm7 3zm0-1zm-2-5zm-5-4zm0-1zm6 1zm3 3zm9-2zm2-1zm1-1zm2 2zm-2 0zm1 4zm-6 2zm2 1zm-1 1zm-1 4zm1 1zm5-3zm1-3zm3-1zm0 4zm3-8zm-5 0zm1-1zm2-2zm1 2zm6-3zm-1 6zm1 0zm0-2zm5-2zm-3 7zm-4 3zm0 2zm7 3zm-5 12zm-7-13zm-5 0zm-2 16zm11 11zm-5 3zm-6 0zm1-3zm-3-1zm0 16zm3-1zm4 0zm5 6zm1-1zm1-14zm1 7zm12 6zm1-9zm-14-6zm2-1zm17 12zm19-8zm5-29zm-9 0zm3-19zm-2 9zm5-8zm-14-23zm2-6zm3-5zm-5 3zm-2-3zm3 5zm-4 2zm-1-1zm-2-5zm-3 2zm2 2zm2 7zm0 2zm-4 9zm-6 7zm0-5zm4-6zm-6 3zm-5-5zm-3 3zm-1 5zm4-1zm2 2zm1 0zm-1 1zm1 2zm0 1zm-9 1zm-3-5zm-2 3zm-1 1zm-4 1zm-1 0zm-1-1zm0-4zm-1 0zm4 0zm0-6zm-1 0zm1 3zm-4-4zm-1-2zm7 2zm1 1zm2 3zm1-3zm1 0zm2-6zm-1 1zm2-4zm0-3zm-4 1zm-1 0zm-2 2zm-2 3zm-6 0zm7-3zm-6-5zm1-3zm-1-1zm2-2zm3 3zm2 4zm3-2zm2 1zm10-5zm-2 6zm-3-1zm0 5zm2 2zm2 2zm1-7zm2 0zm1 1zm-1 3zm5 2zm-1-3zm-1 0zm3-2zm-1-4zm-5-1zm5-7zm-3-3zm3-7zm-3-3zm-6 6zm1-2zm1 0zm0-4zm-2 0zm-1 0zm-1 5zm-3 6zm1 0zm2-2zm4-1zm-8 5zm-1-5zm-4 1zm-3 6zm-4 0zm-1-3zm0-2zm-1-1zm6 2zm-3-7zm-4 2zm1 0zm-1-3zm0-2zm0-1zm7 3zm1-1zm0 4zm3-2zm1 2zm0-3zm0-3zm3-2zm-3-1zm2-1zm-6 3zm-7-2zm-1-5zm4 2zm2-1zm10 0zm3 1zm0 5zm1-2zm5-1zm1 2zm4-7zm5 7zm3 5zm-2 1zm-3 3zm9 5zm3 2zm-9-38zm-32-41zm3 21zm-6 3zm-1 5zm26 18zm-27 0zm-4-9zm-8-4zm-1-1zm-3 9zm-4-1zm-2 6zm-8 0zm4-6zm2-7zm2-1zm-1 6zm3-1zm-2-11zm-3-6zm-3-3zm3 1zm5 1zm3 2zm0-3zm3 11zm2 1zm7-4zm-2 5zm0-8zm-2-11zm-2 3zm-1-1zm-3 1zm1-2zm2-5zm4 3zm-4-9zm10-5zm-9-9zm3 9zm-8 1zm-2 1zm-5-6zm4 0zm-1-3zm-6-5zm-4 10zm3 3zm6 5zm2 1zm-2 1zm-2 1zm4 3zm1 6zm-11-7zm-2 0zm-3 0zm-2 3zm-1 4zm-6-1zm-1-5zm2 0zm1 1zm0 1zm0-4zm-4-3zm2-2zm11 5zm0-5zm-2 0zm-5-9zm7-2zm-4-5zm-3 1zm-2 1zm-2-4zm-3 3zm-1 6zm3 0zm2 4zm-1 2zm-2-3zm-2 0zm-7 2zm0-4zm3-1zm0-4zm0-1zm-4 1zm-3 2zm-1-2zm3-3zm-6-2zm2 10zm4 5zm-3-1zm2 4zm-1-1zm3-1zm3 2zm1-1zm1-1zm2 2zm-2 0zm-1 3zm2 0zm-1 2zm-4 1zm6 2zm-11 4zm-3 17zm4 0zm2-1zm-1-2zm4 1zm5-2zm0-7zm-6 1zm0-5zm4 3zm5-3zm-1 6zm4-3zm4-3zm3 4zm-3 4zm4 3zm-11-3zm-2 2zm0 3zm4 8zm3-5zm8 1zm-2 5zm-3-1zm0 4zm5-1zm-11 5zm1-1zm2-1zm-6 1zm-3 3zm-6 0zm0-5zm5-5zm-5 0zm-1 9zm-7 2zm2 1zm-1 6zm1 0zm5-3zm1 1zm0 1zm3 5zm3-3zm-3 4zm-2 0zm-4 3zm0-5zm-5 2zm0 6zm4-2zm2 6zm-6-1zm1 2zm-1 3zm11 1zm-1 4zm2 0zm3-7zm-6-5zm1-2zm9 2zm-1-2zm2 5zm-1 0zm0-2zm-3 2zm2 3zm2 4zm3-1zm0-2zm3 0zm1 4zm4 1zm-3-7zm2 1zm0-5zm-4 0zm1 0zm-1-3zm5-4zm-4 2zm-5 0zm-4-1zm1-4zm1-2zm0 1zm0 2zm0-5zm-4 1zm9-5zm0 3zm-1 0zm2 1zm0-1zm2 0zm2-3zm3-1zm2 1zm3-1zm-1 4zm1 1zm-2 0zm-4 2zm1 0zm2 1zm-2 4zm2-1zm2 1zm1 1zm-2-4zm6 4zm2 0zm2 0zm0-9zm-1 1zm-2 0zm-2-2zm-1-1zm10-3zm5 5zm-1-2zm0-2zm3 4zm3 4zm3 2zm-1 1zm-1 3zm-2-3zm-2 0zm-2 3zm-1 0zm0-6zm-1 0zm0 2zm-1 0zm-3-1zm-1 5zm0 1zm1 3zm-1 0zm4 1zm5-1zm0-1zm6 0zm-3 2zm-2 6zm1 0zm-1-2zm4 3zm0 3zm-7 0zm-2 0zm-2 0zm-8-2zm-1-3zm2-1zm0-2zm1-3zm-2-3zm-5 4zm-1-4zm0 2zm-2 1zm4 7zm-3 2zm2 1zm-6 2zm1 1zm2 1zm2 1zm-1 3zm1-1zm-2 1zm0-1zm-2 10zm2 0zm2 1zm5-7zm-1 5zm6-5zm-4-5zm5-3zm0 6zm7 0zm8-3zm-3 1zm-4 2zm2 4zm0-1zm4 1zm-10 2zm-4 2zm0 3zm3 1zm4 5zm-3-6zm6 1zm5-1zm-3 3zm3 1zm0 1zm-2 2zm1 4zm-5 0zm-5 3zm0-1zm3-3zm-3 0zm-1 4zm-2-1zm-2-1zm-1-1zm-2 0zm0 2zm0 1zm-1-2zm1-3zm3-1zm0-3zm-2-1zm0-4zm-1 2zm-3 0zm-1 3zm-3 0zm-1-4zm1 1zm-3-2zm2 11zm2 0zm-4 0zm-1 1zm-1-1zm-2-3zm-5 6zm-5-2zm0-6zm-3 0zm-1 0zm0-1zm0-2zm0-3zm3 0zm1-1zm2 2zm1-2zm1 0zm3 2zm1 2zm0-8zm-2 0zm0 1zm-2-4zm7-3zm-1-5zm-2 2zm-1-1zm-2-1zm0 4zm-1 2zm-7-6zm0 4zm1 1zm-2 3zm0 2zm1 0zm0-1zm2-1zm3-1zm-2 2zm3 5zm-1 0zm-2 0zm-8-4zm3-4zm-2-2zm-1 0zm2-2zm-2-1zm-4-1zm1 4zm2-1zm-1 1zm-4-4zm-6 4zm4 7zm3 2zm-4-1zm0-1zm-1 6zm0 4zm1 1zm0-1zm2 1zm2 0zm3-7zm3 0zm0 5zm2 0zm-1 2zm-3-3zm-2 0zm-1 5zm3-1zm1 1zm1-1zm-1 4zm3 3zm-9 0zm1-5zm-7-2zm3 7zm-4-3zm0-1zm0-1zm0-2zm-3 0zm-3 1zm-1 0zm1 6zm-2-1zm-2-2zm-3 3zm1-4zm-1-1zm1-1zm0-1zm3-1zm-3-1zm-3 0zm2-6zm2 0zm1 3zm0-1zm4 0zm-1 4zm1 1zm1-3zm4 2zm1-4zm-1-6zm0 1zm-1 1zm-3 1zm0-5zm0-2zm2-3zm1-1zm2-3zm-4 2zm-3-1zm3 3zm-6-4zm-4-1zm-1 7zm0 1zm1 0zm2 2zm1 0zm1 3zm1 1zm1 1zm-4 0zm-4-3zm-1 1zm-1 2zm-5-1zm0-2zm2 0zm-1-3zm0-1zm4 3zm1-1zm0-2zm1 0zm-1-3zm0-3zm-2-1zm-2 2zm0-2zm1 3zm0 3zm-2-1zm-3 0zm-1-1zm0-1zm1 0zm0-3zm-1-1zm-1 1zm1 2zm-2 0zm-3-2zm1 2zm-1 1zm3 2zm-3 3zm0 1zm5 1zm2 1zm-5 3zm1-1zm-3 0zm1 0zm-1 2zm1 7zm2 0zm1-3zm1-1zm-1-2zm2-1zm5 3zm1 2zm-3 1zm0 3zm4 4zm1 2zm-1-1zm-8-2zm1-3zm-4-1zm-2 4zm0 1zm2 2zm-3-1zm-3 0zm-1 0zm-1 0zm-2-1zm2-2zm-2-2zm1-1zm3 0zm1 0zm2 2zm-1-2zm-1-3zm1-1zm0-2zm1-2zm-1 0zm-1 2zm-1 1zm-1 0zm-3-2zm0 3zm1 0zm2 1zm-3 2zm-2-1zm-1 1zm-1 0zm1-2zm-2-2zm-1 0zm0-3zm-1 1zm1 3zm0 7zm1-1zm1-2zm2 0zm1 3zm-3 0zm0 3zm-7 0zm0-6zm-4 1zm-1 3zm-7-3zm3 0zm2 0zm-4-6zm2-1zm1 0zm3-2zm3 1zm-1 2zm4 0zm-2 0zm1-2zm1-1zm-1-3zm2 0zm-1-4zm-4-1zm-1 2zm0 4zm-4-2zm-2 3zm-3-2zm2-3zm-1-2zm4 3zm1-3zm0-3zm-2-1zm0 1zm0 2zm-2 0zm-2 0zm3-5zm0-1zm7 2zm-2 3zm3-2zm1 3zm2-3zm5-4zm3 0zm1 3zm-1 0zm-2-1zm2 4zm-2 1zm-4 0zm2 4zm-1-1zm-1 4zm4-2zm1 1zm0 2zm1-1zm2-6zm1 4zm4 1zm0 2zm2 0zm0-1zm-2-4zm1-2zm0-3zm-5 0zm-1-3zm1-1zm3 2zm1-1zm2-6zm-5 3zm0-7zm2 3zm2 0zm-2-5zm2-1zm1-1zm0-2zm-7-2zm1 3zm1 4zm-1 0zm-1 0zm-4-2zm-1-4zm-3-1zm1 3zm1 4zm-1-1zm0 2zm-1 2zm6-1zm1 3zm-10-4zm-4 3zm-1 0zm0 1zm2 2zm1 0zm0 1zm-2-1zm-7-1zm1 0zm-2-5zm2 0zm2 2zm0-6zm-3 3zm-2 0zm1-4zm9 3zm1 0zm-1-1zm5 2zm-1-4zm-1-9zm-2 2zm-9-2zm5 1zm-1-7zm7 0zm8-2zm0 3zm1 1zm-1 0zm-5-1zm2 3zm-1 5zm1 1zm5 1zm-2-5zm5 5zm3 0zm1 0zm1 0zm-1-5zm-1-1zm-5-2zm0-4zm5-1zm5-1zm-2 1zm0 5zm2-2zm3-3zm7 0zm3 4zm-6 3zm2 1zm1-2zm2 1zm-1 4zm2 2zm-5-1zm-5 1zm-1-1zm-2-3zm-2 1zm3 0zm-1 2zm-1 2zm-1 1zm5 0zm1 1zm1 5zm-2-1zm-1 0zm-1 0zm-1-2zm-1 1zm0 6zm0 3zm2 0zm-1-1zm2 1zm0 1zm2 0zm1-2zm0-3zm-1 1zm3-3zm-1 4zm3 3zm1-3zm0 2zm3-1zm-1-1zm-2-5zm-3 0zm0-3zm1 0zm4-2zm6 1zm-2 4zm0 4zm-2 1zm3 3zm2-2zm1-3zm3 0zm-1 0zm0 4zm6-6zm0-2zm1-1zm-1 0zm-2-4zm2 2zm-1-5zm2-5zm0-1zm-6 1zm-1 6zm-1-1zm-6-2zm2-3zm1-1zm0-4zm-2-2zm2 1zm3-1zm-1-1zm2-1zm5 6zm1 0zm0-4zm-13-7zm1 0zm-2 2zm-3-4zm-9 4zm-4-12zm1-1zm11-2zm1-9zm9 2zm-1 0zm2 2zm5-3zm2-4zm1-4zm-6-3zm-1 0zm1 2zm2-1zm0 1zm-4 2zm0-3zm-1-5zm0-1zm-2 1zm5-6zm5 0zm-2-4zm-3 2zm-1-1zm1-1zm6-6zm0-1zm-5-4zm-2 1zm0 3zm0 1zm-4-5zm-3-1zm5 11zm-7 2zm-3 0zm1 0zm-4-13zm-9 5zm15 11zm0 9zm-17-5zm-3-9zm-2-9zm-15 5zm-10 29zm24-2zm7 11zm-15 3zm12 10zm3 3zm-19 0zm-17-7zm-5-5zm-7 13zm-6-7zm9-22zm13-29zm-23-1zm-2 22zm-26 11zm-2 0zm11 22zm-6 4zm-4 8zm16 12zm31-6zm-10 8zm11-2zm4-1zm0 4zm-6-1zm0 4zm2 0zm-1-1zm5 2zm-3 1zm1 3zm-4-2zm-5 2zm-1-3zm-15 8zm7 9zm6-8zm8-1zm5 0zm1 3zm-5 0zm-2-1zm0 3zm0 1zm6 3zm-7-2zm-6 6zm8 2zm2-2zm4 13zm-23 0zm3-2zm-1-6zm-24 10zm1-12zm-13-13zm6 13zm2 9zm8 8zm-14 26zm6 15zm17 2zm-4-8zm8-3zm5 0zm-5 15zm-3 8zm4 2zm12-13zm13 9zm1-6zm-7-10zm4-22zm-13 10zm-5-3zm-7-3zm-1-5zm14-10zm-10-3zm10 1zm3-3zm9 12zm-2-11zm12-4zm7 5zm-2 2zm1 1zm-8 22zm8-2zm2-7zm18 8zm-2-15zm0-1zm2-1zm-4-4zm-2 2zm0 3zm-2-2zm0-1zm-2-6zm0 3zm-2 0zm3-4zm2 0zm3 3zm4-1zm-1 0zm1-1zm-3-4zm5 1zm1 2zm4-1zm1 1zm-4 4zm-2-1zm0 3zm2-1zm-3 5zm2 1zm0-2zm7-4zm1 6zm3-1zm-1 1zm2-6zm1-4zm-2 1zm-4-5zm3 0zm2 3zm1-2zm-1-1zm4 3zm-2-1zm0 1zm0 1zm5 0zm0 3zm2-1zm3-6zm3 0zm2 1zm0 1zm-1 1zm-1 2zm-3 2zm0-1zm0-2zm0 1zm-2 6zm6 0zm-1-1zm0 3zm-1 2zm-3-2zm0 1zm-4-3zm-2-2zm-1-1zm0 1zm-2 1zm2 13zm5 0zm0-1zm-2-3zm-4 11zm-4-3zm1-7zm-4-3zm-2-1zm0 3zm2 1zm-4-2zm-3 1zm0-2zm-2 4zm0 14zm0 4zm2 4zm-1 3zm9 1zm2-5zm2-2zm-5-6zm11 1zm-1-1zm5 0zm1 2zm-2 2zm-6 5zm-32 8zm9 4zm3-11zm-1-1zm0-8zm-2-2zm-1 4zm-19 16zm8 0zm-4 14zm3 10zm-12-2zm-2 5zm15 10zm3-7zm45-17zm-30 49zm-2-19zm-35 22zm-22 7zm-6-6zm16-12zm9-22zm2-6zm-10 0zm-8-14zm-24 0zm-4 39zm11 5zm-2 4zm5 18zm19 49zm19-12zm14-8zm-93-178zm41-148zm18 12zm-11 5zm51-25zm-1-2zm0 15zm-19 19zm6 0zm12 1zm3-3zm-4 5zm13 0zm-4 0zm0-13zm8-5zm10 10zm-3 0zm-8 0zm-2 4zm4-1zm-4 4zm3 7zm3 1zm5 1zm2 0zm8-13zm-5 5zm14 8zm0-2zm0-2zm-3-2zm0-1zm0-1zm-1-3zm1-2zm2 0zm1 3zm-7-6zm-3 2zm-2-5zm6-10zm1 6zm4-2zm1-2zm0-2zm-1-2zm-5-5zm6-5zm1-1zm-1-2zm-5 2zm-2-2zm-3 10zm-7 2zm-7 2zm-1-13zm1 0zm3 5zm-1-15zm0 1zm-3 3zm-3-3zm3-9zm17 4zm-6 4zm15-10zm-4 0zm-20 0zm-10 0zm38 9zm20-2zm4 7zm-7 11zm7-6zm-1 6zm2 1zm2 1zm-7 2zm-6 0zm-8 2zm3-7zm2-1zm-3-3zm-2 1zm-3 1zm-2-3zm-3 6zm-1 3zm2 1zm0 1zm-1 4zm3 6zm3-1zm0-1zm-2-1zm4 2zm3 4zm2 0zm1 2zm-4 1zm-3 0zm-1 2zm-2 0zm1 2zm-3 15zm1-3zm1 0zm0-1zm1-2zm3 6zm4-6zm-1-2zm-4 0zm3-5zm5-1zm6 5zm-2 9zm0-5zm2-1zm8 4zm-2-3zm0-1zm0-13zm-5 0zm-4-2zm1-7zm5 3zm4-5zm3-1zm2 6zm3-2zm5-2zm3 5zm-4-2zm0 8zm-1 1zm-2 0zm-4-4zm0-1zm5 9zm-4 12zm5-5zm2 0zm4-4zm-3 2zm12-6zm-4-4zm-11-20zm29 29z" stroke="#00e800"/>
<path d="M1667 531zm-28 97zm-26-17zm1-24zm-2-2zm17-2zm3 10zm14 1zm6 13zm-10-37zm5-19zm5-17zm2-14zm-18 20zm-14-2zm-4-9zm12-9zm-11 0zm-7 3zm-1-4zm2 23zm-10 5zm5-1zm9 5zm13 5zm-3 6zm-7 10zm-21 1zm-3-10zm-13 3zm-1-14zm-7-3zm9 1zm14 5zm-8-35zm-21 3zm2 2zm4 4zm-15 8zm-2-3zm0-16zm-1-6zm-3 5zm0 2zm-1 0zm0 1zm0 5zm-7-3zm2-6zm3 1zm0-1zm0-4zm-1 0zm-2 1zm-6 5zm-1 1zm2-4zm0-2zm-3-1zm-1 3zm0-3zm-1 7zm-2-1zm0 3zm1 1zm5 1zm-2 4zm-2 1zm5 7zm1-5zm3 1zm1-2zm-2 7zm-5 5zm-1 0zm1-3zm-1 1zm-1 4zm2 6zm-5 3zm7 6zm7-7zm-4 55zm29-26zm4 10zm14 5zm-45 25zm-10 7zm12-3zm-14 12zm54 8zm-62-23zm2 1zm1-24zm4-8zm-15-12zm-4 3zm-6-1zm-4 5zm1 6zm12 2zm-19-3zm-4-1zm4-2zm3-8zm-9 0zm-9 11zm-3 1zm5-5zm-14-9zm-1 17zm-3-13zm1 2zm-3-23zm2 7zm1-2zm1-5zm-2-2zm-5 1zm0-3zm3-2zm1-6zm3-1zm-11 3zm3-1zm0-5zm6-1zm-1-7zm3-11zm2 2zm1 0zm2-3zm2-2zm-2 1zm5 3zm3-2zm1 3zm1 0zm0-2zm0-5zm-3-8zm7 0zm5 7zm-1-5zm1-1zm4-1zm4 3zm-3 1zm0 2zm-3 3zm5-1zm-2 4zm-4 1zm-4 2zm2-5zm-3 1zm-3 2zm3 3zm3 3zm9-3zm-5 4zm-1 0zm-1 7zm6-1zm-6 4zm-1-2zm-1-4zm-1 1zm-1 2zm-4-1zm1 1zm-7-1zm0-1zm4 1zm1-1zm-1-7zm-7 5zm0-1zm-1 1zm-1 0zm2-2zm-6-5zm0 6zm5 3zm1 2zm-1 2zm0 2zm-3 3zm-1 5zm3-3zm0 1zm2 0zm2-5zm0 1zm2 2zm4-1zm-7 3zm0 4zm0 2zm6-2zm1 3zm0 2zm-5-1zm-6 2zm-4-2zm1 4zm5 1zm-4 2zm11 10zm1 0zm1-1zm-5-13zm0 1zm3 2zm7-3zm3 5zm-1 0zm-3-1zm0 6zm-1 3zm5-4zm4 1zm0 5zm3-4zm-1-2zm-1-1zm-4-4zm7-1zm0-4zm-1 0zm1-7zm-3 1zm-8 4zm1 1zm-4-4zm-1-1zm3 0zm2-1zm0-1zm0-5zm6-1zm1 3zm6-3zm4 6zm0-2zm2-2zm4-3zm0 3zm-3 8zm3 0zm3 3zm-1 1zm-3-3zm-9-4zm-2 2zm1 2zm-1 3zm6 4zm-3 5zm-2 3zm5-1zm-2-2zm5 7zm3-2zm0-8zm0 2zm-2-1zm-1 0zm5-4zm1-2zm3 10zm10 1zm-1-9zm-3 1zm4-11zm-2 2zm-3 5zm0-3zm-3 2zm-3-1zm0-3zm1-1zm5-3zm-1-2zm-2 3zm-2 0zm1-3zm1-1zm6 0zm1 2zm-3-12zm3-6zm-1 3zm1 0zm-5 0zm-5-6zm1 7zm4 1zm0 3zm-3 4zm0-1zm-7-1zm1-1zm-4-4zm0 2zm0 1zm2 2zm-7-1zm-1 2zm-1 1zm-2-3zm4-3zm-4-7zm5 1zm6-3zm-1 5zm3 2zm2-1zm-3-5zm-3-9zm-2 5zm-6-1zm5-4zm0-3zm-6-5zm4 3zm6 0zm2 4zm5-7zm4 6zm-3 0zm1-2zm-1 6zm-2 4zm7 0zm-2-6zm6 2zm-1 1zm4 0zm-2 0zm3-5zm-4-3zm0-2zm3 1zm-3-3zm-2-1zm5-5zm-6-9zm1 2zm-6 1zm-2 2zm2 0zm0 1zm-3 3zm5 0zm-1 5zm-3-2zm-1 0zm1 2zm-2-1zm0-1zm-7-2zm3 4zm-1 1zm-5-2zm-3-10zm-2-3zm2 1zm5 2zm0-2zm-1 0zm3 1zm-1 0zm3 2zm2 2zm2-2zm-2-2zm0-4zm-1-3zm-4 2zm-4 0zm-4-4zm3-7zm4 1zm0-2zm3 0zm-2 1zm1 3zm-1 1zm6 0zm0 1zm6-7zm3 1zm-2 4zm-1 1zm-2-1zm1 3zm-2 3zm0 1zm9-1zm-2 0zm2 2zm2 1zm2-2zm0-3zm1 0zm-4-2zm1-5zm3-9zm-4 1zm0-2zm0 4zm-5 3zm-1-2zm-2 1zm-3-3zm4-2zm3 0zm-1 0zm-2-4zm1 1zm-3 1zm-2-1zm2-2zm7-3zm-1 2zm6 3zm1 1zm-2-4zm0-6zm-1 2zm-2-1zm0 1zm2-7zm1 3zm2-6zm0-3zm-3 1zm-2 2zm-11 22zm0 3zm-5 1zm0-2zm-3-2zm-1-1zm-9 13zm-3 8zm-3 5zm2-2zm4-1zm0 3zm-4 7zm1-3zm3 1zm-3 6zm-7-1zm134-192zm-12 2zm2 23zm23-23zm2 8zm13-3zm0-2zm7 0zm-21 14zm-1 15zm22 15zm2 4zm-15 3zm-12-2zm0 5zm4 0zm-29-13zm-8-12zm2 30zm-6-6zm-10 7zm-2 0zm-1 0zm-26 25zm2 0zm3-3zm0-4zm7-11zm0 8zm1-1zm3 1zm0-1zm4-2zm-2-1zm3 5zm1-5zm-2-6zm6-3zm2 2zm-1 0zm4-2zm1-1zm2 2zm4 5zm-6 8zm-2-3zm1 1zm-3 0zm-1 3zm1 2zm2 3zm2-2zm5-1zm3 4zm-5-1zm-2 4zm1 4zm-9-4zm0 3zm0 2zm-3 1zm-2-3zm3-9zm0-2zm-6 1zm-3 4zm-3-5zm-2 7zm3 2zm4-2zm-3 4zm3 1zm-2 5zm2 2zm-7 3zm2 7zm1 1zm3-4zm2 2zm5 1zm0-5zm0-1zm2 0zm-1-2zm1 0zm-2-2zm0 2zm0 1zm0-4zm1 0zm1 0zm0-2zm2 2zm-1 3zm3 0zm1-2zm3-2zm3 0zm5-2zm0 6zm-3 0zm-2-1zm-1 3zm0 3zm6 2zm-6 2zm-8-7zm2 12zm2 3zm2 0zm4-5zm4 4zm-2 0zm-2 0zm-3-2zm1 2zm2 5zm0 4zm-4-1zm-1 0zm-3-3zm0-1zm-1 2zm0 3zm-9-1zm1-4zm3-1zm1-2zm0-3zm0 1zm-2-3zm-3 0zm0 3zm-1 1zm-2 0zm-2 0zm2-3zm-1-3zm-1 2zm-3 1zm2 2zm0 2zm2 3zm-1 2zm1 2zm-2-1zm-3 0zm-1 1zm-2-1zm1-2zm-4 4zm-10-1zm5-3zm2-7zm-3 0zm-1 1zm-3-4zm0-1zm9 5zm6-1zm-3-1zm2-3zm-1-3zm1-5zm-2-1zm1-7zm0 2zm-1 1zm-4-2zm-7 10zm-2 2zm-5 0zm1-5zm2-3zm-10 17zm1-1zm11-4zm-1 2zm0 4zm-4-2zm-1 0zm1 4zm5 4zm-5 2zm-3 0zm-3 0zm1-2zm1-4zm-3 5zm-1 9zm-2 1zm3 1zm-1 1zm1 0zm-3 1zm0 3zm8-4zm7 5zm-3-10zm0 2zm-2-1zm5-3zm1-2zm1 2zm-1 4zm1 0zm1-2zm3 0zm2-5zm7 1zm-4 3zm-2 2zm7 4zm-3 3zm-2-1zm-1 2zm-3-5zm-6 5zm3 5zm4 0zm2-2zm3 0zm3 2zm-4 1zm1 10zm-5 1zm-3-6zm-2 2zm0 2zm-4 1zm0-1zm-2-1zm-3 3zm6-5zm-1-4zm-6-2zm3 0zm-4-2zm-3 0zm-1-1zm-2 0zm-1 5zm1 4zm3-2zm2 1zm1 6zm-3-1zm-2 2zm-1 6zm1 0zm0 1zm2-7zm6 7zm-1 2zm1 1zm0-1zm-2 4zm-4 2zm2-6zm-4 12zm3 6zm-1-1zm5 0zm-1 4zm6-3zm0-7zm-2 2zm2-4zm0 1zm5 2zm-2 0zm3 6zm0-2zm0-1zm6 0zm-2 2zm2 4zm1-1zm-1 0zm3-3zm-5-6zm3 0zm-3-1zm0-2zm6 0zm0-3zm-2 1zm1-2zm-1 0zm2 0zm-1-4zm-5 1zm1 1zm-2 1zm-6 3zm-1 0zm0-3zm1-4zm4 3zm1 0zm1-3zm-3-3zm0 2zm-2-1zm1-1zm2-5zm3 2zm3 5zm4-6zm3 2zm5 3zm0-1zm1-2zm6 3zm-11 5zm-3 1zm0 5zm4 4zm14-35zm1 0zm1 13zm-7-2zm1-2zm0-1zm-6 2zm1 1zm-3 1zm-6 1zm3-2zm-1-2zm2-2zm3-3zm-5 0zm2-4zm1 1zm1-3zm2 1zm3 1zm1 2zm1 1zm-1 1zm1-8zm2-2zm-4 3zm-8-1zm1-5zm2 2zm-2-7zm-4-1zm3-2zm8-1zm4 7zm-1-4zm6 0zm0 1zm2 3zm-3-1zm-2-1zm-1-1zm2 6zm5 4zm4-6zm0-1zm0-2zm-2-3zm6 0zm25 3zm-20 42zm3 4zm5 10zm3 0zm0-13zm5-1zm12 14zm16-82zm-6-3zm-4-2zm9 11zm-23 1zm0 2zm-11 11zm-2-5zm0 5zm-6-1zm-1-6zm1 0zm2-1zm-2-5zm10-7zm-8 2zm-5 2zm-1-1zm3-14zm6 4zm10-4zm3 2zm-7 3zm3 7zm4 0zm8-1zm-5-5zm4-10zm-5 1zm-7-12zm-1 3zm2 2zm-2 1zm-1 5zm1 2zm-5 0zm2-1zm-5-4zm-1 5zm-7 1zm0-4zm-1-2zm3-3zm-2-2zm0-3zm2 0zm2 2zm1-2zm7 4zm0-6zm-3-6zm0 3zm-1 3zm-2-1zm-6-2zm1-1zm4-1zm0-3zm-2-1zm0 1zm-3 0zm0-2zm1 0zm-2-4zm11 0zm-2 6zm1-2zm5-2zm-3 0zm18 10zm0-5zm15 5zm-2 2zm-6 5zm-5 11zm5-4zm7 2zm3 1zm0-14zm9-14zm23 86zm-15 36z" stroke="#f0b000"/>
<path d="M1777 718zm-9-8zm-25-2zm-73 28zm-2-2zm0-9zm2-2zm-3-13zm3-3zm16 0zm7 4zm30-4zm4-11zm-3-14zm-20-5zm-16 20zm-22 4zm11-18zm-7 1zm-3 1zm13 1zm8-6zm-19-25zm-3-3zm21-1zm6 0zm8 6zm15-1zm22 29zm13-13zm21 28zm-97-103zm13 6zm4 33zm-2-22zm-36 21zm-1-6zm-1 2zm-2-7zm1 0zm11 6zm-2-10zm2-9zm-18 1zm-5 3zm-7 2zm1 6zm5 6zm-1 8zm-5-1zm2 3zm-1 0zm-5-1zm1 0zm-2 0zm-3 0zm1-2zm6-3zm0-1zm-1-2zm-2-2zm2-4zm-4 0zm0 7zm-2 0zm-1-5zm0-1zm-3 7zm-4 6zm-4 1zm0-1zm1 0zm1-1zm1-4zm-2 0zm-6 4zm-2 2zm-3-2zm-2-2zm7-3zm0-3zm-2 1zm-2-2zm7 3zm5-2zm-1-9zm-3 2zm-10 0zm3-9zm0-3zm1 0zm1 1zm3-1zm7-1zm5 1zm0 4zm-2 8zm2-1zm2-3zm-1 1zm4-1zm4-7zm-5-11zm0-7zm-4 1zm-5 7zm1 5zm-4-1zm-2-4zm-2 1zm-2 3zm-3 2zm7-11zm3 0zm1 0zm8-9zm3-3zm-1 6zm4-2zm0-2zm-3-6zm6 12zm7 3zm-1 4zm-5 1zm0 7zm19-7zm-16-26zm1-12zm14-33zm-7-5zm2-8zm-12 5zm-17 8zm-10-14zm-5 44zm-23 9zm-2-39zm-3 10zm-14-14zm4 44zm-17 23zm8 14zm39-22zm3 5zm-4 2zm5 6zm-6 0zm-3 10zm-4-3zm2 1zm-5-1zm1-4zm-15-6zm0 12zm2 3zm3 2zm0 7zm-1-1zm7-1zm0 1zm-3 5zm7-9zm-5-3zm5-1zm8 5zm4-3zm3 1zm-5 4zm4 4zm-3 0zm-10 9zm4-4zm5 1zm3-2zm3 4zm-3 2zm-2 1zm-2-3zm5 9zm0-1zm-6 3zm-1-6zm-10 3zm-2 3zm1-5zm4 1zm0-9zm-6-2zm2 4zm-1 1zm-9 3zm0 1zm3 4zm3 0zm-11 0zm1-2zm-5 0zm1 1zm1 1zm-1 2zm-5 0zm-4-4zm5-6zm-5-1zm9-4zm3 3zm0-4zm-3-1zm6-4zm-7-10zm-1 8zm-1 6zm-6-1zm0 2zm-1-12zm-3 18zm-6 5zm0-2zm-4 0zm-1 8zm5 3zm-6 1zm3 4zm7 1zm0 3zm-2-10zm6-2zm3 4zm14-3zm0 5zm-7 0zm2 4zm2-1zm1 4zm1 1zm-3 1zm-6-2zm-1-2zm-3 1zm-1 10zm11-5zm3-1zm1 1zm-1 2zm0 1zm0 2zm1 1zm-4 3zm0-1zm1 2zm2 1zm1 0zm-5 3zm0-1zm-3 1zm0-1zm-5-6zm-4 5zm-2 0zm2-7zm0 1zm-2-1zm-6 1zm-2-7zm-2 3zm-2 6zm4 4zm1 1zm8 4zm1 4zm-5 1zm1 1zm4 0zm1 3zm-3-1zm3 4zm-9-3zm-3 7zm2-2zm0 5zm2 2zm-2-1zm-4 4zm1 4zm1 1zm2-7zm6 1zm1 2zm2-6zm-4 1zm-1-2zm3-4zm10 0zm-1 3zm0 1zm-1 3zm-1 1zm4 6zm0-3zm-1-3zm5 3zm-1 0zm-2-1zm0 3zm3 2zm-1-3zm5 1zm-1-1zm-2-1zm3-5zm-1-1zm-5 0zm1-4zm3-1zm-1 1zm0 1zm3-1zm0-1zm-4-4zm-11 1zm0-1zm3-1zm-3 0zm7-3zm-6-4zm2-2zm-3 1zm2-3zm7 1zm-1 2zm4 3zm3 1zm-1-3zm5-4zm-1 3zm3 1zm-1 2zm3 1zm0-1zm0-2zm1-1zm1-1zm1 0zm5 1zm-1 0zm-4 4zm0-1zm0-2zm0 1zm-2 6zm1 0zm2-1zm4 0zm-2 3zm1 0zm-4 2zm1-2zm-7 2zm2-7zm-3 1zm-2 0zm1 4zm-2 5zm3 0zm-3 4zm1 1zm2 1zm-1 1zm-1 1zm-1 5zm3-2zm2 0zm2 2zm-2-7zm6 0zm-2 3zm-1 2zm1 1zm3-2zm3 2zm0-2zm-2-2zm0-4zm-3-1zm1-3zm-2 1zm0-1zm8 0zm2-1zm1-1zm3 0zm-1 2zm1 0zm-3 0zm1 3zm1 0zm-2 1zm0 1zm-1 0zm0-3zm-1 0zm-1 1zm0-1zm-1 1zm0 1zm0 3zm3 1zm-3 5zm2 0zm2-2zm3-1zm0-1zm-3 0zm2-3zm2 0zm2 0zm0 1zm0 1zm-2 1zm0 2zm6 1zm1 0zm0-3zm0-1zm-3-1zm1-1zm1 0zm0 1zm1 0zm0-4zm-3 2zm-1-5zm-3 0zm0-1zm2 0zm5 1zm0-4zm-2-1zm-4-3zm2 5zm-4-1zm-1-2zm-6 0zm2 0zm1-1zm-2-3zm4 0zm1 2zm0-1zm1-5zm-1 0zm-5 2zm0-2zm1-3zm4 1zm1-2zm1 0zm3 1zm-1 4zm0-1zm3 1zm2 2zm0-1zm-1-2zm-1-4zm1 0zm1 0zm-1-4zm-4 2zm-2-1zm2-1zm1 0zm-1-1zm2-1zm1 1zm1 0zm1 0zm0-1zm0-2zm0-1zm-1-3zm0-2zm0-2zm-1 0zm-4 2zm0 2zm2 0zm-7 1zm2 0zm0-3zm0-1zm-3 9zm2 1zm2 1zm-2 3zm-4-3zm-2 3zm-1-1zm0-1zm-3-3zm-3 1zm2 1zm-3 1zm-1-1zm-1 3zm-3-4zm1-2zm0-1zm4-4zm-7 0zm0-4zm5 2zm2 0zm2 2zm-1 1zm2-1zm2 1zm3 2zm-2-8zm0-1zm1-5zm-4 1zm-1-1zm0 4zm1 0zm-4 1zm-2-1zm-1 2zm-2 0zm0-6zm4 2zm2-3zm0-4zm-7 1zm4-4zm2-1zm4 6zm4-3zm2-1zm5 2zm1 0zm-6 0zm0 1zm2 5zm3 3zm-1-3zm5 1zm0 1zm3 0zm1 1zm1 2zm1-2zm-3-8zm-4-1zm0-2zm7-2zm2 3zm-1 2zm3 2zm-1-3zm5 3zm-1-3zm-2-4zm6 2zm0-2zm5 3zm-2 2zm2-1zm-1 1zm-1 1zm-4-2zm-1 7zm2 0zm1 0zm0-1zm0-2zm3 3zm-6 1zm-1 3zm0-1zm-2-1zm2-3zm-7 1zm1 6zm1 2zm1-1zm4-2zm0 1zm-1 1zm-2 0zm2 5zm-5 0zm0 1zm0 3zm1 4zm0-3zm2 0zm1 1zm0 1zm1 1zm-1-4zm6 0zm-3 4zm3-2zm0-1zm3 0zm0-2zm1-3zm-1 0zm-2-3zm-1 3zm0-7zm2 0zm0 1zm-1 2zm3-1zm1-2zm2 2zm0-2zm-2 9zm1 0zm1-1zm5 1zm2-1zm1 0zm-1 2zm0 3zm1 2zm1-3zm3 3zm0-9zm-1 1zm-5 0zm3-3zm-2-3zm4 0zm-1 0zm3-3zm-3-2zm3 1zm-3-4zm0 2zm-2 0zm-2-2zm1 2zm-3 1zm-3 2zm-1-2zm1 1zm1-4zm3 1zm-3-5zm-1 2zm-2-2zm-1 0zm1-2zm0-1zm7 0zm2 5zm5-4zm-3 0zm8 1zm1 8zm3 0zm1 0zm1 0zm-2-9zm5 0zm4 0zm5-3zm2 2zm0 7zm5 2zm-1 1zm-2 0zm-5 1zm-3-4zm1 14zm1-4zm5 1zm6 6zm-1 3zm-6 1zm-6-6zm-9 7zm-1-4zm0-3zm2 0zm5 0zm-1-1zm-10-2zm-2 3zm4 3zm-2 0zm3 3zm-4-1zm2 6zm-3 4zm1-2zm-1 4zm1 2zm-3 3zm1 0zm10-3zm1-2zm2-2zm1-1zm-2-6zm5 3zm3 4zm0-6zm9-1zm-1 2zm1 2zm1 4zm-8 5zm-2 3zm2 1zm-3 11zm-4-2zm-4 4zm-4-1zm1-3zm-1-1zm6-3zm0-3zm-2-3zm-4 2zm3 2zm-4 0zm-1-3zm-2 0zm-2 2zm0-1zm-1-2zm6 11zm-6 2zm0-1zm-5 2zm1 0zm1-5zm-4 1zm-1 0zm0 3zm-2 2zm-1 0zm-2-3zm-4 2zm5-5zm0 2zm1-1zm0-4zm1-1zm-4 2zm0-5zm3-2zm2 0zm0 6zm0 1zm7-1zm-2-6zm1 1zm1 0zm-4-4zm0-3zm-1 0zm0-2zm5-4zm-3-4zm-1 2zm0-2zm-1 6zm-5-1zm-1 0zm-4-1zm1 1zm-1 4zm0 2zm2 0zm2-2zm3 2zm-5 3zm0-2zm-1 1zm0 1zm-5 0zm1 1zm-1 0zm-3-2zm-1 0zm4-5zm1-2zm0-6zm-1 1zm-2 2zm-2-1zm0 3zm1-1zm1 2zm-3 0zm-1 0zm0-3zm0-3zm-2 0zm-2 0zm-1 0zm-1 4zm0 1zm1-1zm1 0zm0 3zm-1-1zm2 4zm2 0zm1 3zm0 1zm0 1zm-1 0zm-3-2zm-2 5zm0 2zm0 1zm1 2zm2-1zm0-1zm1 0zm2 0zm1-2zm-1 0zm1-2zm1 2zm2-2zm4 2zm-1-1zm1 6zm-1 4zm1 0zm1 0zm0 3zm-3-1zm-1-1zm0-1zm-2 2zm-2 1zm-3-1zm1-2zm1-2zm-1 0zm-2 1zm-1-2zm-2 1zm3 3zm-1 0zm1 2zm-2 0zm1 4zm5 0zm0-1zm-3-1zm2 0zm9 0zm0 1zm-2 0zm-5 6zm1 1zm6 1zm-3 1zm-1 2zm-2 0zm-2 0zm0-3zm-3-2zm0 3zm-2 0zm0-1zm1 0zm-2 7zm2 0zm3 0zm0 2zm0 4zm-2-1zm-1 4zm-2 1zm0-1zm-1 1zm0 3zm4 1zm3-1zm-1-4zm0-2zm4 0zm1 1zm0 1zm-3 5zm5-2zm0 2zm1 0zm-1-9zm-5-4zm1-2zm6 3zm8-3zm-3 5zm1 2zm-5-1zm0 3zm1-1zm-1 3zm4 1zm2 0zm3 3zm4-3zm0-3zm1 0zm-5-3zm0-5zm4-4zm1 0zm0-2zm0-2zm-2-1zm0 1zm-5 6zm-7-2zm6-9zm-2 0zm-1 2zm-3-2zm2 0zm1-1zm-1-1zm-2 1zm0-2zm1-1zm1 0zm1 1zm1 2zm4-3zm3 6zm4-1zm0-4zm7 4zm-4-1zm1 4zm0 7zm1-1zm0-6zm6 0zm2 1zm1-2zm-4-3zm8 1zm11 9zm-11 1zm1 6zm5-3zm3 0zm1-1zm-3 12zm-4 1zm-5-1zm-5 0zm0-2zm-1-2zm6-7zm-4-2zm-3 7zm-3-6zm-3 0zm-1 9zm5-2zm-4 5zm-1-1zm4 9zm-1 1zm-2-1zm8 9zm2 1zm0-4zm6-11zm3 6zm0 3zm-3-1zm-2 10zm13 2zm-1 5zm-28-3zm3 9zm-10-7zm1 6zm-3 1zm0-3zm-1 1zm-5 2zm-1-2zm5-5zm2 0zm-7-3zm2-5zm3 1zm9 6zm-1-10zm0-9zm-3 2zm-6 1zm0-1zm0-5zm-1-1zm-1 1zm1 5zm-5 8zm-1-2zm-2 3zm-1-1zm0 1zm-2-4zm6-3zm1-1zm0-1zm-3 1zm3-7zm-2 0zm-2 0zm-1 1zm-1 4zm2-1zm-5-1zm-1-3zm-5 1zm2 3zm0 1zm0 2zm-2 1zm0 2zm2 1zm5-2zm0 2zm-1 1zm-4 2zm1-2zm-3 0zm0 4zm2 3zm-2 1zm2 0zm3 2zm-1-5zm2 0zm1-1zm2 0zm0 1zm-1 2zm6-3zm-1 2zm-1 3zm1 0zm-3 2zm-2 1zm1 1zm-1 1zm6 0zm-2 2zm2 2zm-1 1zm-4-3zm0 2zm-2 1zm-2-7zm-4 7zm-6-4zm0-2zm2 2zm2 0zm0-2zm0-1zm-1-1zm-2 0zm0-1zm3-2zm-4-3zm-2 6zm-5 0zm0-3zm2 1zm1-2zm-1-1zm-1-1zm0 2zm-2-2zm-2 2zm-1 1zm2 2zm-2 2zm0 2zm0 1zm7-3zm-1 2zm-2 0zm1 5zm-4-2zm-6-3zm-3-2zm1 2zm-4 3zm-1 1zm-2-4zm4-6zm-2 3zm-2 0zm1-5zm-2 0zm0-1zm4 0zm-1 0zm1 1zm6-2zm-2 4zm4 3zm2-2zm-3-8zm3-2zm-2-3zm-3 2zm-2-2zm1 2zm2 4zm-5 1zm0-1zm0-2zm-4 3zm-2 0zm2-4zm3-1zm1 1zm0-3zm0-2zm-2-1zm1 1zm-2-4zm-2 0zm1-1zm4 2zm1 0zm0-3zm3 1zm-2 4zm1 1zm1 0zm3-1zm2 2zm0-4zm2 0zm1-3zm3 1zm2-1zm-2 3zm0-1zm-2 5zm0-2zm-2 1zm0 1zm-1 0zm2 2zm0 5zm2-1zm3-2zm-3-1zm0-2zm7 0zm0 1zm-3 4zm4-9zm-1 2zm-1 1zm1-4zm-2-2zm6 2zm0-2zm-1-1zm1 0zm-3-1zm1-1zm1-1zm-4-5zm-2 3zm-3 1zm0 3zm-1 0zm-1-1zm-3-1zm2-1zm1 0zm0-4zm4-1zm-2-1zm-3 1zm-2 0zm1-1zm-1-3zm0-2zm3-1zm2 1zm0 2zm0-1zm1-1zm2-1zm2 0zm1 0zm-2 2zm-1 1zm0 3zm3 0zm1-2zm1-3zm-1-1zm1 0zm-5-1zm1-3zm1 1zm1-2zm-3 0zm1-2zm-1 0zm0-1zm4 1zm0 2zm0-8zm-1 0zm-1-2zm-1 4zm2-1zm0 3zm-2-1zm-3 1zm0-2zm1 0zm0-3zm-7-1zm2 5zm1 1zm-1 1zm5 0zm-3 2zm3 4zm-2 0zm-5 0zm1 0zm-3 0zm1-1zm-5-2zm-2 0zm0-1zm1 0zm4-2zm0 3zm1-4zm-1 0zm-1-3zm2 1zm1-3zm-2-1zm-1-1zm0 1zm1 1zm-4 0zm-4 3zm-2-5zm-3 4zm3 2zm0 1zm-1 3zm0 1zm0-3zm1 0zm3 0zm1 2zm-2 0zm-1 2zm1 1zm-5 2zm3 1zm-1 3zm-1 0zm0-1zm-1 2zm2 1zm0-1zm3 1zm1 0zm3-2zm1 3zm-1 1zm0 3zm2 1zm-1-3zm3 3zm2 2zm-3 1zm-2-2zm-1 1zm-1-1zm0 3zm-3-7zm-5 2zm0 1zm1 1zm2 0zm-3 3zm-4-1zm2-1zm1-5zm-3 1zm-3 0zm-1-1zm0 3zm3 1zm-2 3zm-8-3zm-1-4zm7 3zm0-4zm-1-1zm-5-2zm2-2zm4-2zm4 3zm2-1zm1-1zm-4-7zm-2-1zm0-1zm2 1zm1 0zm2 0zm-1 1zm3-1zm-3-3zm2-6zm0 1zm-2 0zm-4 4zm1 0zm1 1zm-1 0zm-4 1zm1-5zm-5 1zm1 2zm1 2zm-1 7zm-2-2zm-1 3zm-6-3zm2 1zm-3-2zm7-2zm-2-4zm1-4zm-2-1zm-1 2zm0 3zm-5 1zm-1 1zm-2-5zm-1 3zm4 10zm-2 7zm0-5zm3 0zm2 2zm1-3zm3 0zm2 1zm-3 2zm0 4zm-1-3zm3 4zm1 2zm-1 3zm0 1zm-7-3zm-5 0zm-1 2zm4 6zm-4 2zm5 4zm2 2zm3 2zm2-8zm1-4zm6 2zm9 2zm-5 4zm2 2zm3-3zm2 2zm-2 0zm-1 0zm1 3zm-2 1zm-2-1zm-5 2zm3-3zm-7-2zm1 2zm0 3zm-1 1zm2 1zm-2 6zm2-2zm5 1zm1-5zm2 2zm0-3zm-1 6zm0 1zm-1 0zm6 5zm-7 2zm-2 0zm0-1zm-10-1zm0-2zm-2-1zm4 0zm-1 1zm3 0zm-2-4zm-1-3zm-2-1zm1-1zm-2 0zm1 3zm-8-2zm-1 2zm5 7zm1 4zm-7 0zm15 2zm-1 6zm-1-1zm-1 0zm3 8zm0 1zm-4-1zm-4-1zm-2-4zm-1 1zm3 8zm-2 2zm2 8zm2-3zm0 1zm-1 2zm5 3zm-5-11zm5-3zm1 1zm6-1zm1 5zm-2 0zm-1-1zm2 7zm7-3zm-3-8zm5 1zm-1-4zm0-5zm-4 0zm1 3zm2 3zm-5-3zm-6-2zm6-1zm1-1zm-2-3zm-2 2zm0-6zm1 1zm3 0zm3-1zm-1 1zm1 5zm0-2zm2 2zm1-1zm2-4zm1 0zm3 5zm0-1zm-1-1zm-1 3zm2 0zm-3 6zm5 0zm4-6zm-1 3zm0 3zm2-1zm2-3zm2-2zm-5-5zm1-2zm6-1zm1 0zm2 2zm-1 1zm-1-1zm-1 4zm4-5zm4 0zm2 5zm-2-1zm3 6zm0 3zm-6-1zm1 0zm1-5zm-2 9zm6 1zm0-2zm2 1zm-3 3zm-1 2zm2 3zm-5 2zm-1-2zm-1 2zm-2-3zm-2 0zm2 5zm-6-1zm2-12zm-4 1zm0 5zm0 1zm-5 0zm0-1zm2-2zm0-3zm-2 1zm1 9zm-2-1zm3 2zm-5 11zm2 2zm5 0zm9-7zm-1 3zm5-1zm9-4zm-4 14zm-4 8zm5-5zm-1 7zm-2 6zm-12-10zm-25 0zm8-3zm2-14zm-6 4zm-2 7zm-9-8zm-5-2zm-4 0zm-2 2zm1 0zm0 7zm11 7zm51-11zm12-7zm9 0zm-5 7zm7-14zm2-11zm-9 11zm4 1zm-19-6zm-1 0zm8-4zm-1 3zm7 0zm-6-13zm-1 1zm0 4zm3-1zm-11 0zm0-3zm2-1zm2 2zm3 1zm-3-7zm-1 3zm-2-2zm2-3zm-3-2zm5 0zm2 0zm4 1zm1 4zm1-2zm9 1zm-4 7zm-2 4zm5-1zm6-11zm5 0zm9-2zm2 14zm-6-4zm0 6zm0 6zm13-17zm-135 27zm2 4zm7-17zm0-2zm3 1zm7 2zm0-2zm0-3zm-4-1zm5-8zm-3-1zm2-1zm-11 2zm-8 0zm3 13zm-40 5zm22 7zm-55 23zm-3-22zm23-4zm-9-5zm-13-1zm3 0zm-17 23zm-2 8zm-1 3zm-4-8zm5 18zm19 4zm-77-187zm96 24zm-22 85zm23-5zm3-11zm8-29zm19-1zm-1-2zm5 16zm-12 0zm-10-5zm9 36zm10-9zm18-14zm1 0zm-4 5zm-3 7zm-1 4zm2 4zm9 3zm5 0zm3 1zm6 5zm-2-8zm0-1zm-1-3zm-1 0zm0-2zm1 0zm3-4zm2-3zm-7 6zm-2-1zm-6 0zm0-2zm4-1zm1-7zm-4 1zm0-3zm8 4zm6-2zm0-2zm-2-8zm0-5zm-5-1zm2 0zm-8 4zm-6 4zm-12-1zm0-2zm6-4zm-2-3zm9 4zm2 1zm-10-21zm17 1zm1 3zm-1 1zm9 0zm-1-2zm-2 2zm-4-1zm0-4zm4-6zm-2 2zm-4-7zm2-6zm0 4zm4 1zm-3-11zm4-11zm-5 0zm1 2zm0 5zm-7 2zm3 3zm-7-12zm-2 3zm-6 0zm-5-3zm1 13zm5 5zm4 0zm3 6zm-3 7zm-12-3zm-7 3zm-3-10zm-1 4zm-7 3zm-7-9zm22-13zm1-8zm18-25zm-15 17zm14 2zm-4-2zm6 8zm15 0zm-1-6zm0-3zm-3 2zm-1 0zm-1-4zm6-5zm-3-6zm1 2zm-1 1zm-6-3zm2-4zm5-10zm1-1zm-23-4zm-2-1zm-5 1zm20-36zm2 1zm2-15zm-16 6zm5-1zm-8 1zm0 1zm-1 1zm2 1zm4 4zm1 5zm0-1zm-13-10zm-18-5zm2 19zm1 23zm7 0zm0-3zm-5-2zm1 10zm13-4zm-1 1zm-16 9zm1-7zm-23-15zm-7 6zm-14-10zm92-33zm19-72zm4-10zm50 1zm14 16zm1-16z" stroke="#c0001c"/>
<path d="M1412 910zm-1-9zm-1-4zm78-129zm-8 13zm-1-10zm-5 0zm-1 12zm1 8zm0 17zm-22 16zm-5-4zm-6 3zm2-7zm12-4zm-1-1zm-2 0zm-3 0zm-1 3zm-3-2zm-3-7zm1 0zm0-1zm-2-4zm1 0zm3 2zm5-1zm4 3zm1 0zm0-1zm-3-2zm11 4zm0 10zm5-11zm-3-1zm-1-2zm0-4zm2 1zm-10-5zm7-2zm-3-1zm-2 1zm-1-2zm-1 0zm2-3zm6-1zm2-1zm-2 3zm3 2zm3-9zm-6 2zm1 0zm1-2zm1-2zm-2-1zm4 2zm2-8zm-2-3zm-8 6zm-5-4zm0 5zm4 3zm3 3zm-1 0zm-4-1zm-2 1zm-4-3zm-1-9zm-4 4zm1 14zm5-3zm1 0zm1 6zm0 1zm-6 0zm0 2zm2-1zm1 0zm0 1zm2 0zm-1 6zm-5-2zm0 2zm-4-3zm-2-3zm1 4zm-13-1zm-1 0zm4-6zm4-18zm-25 33zm23-1zm2 15zm0 7zm-16 5zm-7-1zm8 5zm1 11zm-14 6zm0 6zm0 5zm3-4zm5 3zm3-3zm10 3zm3-3zm-1-18zm-6-2zm-1-4zm40 1zm-24 29zm-13 9zm-11 5zm2-4zm-7-7zm-4-1zm0 5zm3 3zm0 4zm0-1zm-3 0zm0 8zm10 3zm-5 5zm-1-1zm1-1zm-2-2zm-3 2zm-1 2zm-1 0zm0 1zm-2-3zm2 0zm-2-3zm0 2zm-1-1zm-1 4zm-5-2zm-1 0zm-1-4zm1 1zm3 2zm-2-4zm-5-2zm8-4zm3-1zm-1 5zm3 0zm1 2zm0-5zm1-1zm-2-2zm-5-3zm0-4zm6-2zm0 1zm-1-1zm2-6zm-2 2zm-2 1zm-2 2zm2-1zm-7 3zm1-4zm-4-2zm0 1zm0 1zm1 4zm-2 2zm1 2zm0-1zm3-1zm3 1zm0 2zm-1 1zm-3 1zm-2-2zm-2 0zm-5 2zm4-10zm-3 1zm-7 2zm-1-5zm-2 9zm5 3zm-1 1zm0-1zm-4-1zm2 3zm3 4zm1-1zm7 1zm-3 3zm3 2zm1 2zm0 2zm-3 1zm-17 0zm0-4zm-2-2zm4 3zm1-1zm1-2zm-2-1zm2-7zm-3 0zm-3 4zm2 1zm-5-3zm-3 5zm0 3zm-4-10zm5-13zm3 2zm-4 0zm0 6zm-3 0zm3 3zm0-2zm2 1zm4-4zm2 0zm-3 6zm5-3zm0-2zm1-4zm1 0zm-2-2zm-2-3zm1 2zm2 0zm-1-8zm13-13zm-6 5zm-1 3zm-3 6zm3 2zm2 0zm2 0zm-3-6zm4 3zm6 2zm1-8zm-4 1zm8-4zm4 2zm0 1zm-7 1zm1 6zm3-2zm6 0zm2 3zm1 2zm-1-8zm2-4zm-3-7zm-3 3zm-2-5zm8-6zm-49 66zm14 11zm3 0zm1-3zm0-5zm-4-1zm-2 6zm-1 1zm-7-6zm4-1zm1 3zm-1-11zm5 3zm-2-1zm5 5zm1-3zm6-2zm0 5zm-1 4zm-2 0zm-1-1zm3 2zm4 1zm3-5zm1 2zm-3 1zm1 1zm4 2zm2 1zm-3-5zm-1-5zm-1-2zm-2 0zm9-1zm4 4zm1-1zm5 0zm-2 6zm3 2zm-4 1zm-4-1zm3-3zm-5 0zm-2 5zm3 2zm-6 3zm-2 0zm-5 2zm1-3zm-5 0zm-1 4zm74-168zm1 14zm1-2zm2-7zm12 4zm-2 5zm4 2zm2-4zm-5-7zm5-2zm-14-16zm30-2zm-15 13zm1-1zm0 12zm1 0zm5 5zm1-2zm1-11zm18-7z" stroke="#303030"/>
<path d="M1633 558zm-21-27zm2 9zm-18-24zm-12 2zm-17-5zm-15 10zm-183 132zm22-5zm65-9zm53-57zm-4 6zm-3 13zm-8-8zm-4-12zm-8 4zm1-11zm-4 1zm3 20zm12 13zm-4 9zm-18 20zm-29-26zm4 20zm-17 4zm-20-4zm5-10zm-6 0zm11-13zm8 1zm10-7zm62-77zm-2 2zm5 0zm-1 2zm1 4zm-20 39zm2-1zm0-2zm-1 0zm5 2zm1-1zm3 2zm8-20zm14-4zm-9 12zm7-2zm12-10zm-5-11zm7 4zm-23-6zm5-3zm-4-5zm3 1zm2 1zm1-1zm0-1zm1-1zm3 3zm2-3zm2-4zm-3-3zm-1 1zm-2-2zm-2 7zm-2 0zm-4-1zm2-7zm4-4zm1-3zm0 1zm2 2zm0 3zm2-2zm2 1zm1-1zm0-1zm0-1zm-3 1zm0-1zm7 1zm0-1zm0-1zm-1 3zm-1 0zm4 9zm9 0zm-6-13zm6-14zm-3 1zm-2-3zm-4 5zm-1-1zm-7 7zm-2 3zm-3 1zm-1-20zm4-9zm11 7zm4 0zm1 2zm-2 0zm-1 3zm2-1zm1-1zm2-2zm1-1zm0-3zm1-2zm-3 0zm-1 2zm-6-21zm1 1zm2-2zm1 0zm-1 2zm7 1zm-3-3zm2 0zm-2-4zm-2 3zm-1-3zm-2-1zm-35 51zm136-160zm22-6zm-1 3zm-3 4zm1-1zm-3-1zm0 1zm1 0zm-3 1zm1-2zm0-1zm-2-2zm4-2zm1 2zm-12 0zm5 1zm-2 4zm0-1zm-1 1zm-3 2zm-1 2zm3 0zm3 1zm0 1zm-2 1zm-1 7zm7-4zm-2 4zm2 2zm1 0zm4-11zm-5-2zm3-1zm9-1zm3 6zm4 6zm2 3zm-11-1zm3-5zm-4 6zm-1 0zm-1 0zm0 8zm0-1zm2 1zm2 0zm1-1zm0 1zm1-2zm3-5zm1 0zm1 1zm3-1zm-1 4zm1 1zm-7 0zm0 4zm2 2zm2-2zm0 1zm0 2zm3 3zm-4 0zm-1 0zm1-1zm-1-1zm-5 2zm2-7zm-5 4zm-1 2zm-2 1zm0-1zm-5 1zm0-2zm-2-2zm5-1zm2-1zm0-3zm-3-2zm2 1zm0-4zm-5 3zm-4 1zm0-1zm2-2zm-1-2zm-2 2zm1 0zm0 1zm-2-2zm-2 0zm-1 1zm2 3zm-1 2zm-1 2zm2 1zm2 3zm-4 0zm-2-2zm1-2zm-2 2zm-2 0zm-2-1zm1 2zm0 1zm-3-4zm-1-1zm-1-4zm5 3zm3-3zm2 3zm-1-4zm-1-2zm-1-8zm2-3zm-2-2zm2-1zm-6 0zm-3-3zm-10 27zm3-2zm-55 38zm20-16zm11-13zm9 24zm-1 3zm-3 2zm-4 0zm-12 16zm1-2zm0 1zm3-1zm8-6zm-1-5zm7-1zm-1 2zm1 1zm-1 3zm-2-1zm-5 9zm2-2zm-3-3zm-4 1zm2 1zm1 0zm0 3zm-3-1zm0 2zm1 1zm0 2zm-1 1zm7-2zm-1 0zm-1-1zm-1-1zm6 4zm-10 4zm-2 6zm-2 0zm-1 0zm-1 1zm-2 0zm1-6zm0-1zm2 0zm2 2zm1 1zm1-4zm-2 0zm-1-2zm1-4zm-1 0zm-5 6zm-4 0zm-3 3zm5-2zm0 3zm-1 2zm3-1zm-9-2zm-5 5zm-4-1zm2-5zm-10-2zm-12 10zm1 9zm-1 2zm5 3zm1-1zm0-4zm2-2zm2 1zm0 5zm0-1zm1 0zm0 2zm2-6zm-1-3zm8 0zm2 0zm0-4zm-2-2zm5 3zm3-2zm0-1zm1 1zm-2 3zm3 1zm-4 2zm-1-1zm-1 1zm5 3zm-8 4zm-2-4zm1 0zm-2 0zm-3 2zm2 4zm1 1zm-3 5zm1 0zm1 1zm1-1zm1-6zm5 2zm1 1zm2-1zm2 3zm-4 2zm-1 2zm2 1zm0-1zm2-1zm2 2zm-2 2zm-3 3zm-6-1zm1-2zm2-2zm-2-1zm-1 2zm-4 1zm3 0zm-3 2zm-1 1zm-6-1zm0-6zm3 1zm1-4zm0-1zm1 1zm1 0zm0-2zm-1-2zm-2 1zm-2-2zm-1 6zm-2 1zm0-1zm-3 1zm0-3zm2 1zm1-5zm-4 3zm-3 0zm1 4zm-1 2zm2 0zm4-1zm-5 13zm0 1zm1-2zm3 1zm0 2zm2-2zm-1-1zm1-1zm0-1zm-1 0zm2-2zm0 1zm0 4zm5 3zm-6 7zm0-1zm-1-3zm-2-2zm-1 0zm-2 4zm11 4zm8-1zm-1 7zm0 6zm-1-15zm5-8zm-1-2zm-6-1zm1-2zm4-1zm4 0zm1 0zm5 2zm1-1zm0 4zm1 6zm27 14zm-4-22zm-6-7zm-16-2zm-1-6zm1 1zm-2-3zm2-12zm-2-2zm4-2zm10 0zm66-13zm1-13zm-17 7zm0 3zm1 3zm10-3zm-6 13zm2-2zm-8 2zm-6-3zm6-9zm-8 3zm-9-12zm-13-7zm3-2zm15 6zm0 1zm-13-12zm-1-9zm-3-4zm15-4zm13 1zm-2-4zm3-4zm-7-4zm4 0zm1 1zm-1 0zm9 5zm2-3zm-3-3zm7 0zm1 1zm3 2zm-3 2zm2 1zm-5-1zm-1 3zm1 0zm-3 3zm-1-2zm5 15zm15-15zm-6 3zm-3-4zm1 0zm3 0zm2-4zm-6 3zm0-1zm1 0zm-1-1zm1-4zm5 0zm3 0zm2-1zm0 2zm-2 1zm0-1zm1 3zm3-4zm2-1zm7-4zm-5-2zm0-2zm1 0zm-1-2zm2-1zm0-5zm1 0zm2-4zm-5-1zm-1-1zm4-2z" stroke="#0a6030"/>
<path d="M1553 515zm-5 10zm-11 9zm-73 16zm13-10zm-2 7zm4 6zm15-4zm9-2zm13 13zm5-7zm-10-19zm22-21zm-1-8zm-22 5zm-2-1zm13-16zm6-25zm8-13zm-50 56zm159-199zm-11 7zm-13-4zm-11 23zm38-17zm-34 49zm-2 11zm-21-5zm-23 35zm20-20zm4-5zm3 7zm-1 8zm-21 11zm27 7zm0 7zm-13 11zm10 0zm3 4zm-52 17zm-6 18zm24 18zm-7-8zm-3 0zm31-14zm-8-8zm1-16zm23 3zm10 3zm-3-4zm4-2zm4 1zm2 6zm7-4zm-2 8zm-4-1zm13-4zm3-6zm1 3zm24-3zm-9-7zm0-9zm2-9zm-5-6zm-1 7zm3 7zm-6 0zm-4-1zm-1-4zm2-2zm0-8zm-2 1zm2 3zm0 2zm-5 1zm0-2zm0-5zm-3 2zm0-2zm1 9zm-1 4zm-2 9zm2 0zm2-1zm2 2zm0-4zm3 0zm4-1zm-2 3zm3 8zm-6-1zm0 2zm-2-5zm-2-1zm-9 6zm-1-4zm3-4zm0-2zm1 1zm0-3zm-3 0zm-1 2zm-3 2zm-2 1zm0-2zm1-2zm-3 4zm-3 4zm2-2zm3 3zm-1 2zm-1 1zm-1-1zm-3 1zm-2-4zm-2-1zm-2-2zm-1 1zm-3-4zm-1 0zm0 2zm-1 0zm-2-6zm4 0zm1 1zm2-1zm0 2zm2 3zm4-2zm1-9zm-5 2zm1 2zm-3 0zm-4-3zm-4 1zm5-9zm2-4zm3 2zm-1 3zm-1 1zm3 0zm4-3zm-1 0zm8-1zm-3 4zm-2 0zm2 9zm4-2zm-1 0zm0-2zm2 1zm6 2zm-1-10zm-4 1zm-1-3zm5 0zm2 0zm-5-3zm1-5zm1-3zm2-3zm1-1zm-1-1zm-1-1zm-2-1zm-2 2zm-1 1zm1 2zm-2 0zm-1-2zm1-1zm-3 6zm2 1zm0 1zm0 5zm-13-2zm-9 2zm0-1zm2-2zm5-5zm-1-2zm-5-3zm3 1zm4 4zm4 0zm1-10zm-3-5zm-1 0zm0 4zm1 2zm3-9zm0-2zm7 4zm-4-2zm2 3zm-2 5zm2 1zm1-2zm1 3zm3-1zm-2-4zm5-2zm-1 4zm6 3zm-5-9zm17 8zm0-2zm-6 3zm0-1zm-5-3zm2 4zm-1 0zm0 3zm2 1zm3-2zm-1 3zm-5 7zm0 1zm0 1zm6 1zm-2-4zm7 3zm2 0zm2-1zm-3-3zm-3-6zm-1 0zm4-2zm0 1zm4 11zm6-1zm-2-1zm1-3zm2 1zm9-73z" stroke="#f060c8"/>
<path d="M1677 660zm2-17zm10 12zm12-8zm4-3zm-1 2zm-3 7zm1-3zm-4 1zm9 10zm-1-5zm12-7zm-1-7zm9 4zm0-2zm5 8zm14-5zm4 2zm20-40zm-6 1zm2 14zm-8 10zm-12-4zm2 2zm-18 3zm6-2zm-3-8zm17-2zm9-8zm-10-14zm3 0zm0 6zm-20 0zm1-10zm7-2zm-6-7zm30 19zm3 0zm1 0zm-82-38zm-15 2zm4 18zm-2 14zm7-7zm-7 2zm2-2zm12-2zm8 11zm0-8zm-5-11zm-5 4zm-4-2zm13-9zm10 1zm2 11zm0 6zm-5-1zm-2 0zm3 4zm2 14zm-5 0zm29 13zm-1 8zm-7-3zm-14-3zm-5-1zm-17 4zm0-1zm5-2zm7-2zm-13-7zm-8-11zm-2 16zm-23 4zm11-12zm2 1zm-14-10zm0 2zm4 7zm2-1zm-9 3zm2-5zm-9 12zm7 2zm-5 0zm-36-4zm7-6zm11-4zm-3 4zm-2 1zm-5-17zm1 1zm-1-6zm4-12zm2 5zm1 0zm5-6zm21 1zm-10 0zm0 17zm1 5zm9-7zm-4-1zm0-5zm15 2zm-4-12zm3-2zm-7 1zm-49 23zm48 39zm14 5z" stroke="#00a800"/>
<path d="M1793 631zm9 7zm-4-1zm-2-3zm-2 9zm5-1zm-2 1zm-1-1zm-2 7zm1 1zm-3 0zm2 2zm2-3zm-3 10zm-35-16zm-2 2zm3 1zm-7 2zm3 2zm2-1zm2 3zm25 15zm0-1zm6-5zm-5-5zm-1 0zm1 3zm-1 0zm1 1zm2 0zm-2 3zm-3 0zm-1-2zm-1 0zm2-2zm-1 0zm-2-2zm-2-1zm0 6zm-1 0zm4 5zm-7-2zm0-1zm-4 0zm-2-8zm4 1zm0 4zm2 0zm2 1zm0-2zm-3-2zm2-2zm0-1zm-1 0zm0-3zm1-1zm-1-3zm-1 3zm-4 2zm2-1zm0 2zm-1 1zm-4-3zm-4 3zm1-5zm0 1zm5-1zm0-2zm-3-3zm-1 0zm-2-2zm3 0zm1 0zm2-2zm1 4zm3 1zm0-1zm3 1zm0-1zm-2-3zm4-1zm0 2zm3-1zm1-1zm0 1zm-1 4zm-1-1zm-1 1zm2 2zm0 3zm-3 1zm2 2zm3 0zm2 0zm1-6zm2 1zm-1 6zm1-3zm2 0zm3 0zm-2-2zm2-3zm-5-1zm-1-2zm1-2zm5-1zm-1-1zm-2-4zm2 1zm-3-3zm-3 2zm1 0zm1 1zm1 2zm-6-2zm-3 2zm-2-1zm1-2zm3-2zm2-1zm1-5zm-1 1zm-3 1zm-2-2zm2-3zm2 0zm2 2zm4-1zm0 1zm-3-1zm1 3zm-1 2zm3-3zm1 3zm2 0zm1 0zm-26-1zm4-6zm2 2zm4 5zm-4 0zm-2-2zm-1-1zm1 4zm2 1zm2-1zm2 2zm-8-1zm-5 2zm-2 2zm2 0zm-1 2zm-3-2zm-4 1zm-13-111zm-18 44zm3-55zm-28 20zm-17-16zm-8 9zm-4 55zm46-6zm4 7zm-57-64zm-17 18zm54-40z" stroke="#f07858"/>
<path d="M1378 652zm43-9zm14-3zm1 7zm73-16zm-4-4zm2-2zm4-4zm-5-3zm2-38zm3 15zm-4 12zm-6-7zm0-20zm-16 5zm-12 9zm28 17zm-7 11zm-3 2zm-1 2zm3-1zm5-1zm4 0zm1 3zm-2 1zm1 1zm-10 5zm-3 0zm-17 1zm6 0zm-23-44zm57-16z" stroke="#4b2d73"/>
<path d="M1633 610zm-24-5zm15-24zm14-21zm-54 14zm12-18zm-58 41zm19-6zm41-1zm-10 17zm-2 1zm-12 25zm-171-16zm-6 9zm8 0zm-4 9zm2-2zm1 4zm-1 0zm-7 2zm3-6zm-5 1zm-2 2zm2 2zm-1 0zm-6-5zm-4 6zm-11 20zm-2-2zm-4 0zm-2 1zm-3-1zm-1-1zm0 2zm-6 0zm-2 3zm5-2zm0-1zm0-1zm1-2zm1-2zm3-2zm-2 4zm3-2zm3-1zm1 0zm0-1zm-3 0zm6-1zm-1 3zm-1 0zm2 2zm1-1zm1-5zm2-4zm-1 1zm-2 1zm8-6zm-1 5zm11-2zm-1 3zm-1 3zm3 3zm-2 1zm-1 1zm0-2zm-3 2zm-2-4zm-1-2zm-3 0zm0 6zm3 2zm0-1zm4 2zm13-2zm8-5zm1-2zm-4-1zm-8 5zm0-5zm3-1zm1-3zm-6 2zm-1-1zm5-5zm3 1zm1 6zm1 0zm1-3zm2 3zm2-3zm-3-3zm7 4zm0-1zm4 2zm0-1zm-3-4zm9 2zm-1 0zm-1 3zm-1 5zm1-3zm0 5zm-4 0zm-2-4zm-1 1zm-4 1zm5 5zm23-8zm-11 0zm-1-1zm1-2zm4-3zm3 4zm6-5zm8-1zm-2 3zm-1 1zm12 2zm-3 0zm-3-5zm1-1zm1 1zm4-1zm4 0zm-1 4zm10-4zm1 1zm-11 8zm64-19zm-14-2zm-3 0zm2-4zm1 1zm3-4zm-6 0zm2-2zm-1-3zm5 1zm-3-4zm-3-4zm5-1zm3 0zm2 5zm4 0zm0-4zm1 2zm7-35zm-7 13zm-3-1zm-3 3zm0-2zm-1-2zm2-2zm1-1zm-2-8zm-2 4zm3 2zm-5-1zm-3-2zm-3-3zm0 5zm3 1zm-2 5zm2-2zm3 2zm-3 5zm-1 3zm-1-1zm0 2zm3 0zm0-1zm7-3zm2 4zm1 3zm-5 0zm2 3zm-1-1zm4 2zm-9-3zm-2 0zm0 4zm-1 1zm1 1zm-4-5zm-1-1zm-1 3zm-2 2zm-3 1zm-1-4zm-1-1zm1-5zm-6 3zm2-4zm-2 0zm-1-2zm9-1zm2 0zm4 4zm0-5zm-1-2zm-2-1zm-2 0zm4-8zm-4-3zm0 5zm-5-1zm-3 7zm-2 2zm-1-2zm-1 0zm-1 0zm-1 2zm0-3zm2-11zm-1 2zm-5 1zm0 4zm-7-2zm-1 3zm3 2zm-1-1zm4-1zm-1 2zm-1 0zm-1 5zm-3 2zm2 2zm-1 1zm4 2zm6 1zm-1 3zm4 1zm-2-1zm0 3zm2 0zm-7 1zm-7-2zm3 0zm-1 4zm2 2zm1 3zm-2 8zm6-4zm6 5zm-7-8zm1-1zm3-4zm7-1zm-1 7zm3-1zm1-5zm1 0zm5 0zm1 2zm0 1zm1 1zm-4 2zm1-2zm-3 4zm2 2zm2-2zm3 0zm-3 3zm1 2zm-7-2zm1 0zm-4-1zm-1-1zm1 5zm0 5zm3 3zm7-7zm-1 2zm-6 9zm0-2zm-2 0zm-5 4zm-6 1zm0-4zm2-2zm4 0zm-2-3zm-1-1zm0-3zm-1 5zm-1 1zm-8 2zm-6 6zm1-5zm-3 1zm0-1zm-6 4zm-4 0zm0-5zm4 2zm-3-4zm3-6zm3 1zm1-1zm2-1zm1 1zm0 2zm3 2zm-6-8zm0-2zm7 0zm-2-11zm-3 2zm-1 2zm-4 1zm0-5zm-2 0zm0 4zm-1 3zm5 5zm-5 1zm-3-5zm-2-4zm-3-1zm-2 2zm-3-1zm-4-1zm2 8zm4-1zm-3 0zm-2 2zm-2 8zm6 3zm6-6zm1-1zm0 7zm0-1zm-5-2zm2 4zm5 0zm-5 6zm-2-1zm1 1zm-3-5zm-6-1zm0 4zm-5 2zm-2-2zm3-1zm3-2zm-2-8zm-9 0zm-4 1zm0 5zm2 2zm2 1zm1 3zm-12 2zm-7-5zm2-1zm2-3zm-5 0zm0-4zm7 0zm0 1zm1 2zm2-1zm1 1zm1-6zm2-7zm-9 5zm-1 0zm4-7zm4-2zm0 3zm1-5zm2 1zm3 0zm-1-3zm2 5zm-1 0zm-1 0zm-2 1zm1 1zm1 2zm2 3zm1 2zm-1-3zm1-3zm6 3zm2-3zm1-4zm-2 0zm2-7zm-6-3zm1 0zm6-1zm-1-7zm-5 5zm-3 4zm22-14zm-2 2zm-5 2zm2 5zm-4-1zm-2-1zm0 3zm1 7zm2 1zm2-3zm1-2zm-3-2zm6 1zm-2 6zm5-2zm-2-9zm-1-3zm2 2zm3-1zm0-1zm8 1zm-1 1zm-2 3zm-2 3zm-1 3zm6-1zm-3-3zm4 0zm3 1zm-2 3zm0 3zm3-2zm2-2zm-2 0zm-1-5zm1-9zm-1-3zm-2-2zm-2 6zm-2 0zm-3 0zm-2 0zm3-6zm1 3zm2-7zm4 3zm5-2zm-5-7zm29 0zm3 1zm5-2zm13-17zm-10 19zm9 0zm13-27z" stroke="#f06a00"/>
<path d="M1621 633zm1 4zm-6-33zm-30 12zm-38 37zm-8 27zm53 10zm-7-14zm24-8zm8 26zm6-6zm-8-1zm-2-4zm-6-4zm5 24zm34 52zm-35-12zm-34 23zm20-49zm-14-1zm-10 5zm0 7zm-31-3zm4 10zm4 11zm-2-8zm42 37zm-3 6zm-3 31zm-22 16zm-45-56zm-1-4zm-5 1zm0 1zm1 0zm-1 1zm-4 3zm-2-1zm5 4zm-8-57zm0 11zm-4 4zm-12 26zm-1-5zm-3-3zm4 2zm-1-3zm2 2zm2-1zm1-1zm1 3zm-1 3zm0-2zm11 5zm1-3zm-2 0zm-4-1zm1-2zm-2-3zm2 1zm3 1zm-1-3zm2-4zm-6-1zm2 2zm-3 3zm-1 0zm1-2zm-3 0zm0 2zm-1-5zm0-1zm2 2zm1-5zm-1-2zm-2 2zm0-4zm8 0zm2 4zm1-1zm0-5zm10 11zm-2 2zm-5 4zm1 6zm-2-1zm2 5zm3 0zm-1-2zm21-17zm-15-13zm-8 0zm-1 0zm1-4zm6-1zm0 1zm1 0zm5-3zm-3-9zm10-6zm3-20zm-6-2z" stroke="#686868"/>
<path d="M1401 634zm-12 2zm-16 18zm2-5zm0-7zm6 5zm7 3zm-6 0zm18-1zm-8 4zm1-7zm14-1zm-2-2zm0-3zm13 0zm10 4zm-4 3zm19-7zm-3 11zm19-7zm53-34zm1-26zm-7 0zm-2 12zm4 0zm-9 5zm-5 0zm1-6zm7-11zm-23-5zm-7 4zm6 18zm7 18zm10 1zm-5 10zm9-5zm-29 11zm-1-16zm-1-9zm-4 4zm-1-7zm-12 1zm-4 2zm-3 16zm6 3zm-28 4zm8-14zm2-14zm20-10zm-1 3zm6-6zm3 11zm9-20zm-10 0zm15-11z" stroke="#b85000"/>
<path d="M1649 316zm-16-4zm-6 2zm-16 6zm4 8zm-5 13zm13 1zm-1 8zm8-3zm0-5zm-4-6zm-8-5zm-1-11zm14 1zm5 0zm5 4zm7-3zm8 6zm6 6zm-9-6zm-5 12zm14 2zm-26-1zm0-3zm-3 0zm18 14zm4 0zm1 2zm-37 20zm-3-4zm11-17zm-8 3zm-1 7zm-3-5zm-2 0zm-13 0zm3 21zm-9-2z" stroke="#b00078"/>
<path d="M1658 315zm-23-4zm2 5zm-7-1zm-12 1zm-1-2zm2-2zm-15 35zm11 2zm8 0zm6-9zm-2-8zm-3 2zm3-8zm15-2zm7-3zm0 20zm11-4zm-2 14zm-25-11zm0 7zm10 5zm-27 21zm7-3zm8-10zm-13-7zm-7 14zm-1-1zm4-14zm-3 5zm-20-3z" stroke="#b00078"/>
<path d="M1800 655zm-33 70zm-4 10zm-12-15zm2 4zm-1-20zm-8 0zm1 7zm4 3zm-11 3zm5-3zm-11-7zm-4 3zm4 4zm-2 2zm2 11zm3-1zm-2-5zm-56-5zm-9-9zm6-2zm2 0zm5-1zm3 9zm26-5zm14 23zm1-7zm-5 2zm-6-19zm5-2zm3 1zm0 2zm1 0zm1 1zm0 2zm-4-13zm-1 4zm-7-6zm2 1zm0-2zm-2-2zm6-3zm1 1zm1-2zm6-4zm-3-3zm1 0zm2 1zm-1-4zm-3-3zm-6 2zm-4 0zm2 9zm0-3zm-6 1zm-3 1zm1-4zm-2 0zm6 0zm0-5zm-3 1zm-5-3zm-2-3zm-3 2zm2 2zm0 1zm-2 2zm0-1zm-1 5zm4-3zm-3 5zm-1 6zm2 1zm2 0zm0 1zm2 1zm2-6zm3 7zm-2-3zm-7 10zm1 1zm-7-1zm0-7zm0-1zm-1-4zm-2 1zm-1 0zm-1-3zm-7 15zm-1-1zm-4-1zm-9 2zm-1 0zm2-7zm4 3zm2-4zm1-3zm5 3zm-1-3zm0-9zm-5-3zm-5 2zm2-1zm-3-9zm4 3zm8 4zm8-7zm-3 7zm-2-2zm-1 3zm0 5zm3-5zm3 1zm4 3zm4-1zm0-5zm-5-3zm-2-3zm7 2zm-4-5zm4-11zm-2-2zm-1 1zm-3 2zm-3 1zm1-2zm-7 9zm4-1zm3 4zm-3 0zm-3 1zm-3 0zm1-6zm0-1zm-5 3zm-1-3zm-2 5zm-2 2zm-4-1zm0-2zm6-3zm-3-2zm-4-1zm10-4zm-1 5zm6-8zm-4-5zm-7 2zm1 2zm-4-1zm2-3zm1 1zm2-7zm-2 1zm-1 0zm-2-4zm2 0zm2-1zm3 1zm2-1zm0 6zm3-1zm2-2zm2-3zm2 4zm-2 0zm-1 3zm2 2zm-2 1zm5 2zm0 1zm2-4zm1 4zm2 1zm1 0zm4-10zm-3 0zm0 2zm-1 0zm6-6zm1 4zm4-3zm4 2zm4-1zm-2 0zm-4 5zm7 3zm-5 4zm-2 0zm-4-1zm0-1zm3-3zm-3 2zm-1 0zm-1-2zm-2 9zm3 1zm3-2zm0 2zm-6 7zm3 5zm2-7zm4 7zm3-1zm1-5zm-4-9zm9 1zm3 2zm1 1zm1 3zm-2 0zm-1-1zm5-2zm2-4zm4-8zm-5 2zm1 0zm0 4zm-2 1zm-2 0zm-7-2zm4-3zm-4-3zm3-2zm1-4zm0 1zm2-1zm3-1zm4 4zm-1-1zm2-2zm2-1zm6 0zm0 5zm-6 2zm0 7zm5 0zm2-1zm0-1zm-1-4zm5 0zm-2 4zm-1 3zm4-3zm1 1zm1 0zm-2-5zm-2-2zm-2-2zm1-3zm3 2zm5 0zm-1 1zm3 1zm1 0zm0 1zm0-6zm3 1zm1 1zm-3 10zm1 1zm-6-2zm2 4zm-7 23zm-2-1zm-5 9zm1-3zm-2-3zm-2 7zm1 2zm-1 9zm7-2zm1 7zm14-14zm-1 4zm5 5zm-7-19zm19-4zm-6 14zm13 13zm0-6zm7-8zm2 3zm-7 12zm8-6zm-2-48zm-5-37zm-3-1zm-4 4zm-5-7zm-4 3zm-1 1zm3 2zm-3 2zm5 0zm1 4zm-4 1zm-1 0zm2 3zm-1 1zm-2 1zm6 3zm-13 7zm1-2zm-1-9zm-1 2zm3 3zm-5 0zm-2-1zm3-5zm-2 2zm-2 1zm-2 1zm0 4zm1 1zm2 0zm1 4zm0-1zm0 2zm-9 0zm3-4zm-3 1zm-1 0zm-8 4zm-3 0zm6-9zm-5 0zm7-4zm1 5zm2-3zm1 2zm3 0zm-1-2zm1-2zm-2 1zm1-4zm-2-2zm-5 0zm-4 1zm-1-1zm1-2zm-2-2zm-1 0zm3-1zm2 0zm0-4zm0 2zm5-2zm8-4zm1 0zm4 5zm-4-1zm-1 1zm-2 3zm3 5zm5-4zm5 4zm1-2zm-1-1zm2-1zm-3-2zm-3-3zm1-6zm-2-1zm2-3zm1-1zm2 2zm1-2zm0-3zm1-3zm-1-1zm-1-2zm-5 2zm-4 4zm3-1zm-5-2zm-2 0zm1 1zm2 7zm-1-2zm2-1zm-1 5zm-4-3zm-4 3zm-4 2zm-7 0zm1-1zm0-2zm2 1zm-1-3zm-2 1zm4-1zm3-6zm-4 2zm-1-3zm-1-1zm5 1zm4-3zm1 0zm-3 6zm3 0zm1-7zm-3-6zm-5 2zm2-1zm1-6zm-2 3zm-3-1zm15 2zm0 2zm4 2zm4-4zm0 7zm0-1zm1 1zm1 0zm2-1zm9 9zm-4-3zm0 4zm5 7zm-3-7zm5 7zm3-4zm-9-43zm-18-22zm-9-13zm6-3zm-7 6zm-1 9zm-6 10zm1-1zm4 5zm-3 0zm1 2zm24 1zm-5 9zm-9 3zm-11 4zm-2 4zm-4-8zm-8 2zm-7 0zm-5 5zm-2 2zm-5-2zm0-4zm1-3zm0-1zm12-1zm-10-7zm-1-3zm-2-7zm-1 0zm8 1zm3 0zm1 2zm5-6zm5 1zm-3 3zm7 5zm-7-15zm4-1zm-3-2zm5-7zm2-4zm-6-5zm-5 3zm-2 3zm-3 0zm-3-3zm0-2zm6-5zm-8 3zm-3 4zm2 0zm-3 5zm-1 6zm-1 0zm7 2zm3-6zm-2 9zm5 4zm-10-5zm0 4zm-3 2zm-2-1zm1-3zm-4 0zm-3 0zm-1 1zm-2 0zm-1 1zm-2 1zm0-3zm5 0zm-2-5zm-3 0zm-2 1zm1-6zm-1-1zm2 0zm9 2zm2 0zm-3-4zm-2-4zm7-4zm-1 1zm1-2zm-2-4zm-6 5zm-2 1zm0-1zm-3-4zm1 2zm2 10zm-10 0zm-3-1zm3-4zm2-1zm0 3zm2-1zm0-1zm-1-1zm-2-3zm3-5zm-7 2zm2 3zm1 2zm-4-4zm-1-1zm-3-2zm0 6zm-1 3zm5 4zm-5-1zm0 1zm-1 5zm-1 5zm3 0zm0-1zm8-3zm-1-2zm5 6zm-1 0zm-3 0zm-3 0zm0 1zm6 0zm-1 2zm0 5zm-3-3zm-3-1zm-3-1zm-2 3zm4 11zm5 5zm2 0zm2-1zm-7-9zm14-1zm2 3zm3 7zm-7 2zm0-6zm-1 1zm-2-1zm10 10zm1 1zm-4 2zm7 8zm-9-1zm-5 2zm-2-1zm-8-12zm-5 1zm-1 14zm2 2zm-1 1zm-2 3zm6 0zm1 1zm6-7zm1 2zm0 5zm0 3zm-4 3zm-5 0zm0-2zm-2-1zm-2-1zm-1 9zm3 0zm3 3zm-3-1zm-2 6zm-1 3zm5-5zm2 1zm4-1zm0 2zm-3 3zm2-1zm2 0zm2 3zm0-9zm-2 1zm-3-5zm4-1zm4 2zm2-2zm-1 0zm1 7zm-1 2zm3-2zm8 7zm1-2zm1-1zm-5-6zm-1-1zm2-3zm-2-1zm4 2zm-1-7zm2-2zm-4 1zm-7-1zm-2 1zm3-3zm-3-3zm-1-1zm1-2zm5-2zm5 1zm-1 5zm2-1zm1-4zm3 0zm5-1zm1 2zm-6 3zm1 6zm0 3zm1 1zm5 0zm1-6zm2 5zm1 1zm2-3zm0 1zm-1 2zm3 0zm0-4zm-1-3zm5-1zm-1-2zm2 1zm2-1zm0-4zm9 1zm0 4zm-4 1zm0-2zm-3 3zm0 3zm1 0zm4-2zm1 2zm-1 0zm1 4zm-4 0zm-6-2zm3-5zm-2 1zm-3 1zm-1 11zm2 1zm2-3zm0-1zm3 0zm0 1zm5-2zm1 0zm-1 3zm-2 0zm-3 7zm3-2zm1 3zm2 1zm-2 1zm-4 0zm-1-2zm-3-2zm-1-2zm-3 5zm0 1zm-2-2zm0 1zm-4 2zm-2 0zm3-4zm-1-2zm2-4zm0-1zm3-3zm-2 2zm-9 3zm-2-4zm3 7zm-1 2zm2 4zm-4-1zm1-2zm-3 0zm0 2zm1 1zm-1 4zm1 0zm3-3zm-2 10zm-2 0zm1 4zm6 0zm0-2zm-3-3zm6 3zm5 2zm-3-5zm0-1zm3-1zm0-2zm-6 0zm0-5zm10 1zm-3 5zm4 1zm2-4zm-1-1zm3-2zm2 1zm2 0zm3-1zm-3 7zm-2 3zm4 5zm-3-2zm-2-1zm-2 3zm-2 0zm1-3zm-4-2zm1-2zm-3 3zm1 9zm2 1zm-1 0zm1-1zm1 1zm6-5zm5 4zm0 3zm-5 0zm-1 0zm3 1zm3 7zm-5 0zm-4-1zm-10 0zm-4-2zm5-1zm1 0zm1-2zm-6-6zm-4 2zm-1-3zm-4 6zm3 7zm-1 0zm-2-3zm0 2zm-1 0zm-3-5zm-4 2zm3 2zm-7 2zm-4-2zm3-1zm0-2zm-2 1zm-1-1zm11-9zm-1 0zm3 6zm2-1zm-5-7zm1-3zm-2-4zm3 1zm2-3zm-1-2zm1-2zm0-1zm-1-1zm-1 2zm-4-1zm-2 6zm-6-6zm3 5zm-3 5zm2 0zm1-3zm2 1zm-2 3zm-1 1zm-1-1zm-1 2zm-1 1zm-4-1zm-1-3zm-2-1zm6 0zm0 1zm0-5zm-2-1zm2-1zm0-3zm-3 0zm0 4zm-6-1zm2-2zm0-1zm-1 0zm-3 1zm-2-1zm1 3zm1 3zm-3 2zm4-1zm2 1zm1 2zm-2 2zm2-1zm-7 1zm0 5zm0 1zm0 3zm10-3zm4 0zm-2 1zm2 0zm-2 2zm-4 0zm1 1zm1 3zm4-2zm0 3zm-4 4zm1-2zm-2-1zm-4 1zm0-4zm-4 0zm0 3zm2 0zm-4 0zm-1-2zm-2 0zm-2 0zm0-2zm-1 2zm-1 3zm1 2zm-4-2zm-1 0zm-4-2zm7-5zm0-1zm-2-5zm0 3zm3-3zm3 0zm-2 2zm-1 1zm0 2zm6 0zm1-1zm-3-4zm3-4zm-1 0zm-6 3zm7-4zm-2-4zm-1-1zm1-1zm1 0zm-1-4zm-1 0zm-1 2zm-3-2zm1 2zm2 1zm-7 2zm1-4zm-4 1zm-1 4zm2 1zm5 2zm-5 5zm-1-3zm-2 1zm-4 2zm-2 0zm-1-1zm3-5zm1 0zm3 1zm-3-3zm0-5zm-2 1zm1-1zm-1-2zm0 1zm-2-1zm0 1zm1 1zm-3 5zm1-4zm-1 0zm-2-2zm0 1zm1 1zm-2 0zm-2-1zm1 3zm-1 2zm0-1zm5 4zm0 1zm-2 1zm1 0zm1 0zm1 1zm0 1zm-2 0zm-3-1zm0 9zm1 1zm1-1zm0-6zm1 0zm4 1zm-1 0zm1 2zm2 2zm0-1zm-1 1zm-1-1zm-1 1zm1 6zm1-1zm3 1zm-1 0zm3 3zm-7 0zm1 1zm-3-7zm0 1zm-1 2zm-3-3zm1 4zm0 2zm-5 1zm-1-3zm0 2zm-3-4zm-2 0zm4 0zm0 1zm3 0zm0-11zm-2 1zm-2 6zm-2 0zm-4 0zm-1-1zm0-1zm3 0zm-1-2zm1-3zm-3 1zm1 2zm-2-1zm-3 4zm7 3zm0 5zm-19 0zm0 1zm-1 0zm-3-7zm5-3zm-1 2zm-2-3zm1-2zm1-1zm1 2zm0-1zm6-1zm-2 3zm2 1zm4 0zm-1-2zm-2-1zm1 0zm1-1zm-1-4zm2 0zm-1-3zm1-1zm-3 1zm-3 0zm2 4zm-2 0zm-2 1zm-1 0zm-1-2zm-1-1zm3-5zm0-3zm-2 3zm-1 0zm-3-2zm-1-1zm2 0zm1 0zm-3-4zm4 0zm6 3zm-2 0zm4 4zm3-1zm-1-1zm-2-2zm0-1zm1 0zm0-2zm4 1zm6 1zm-1 1zm-2-1zm2 2zm0 3zm-4-3zm-2 0zm0 1zm0 2zm0 2zm1 0zm2 2zm-3 0zm0 2zm2 0zm2 1zm0 1zm2-4zm3-3zm2 3zm-1 3zm0-2zm1 0zm1 1zm2 0zm1-3zm-1 1zm-2-2zm3-1zm-3-3zm1 1zm-3 1zm-1 0zm2-5zm-2 1zm-1-1zm4-1zm1 2zm0-1zm1-3zm-5-1zm1-1zm1 0zm2-5zm0 3zm2 0zm0-4zm-1-1zm-1-1zm-1-2zm-3 1zm-1 3zm-2 0zm-2-3zm0-4zm-4 4zm1 0zm2 2zm-1 5zm2-2zm3 3zm-1 3zm-10-2zm2-1zm0-2zm1-1zm-1 0zm-1-1zm0 3zm-2-1zm0-1zm0-1zm0 6zm-5 1zm0-2zm-4 1zm1-3zm0-1zm-3 0zm4-1zm1 1zm2-4zm0-2zm-1 0zm-1 1zm0 1zm-1 1zm-2-1zm3-5zm0 2zm1-1zm1 1zm3-2zm0 2zm-2 3zm3-1zm2 2zm1-2zm0-5zm-6-5zm3 2zm-4 2zm-1 0zm1-1zm-1-1zm-1 0zm-5-5zm11-1zm2-5zm7-1zm2 2zm-2 9zm3 3zm-2-6zm6-5zm2-2zm9 5zm-1-5zm2-1zm3 4zm-1 2zm5 2zm-5 5zm-5-1zm0-1zm3 1zm0-1zm-1-1zm-5-1zm1 5zm1 4zm3-2zm0 3zm-1 2zm-3-2zm-2 1zm0 4zm2 1zm-2 5zm1 0zm1-1zm0 1zm1-2zm4-1zm-2-3zm-1 0zm5-1zm1 0zm1 2zm-2 3zm2 2zm1-1zm2 0zm0 1zm-1-9zm-2 0zm3-3zm7-2zm1 2zm-1-1zm1 2zm0 2zm0 1zm-6 8zm2 0zm5-1zm-1-6zm2 7zm7 0zm-1-3zm-5-8zm1-1zm-1-1zm5-1zm-1-9zm-3 1zm1 6zm-2-1zm-3-2zm-3 2zm-2-3zm0-1zm2-2zm4-3zm-2 0zm-2-1zm-2-3zm-1 0zm4 0zm4 1zm0 1zm6 4zm0-2zm1-1zm-1-2zm0-2zm-2-4zm-6 2zm-6 1zm-3 0zm0-7zm-3 6zm3-11zm-12-19zm12 2zm7 2zm2 3zm-3-1zm3 5zm2-1zm6 4zm0-16zm-3-1zm-4 0zm-6-4zm2 0zm4 1zm-1-6zm5-2zm-2 3zm0-10zm3-6zm3 0zm-3-5zm-3 1zm-6 9zm-5 4zm-1-6zm-5-4zm-5-4zm2 10zm-4 2zm3 5zm11 0zm-7 6zm-22 6zm13-22zm-6 0zm-1 0zm-3-3zm-11 8zm19 36zm-25 10zm-35-18zm22-3zm-1-37zm-18 7zm-3-7zm-11 22zm-4-6zm2-12zm-15 2zm4 33zm-2 15zm-4 15zm11 6zm7 16zm25-18zm10 2zm6 3zm-3-2zm-10-2zm3 13zm3 0zm0-4zm-3-2zm9 0zm-5 9zm6 5zm-8-5zm-7-2zm-2 14zm1-3zm4-3zm5 2zm7 1zm-1 2zm0-1zm-1 3zm-3 2zm6 6zm-2-1zm-5 0zm-2 4zm5 4zm1 2zm3 0zm-13 1zm-17-4zm3 4zm-4 6zm-14-12zm9-11zm-20-5zm1 18zm4 24zm0-2zm18-1zm-9 4zm3 2zm-9 5zm-5 13zm9 10zm28-12zm1 23zm5 6zm10 1zm-5-9zm5-8zm-1-26zm-5-3zm-8 1zm-2 10zm-2-15zm-3-2zm1-9zm-3 4zm8-5zm10 8zm5-4zm-4 0zm5 0zm11-3zm3 0zm-2 3zm3 0zm-6 1zm3 6zm2 16zm10-3zm7 0zm-1-1zm0-6zm-1-5zm0-4zm-2 3zm-3-3zm1 6zm-3 0zm-3-4zm-1-2zm0 1zm5-2zm-3 0zm-2-1zm1-2zm5-4zm3 0zm-2 7zm1-2zm3 2zm0-1zm2-2zm1-4zm2 3zm3 0zm1 3zm-5 2zm5 6zm1 1zm-1-2zm0-4zm2 0zm7-1zm0-3zm-1-1zm-1 0zm-1 1zm0 1zm1 1zm-2 0zm0-1zm-1 0zm3-4zm1 0zm4 1zm-2 0zm1 2zm3 2zm1 0zm1 0zm1 0zm0-3zm0-2zm1 1zm6-1zm-1 0zm-4 3zm-1 0zm0 1zm1 0zm6 2zm0 2zm-1 1zm-2 4zm-1-3zm-3 3zm-3 0zm1-2zm-2-4zm0 1zm-2 1zm-2-3zm0 2zm1 0zm0 1zm-1 3zm3 2zm-2 3zm0 2zm8-2zm5 5zm-1 5zm2 2zm-8-5zm-6 0zm-5 3zm-4-4zm6 0zm1-1zm0-4zm-3-4zm-2 2zm-2-2zm0 4zm-2 0zm1-2zm-3-1zm1 2zm8 21zm5-3zm1-1zm7-3zm4-1zm-5 9zm-2-1zm-4 12zm6-4zm1 2zm1-1zm3 3zm-35-6zm1-10zm-11 5zm4 2zm-10 3zm-11-8zm2 2zm4 8zm-5 16zm16 25zm45-21zm-36 38zm3 1zm-21 2zm-1 3zm-14 8zm-23-3zm8-3zm-6-13zm19 0zm-1 1zm3-20zm3-4zm3-12zm-8 0zm-12 11zm2-3zm-4-8zm-10 27zm-7-6zm-9-7zm-12 16zm9 15zm18 11zm15 63zm45-28zm-10-1zm0-23zm-83-33zm-16-92zm18-28zm16-112zm6 1zm9-3zm-6-5zm6-14zm13 0zm-5 1zm9 23zm1-20zm1-7zm-17-23zm57 11zm-3 6zm-14 12zm-3 8zm26 11zm-3-13zm-6-15zm7 6zm5-4zm5 2zm6-2zm1 1zm-14 11zm1 12zm2 3zm5-1zm3 0zm4-3zm-1-4zm-3 1zm2-4zm7 4zm-2-2zm-1 0zm-1 1zm1 0zm-1 1zm0 1zm2 2zm4 5zm0-2zm0-1zm9 3zm-2-5zm2-4zm-5 1zm1-3zm-3-2zm4-2zm0 1zm3 2zm-1-4zm-2-2zm-1-2zm-3-2zm-6 6zm-1-5zm1-2zm2-1zm-3-1zm2-5zm5 1zm1 4zm3-2zm3 3zm-2-6zm-12-16zm5 10zm-3 2zm-1 0zm-1 0zm0 1zm-4-2zm-2-2zm0-1zm-1 3zm-3 0zm-2 1zm-2-9zm4-3zm4-7zm-3 1zm-3 3zm2-13zm13 1zm9 13zm1-4zm-9-17zm-6-5zm-12 5zm38-2zm-7 5zm0 5zm1 10zm2-2zm4 1zm21 3zm-9-5zm-3 13zm13 0zm-8 6zm-6 3zm-5-3zm1-12zm-5 0zm2 4zm-6-1zm-1 10zm-3 6zm1 1zm2 1zm2 0zm1 0zm0-5zm2 2zm4-2zm-3 7zm0 8zm-2-2zm0-3zm-7-2zm0 1zm0 4zm1 0zm0 1zm6 6zm-2 11zm2-1zm0-4zm-3 1zm2-3zm3 2zm0 2zm-1 3zm2-2zm-1-9zm2-2zm2 0zm3-2zm1 1zm4 1zm-1 1zm-2 1zm-1 3zm0 2zm4 4zm4-2zm0 1zm2 3zm2 0zm1-3zm-3-18zm-3 3zm-2-1zm-1 0zm-5 1zm6-9zm-1 3zm5 0zm4-3zm2 1zm12-4zm2-1zm-1 12zm-7 2zm-2 4zm-4 9zm1 1zm3 0zm1 1zm0 1zm5 1zm-10-33zm2-10zm0-7z" stroke="#00e800"/>
<path d="M1744 704zm-19-10zm-19-16zm-5 10zm6 5zm-32 5zm-10-15zm5 0zm7-8zm-4-6zm-5 1zm-2 0zm-2-2zm1-8zm10-10zm-3 2zm3 0zm-9 3zm62-73zm-16-7zm-19 21zm-14 22zm-6 13zm-1 4zm-5 0zm-3 0zm-13-2zm2 1zm1-2zm4-19zm-8-4zm0 7zm2 0zm2 2zm-3 2zm-8 3zm2-9zm-4-5zm-2 6zm-5-7zm-2 9zm1 8zm0-1zm2 4zm3-1zm5-1zm-1-2zm4 1zm-2 5zm-3-2zm1 7zm3 1zm-7 2zm-2 0zm-1-5zm0-1zm-2 7zm-4-2zm-5-1zm5-10zm-7 2zm-1-3zm-5-1zm1 2zm-1 5zm7 4zm0 2zm0 1zm-3 1zm-7-3zm-2 3zm-2-1zm-4-1zm0-1zm-1 2zm3-6zm-2-3zm0-1zm0 3zm-5-2zm2-2zm-1 0zm0-1zm-1-1zm1-1zm10 2zm0 3zm0-1zm2 1zm-13-8zm2-1zm-2-1zm6-7zm-5 3zm-1 0zm1-1zm11-2zm4-4zm4 0zm2 1zm1 5zm-7-2zm0 9zm13-2zm-10-18zm-5 5zm-2 1zm2-5zm-9 3zm-3-3zm-1 1zm6-5zm-1-4zm1 1zm-5-5zm15-5zm5-1zm7 1zm18 5zm-11-4zm-4 10zm8 2zm-3-71zm-12-3zm-55 27zm6-6zm14 4zm-42-21zm12 47zm-7-7zm-13 11zm10 10zm5 5zm25-13zm5-1zm5 21zm-13 6zm-1-13zm-2 12zm-3 2zm-2 11zm-1 2zm1 2zm10-5zm2 1zm1-5zm-5 1zm8 0zm1-3zm4-3zm6 2zm-4 8zm-3 1zm-5-4zm3 5zm-3 2zm2 2zm2 3zm3 3zm-1-2zm-2-5zm5 1zm1 1zm5 0zm-1 1zm-6 2zm0 2zm3 3zm4 0zm-3 2zm-1 2zm0-2zm-4 3zm-5-7zm-1 6zm-3-1zm-5 2zm2-4zm3-3zm1-7zm-7 0zm1 2zm2 3zm-9-5zm5 8zm-3 1zm-3 2zm-4 2zm2-4zm-4-1zm-11 1zm6-8zm5-2zm4 5zm-3-17zm-3-4zm-11 14zm-4-6zm5 12zm-5 7zm-1 3zm-2 0zm0 9zm-5-3zm3 11zm2-4zm5 3zm1 0zm-3-7zm4-4zm4-3zm-1 2zm0 2zm1 0zm3-3zm3 2zm6-1zm0 4zm-1 1zm0-1zm-1 1zm-2-3zm-2 2zm7 4zm-1 2zm1 0zm-4 3zm-4 0zm-1 0zm-4-4zm-2 2zm2 3zm1 1zm4 4zm-1 0zm7 2zm-4-3zm2 7zm0-1zm0-2zm1 0zm3 0zm0 2zm-2 1zm-1 1zm2 3zm-6-1zm-3-2zm2-3zm-4 2zm-10-8zm2 4zm-4-6zm-5 10zm3-2zm1 3zm-6 1zm15 5zm-2 1zm1 1zm-1 3zm-3 0zm0 4zm3-2zm-12 4zm2 6zm3 1zm-6 4zm0 1zm3 0zm-2 4zm-1 2zm7-7zm2 6zm1 0zm2-2zm0 2zm1 0zm2 1zm0-4zm0-1zm-1 0zm-1 0zm0-1zm0-4zm0 1zm2-4zm4-1zm4 0zm-1 1zm-1 1zm2 4zm-2 0zm-4 1zm1 0zm1 3zm-2 3zm1-2zm3 2zm0-5zm1-1zm1 1zm3 2zm-2 4zm3-3zm4-4zm-5-2zm-1-1zm2-4zm0-1zm2 1zm2 0zm-1 0zm-1-4zm0-1zm1 1zm1-2zm-3-1zm0 1zm-2-1zm1 0zm-3-2zm2 6zm1 0zm-5 0zm-1 1zm-2-2zm-3-2zm7-4zm-4-1zm-1-2zm-2-1zm6-3zm5 2zm-2 3zm6-1zm3-4zm-2 2zm6 3zm-2-5zm3 0zm1 3zm2-1zm1 0zm-1-2zm5 0zm-2 7zm0-1zm-3 1zm1-3zm-1 1zm-2 1zm0 4zm2 1zm2 0zm0 1zm1 1zm1 2zm-2-1zm-3-1zm0 2zm-3-1zm0-1zm-1-2zm-3-3zm-1 4zm2 0zm-3 4zm1 2zm3-1zm0 4zm3 0zm-2 2zm-1-1zm-2 1zm1-1zm-1-2zm-2 4zm1 5zm1-1zm5 0zm-3-3zm0-1zm6 2zm-2 1zm3 4zm-1-3zm3 2zm2-4zm0-1zm0-2zm-1-2zm-2 0zm-4-1zm3-1zm-1 0zm-1-2zm4-1zm0 1zm-1 0zm0 1zm3 1zm3 0zm1-1zm-1-1zm3 2zm0-1zm1 2zm0 3zm-3-2zm0 3zm-3 2zm1 2zm-1 1zm1 2zm4-2zm1 1zm0 1zm1 0zm-3-4zm3-2zm6 3zm0 2zm2-3zm-1 0zm1-5zm-2-2zm0 2zm-1 1zm-2-5zm-1-1zm-1 0zm0-1zm5 0zm1 0zm0-1zm0-5zm1 0zm-2-2zm-1 2zm-1-1zm-1-1zm-1 0zm0 7zm-3 0zm-1-3zm-4 2zm0-1zm0-1zm-1-1zm4-3zm3 2zm-3-3zm-2 0zm-2 0zm2-2zm-2-2zm0-2zm2-1zm1 0zm4 2zm4-1zm-3 1zm0 2zm1 1zm3 2zm3 0zm-1-5zm-2-6zm-2 0zm-2-2zm1-1zm1 0zm2 0zm1-2zm1-6zm-1 0zm-4-1zm-3 6zm0-2zm-2-4zm-3 0zm0 3zm1 3zm1 0zm-2 5zm6-2zm-3 1zm0 5zm-1 0zm-1 0zm-1-2zm-2 2zm-2-3zm2-2zm-1-1zm-2 0zm1 2zm-2-3zm-1 0zm-2 3zm3 4zm-5-2zm-6 0zm2-3zm0 1zm3-2zm-1 0zm0 1zm0 1zm2 0zm0-3zm0-2zm1 0zm-3-2zm-2-2zm2 1zm6-1zm1 1zm-1 4zm2-3zm0 2zm3 1zm-1-6zm1-1zm-1-2zm0 1zm-1-6zm-1-1zm0 3zm-1 0zm-1 0zm-1-2zm-1 4zm1-1zm2 3zm-5 0zm-4-3zm-2-2zm3-2zm3 2zm1-3zm0-3zm-4 1zm1-4zm4 0zm2-1zm0 6zm2-2zm2 2zm1-1zm4-4zm3 1zm1 0zm-3 2zm2 0zm1 2zm-3 1zm-2-2zm1 4zm-2 4zm6 0zm-1 0zm1-1zm-2-4zm4 1zm-1 1zm3 2zm2 2zm2 0zm-2-3zm-1-1zm1-1zm1 0zm1-3zm-1-1zm-1-1zm-1 0zm-4 3zm1-2zm2-3zm4-2zm1 1zm0 2zm0 1zm5 1zm5-2zm4 0zm0 3zm-5 4zm3 1zm0 2zm2-1zm-4 3zm1-2zm-7 2zm0-7zm0 2zm-2 4zm-2 0zm1 4zm1-1zm5-1zm-1 4zm-2 3zm-3 0zm1 2zm0 5zm2-2zm0 1zm3 1zm-1-4zm0 1zm-2 0zm0-1zm5 1zm-1 0zm0 2zm3 0zm1 1zm0 1zm2-3zm1-1zm-1-6zm-2 0zm-3-1zm1-4zm11 1zm0 3zm1 3zm-4-3zm-2 0zm5 8zm0 1zm-1 0zm1-3zm1-1zm1 0zm3-1zm-1 3zm0 1zm0 1zm6 1zm-1-1zm-1-3zm2-1zm-3-2zm-3 0zm0-1zm2-3zm-2-1zm4-2zm-1 1zm0-3zm0-1zm2-3zm-1 1zm-4-1zm2 4zm-3 0zm-4-2zm-4-3zm3-1zm2 0zm-1-4zm-2 3zm-2 0zm1-5zm-1-2zm2 0zm2 3zm3-3zm2 6zm2 0zm0-1zm1-1zm0-3zm5-1zm-1 12zm2 3zm5-1zm5-2zm-3-6zm-1-4zm12 4zm3-1zm-3-2zm0-3zm6 11zm-4 1zm-5-4zm0 5zm0 10zm4-1zm6 4zm-1-1zm0 5zm-5 1zm-3 0zm-6 0zm-2-1zm-2-6zm7-3zm0-4zm-7 2zm-1 4zm-4-5zm-2 3zm-1 1zm6 9zm-2 2zm1-1zm-3 11zm2 1zm4 0zm7 2zm-2-7zm-1 0zm-1-2zm5-5zm11 13zm-9-2zm0-1zm0 5zm1 6zm2-1zm-1 2zm1-5zm5 0zm1 6zm-1 2zm-5 1zm-3 5zm-4 0zm1-2zm-1-1zm-3 2zm-1 0zm5-5zm-1-4zm1-4zm-7 2zm3 2zm-7-4zm1 2zm-4-3zm-1 5zm2 2zm4 1zm-1 5zm-3 1zm-3-2zm-1-1zm1-3zm-3 1zm-11 4zm2-3zm-2 0zm0-1zm4 1zm2-5zm-1-1zm-1 2zm-1 1zm-4-3zm2 1zm-2-4zm9 4zm0 1zm3-1zm-4-6zm1-2zm0-1zm-1-3zm5 0zm-1-2zm3-4zm0-1zm-5 3zm1 1zm-3 1zm-1-1zm-2-4zm-5-2zm0 5zm2 1zm-1 1zm0 1zm1 2zm1-2zm2 0zm-1 4zm-2 0zm-8 1zm0-3zm0-1zm2-1zm1 2zm2 1zm-1-4zm-1-1zm0-2zm2-1zm-1-2zm-1-1zm-1 2zm-3 1zm1 2zm1 2zm-3-1zm-1-3zm-3-1zm-3-2zm-1 0zm1 3zm-1 7zm1 1zm1-3zm1 0zm1 2zm2 5zm-1 0zm-1 0zm-3-1zm0 1zm-1 0zm3 1zm-2 2zm-1 4zm2 1zm3 0zm0-1zm4-6zm0 3zm3-3zm3 0zm-2 3zm1 1zm1 0zm-1 1zm-6 3zm5 0zm2 0zm-4 7zm-2-3zm-3 3zm-2-3zm3 1zm0-5zm-2 3zm-3-3zm-1 1zm-1 2zm3 8zm-1 4zm2-3zm3 1zm-3-4zm1-1zm5 3zm1-2zm1-1zm1 0zm1 0zm0 4zm-1 2zm-3 0zm1-1zm-1 5zm5 2zm-5 3zm-1-3zm-4 0zm1 1zm0-3zm1-1zm0-1zm-7 5zm4 4zm3-1zm0 7zm-3-1zm-2 1zm0-1zm-2-1zm1 9zm2-1zm2 0zm2 2zm0-3zm0-2zm-2-1zm6-1zm-3 2zm0 1zm0 1zm6-3zm-3-3zm-2 0zm1-3zm-2-3zm6 1zm6 3zm2 0zm-4 2zm-2-1zm1 1zm0 1zm1 1zm2 4zm1 2zm2 1zm-2-6zm8 4zm-1-4zm0-1zm0-2zm-2 1zm-1-5zm0-1zm6-3zm-2-5zm-4 0zm2 6zm-4-2zm-1-1zm-6-2zm6-1zm-5-4zm-1-1zm3 0zm1-1zm1 0zm1-3zm5 1zm2 6zm1-2zm0-3zm2-1zm6 2zm-2 0zm0 2zm-2 0zm-2-1zm1 9zm6 0zm-2-3zm0-1zm1 0zm3 1zm-1-5zm1-3zm0-2zm12 5zm2 2zm1 6zm-7-3zm5 8zm7 0zm-18 10zm-3-3zm0-7zm2 2zm-8 5zm2 5zm2 4zm-1 2zm0 3zm-3 0zm-1 0zm2 1zm0 3zm-2 0zm1 4zm5-5zm4 2zm3-2zm-2-8zm12 5zm3 1zm1 4zm-9-4zm-3 10zm12 8zm-19 4zm-5-14zm-2 13zm-2 2zm-3-1zm2-6zm-3 2zm-4 2zm-4 1zm-3-3zm1-5zm6-2zm7 4zm0-2zm-1-5zm-1-9zm1-3zm-1-2zm-1 1zm-2 0zm0-2zm1 4zm-1 0zm-6 1zm1 0zm-5-4zm1 0zm-1 4zm1 2zm-1 3zm3 0zm3-3zm-2 5zm1 0zm-5 0zm-1-1zm-5 2zm4-4zm0-5zm-2-3zm-2 3zm-4 1zm-2 0zm3-1zm-2-4zm-4 2zm0 2zm2-1zm-2 3zm3 3zm0 3zm3 2zm-6-3zm-1 0zm0 4zm3 1zm-3 6zm3-2zm-1 0zm2-5zm4 3zm0 2zm1 1zm-2 7zm0-5zm-4 1zm-2 1zm2 3zm-4 2zm-1-3zm-1 0zm-5 2zm4-10zm1-4zm-2 2zm0 2zm0 2zm-5 1zm-3-2zm0 1zm-3 4zm5 2zm1 0zm-4 2zm-5 1zm0-2zm0-5zm-5 3zm-1 1zm-3 2zm0 1zm-1-3zm-3-3zm0-1zm5-4zm-5 2zm2-4zm-2 0zm9 2zm2 2zm4-4zm0-2zm0-2zm-1-6zm-1 1zm-5-1zm0 4zm3 1zm-1 2zm-3 0zm-5 0zm1-5zm-1 1zm-2 0zm1-1zm3-2zm-1-1zm-1-1zm-1-2zm0-2zm0-2zm1 0zm1 1zm3 2zm5-2zm-3 2zm4 2zm3-1zm-2-1zm-1-1zm0-1zm3-1zm6 4zm1 1zm1 2zm-2 0zm0-1zm-2 1zm-1 0zm0-1zm1-1zm-2 0zm1 9zm0-2zm1 0zm2 1zm0 2zm2-3zm1-4zm0 4zm1 2zm3-1zm3 2zm0-2zm-1 0zm0-4zm-1-4zm0-1zm-1 0zm-4-1zm0-1zm5-1zm2 2zm-1-3zm0-4zm0-1zm0-2zm-5 0zm-1-1zm0 5zm3 2zm-7-1zm0 1zm-2-1zm-2 1zm7-6zm-3-4zm-4 0zm0-1zm1 0zm-1-3zm8 0zm2 2zm-1 4zm1 0zm3-3zm2 1zm-3-4zm0-1zm3-2zm-3-1zm0 1zm-4-2zm0-4zm4 0zm3-4zm-3-4zm-4 0zm0 2zm1 0zm2 2zm-7 0zm2 1zm1-2zm-1 0zm1-3zm-2 0zm-1 3zm-3-2zm0-1zm-1 4zm3 3zm-1 0zm-1 0zm0 3zm4 1zm-3 4zm1-1zm-6-1zm-1 0zm0 1zm1 0zm0 1zm-1 0zm-2-2zm1-1zm1-5zm2-6zm-1-1zm-1 3zm-3-1zm1 2zm0 1zm-3-3zm-5 0zm-1 2zm-1 7zm6-2zm1 2zm-1 0zm-1 0zm0 1zm2 3zm-5 2zm-2 3zm2 0zm5 0zm-2-3zm-1-1zm1 0zm4 3zm1-1zm0-1zm0-1zm5 2zm-3 1zm0 1zm2 3zm-2-1zm-1 0zm-3 0zm1 2zm-1 2zm1 0zm2 0zm-1-1zm3-1zm0 2zm-1 0zm1 3zm-3 1zm-1-2zm-5 2zm0-2zm2 0zm-6-2zm0 2zm0 3zm-1-4zm-2-2zm-5 3zm1 1zm-3 1zm-1-4zm1-1zm-4-3zm-2-3zm1-1zm0-1zm-1-1zm1 0zm1 0zm5 3zm1-3zm3 1zm-1 1zm-1 1zm0 1zm3 1zm2-2zm0-3zm-1-2zm0 1zm-5-2zm0-5zm4 2zm3 1zm-1-8zm-3-2zm-1 0zm-1-1zm0 2zm2 4zm-7-1zm3-4zm-2 0zm-3 2zm1-1zm0-1zm-1 0zm-2 1zm1 0zm0 3zm2 4zm2 0zm1 5zm-3 1zm-2-3zm-6 2zm-3-2zm0-2zm7-2zm-5-5zm-2-1zm0 3zm2-1zm-3-2zm-2-1zm-2 3zm-1 3zm-2 0zm2 3zm0 1zm5-1zm-4 7zm1 6zm0-6zm2 0zm4 3zm-2 0zm0 5zm1 1zm2 0zm1 0zm0 2zm1 1zm2 2zm-9-3zm1-3zm-7 4zm2 0zm0 5zm5-2zm-7 4zm2 10zm4-2zm0-4zm1 1zm1 0zm0 1zm4-1zm-1-7zm-3 0zm1-2zm1 1zm5 2zm2-2zm4 3zm-1 3zm0-4zm6 0zm4-2zm-1 3zm0 3zm-4-1zm-1 5zm5 0zm-4 4zm-4 0zm-1-3zm2-2zm-1 1zm-2 4zm-3 4zm1 4zm3 0zm2-4zm-2-2zm6 1zm5 0zm-2 1zm0 1zm2 1zm-1 0zm-4 2zm-1 0zm5 6zm-6 1zm-1-1zm-2-2zm-5-3zm-3 4zm-1-2zm0-7zm-6 3zm-2 0zm-1-5zm-1 8zm5 13zm1-4zm4-1zm-1 4zm-2 6zm4-2zm1 0zm0 4zm-6-1zm-2-2zm0-1zm-6 1zm1 8zm1-2zm5 0zm-7 15zm5-1zm6-4zm1-2zm3 1zm8-9zm-1 3zm-2 5zm2 1zm2 3zm6-2zm0-2zm0-2zm-3-2zm1-7zm-10 0zm1-3zm-2 1zm-1-11zm1 0zm9 3zm5 2zm0-5zm2 3zm1-1zm2 0zm-3 5zm2 4zm3 3zm1-3zm1-3zm1 4zm3 3zm2 0zm0-3zm-2-7zm1 2zm-4-2zm7-1zm3 1zm6-5zm-1 1zm2 1zm4 0zm-1 1zm-1-1zm-3 4zm0 3zm2 0zm1 0zm0 5zm0 1zm-2-3zm-5-2zm-5 9zm0 1zm4 0zm3 0zm0-4zm2 2zm3 2zm1 1zm-1 1zm-1-2zm0 9zm-6 2zm-1 0zm2-5zm-3 0zm0-2zm-3 3zm-2 3zm-3-3zm0-1zm4-6zm-1-1zm-2-3zm0 1zm-2 0zm0 5zm-4 3zm1 2zm-5 8zm2 0zm3 3zm-4 4zm2 0zm5-1zm2 0zm-2-4zm1-2zm8-3zm1 3zm2-3zm2 2zm4 8zm-6 0zm-9 9zm-2-1zm-8 4zm-15 0zm11-3zm-3-18zm-5-1zm-3 0zm-3 4zm-4 4zm-1 1zm-12-8zm2 6zm39 26zm56-33zm-31 18zm6-6zm-4-4zm7-6zm-2 1zm20-7zm-4-4zm6 2zm-15-10zm1 3zm2 10zm-6 1zm-3-13zm-1 6zm3-3zm2-2zm-1-5zm-2-3zm-4 5zm-2 0zm-2-2zm-1-4zm4 2zm0-2zm-6-3zm0-4zm3-1zm5-1zm2 3zm-2 0zm6-1zm2 1zm7-3zm-4 6zm2 6zm1-1zm-2-3zm10 1zm8-8zm8 6zm-7 7zm-1-5zm-1-1zm-1 2zm-3 4zm4 4zm1 9zm13-18zm-126 23zm6-8zm-2-7zm3-1zm1 0zm-4-8zm5-1zm-2-2zm-4-5zm0 1zm-1-1zm-12 6zm-59 44zm-12-1zm16-38zm-21 45zm0 1zm-18 1zm-12 8zm0 13zm26 5zm15-9zm-57-2zm8-222zm5 0zm-9 19zm-30 18zm48-16zm16 6zm34 50zm5 64zm-3-37zm-14 3zm49-16zm-13 14zm8-3zm3 14zm-1-1zm-3 0zm-18 3zm-6 15zm8 9zm21-2zm-5-9zm-4 1zm8-15zm4 1zm3 3zm6-4zm4 5zm-1 2zm-4-3zm-2 9zm-1-3zm-4 2zm5 14zm6-6zm4-2zm3 8zm3 2zm2-20zm-6 4zm2-3zm9-3zm2-10zm-4 1zm4-8zm-1-3zm0-2zm-14 3zm3 11zm-1-1zm-8-4zm-1 2zm0 2zm-4 1zm-4-5zm4-4zm3-4zm0 2zm2 4zm5-7zm-9-4zm-6-8zm5-2zm4 0zm1 2zm2 0zm0 2zm6-2zm-1 8zm4 3zm2-4zm6 2zm1-4zm-1-2zm-5-1zm5-8zm0-2zm-4-4zm-3 5zm1-3zm-3-3zm-4-3zm5-3zm5 6zm4-7zm-4-1zm-8-11zm-2 2zm-5 4zm-6-8zm-5-2zm9 16zm-1 5zm7 9zm-10-2zm1 0zm-7-3zm-4-5zm-10 6zm-3-15zm-4 0zm21-9zm-12-13zm15 5zm11 4zm10-8zm6 6zm0-9zm-4-9zm-6 4zm4-3zm-5-17zm-17-5zm2-2zm-2-5zm7-10zm21 8zm-10-24zm-3-20zm-1 13zm-4 2zm-1-1zm-2-2zm6-1zm-11-1zm2 5zm3 1zm1 2zm4-1zm1 2zm-1-1zm-5 5zm-18 5zm9-9zm-1-7zm-13 42zm14-6zm-1 3zm-23 1zm-15-2zm5-18zm-29 4zm10 20zm-4 7zm131-154zm26 22zm20-4z" stroke="#c0001c"/>
<path d="M1635 621zm-19-14zm-65 41zm12 51zm2-7zm28 0zm-2-13zm7-24zm5 0zm8 10zm5-7zm27 28zm-28 39zm-2-5zm29-3zm6 6zm-76 27zm16 0zm-4-26zm2-20zm1 8zm-7 19zm-3 4zm-25-11zm15-18zm-22 27zm17 35zm51 1zm-98 1zm-3 1zm2 4zm-4 0zm-2-1zm2-1zm-1-4zm-5 9zm3-1zm3 0zm-15-9zm8-46zm-2 7zm-1 5zm-5-4zm-9 20zm3 5zm1-1zm1 1zm0-1zm-1-2zm2 0zm2 0zm1 2zm0 2zm0 3zm-5-1zm-1 4zm5 1zm5-3zm1 5zm1 2zm0-6zm2 0zm-2-3zm-4 0zm-1-4zm2-1zm2 1zm3-1zm-2-2zm-1-1zm0-6zm-1 2zm-2 3zm1 1zm-2 1zm-3-5zm1-3zm-6-2zm8-1zm2 3zm1 0zm7 0zm3 0zm1 12zm-3 1zm27-31zm-21 4zm-1 1zm-3 4zm1-6zm-2-2zm-2-2zm3-2zm1-2zm6 4zm-3-5zm-2 0zm13-12zm-1 3zm1-10z" stroke="#686868"/>
<path d="M1682 658zm-8-10zm-6 5zm-1-6zm13-2zm23-4zm8 0zm-3 7zm-2 7zm5 9zm6-8zm6-8zm-2 6zm-4-3zm1-3zm-6-3zm2-4zm11 5zm3 9zm7-5zm4-6zm-2-1zm6-1zm7 1zm3 13zm8-42zm-4 16zm-17-4zm1-3zm-12 0zm18-12zm-3 4zm6 7zm3 0zm3-12zm2-2zm1-12zm-7-4zm-3 4zm2-3zm-6-1zm-1 3zm4 12zm-14-15zm-5-4zm2-5zm6-5zm-61-4zm-9 3zm2 20zm-3-1zm13 4zm14 2zm-2-4zm0-12zm-4 0zm16 5zm3 0zm3-8zm15 0zm-1 8zm-2 0zm-7 3zm11 1zm-5 6zm2 5zm-15 0zm-7-8zm2 2zm4 21zm2-6zm4-1zm15 4zm-2 1zm-10 16zm-1 2zm-7-2zm-1-3zm0-1zm-3 3zm-18-2zm-1-2zm-4 1zm0-3zm12-7zm-24-13zm-1 7zm-2 9zm-1 3zm7 2zm-2-3zm9-2zm-6 9zm-5 3zm-2 3zm-15-1zm-2-8zm12-13zm-8-5zm-3 6zm2 3zm-1 0zm-15-6zm-1 3zm6 16zm7 5zm-22-2zm-8-3zm-13-17zm11-7zm5 1zm7 12zm1 0zm0-15zm-1-5zm-4 3zm-21 0zm4-4zm2-8zm-2-4zm37-11zm2 10zm-12 4zm-1 0zm2-1zm5 7zm-4 6zm8-2zm-3-6zm3-2zm11 10zm8 1zm1 1zm-7-23zm-2-4zm-3-3zm7 3zm4-6zm-21 75zm5-4zm11-3zm1 5zm4 5zm-10 0z" stroke="#00a800"/>
<path d="M1667 668zm-1-5zm12-2zm63-31zm-13-24zm4-9zm10-11zm-10-1zm13-44zm-14 10zm-35 2zm16-6zm15-17zm-51-3zm3-13zm-7 1zm-6 21zm9 42zm6 3zm45 12zm-5 9zm-24 9zm7 0zm5 13zm-27-11zm-31 23zm1-8zm-1 0zm-2-1zm8-18zm-3-1zm-3 4zm-11 8zm2-1zm-1 0zm0-2zm2-8zm-3 0zm1 6zm-1 0zm-4-6zm-4 1zm3 7zm4 2zm-3 2zm-1 0zm-3 5zm2 2zm10-4zm-20 9zm2-6zm0-2zm-5 2zm-4 4zm-1 0zm6 3zm-8-1zm-1 0zm-3 0zm1-9zm-2 3zm4 1zm1-4zm-1-4zm0-2zm-4 1zm0 1zm0 3zm-2 0zm-4-1zm-3-3zm6-7zm-6-3zm9-1zm-1 2zm0 2zm3 1zm2-1zm2 2zm2-3zm0-1zm5 0zm1 4zm-5 1zm-2-2zm0 5zm4 2zm2 0zm4-1zm-2 3zm3 1zm3-2zm-2-13zm-3-1zm6-14zm-6-1zm-1 5zm-4 2zm1-6zm-1-1zm-4 8zm2 1zm3-1zm1 3zm-2-1zm0 1zm1 2zm-2 2zm-1 0zm1-1zm-2 0zm-8-2zm2 3zm-5 0zm-2-3zm0 3zm-4-4zm2-3zm1 0zm2 0zm1 0zm0-2zm-2-1zm1 2zm-3-1zm8-5zm-2 4zm1 1zm5-2zm0-4zm-1-2zm-1-4zm-5 3zm-4 1zm-1 1zm2-6zm0-3zm-4 1zm2-6zm10 4zm3 2zm3-4zm3 0zm0-1zm0 5zm-3 0zm1-2zm-1 0zm1 9zm1 0zm2-1zm0-3zm-2-2zm7 0zm-1 7zm1-1zm0-2zm1 2zm3-3zm-2 0zm0-1zm-1-2zm-4-2zm1 0zm-1-4zm1 0zm4-2zm3 2zm0 1zm1 2zm4 0zm-1-3zm10 4zm-3-2zm3 4zm1 3zm-5 3zm-2 0zm-1-3zm-6-1zm1 6zm3 6zm-2 3zm-1 5zm3 1zm0-6zm2-1zm2 0zm0 6zm1 0zm1 1zm2-2zm1 0zm-1-2zm-2-7zm4-2zm6 2zm-2 5zm-1 2zm-1 3zm7-4zm-6-12zm-2-5zm1-4zm-1-7zm-6-3zm-2 2zm3 0zm-6 0zm-2-1zm0-1zm-3-5zm11-3zm-3-6zm-2-1zm-5-1zm4 0zm1-2zm3-2zm9-6zm4 3zm-3 10zm5 1zm2-11zm-2-10zm-3 5zm-2-13zm8 3zm-5-16zm-13 9zm5-11zm-4 0zm-1 3zm-5-5zm-3 4zm6 5zm-1 1zm-1 0zm-1-1zm-3 3zm-1 2zm1 5zm5 2zm1-4zm5-2zm3 5zm-7-1zm1 2zm-5 9zm1-2zm-3-2zm-4 2zm-3-4zm-11 3zm7-4zm-3-3zm-2 0zm0-4zm12 3zm-6-9zm0-6zm-1-1zm-2 5zm1 4zm-5 2zm-8-5zm5-10zm-6 4zm-7-4zm-1 0zm0 14zm2 5zm5 2zm2 0zm2 5zm4-1zm-6 4zm0 1zm-6-6zm-3 4zm0 7zm7 0zm0 1zm-6 1zm-1-1zm0 4zm1 1zm-1 6zm2-3zm2 3zm6-5zm1 2zm2-1zm2-2zm-1-2zm0-1zm-4-2zm1-4zm17 5zm2 2zm-3-1zm-3 1zm3 3zm1-1zm0 2zm1 1zm-4 2zm-4-6zm-5 4zm1 7zm3 4zm3-2zm-1-1zm6-4zm0 1zm3 0zm-1 3zm-8 9zm0-2zm0-2zm-5 1zm-6 3zm0-1zm-3-3zm0-4zm2 0zm-3 2zm-2-2zm-1-1zm2 1zm-1-3zm-2 1zm-1 1zm-2 4zm2 7zm-6-3zm-3 3zm1-2zm2-12zm0 2zm-3-1zm1 2zm-1 2zm-2 1zm-3-3zm2 1zm-4-3zm-1-1zm-1 0zm1 3zm2 1zm-2 6zm4-2zm0 2zm0 4zm-3 0zm1-2zm-3 2zm-5 0zm-11-4zm5-3zm1 3zm0-2zm1-1zm-3-1zm1-6zm3 1zm1 5zm6-8zm-2-7zm-11 3zm-1-6zm0-1zm2 0zm0-4zm2 1zm0 1zm1 1zm3-3zm-1 3zm0 1zm4-4zm5 2zm2-2zm1 0zm2 2zm1 0zm-1 1zm0 3zm-5-2zm0 4zm2 1zm2 4zm0 1zm1 0zm3-5zm2-1zm-2 6zm5 0zm0-6zm-6-3zm1-2zm5-7zm-4 0zm1 0zm0 1zm-1 1zm-4 0zm0-2zm1-2zm-5-6zm1 1zm1-5zm5 6zm4-3zm0-7zm-3-12zm-1 3zm1 4zm-7-5zm-3 6zm0 1zm6 4zm1 2zm-12-14zm-5 5zm-1-4zm-3 2zm-2 4zm7 0zm-3 4zm0 3zm-2 7zm0 1zm1-3zm10-3zm0-1zm-1 6zm3 8zm-10 0zm0-1zm-3 0zm-9-2zm-1 2zm-4-1zm1-3zm2-5zm-5 1zm10-6zm2-9zm1-4zm-7 0zm-2 4zm-4 7zm-8-3zm0 1zm5-3zm-4-8zm-9 4zm5 6zm-5 5zm8 7zm1 3zm2 1zm-1 5zm-12 9zm0 5zm9-2zm0 1zm1 3zm3-2zm1 0zm1-2zm0-3zm-4-1zm-2 0zm7-2zm3 0zm2 0zm5-2zm2-2zm-1 4zm-3 1zm6 4zm-1 0zm-6 1zm-2-1zm2 10zm-1-2zm3-1zm3 12zm-3-1zm-1 1zm-2-1zm-1-3zm-2 1zm-2 0zm1 5zm-9-3zm4-3zm2-1zm-4-6zm-4-1zm-4-1zm-3 3zm3 7zm1 4zm-1 0zm-1 5zm2 1zm1 3zm0-1zm1 1zm0-5zm0 1zm5-1zm0-1zm-1 0zm-1 7zm-1 2zm3-2zm2 0zm0 2zm-5 5zm-1 0zm-6-2zm2 0zm0 1zm2 2zm-1 2zm-4 9zm6 2zm1-3zm-1 1zm-2-2zm2 0zm5 1zm1 3zm2-7zm-1-1zm-4-5zm2 0zm8 0zm4 6zm8 9zm0-9zm-4-4zm-2-1zm4-5zm-4 1zm2 2zm-9-3zm1 0zm-3-2zm1-7zm-1 0zm11-1zm-3 0zm0 4zm12-1zm-2-1zm-2 3zm7 6zm-2-4zm8 5zm-2-7zm0-6zm1 1zm4 4zm0 1zm3 0zm2-2zm2-2zm2-2zm0 2zm2 6zm1 2zm2 4zm-6-2zm-2 1zm-2 1zm2-3zm-1-4zm0 2zm-2 3zm-1 0zm-1 2zm-1 0zm7 7zm0-1zm1-4zm2 2zm3-3zm-1 5zm1 2zm-3-1zm3 2zm-8 5zm2-3zm-7-1zm-8 3zm1 0zm1-2zm-1-1zm4-1zm0 1zm1-4zm-6 0zm1 2zm-5-3zm3 1zm0-1zm-3-1zm-3 8zm2 0zm0-1zm4-1zm-1 1zm-1 3zm1 3zm-2 7zm-3 0zm-1 7zm6-1zm1-2zm0-2zm1-1zm4 4zm0 3zm1-5zm-1-1zm3-1zm-1-1zm-6 0zm0-4zm7-2zm1 4zm2-1zm3-4zm6 1zm2 6zm-5-3zm5 6zm2 3zm-2 1zm-4 1zm-4 0zm-2 4zm-2 4zm3-3zm1 0zm0 1zm4-3zm3-2zm3 0zm0 3zm-7 1zm0 7zm-7-2zm-2 6zm-4 0zm0-2zm2-8zm-3-4zm1 3zm-3 3zm-4-6zm0 2zm-1-3zm-2 4zm-1 8zm-4 2zm-8-2zm-3-3zm5-2zm-1-1zm-5-3zm6-2zm3 5zm1 0zm1-1zm4-9zm-5 3zm-1-2zm5-13zm-4 3zm-7 4zm-2-1zm3 4zm3 3zm-4 0zm-4-2zm-1-6zm1 0zm-6 0zm2-1zm0 3zm-11-4zm1 2zm1-1zm-2 2zm4 2zm1 0zm-3 7zm0-3zm-1 0zm1 4zm1 0zm-2 7zm2 0zm3-4zm7-1zm2 5zm-6-3zm-1 1zm2 5zm1-2zm1 0zm2 2zm-1 0zm-3 4zm-2 1zm-3-3zm2 0zm-2-2zm-4 1zm1 6zm16 5zm3-2zm9-4zm-2 9zm3 0zm-20 8zm31 19zm13 16zm-3-34zm-8-10zm-2 4zm-9-10zm9-2zm-2 2zm5 3zm-1-3zm3-2zm2 3zm1-2zm8 5zm7 0zm7-2zm7 6zm-10 2zm-5-2zm15 10zm-5-2zm15 7zm1-8zm-2-5zm-8-9zm15 4zm2 4zm6 4zm-3-4zm6-9zm-2-1zm15 4zm-2 23zm-11-10zm-37 17zm-75-34zm2-7zm2-2zm0-2zm-2-2zm2-1zm-6-3zm1 5zm-5 2zm3-5zm0 6zm-13-2zm5-10zm-2-4zm-8-8zm7 6zm3-4zm1-2zm0 2zm3 1zm2 1zm2 3zm-1 0zm-2 0zm-2 0zm0 8zm5-1zm0-4zm2 1zm1 3zm5-2zm-3-10zm2-3zm-2-7zm-4 1zm-7 3zm0-1zm-1 0zm2-2zm4 0zm-2-5zm0 3zm0-4zm2-3zm3 1zm2-1zm-1 3zm5 4zm-7-8zm3-4zm3-2zm0-1zm-1-8zm-5 4zm0 2zm-1 1zm-1 0zm-3-4zm0 3zm-3 4zm1 0zm1-1zm-3-3zm-10 13zm7 6zm-29-64zm-8-8zm-5 22zm0 13zm30-16zm10 2zm5 22zm8-12zm0 3zm0 3zm-5-1zm-1 4zm10 0zm-3 3zm1 2zm1-1zm3 2zm-4-9zm0-2zm-1-1zm7-1zm-1-6zm1-1zm-6 2zm1 2zm-6-5zm8-7zm-16-8zm14-32zm-13-2zm-3 6zm-10-15zm31-5zm-6-14zm-5-2zm-22 14zm81-110zm12 14zm-4 0zm0 12zm-8 10zm-8-12zm0 5zm12 14zm11 17zm-44-19zm5 52zm-14 7zm1 4zm-5 27zm8 1zm0-1zm2-13zm8 6zm-2-1zm-2 0zm0 4zm-3 5zm7-2zm7 1zm-3-21zm-11 4zm0-5zm5 1zm1-3zm-2 0zm-3-4zm4-1zm23 1zm-2 7zm4 3zm-14 6zm0 12zm2 1zm2-2zm0 2zm5-2zm3 1zm-1-9zm4-5zm5 0zm-1 4zm-3 1zm1 1zm6 4zm8-2zm-6-4zm2-12zm-2 1zm-2 4zm-2 1zm-2 0zm1-7zm-1-2zm0-5zm4 3zm5-1zm2-12zm-4-6zm-7 13zm-2 0zm-14-3zm41 21zm-3-2zm-3 2zm-1-3zm1 0zm0-2zm-1-2zm-4 6zm4 11zm1 0zm3 6zm2 0zm1-3zm3-7zm8-3zm-1 4zm-5 5zm0 2zm4 2zm9-2zm-1-8zm-5-2zm6-6zm1-2zm-6 3zm-4-3zm1-1zm-1-5zm11 0zm0 15zm3 7zm-3 3zm6-3zm2-3zm3 5zm7-14zm19 2zm-1 13zm6-12z" stroke="#00c4f0"/>
<path d="M1636 555zm6-9zm3 4zm16-12zm-22 4zm-28-11zm5 23zm-27 5zm7-1zm-11-20zm3-23zm-3 2zm-22 19zm-7-1zm7-23zm-2 0zm0 3zm-161 137zm3-7zm113-32zm-11-22zm-15 3zm6-1zm-4-2zm-3-2zm-3-5zm0-7zm-4 5zm-3-4zm-1 19zm-2-3zm-59 28zm27-25zm20 5zm0-12zm21-71zm9 15zm9-3zm-4 5zm1 3zm-27 2zm5 29zm4 3zm0-1zm3 2zm2-3zm1 3zm2 1zm0-2zm4-5zm2 1zm4-19zm16-5zm-1 11zm-4 2zm0-26zm-4 3zm-3-5zm1 0zm2-1zm1 2zm5-2zm0 2zm1 3zm3-7zm-1-1zm1-5zm-1-1zm-2 1zm-2-1zm-1 7zm0-3zm-2 0zm-3-1zm1-2zm1 1zm1-4zm6 0zm1 0zm3-2zm-2-1zm-1-3zm2 1zm2 1zm13-1zm-8-16zm-5 10zm-7 3zm12-19zm2-2zm2 2zm0 3zm3-2zm2-3zm0-3zm1 0zm-3 1zm-4-1zm0-18zm5-7zm-2 2zm-1 0zm-2 0zm0-1zm0-1zm1-2zm3-3zm-5 5zm0 1zm119-112zm-2 1zm-3 0zm-1 0zm1-1zm1-1zm2-4zm3 2zm-8-4zm-1 2zm1 3zm-2 3zm0-1zm-1 1zm-4-1zm1 0zm5 3zm1 1zm-2 0zm0 3zm1-1zm-4 0zm-2 1zm0 10zm4-4zm9 2zm2-8zm-5 2zm1-6zm6 0zm14 8zm-1 4zm1 1zm0 1zm-4 0zm-4-1zm-1 0zm-1 1zm0-5zm-3 5zm1 1zm-1 7zm2-3zm0 3zm3-6zm1 2zm4-2zm2 0zm1 2zm-4 1zm-1 1zm-2 1zm0 3zm1 2zm3-1zm1 3zm1-1zm1 1zm-8 1zm-2-2zm2-4zm-1 0zm-4 2zm-2-1zm0 5zm-2 0zm1-2zm-3 1zm-4 2zm1-1zm0-1zm4-4zm0-4zm2-1zm-6-4zm0 7zm-1 0zm-1-1zm-3-2zm1-3zm-1 0zm-1 3zm-3 4zm1 3zm3-2zm0 2zm0 2zm3 1zm0 1zm-4-3zm-2 3zm-1 0zm-4-2zm2 0zm-6 0zm2 1zm0 1zm-4-6zm-1-3zm2-3zm3-3zm0 2zm-1 2zm4 0zm0 2zm2-2zm0-1zm0-6zm-3 1zm-1-4zm2-8zm-3 3zm-3-5zm-1 13zm-8 16zm-26 17zm7 12zm1 4zm-2 1zm0-1zm-12 11zm7-5zm2-3zm0-1zm3 1zm0-1zm2 4zm1 0zm2 0zm-5 3zm1-3zm-2 2zm3 3zm-5 0zm-7 3zm0 1zm3 0zm-3 4zm2 1zm1 2zm2 3zm0-5zm-8 6zm0 1zm2-3zm-1 1zm0-5zm-6 0zm2 3zm-1 2zm-2 0zm-1 0zm-2-3zm2 0zm-4 3zm0 4zm2-2zm0 1zm1 3zm2 1zm-3 0zm-3 0zm-1 1zm-3-1zm1-1zm1-1zm0-3zm-4-1zm-4 6zm-20 16zm3 0zm4-3zm-1 3zm5-1zm0-1zm-1-3zm-1 0zm3-3zm6-1zm1-3zm-1 0zm3 0zm2-2zm3 2zm-1 0zm2 2zm1 2zm0 1zm-3-1zm-2 3zm2 4zm-7 1zm0-1zm-1 0zm2 0zm-6-1zm1 0zm2 2zm0 1zm-3 1zm1 1zm0-1zm1 0zm1 1zm0 1zm0 1zm-2 2zm-1 0zm0 1zm1 0zm2 1zm-1-2zm2-3zm1-2zm3 3zm6 2zm0 1zm-4 1zm1-2zm-2 3zm-1 1zm4-1zm-2 4zm0 1zm-1 2zm-2-2zm0-2zm-1 0zm-1-3zm-2 3zm-3-1zm2 5zm-5-2zm-1 1zm1 1zm-2-1zm-1-1zm3-4zm-1 0zm0 2zm2-5zm-2 1zm2-3zm-2-2zm0 1zm-3-1zm-1 3zm1 0zm-2 1zm-1 1zm-2-3zm1 0zm2 0zm-1-1zm-3-3zm-2 1zm1 3zm1 11zm-1 0zm-1 2zm-1 5zm7 0zm-1-2zm0-2zm-1 1zm-1 0zm0-2zm9 0zm1 0zm1 1zm-4 4zm0-1zm-3 2zm0 6zm-1-5zm-7 4zm2 0zm-1 6zm1-2zm5 0zm-1 7zm12-7zm0 10zm2 4zm3-24zm-4-4zm-3-2zm4 0zm1 0zm0 1zm10-1zm1 2zm15-1zm-11-2zm-1-2zm0-2zm2-2zm0-3zm-2-2zm11 3zm-12-17zm-1-2zm2-3zm2 0zm2-1zm6 0zm27 45zm31-39zm-4-5zm14-12zm1-1zm3-17zm-28 26zm-2 1zm-19-8zm0-11zm-1-10zm8 4zm9-1zm-11-11zm-3-8zm9-8zm-5 2zm-3-4zm4-5zm1 4zm19 0zm-3-2zm1 2zm-3 0zm5-3zm0-2zm6 4zm-1 1zm2-4zm3-2zm1 2zm1 0zm0-1zm1 0zm2-1zm-1 3zm0-1zm-1 3zm2 0zm0 1zm-4 1zm-1-3zm6 5zm-14 2zm18 11zm-2 1zm9-13zm-8 0zm4 1zm1-7zm-3 1zm1 1zm-4 0zm1-2zm-2-2zm5 0zm3-1zm1 0zm0 3zm2 0zm5-4zm1-3zm0-3zm4-1zm-1-2zm0-4zm-3-5z" stroke="#0a6030"/>
<path d="M1681 541zm11-7zm-5-10zm-18 20zm22 10zm-48 1zm-6-9zm21-9zm-11-18zm-28 18zm11-8zm-1-7zm-29-7zm7 25zm-6 10zm-18-2zm-3-2zm13-2zm-7-3zm-8-15zm-8-4zm10 8zm-3 4zm5 9zm-21-3zm-7-9zm8 2zm4-4zm-24-13zm-5-3zm9 26zm-75 25zm-3-9zm0-8zm33-9zm-13 3zm-9 20zm15 4zm7-15zm25 0zm0-2zm-4-28zm0 6zm3-3zm6 1zm1 2zm-19-22zm-2-3zm-7-5zm22-30zm8-1zm-41 41zm156-195zm2 0zm4 0zm0-1zm1 2zm3 6zm-3-2zm1 3zm-2-1zm-2 1zm-1-1zm3-1zm-2-5zm-3 3zm1-1zm-1-2zm-1 0zm-1 5zm1 0zm0 1zm-4-2zm-2 3zm-3 0zm0-2zm1-1zm4-3zm0 2zm0-1zm2-1zm-2-2zm-10 4zm4-1zm-1 1zm-1 1zm-2 3zm0-1zm-6-1zm-1-3zm-1 2zm-1 3zm-3 0zm-5 0zm1-6zm3 0zm0-3zm-5-1zm12 2zm0-1zm2-1zm-19 14zm0 3zm-1-2zm0 7zm3-1zm-1 3zm0-1zm1 0zm-9 2zm1-2zm-6 7zm6-3zm1 3zm-1 4zm-3-1zm-2 0zm2 4zm-2 4zm2-1zm-1-1zm2 1zm2 0zm1-3zm-3-2zm8 6zm-3-7zm1-2zm-2-5zm6 2zm2-2zm2 3zm1-3zm1 0zm2 5zm-4-1zm-1 3zm-1 2zm1 2zm1 1zm3 0zm2 3zm-1-3zm2 3zm4-1zm3-2zm0-2zm0-1zm-1-2zm1-2zm-3 2zm-4-2zm0-2zm0-1zm2-1zm2 1zm3 1zm0-2zm-3-3zm1 0zm-1-3zm-4-2zm2 6zm-4 0zm0-3zm-2 3zm-4-5zm1 0zm-1-2zm6 3zm-4-4zm1-2zm0-4zm2-1zm1 1zm4-1zm1 2zm-3 0zm0 2zm1 0zm7-4zm2 3zm1-2zm4 3zm0 2zm-5 1zm-1-3zm-1 1zm0 5zm1 2zm-1 3zm6-2zm3-4zm1 1zm-2 0zm0 4zm2-1zm3-4zm0-5zm-3 3zm-1-2zm5-4zm5-1zm-2 5zm-1 0zm3 1zm-1-2zm2 0zm3 3zm0-2zm-3-3zm2-1zm2 0zm6 2zm-3 1zm3 5zm-2 3zm1 1zm1 2zm-2-1zm-2-1zm-2 0zm1 2zm-3 0zm0-5zm-6 4zm0 5zm1 2zm1 1zm2-2zm1 2zm2-4zm-1 0zm0-1zm4-1zm2 1zm1-1zm1 0zm1 0zm-4 6zm-1-1zm1 4zm0-1zm1 0zm3 1zm-3 3zm1 0zm-8 2zm2-4zm-1-2zm-2 0zm0 2zm-3-1zm-1 3zm3 0zm0 1zm-3 1zm-2 1zm0-3zm-6 1zm0-1zm4-4zm0 1zm3-7zm-1-1zm-2-1zm-3 2zm0 2zm0 3zm-5 0zm0-4zm3 5zm0 2zm0 4zm-3 0zm-1 1zm0-3zm3 6zm1 0zm-2 3zm0-1zm0 2zm-5 5zm3 4zm2-3zm0 3zm2 0zm4-7zm-2 6zm1 0zm3-5zm0-4zm-3 0zm1-3zm5-1zm1 3zm-1 2zm5-1zm-1-3zm3-1zm0-1zm2 4zm0 3zm-3 3zm-1 1zm-2 1zm-3 4zm5 8zm-7 4zm-2-9zm-3-3zm-1 1zm-5 0zm-2 0zm-1 9zm-15 1zm0-3zm3-2zm1 1zm-4-2zm2-3zm-1 0zm-2 0zm1-1zm6 0zm1 0zm3 0zm-1 0zm-1 3zm5-1zm-2-1zm0-1zm2-1zm1 1zm0-5zm0-5zm0-1zm-2-1zm2-4zm-2 0zm-3 2zm-2-1zm2 3zm-4 2zm-1 0zm0-1zm2-4zm-1-2zm-1 0zm-3 2zm1 0zm-1-2zm-1 3zm-1 2zm3 1zm-3 0zm0 1zm0 1zm0 2zm1 0zm1 1zm4-3zm-1 2zm-1 3zm1 2zm0-1zm-2-2zm-4 3zm-3-3zm-1 3zm-3 0zm0-6zm4-4zm2-2zm-2-3zm-3 5zm-5 1zm0-1zm1-4zm-1 1zm-3-2zm-1 0zm2 5zm-1 2zm-1 4zm1-1zm2 1zm-1-2zm0-1zm3 0zm2 1zm0 4zm-1 2zm-3-2zm-2 1zm0 3zm0 2zm3 0zm0-1zm7-1zm2 0zm2-1zm-2 3zm2 2zm-2 2zm-3-1zm-1 5zm3-3zm1 1zm-1 4zm-6-4zm-5 0zm-1-1zm0 1zm-1 4zm-6-1zm-1-3zm5-1zm2 0zm-1-1zm-2-1zm2-1zm0-2zm0-2zm-2 2zm-1-1zm-2 4zm-3-2zm0 1zm1 7zm2-13zm5 0zm1-5zm-3 1zm3-4zm-1-1zm1-1zm-2 1zm-2-1zm1-8zm-5 2zm-16 48zm7-1zm2-9zm3 0zm11-4zm-1 5zm-5 6zm0 2zm-4 1zm-4-3zm1 6zm4 4zm6 8zm-12-1zm-6-4zm-1-3zm-1 1zm-5-7zm1 10zm11 17zm-3-6zm1-4zm13 21zm-16 5zm-32-7zm14 19zm0 17zm-22 12zm9 2zm-8 18zm5 2zm16-10zm3-2zm-4 1zm-3-15zm18 5zm-1-18zm5 0zm6-8zm20-11zm12 3zm7-3zm2 2zm2 5zm1 46zm9 6zm8-10zm-3-36zm16-11zm-9-18zm7-8zm-23 2zm5 6zm7 0zm1 3zm-4 1zm3 8zm-1 1zm-4 0zm0-3zm-9 3zm-7-6zm-3-1zm3-3zm-3 0zm-4-2zm1 14zm-13-7zm10-16zm-7-2zm0-1zm-4-2zm2-2zm1 0zm4 2zm-2 3zm5-2zm1-4zm15-12zm-9 6zm3 3zm-20-12zm12 2zm-9-5zm-4-10zm1-1zm0-2zm0-1zm1 3zm3-1zm1-2zm6 2zm6 1zm-3 8zm2 3zm5-6zm7 4zm-2-5zm13 1zm-8 15zm7 3zm3 1zm9-2zm17 67zm-6 25zm52 9zm-48-142zm-4-24zm0-9zm2-9zm1-1zm0-3zm-2-1z" stroke="#f000a0"/>
<path d="M1565 513zm-22 23zm-62-11zm19-4zm-11 22zm32-12zm8-11zm6-1zm-20-19zm11-44zm82-124zm19-11zm25 22zm3-5zm-36 26zm-19 7zm8 0zm-33 18zm2 2zm13-3zm3-2zm-1 5zm0 5zm-2-1zm1-2zm-1 10zm-1-2zm4 4zm-13 6zm0-6zm-5 1zm0 6zm2 10zm9-3zm13 13zm-24 11zm-9-26zm-9 0zm-15 29zm2 6zm6 31zm31-30zm21-5zm4 1zm3 0zm6 0zm0-1zm3 3zm-2 3zm4-1zm1 2zm1-2zm0-1zm1 0zm1 0zm1 9zm7-10zm8 4zm1-1zm6-1zm-2-3zm4 4zm0-11zm2-6zm11 2zm-12-17zm-2 4zm5 1zm-7 2zm-5 0zm2-1zm-1-9zm-1-3zm-7 2zm-2 5zm0 2zm1 1zm4 0zm1 4zm-4 1zm0-2zm-1 2zm0 2zm1 1zm0 5zm2-2zm3 1zm-1-4zm-2 0zm1-1zm-1-1zm7 2zm3-2zm-1 2zm-2 2zm4 6zm-8 4zm-2 1zm-1 0zm0-3zm1-2zm-5-2zm2 6zm1 0zm-2 0zm-2-2zm-3 0zm-2-1zm0-3zm4 1zm-3-6zm0-2zm-4 6zm-2-7zm-1 0zm-3 1zm0 7zm1 3zm4-2zm1 2zm-10 2zm-4 1zm-8-2zm4-10zm5 0zm0 4zm0 1zm2 0zm0-4zm2-8zm1-3zm-4 2zm0 5zm-2-1zm-6 1zm-1-11zm1-1zm-2-2zm2 0zm8 1zm-2 5zm0-1zm5 1zm-1-4zm0-1zm2-2zm1 2zm7-1zm0 4zm-5 2zm1-2zm0-1zm-2 7zm-1-1zm7 5zm0-3zm-3-2zm3-1zm0-1zm1 4zm3 3zm3-10zm-3-2zm0-1zm-3-1zm7-2zm-1 0zm-3-1zm-3 0zm5-6zm1 3zm1-6zm-1-5zm0 1zm-1 0zm-2 2zm-3 4zm-2-4zm-3-2zm3 7zm-2 7zm-2-1zm-2-1zm-3 0zm2-1zm-8 1zm-2-1zm-3 1zm2-6zm-2-4zm7 4zm5-2zm0-6zm-5-5zm0 3zm-3-1zm-2 2zm-2 1zm5-7zm-3-3zm7 2zm1-2zm0 1zm2 0zm0-3zm7 0zm0 3zm-4 0zm-1 8zm7 1zm1 0zm4-2zm2-2zm-2 0zm1-6zm-4 1zm20 8zm-9-2zm3-2zm-3-1zm0 1zm-1 1zm-2 0zm0 4zm3 1zm1 7zm-5 2zm2 1zm1 1zm3 3zm-1-6zm2 0zm7 2zm-6-6zm1 0zm-1-1zm4-2zm10 4zm-4 5zm-1 0zm-1 3zm0 1zm7 0zm9-77z" stroke="#f060c8"/>
<path d="M1694 522zm-14 24zm-43 73zm-1 1zm-9 10zm-2-9zm3-21zm-14 4zm-10-20zm28 12zm18-15zm-10-32zm9-19zm-15-18zm1 17zm11 13zm-12-3zm1-2zm-10-11zm0-3zm0-9zm-5-1zm-16 22zm21 16zm1 7zm-2 9zm-56-21zm12 2zm16-6zm-8-4zm-14-23zm-2 25zm-3 3zm-2 0zm-3-3zm3-4zm-5-1zm-4-21zm-1-2zm-2 1zm-3 1zm0 3zm2-1zm4 7zm-1 1zm-6 2zm-2-2zm-1 3zm-4-1zm0-1zm1-3zm1-2zm3 3zm1-3zm1-5zm0-3zm-5 3zm-1-3zm-1 5zm-2 2zm-2-1zm0-2zm2 0zm1-1zm0-3zm-6 2zm2 3zm0 2zm-2 1zm6 4zm-5 2zm-2 1zm0 2zm1-1zm4 0zm7 3zm-5 9zm-1-1zm1-1zm-1-2zm-1 2zm-3 5zm-2 2zm5 1zm-1 3zm2 9zm19-11zm4 21zm-28-3zm4 30zm17 3zm32-13zm-17 21zm-1 8zm-2 1zm-1-2zm13 1zm-14 20zm4 2zm-18-11zm12-5zm-17 7zm10 15zm-42-23zm15-2zm-5-15zm-3-17zm-6-3zm-10-6zm-2 8zm-18 12zm0-3zm12-11zm-1-6zm-5 5zm-4-2zm-1 1zm-9 4zm7-1zm-2-2zm2-2zm-10 2zm0-1zm-6 12zm-8-31zm6 6zm1-6zm-3-2zm-1-3zm0-3zm3 0zm0 2zm0-1zm-1-5zm1-2zm-2 2zm-9 5zm2-1zm-1 5zm-1-16zm8-3zm-1 2zm3 1zm3 1zm-3-4zm11-17zm4-1zm-2 2zm0 1zm2 3zm1-2zm0 2zm3-2zm-5-7zm3-6zm2 3zm13-3zm3 1zm-2 2zm0 4zm0-1zm-1 1zm-1 8zm-1-1zm1-2zm-1 0zm-5 0zm2-4zm-1 0zm-1 2zm-1 1zm-1-3zm-1 10zm1 0zm4 3zm6-4zm1-1zm0 3zm-2 2zm0 5zm0 2zm1 1zm-6-1zm-3-1zm-2-1zm1-2zm0 6zm-4 1zm-1 0zm1-1zm-7-1zm1-1zm4-4zm2 1zm-6-9zm-3 4zm-2-2zm-1 0zm-3-1zm1 4zm2 5zm2 4zm-3 1zm1 1zm0 6zm2-2zm0 1zm4-4zm5-1zm1 5zm0 2zm-3 5zm-1 2zm-2-2zm-5 2zm0-1zm2-3zm0 7zm-6 9zm10-6zm3-1zm1-3zm3 3zm4-3zm-1 7zm-2-2zm-1-1zm-1 0zm1 2zm2 6zm2-3zm3-1zm1 0zm2 2zm0 1zm2 2zm1-2zm-1-1zm2-1zm0-5zm-5 0zm0-2zm-2-1zm2 0zm4-1zm1-1zm-3-2zm-1-3zm-2-1zm-1 0zm-7 4zm0-2zm0-1zm4-4zm-4 1zm2-3zm5 1zm2-1zm2-2zm1-2zm3 6zm5-2zm-1 1zm1-4zm3 1zm7 0zm-1 4zm-1 0zm-3-1zm0 5zm1-2zm1 1zm-4 6zm-1 0zm-2-2zm1-5zm-2 0zm-3 2zm0 1zm-1 0zm3 1zm-2 2zm-1 5zm2-3zm2 5zm-4 0zm0 4zm7 6zm4-7zm-2-2zm1-5zm1 0zm2-1zm8 3zm-3 5zm6-6zm7-5zm-15-4zm0-2zm1-5zm7 1zm1 1zm4 2zm-2-7zm-2 0zm0-7zm2 1zm0-1zm3-2zm-4-4zm-1 1zm0 3zm-3-2zm1 0zm-7 0zm0 1zm5 5zm-1 1zm0 2zm-2 1zm0-1zm-1 2zm-2-7zm-6 0zm-3 5zm0-3zm0-1zm1-1zm-3-1zm-1-6zm1 1zm6 5zm2-6zm1-9zm-4 6zm-5 0zm0 1zm-3 0zm5-4zm1-2zm-3-5zm4 0zm3 1zm2-5zm5 2zm1 0zm0-1zm3 3zm0 2zm-4 0zm-2-1zm1 2zm2 6zm2 2zm1 0zm-2-6zm3 0zm4 2zm-3-1zm7 2zm-1-7zm-5-5zm1 1zm4 0zm-4-5zm5-5zm-2 0zm1-3zm1 1zm-3-2zm-2-1zm-2 3zm-7-3zm1 2zm4 4zm1 0zm-3 3zm1 1zm1 2zm-3 0zm-1-1zm-2 0zm-1 2zm-3-4zm-1-3zm-2 0zm1 4zm-9 3zm2-3zm4-7zm-2 1zm0 1zm-5-2zm2-2zm-1-1zm-1-1zm7-1zm2 1zm1 0zm1 1zm-3 3zm3 2zm2-11zm0-4zm0 2zm-4 1zm-2 4zm-1-1zm-2 1zm-2-4zm4-1zm4-6zm13 1zm0 2zm-4 0zm0-2zm3 8zm-1-2zm3-2zm0 5zm0 1zm5-3zm0-8zm-1 0zm-4 2zm2-14zm-2 1zm2 4zm-3-1zm-3 2zm-1 0zm-2-1zm5-2zm1-5zm-3-2zm2-1zm4-3zm1 1zm-3 1zm7 5zm0-8zm-7-3zm3-8zm-4 2zm-12 17zm-1 0zm4 1zm0 1zm0 6zm-3-3zm-2 1zm-15 13zm3-1zm0 1zm2 4zm0 3zm-2 4zm-3 5zm4 1zm-1 0zm1 1zm-4 3zm-4-1zm164-199zm-16 2zm0-2zm-14 0zm-18 22zm-4 4zm32-17zm3 14zm11 14zm0-4zm-14 15zm-6 7zm20-2zm3 6zm8 0zm-11 11zm-7 2zm-3-12zm-8-1zm-12 1zm8-6zm-4-12zm-5 6zm-4 2zm-2 7zm-4 5zm-3 9zm-11-2zm-5-2zm-1 1zm-2 0zm2 3zm-4 1zm-2-2zm-6 2zm-20 32zm4-1zm3 1zm0-11zm-2-4zm11-10zm-1 3zm3 1zm5 2zm-2-3zm3 0zm-1-3zm-6 1zm4-6zm11 2zm-3-1zm8-1zm-2 10zm4-1zm-4 4zm-3 0zm-1-3zm1-2zm-4 0zm0 13zm4 0zm-3-3zm0-1zm4 0zm6-1zm1 1zm-2 1zm0 4zm-4 0zm4 2zm0 2zm0 1zm-5 2zm-7-4zm0 1zm-6 3zm-3-4zm7-3zm-3-2zm0-2zm-4 0zm3 4zm-4-7zm-4 3zm-1-1zm1-2zm-1 4zm1 7zm3-3zm1 0zm-3 2zm1 8zm-3 8zm-1 1zm6 0zm3-1zm0 4zm2-5zm-2-5zm-2-4zm6 0zm4 2zm-2 4zm5-2zm0-3zm4 1zm6 4zm-5 1zm1-1zm0-2zm-2 1zm-1 6zm-1 3zm-5-5zm-2 8zm3 1zm1 2zm3 0zm5-4zm-2 8zm5 6zm-6-1zm-1-1zm-1 2zm-5-4zm1-2zm-3 2zm3 2zm-5 3zm-6-2zm5-3zm2-1zm-4-7zm-1-2zm0 5zm-5 1zm-3-5zm1 3zm0 2zm-2 0zm3 2zm0 2zm0 4zm-4 1zm-8-2zm-2 0zm-3 2zm0-3zm2-1zm2-6zm-3-1zm-1 0zm0-2zm-1 0zm9-1zm0 4zm4 0zm-1-1zm1-3zm-5-3zm2-4zm-5-9zm-5 6zm3 7zm-6 0zm-3 0zm-4 3zm7-1zm-2 3zm-3 4zm3 5zm-3 2zm-1 0zm-4 1zm2-6zm-2 1zm-4 8zm6 3zm-6-1zm1 10zm4-2zm1-1zm-2 0zm6-2zm-3 1zm1 2zm6 0zm-3-2zm2-2zm-1-3zm-4 0zm1-3zm4-2zm4 2zm0 2zm4 1zm0-4zm3-1zm2 3zm1-2zm2 5zm-4 1zm1-3zm-2 7zm5-3zm-6 5zm-2-2zm-3-3zm-3 1zm0 3zm1 7zm0 3zm2-1zm4-2zm-2 0zm5 0zm5 0zm-4 3zm-2 1zm1 1zm4 2zm-1 4zm-2 1zm0-2zm-5 0zm1 0zm-2-2zm-2 0zm-5 4zm-2-2zm0 1zm-3-2zm0-3zm1 0zm4 2zm0-4zm-1-1zm1-3zm1-2zm-5 2zm1-3zm-2 1zm-1 1zm-1 4zm0-2zm-4 6zm0-1zm8 9zm1-2zm2 3zm-4 7zm5 1zm-3 0zm-4 3zm-1 0zm-2 1zm0-1zm-1 4zm3 3zm-5 2zm-1 2zm2 5zm2 1zm-1-5zm3-2zm2 6zm6-1zm-3-2zm3-2zm-1-5zm1-2zm0-1zm1 1zm7 1zm-4 2zm0-1zm-2 7zm2 4zm0-1zm1-1zm0-5zm5-2zm2-1zm2-2zm1-1zm-1-3zm-1 0zm-4-4zm-4 1zm-4-3zm2 0zm2-1zm0 1zm-2-8zm2-1zm4 0zm3 1zm-1 0zm13 0zm2-1zm2 6zm-6 2zm-2 0zm-3 0zm1 4zm1 7zm0-3zm25-14zm1-18zm-8 0zm-4 5zm2-1zm1 1zm0 6zm0-1zm-1-1zm3 4zm-3 1zm-8-3zm-2 2zm-1 1zm-2-6zm-1 1zm3-3zm-4 0zm0-5zm8 0zm-3 2zm0 1zm3 2zm-1-2zm5 1zm0-2zm-3-10zm0 2zm-1-3zm-3 0zm2 7zm-3 0zm-2-3zm-4 1zm0-1zm2 0zm1-4zm1 1zm1-4zm-2-1zm-1 3zm-1 0zm0-5zm1-1zm7 1zm-1 4zm1 1zm2-3zm1 1zm1-3zm3 1zm2 0zm2 0zm1 3zm-6 1zm1 8zm1 0zm5-2zm-2-5zm4 1zm1 6zm3-2zm-5-8zm0-2zm5-2zm1 1zm8-1zm22 0zm-14 51zm14 9zm-1-6zm-5-19zm11 12zm26 4zm1-7zm-1-20zm-17-34zm0-2zm-4 7zm-3 1zm-4-2zm-2-4zm-8-6zm-8 9zm-5-2zm-8 4zm2-2zm0-2zm2 0zm1 3zm-1-9zm6-2zm4 3zm1-11zm-8 7zm-3-3zm-4 1zm6-7zm0-1zm-4 0zm2-5zm1 2zm6 0zm-2 3zm5 2zm-1-4zm9-1zm3-17zm-6-1zm-3 4zm1 5zm2-1zm2 3zm-1-1zm0 5zm-6-2zm-5-4zm-1 3zm2 2zm1 0zm-4 1zm-6-2zm0-1zm1 1zm4-9zm-1 2zm-2 0zm-3-1zm3-3zm2 0zm8-8zm0 1zm-4 0zm-1 0zm-2 2zm1-2zm1-7zm3 3zm3 0zm8 0zm-5 3zm2 3zm1-1zm0-1zm17-10zm-3 15zm14 7zm10-5zm11 68zm2 19zm12 17zm-19-123z" stroke="#f0b000"/>
<path d="M1792 631zm8 4zm-1 4zm0-1zm-5-3zm1-3zm-2 9zm1 0zm2 2zm-4 3zm0 3zm3 2zm-1 2zm2-3zm5-9zm-1 0zm0-1zm-7 17zm-35-15zm-3 3zm3 9zm-2 0zm2 3zm33 5zm-1-4zm-2-2zm-2 3zm0-2zm-1 4zm-2 2zm-2-1zm2-5zm-1 0zm-3 2zm-3-2zm0 4zm2 1zm-10 2zm-2 2zm1-4zm-1-2zm-6 0zm6-2zm2-1zm2 2zm-2-1zm5 5zm-1-9zm1 0zm-5-2zm2 1zm-5 0zm-1 1zm-2-7zm-2 0zm2-2zm1 0zm0-3zm-1 1zm2-3zm2 1zm2 0zm0 3zm2 2zm4 0zm1-1zm-1-2zm-1-3zm1 0zm3 0zm0 2zm3-2zm1 0zm-1 2zm3 2zm-1 1zm-4 2zm0-3zm-2 1zm1 1zm-1 3zm1 0zm1 5zm1-2zm4 0zm3-4zm1 0zm-2 5zm3 0zm3-2zm-1 0zm-1-7zm-2-2zm-2-1zm1-1zm1 1zm2-1zm1 2zm-2-5zm1-1zm0-3zm-3 0zm-2 0zm0 2zm-1 4zm-4-2zm-1-2zm3 0zm0-1zm0-6zm0 2zm-2 0zm-3-1zm3-3zm-2-1zm2 0zm10 5zm0-3zm-19-1zm5 0zm-2 2zm2 3zm-6 1zm0 2zm4-1zm1 1zm0 1zm-2-1zm2 3zm0 2zm-2-1zm-1-2zm-1 1zm-1 1zm-2 1zm-2-7zm-5 0zm0 4zm-6 2zm-2-4zm2-52zm-47-22zm-29-43z" stroke="#f07858"/>
<path d="M1402 625zm3 9zm-11 0zm-4 3zm-21 16zm22-7zm-2 9zm-8 1zm28-7zm17 4zm18-11zm23-1zm45-58zm0 16zm-4 7zm-5-26zm-10 1zm-10 7zm-1-9zm-10 13zm4 0zm8 0zm-4 7zm3 2zm17 7zm-4 6zm2 6zm-4 8zm-36 4zm9-13zm4 0zm-28 3zm9 17zm-29-6zm8-17zm1 0zm4 2zm19-15zm7-8zm0 3zm7 4zm-2-18zm-10 3zm8-5z" stroke="#b85000"/>
<path d="M1625 632zm-19-9zm-6-6zm21-21zm-10 5zm28-3zm9-14zm-41-23zm-35 14zm-3-20zm18-1zm-38 4zm3 0zm-8 6zm15 33zm-4 9zm10-4zm-8-25zm3 2zm13 11zm20-1zm-3 2zm8 5zm-12 7zm-14-8zm-19 37zm2-10zm-7 0zm0-14zm-152 14zm-4 7zm0 2zm11-4zm0-3zm4 0zm-1 4zm1 0zm-4 2zm-2-2zm1 7zm4 2zm-4 1zm-6 0zm1-2zm-5-4zm1 2zm-6-2zm3-2zm-11 9zm-9 18zm-17 3zm4-2zm-1-2zm2 0zm1-1zm-1-2zm0-2zm-3 2zm0 1zm6-1zm-1 0zm2 0zm4 1zm1-5zm4 0zm-3 4zm5-9zm5-1zm2-2zm4 1zm0 7zm7 4zm-6-1zm-5 2zm1 0zm-4 1zm12 4zm9-3zm5-2zm-1 1zm-1-1zm-4-6zm0 1zm-1-4zm-2 1zm1-2zm5-1zm3 1zm2-2zm3 2zm1 1zm2 2zm2-4zm1-2zm1-1zm7 2zm-3 3zm0 4zm-5 1zm11 6zm10-6zm0-2zm-9 4zm3-2zm-4-10zm1 0zm2 0zm11 1zm4 1zm1 1zm2 3zm-4 1zm7-1zm10-5zm0 2zm4 1zm-2-2zm3-2zm5 0zm-1 3zm-2 1zm20-4zm20-10zm10-9zm-2-3zm-7 1zm-2 0zm0-2zm5 1zm1-4zm-2-1zm0 2zm-5-3zm1 0zm4-4zm4 1zm2 1zm0 3zm2 0zm3-13zm6 3zm-10-15zm-4 0zm2 1zm-1-4zm0-5zm-3-2zm-4 0zm0-1zm-2 4zm1 18zm9-6zm5-1zm-10 14zm1-2zm1 0zm-11 2zm-3-6zm0 5zm0 1zm-1 1zm-1-1zm-6-3zm5-1zm1 1zm-5-9zm-2-1zm8 6zm4-3zm1-4zm-3-2zm-2 1zm3-7zm3-6zm-1-1zm0 1zm-5 0zm-4 4zm2-1zm-3-1zm-3 3zm6 3zm0 2zm0 3zm-13-2zm1 0zm0-3zm-1-2zm4-1zm0-3zm-2 3zm-5-2zm-6-1zm0 7zm6 2zm-3 2zm-3 1zm3 0zm-3 7zm6-1zm0 1zm-1-4zm8-3zm1 1zm1 1zm-3 2zm3 0zm0 3zm-6 0zm6 3zm-10 5zm-1-2zm1-3zm-4-1zm0 1zm0 1zm1 1zm0 3zm-2 4zm3-2zm2 5zm-5-2zm3 10zm-1-1zm5-2zm6 1zm0-2zm-3-6zm2-3zm0 2zm7-1zm-2 0zm0 4zm2-1zm2 0zm1-3zm0-2zm3 3zm3-2zm3 0zm-6 5zm6 3zm0 4zm-1 0zm0 2zm-8-2zm0-2zm-2-1zm1 1zm-3 3zm-1 9zm0-1zm2-1zm2 1zm2-6zm2 1zm1 7zm5 1zm-12 1zm-4 2zm-2 0zm-3 2zm-2-2zm1 0zm1 0zm-1-4zm-1-6zm1 0zm-1 2zm2 0zm-6 2zm1 0zm-4 5zm6 2zm-3 2zm-1-2zm-5 2zm-1-7zm-3 6zm-5-13zm1-1zm5 1zm-2 3zm5 2zm1-10zm-2 0zm1-6zm-13 4zm2 0zm4 0zm0 3zm-5 1zm-6 1zm-3-7zm4 1zm-2-4zm-6 0zm2-3zm-2 1zm-1 0zm-2-1zm1 0zm-2 0zm-1 2zm0 4zm1 1zm4-1zm-3 7zm3 6zm-1 2zm1-4zm4 0zm0-1zm2 1zm2-3zm0 6zm-2 1zm-1-3zm-1 8zm-4 3zm1-2zm-3-3zm-2 2zm-7 2zm-2 0zm1-2zm0-4zm1 0zm4 2zm-2-3zm1-6zm0-1zm0 3zm-4-3zm2 4zm-3 2zm-4-5zm-4 10zm1-1zm5 0zm1 0zm-12 0zm-3 2zm-1 1zm-4 2zm0-5zm-1 1zm4 0zm-2-6zm-2-3zm-2 1zm2-3zm3 1zm1 1zm2-1zm3 4zm-2-12zm-4 3zm0 2zm-4 1zm-1 0zm5-12zm7 1zm3 1zm-3-3zm9 5zm-2-3zm-3 5zm7 1zm-2-2zm1 0zm3 3zm4 4zm2-5zm-2-2zm1 1zm-1-5zm-3 2zm-2-6zm3 1zm1-1zm2-2zm-4-6zm5-7zm-9 11zm-2 2zm-3 1zm30-20zm-9 6zm-5 7zm2 3zm1 2zm1-4zm2 0zm4 1zm4 3zm0-2zm-3-5zm-1-2zm2-2zm7 1zm2 1zm1 1zm-3 1zm2 2zm2 0zm1 3zm0 1zm0 2zm5-8zm0-1zm-2 1zm-2-2zm-2-3zm6-3zm1-3zm-7-2zm0 3zm-1 3zm-3-2zm-1 1zm-1 1zm-1-2zm4-3zm50-29zm-2 9zm-3 9zm2 0zm18-12zm-4 9z" stroke="#f06a00"/>
<path d="M1408 907zm1-2zm2-8zm0-1zm1 1zm68-120zm-5 3zm-2 2zm1 9zm6 1zm-24 25zm-13 5zm5-3zm3 2zm3 1zm-1-12zm-4 3zm0-1zm-3 1zm-3 0zm-3-2zm6-2zm-5-4zm-1-4zm5 1zm3 2zm5 0zm2 0zm1 0zm2 4zm12-15zm-1 2zm-3 2zm-6-3zm2-6zm-3 0zm-2-3zm3 1zm1 1zm0-1zm6-2zm-1 2zm-1 0zm6 0zm-5-5zm3-7zm0-1zm-4-4zm-1 3zm-2-3zm-2-1zm-2 8zm4 6zm-13-5zm6 1zm0-5zm-5 2zm-4 7zm-5 3zm2-1zm3 0zm8 0zm1 2zm-1 1zm-2-1zm3 4zm-7-2zm1 5zm-1 4zm0 2zm-3-3zm-1-4zm-3 1zm-6 5zm-4-12zm8 5zm-6-13zm3-1zm1-9zm-24 46zm1-2zm9 1zm12-12zm3 2zm-2 10zm-5 8zm3 0zm4 9zm-10-2zm-8 2zm-9-10zm-3 12zm15 11zm-11 11zm-1 7zm2 2zm3-6zm4-1zm8-8zm-2 14zm3-30zm3 4zm15 16zm-7 8zm-24 19zm0-4zm2-8zm-3 4zm-1 0zm1-7zm-6 0zm0 5zm1 2zm-1-1zm0 5zm3 3zm1 6zm4-3zm-1 9zm-1 2zm-6 3zm0-1zm-5-1zm0-5zm-2 3zm-1-1zm-1 3zm2-1zm0 3zm-1 0zm-5-3zm1 3zm-2 0zm0-1zm-1 1zm-1-1zm0-3zm2-3zm3 3zm-6-7zm3-1zm-3-1zm3-2zm6 6zm5-2zm-5-8zm2-3zm-1-9zm-1 4zm2 1zm0 1zm-3 1zm-2-7zm-4 3zm1-1zm-1-1zm1 6zm0 3zm2 0zm-1 2zm1 1zm2 0zm-13 2zm0-5zm-2 0zm5-2zm-1-3zm1-5zm-1 1zm-1 1zm-4 4zm-2-2zm2 0zm0 7zm-6 3zm0 1zm-1 8zm3-3zm1 2zm3 0zm-1-2zm5-4zm2 7zm1 1zm1 1zm0 2zm-3 3zm-7 0zm-1-1zm3-2zm-12 0zm-1-1zm-1 1zm0-1zm0-1zm6 0zm0-2zm0-6zm-7 4zm2-1zm-5 3zm-4-7zm0 6zm-2 3zm-4-5zm1 0zm1-5zm-2 0zm3-12zm5 8zm-1 3zm4-2zm-1-3zm4 3zm1 0zm5 2zm0-3zm-2 0zm-1-2zm1-1zm-3-1zm3-10zm-5 2zm3-3zm4-6zm-10 5zm26-14zm-11 8zm-2 0zm1 5zm0 5zm5-6zm1 3zm-1 1zm7-8zm-5 0zm7-3zm4 0zm-1 1zm2 1zm0 2zm-4 2zm1 2zm0 3zm2 0zm0-3zm1-1zm8 6zm1 0zm-3-7zm3-2zm-8-9zm-6 2zm-19 74zm-5-9zm2 1zm1-3zm1-5zm-3-1zm1 5zm-11-5zm4 0zm1 0zm-1 3zm3-1zm-4-3zm-2-6zm4 0zm0 1zm2-1zm4 6zm2-2zm1 1zm2-6zm0 1zm5 0zm1 6zm-5 3zm3 0zm7-2zm2 5zm1 2zm1-2zm-5-6zm4-4zm2 2zm4-1zm1 0zm0-2zm0-2zm3 0zm0 4zm1 7zm1 0zm-1 2zm-4-1zm1 0zm-4-2zm1-2zm-1 5zm0 4zm2-1zm5 0zm5 3zm-15-2zm-7 3zm1 2zm-4-5zm78-153zm3 3zm-2 0zm4-5zm6-16zm25-17zm-14 34zm-1 0zm6-4zm12-17z" stroke="#303030"/>
<path d="M1390 654zm-6-2zm25 0zm20-11zm7 3zm9 6zm68-19zm4-1zm-23-29zm5-17zm-12-5zm-8 9zm-6 18zm25 17zm-9-3zm-1 10zm11 1zm-3 0zm6 1zm-1 2zm-14-9zm-5 2zm-26 3zm-4-12zm-15 16zm-10 1zm-16-4zm59-46z" stroke="#4b2d73"/>
</g>
<g stroke="#111" stroke-width="2" fill="none" stroke-linecap="round">
<path d="M258.5 22.5L734.5 854"/>
<path d="M788 244.2L143 752.5"/>
<path d="M278.5 516.2L862 380.3"/>
<path d="M1302 58.5L1824.7 858.5"/>
<path d="M1755 309.3L1300 716.5"/>
<path d="M1283.3 629.5L1966 259.8"/>
</g>
<g fill="#000" stroke="#000" stroke-width="1" stroke-linejoin="round">
<path d="M252.7 12.4L268.8 23.3L255.7 30.8Z"/>
<path d="M128.8 763.8L139.5 744.3L149.7 757.3Z"/>
<path d="M876.5 376.8L860.2 369.8L855 375L862.5 390.3Z"/>
<path d="M1296.2 49.5L1312.3 59L1298.7 67.5Z"/>
<path d="M1288.5 726.8L1293 710L1298 707.5L1305 712L1308.3 721.5Z"/>
<path d="M1981.5 251.5L1961.5 251.8L1960.5 256L1968.7 268.5Z"/>
</g>
<g font-size="21">
<text x="279" y="35.7">X</text>
<text x="163" y="757.7">Y</text>
<text x="882.3" y="386.8">Z</text>
<text x="1320.8" y="70.8">X</text>
<text x="1320.3" y="722.8">Y</text>
<text x="1986.2" y="267.8">Z</text>
</g>
<g font-weight="bold" font-size="41.2">
<text x="-0.5" y="22.7">a</text>
<text x="943.5" y="22.7">c</text>
<text x="-1.1" y="1006.1">b</text>
</g>
<rect x="1.7" y="88.8" width="29.3" height="25.6" fill="#ffff00"/>
<text x="42.7" y="110.0" font-size="22.95">Breeder Elite Line</text>
<rect x="1.7" y="117.9" width="29.3" height="25.6" fill="#ff0000"/>
<text x="42.7" y="138.8" font-size="22.95">Cultivar</text>
<rect x="1.7" y="147.0" width="29.3" height="25.6" fill="#5c005c"/>
<text x="42.7" y="167.7" font-size="22.95">Genetic stock</text>
<rect x="1.7" y="176.1" width="29.3" height="25.6" fill="#0000ff"/>
<text x="42.7" y="196.4" font-size="22.95">Landrace</text>
<rect x="1.7" y="205.2" width="29.3" height="25.6" fill="#00ffff"/>
<text x="42.7" y="225.6" font-size="22.95">Nursery</text>
<rect x="1.7" y="234.3" width="29.3" height="25.6" fill="#ff0099"/>
<text x="42.7" y="254.2" font-size="22.95">Primary synthetic</text>
<rect x="1.7" y="263.4" width="29.3" height="25.6" fill="#00ff00"/>
<text x="42.7" y="282.8" font-size="22.95">Synthetic derivative</text>
<rect x="1.7" y="292.5" width="29.3" height="25.6" fill="#666666"/>
<text x="42.7" y="313.3" font-size="22.95">Unknown</text>
<rect x="946.3" y="83.6" width="31" height="27" fill="#ff6600"/>
<text x="987" y="104.1" font-size="22.9">1- Modern Landraces Mexico</text>
<rect x="946.3" y="114.6" width="31" height="27" fill="#c0001c"/>
<text x="987" y="135.2" font-size="22.9">10- Synthetic A</text>
<rect x="946.3" y="145.7" width="31" height="27" fill="#ff5ccd"/>
<text x="987" y="166.2" font-size="22.9">11- Landraces Iran/Pakistan</text>
<rect x="946.3" y="176.7" width="31" height="27" fill="#ff7256"/>
<text x="987" y="197.2" font-size="22.9">12- Synthetic B</text>
<rect x="946.3" y="207.8" width="31" height="27" fill="#5e5e5e"/>
<text x="987" y="228.3" font-size="22.9">2- Outliers</text>
<rect x="946.3" y="238.8" width="31" height="27" fill="#ffb300"/>
<text x="987" y="259.4" font-size="22.9">3- Landraces Iran/Turkey</text>
<rect x="946.3" y="269.8" width="31" height="27" fill="#ff0099"/>
<text x="987" y="290.4" font-size="22.9">4- Landraces Iran</text>
<rect x="946.3" y="300.9" width="31" height="27" fill="#005c2e"/>
<text x="987" y="321.4" font-size="22.9">5- Traditional landraces Mexico</text>
<rect x="946.3" y="331.9" width="31" height="27" fill="#00f000"/>
<text x="987" y="352.5" font-size="22.9">6- Elite lines</text>
<rect x="946.3" y="363.0" width="31" height="27" fill="#00ccff"/>
<text x="987" y="383.5" font-size="22.9">7- Modern landraces Mexico</text>
<rect x="946.3" y="394.0" width="31" height="27" fill="#2b2b2b"/>
<text x="987" y="414.6" font-size="22.9">8- Outliers</text>
<rect x="946.3" y="425.0" width="31" height="27" fill="#4b2d73"/>
<text x="987" y="445.6" font-size="22.9">9- Modern landraces Mexico</text>
<g shape-rendering="crispEdges">
<rect x="408.0" y="1006.8" width="1518.0" height="410.20000000000005" fill="#ff00bf"/>
<path fill="#8000ff" d="M408.0 1417.0V1008.4h69V1010.7h1.5V1011.2h3V1011.7h1.5V1011.2h1.5V1012.2h1.5V1011.2h1.5V1010.7h1.5V1010.3h1.5V1010.4h1.5V1010.9h1.5V1010.0h1.5V1009.5h1.5V1009.4h1.5V1006.8h19.5V1012.7h1.5V1007.2h1.5V1037.4h1.5V1025.5h1.5V1010.6h1.5V1010.2h1.5V1007.1h1.5V1031.5h1.5V1010.4h1.5V1007.3h1.5V1038.7h1.5V1010.0h1.5V1037.8h1.5V1010.9h1.5V1036.3h1.5V1038.2h1.5V1038.1h1.5V1045.9h1.5V1052.8h1.5V1009.3h1.5V1008.6h1.5V1007.7h1.5V1006.8h1.5V1042.7h1.5V1009.4h1.5V1009.6h1.5V1008.1h1.5V1025.9h1.5V1026.0h1.5V1008.1h1.5V1033.7h1.5V1008.8h1.5V1009.5h1.5V1007.6h1.5V1007.0h1.5V1007.8h1.5V1048.3h1.5V1008.5h1.5V1047.8h1.5V1006.8h1.5V1010.8h1.5V1010.0h1.5V1011.9h1.5V1070.7h1.5V1072.1h1.5V1044.8h1.5V1012.9h1.5V1007.8h1.5V1050.7h1.5V1046.0h1.5V1046.1h1.5V1035.5h1.5V1008.6h1.5V1027.2h1.5V1007.8h1.5V1009.1h1.5V1034.7h1.5V1008.6h1.5V1007.2h1.5V1036.7h1.5V1019.6h1.5V1008.2h1.5V1010.4h1.5V1009.5h1.5V1009.0h1.5V1008.1h1.5V1007.1h1.5V1010.6h1.5V1010.3h1.5V1034.3h1.5V1009.0h1.5V1009.7h1.5V1008.1h1.5V1036.4h1.5V1053.2h1.5V1010.4h1.5V1010.6h1.5V1006.8h1.5V1008.0h1.5V1012.0h1.5V1009.9h1.5V1068.0h1.5V1011.7h1.5V1008.6h1.5V1011.4h1.5V1066.1h1.5V1008.5h1.5V1008.7h1.5V1009.2h1.5V1063.0h1.5V1047.5h1.5V1009.8h1.5V1008.7h1.5V1009.1h1.5V1008.6h1.5V1007.2h1.5V1009.3h1.5V1008.1h1.5V1059.7h1.5V1007.2h1.5V1039.8h1.5V1008.8h1.5V1011.8h1.5V1009.5h1.5V1006.8h1.5V1009.6h1.5V1009.2h1.5V1009.1h1.5V1042.8h1.5V1007.9h1.5V1007.6h1.5V1009.9h1.5V1068.9h1.5V1057.3h1.5V1066.2h1.5V1010.4h1.5V1009.5h1.5V1012.2h1.5V1010.9h1.5V1037.4h1.5V1009.0h1.5V1035.8h1.5V1011.1h1.5V1010.7h1.5V1010.4h1.5V1007.8h1.5V1010.7h1.5V1039.2h1.5V1007.6h1.5V1007.9h1.5V1035.8h1.5V1038.7h1.5V1007.0h1.5V1012.0h1.5V1025.8h1.5V1007.9h1.5V1029.4h1.5V1008.0h1.5V1008.4h1.5V1007.1h1.5V1007.5h1.5V1007.0h1.5V1007.5h3V1007.8h1.5V1006.8h1.5V1017.3h1.5V1007.6h1.5V1007.1h1.5V1006.9h1.5V1007.7h1.5V1017.0h1.5V1007.1h1.5V1008.0h1.5V1007.7h1.5V1006.8h1.5V1007.4h1.5V1007.7h1.5V1007.5h1.5V1007.6h1.5V1007.3h1.5V1008.2h1.5V1007.7h1.5V1007.0h1.5V1007.9h1.5V1007.6h1.5V1007.7h1.5V1016.1h1.5V1008.4h1.5V1007.4h1.5V1007.3h1.5V1007.9h1.5V1007.1h1.5V1021.2h1.5V1007.4h1.5V1007.0h1.5V1018.6h1.5V1025.7h1.5V1007.5h3V1008.0h1.5V1007.8h1.5V1008.2h1.5V1007.1h1.5V1007.3h1.5V1007.0h1.5V1008.4h1.5V1006.9h1.5V1007.2h1.5V1007.4h1.5V1008.2h1.5V1038.2h1.5V1008.7h1.5V1028.5h1.5V1008.4h1.5V1007.1h1.5V1007.8h1.5V1022.1h1.5V1018.6h1.5V1007.7h3V1007.5h1.5V1007.6h1.5V1035.2h1.5V1007.3h1.5V1008.1h1.5V1008.3h1.5V1009.4h1.5V1007.0h3V1025.2h1.5V1008.4h1.5V1024.9h1.5V1019.1h1.5V1007.6h1.5V1020.8h1.5V1006.8h1.5V1009.6h1.5V1006.9h1.5V1026.8h1.5V1008.7h1.5V1008.4h1.5V1008.1h1.5V1024.9h1.5V1025.6h3V1008.0h1.5V1007.6h3V1008.1h1.5V1007.0h1.5V1008.5h1.5V1023.2h1.5V1007.3h1.5V1027.4h1.5V1008.4h1.5V1007.6h1.5V1007.1h1.5V1007.4h1.5V1007.2h1.5V1007.3h1.5V1007.6h1.5V1008.4h1.5V1024.9h1.5V1009.7h1.5V1008.5h1.5V1007.9h1.5V1007.7h1.5V1030.2h1.5V1027.9h1.5V1010.3h1.5V1007.8h1.5V1007.3h1.5V1039.0h1.5V1008.2h1.5V1008.0h1.5V1009.4h1.5V1008.9h1.5V1008.0h1.5V1008.5h1.5V1009.6h1.5V1028.4h1.5V1008.3h1.5V1008.8h1.5V1006.9h1.5V1009.1h1.5V1009.8h1.5V1020.4h1.5V1009.0h1.5V1026.9h1.5V1007.8h1.5V1008.5h1.5V1030.4h1.5V1007.2h1.5V1006.9h1.5V1033.6h1.5V1022.8h1.5V1007.2h1.5V1008.4h1.5V1007.6h1.5V1009.1h1.5V1006.8h1.5V1027.7h1.5V1008.8h1.5V1008.7h1.5V1010.7h1.5V1007.6h1.5V1008.6h1.5V1030.4h1.5V1007.7h1.5V1027.1h1.5V1008.0h1.5V1007.9h1.5V1009.1h1.5V1008.5h1.5V1007.9h1.5V1006.9h1.5V1009.3h1.5V1007.2h1.5V1009.5h1.5V1008.1h1.5V1037.7h1.5V1007.7h1.5V1033.3h1.5V1008.4h1.5V1008.3h1.5V1008.1h1.5V1008.7h1.5V1019.5h1.5V1008.7h1.5V1009.5h1.5V1007.2h1.5V1008.8h1.5V1026.1h1.5V1007.6h1.5V1010.1h1.5V1008.2h3V1007.1h1.5V1008.4h1.5V1007.9h1.5V1028.9h1.5V1008.8h1.5V1008.3h1.5V1008.7h1.5V1008.9h1.5V1032.9h1.5V1041.0h1.5V1007.5h1.5V1007.3h1.5V1028.1h1.5V1033.8h1.5V1009.4h1.5V1007.5h1.5V1009.1h1.5V1009.0h1.5V1010.3h1.5V1029.8h1.5V1009.6h3V1030.1h1.5V1009.5h1.5V1008.4h1.5V1007.2h3V1007.6h1.5V1006.9h1.5V1033.3h1.5V1060.5h1.5V1010.1h1.5V1025.0h1.5V1007.5h1.5V1024.9h1.5V1008.5h1.5V1007.6h1.5V1007.3h1.5V1008.1h1.5V1007.6h1.5V1042.5h1.5V1011.1h1.5V1042.2h1.5V1009.4h1.5V1015.1h1.5V1009.1h1.5V1010.9h1.5V1042.8h1.5V1026.3h1.5V1011.5h1.5V1038.5h1.5V1012.8h1.5V1049.5h1.5V1008.4h1.5V1008.2h1.5V1032.0h1.5V1008.4h1.5V1007.7h1.5V1058.2h1.5V1028.4h1.5V1047.8h1.5V1029.9h1.5V1034.8h1.5V1009.9h1.5V1007.2h1.5V1008.3h1.5V1038.9h1.5V1026.7h1.5V1007.4h1.5V1041.0h1.5V1048.7h1.5V1059.2h1.5V1010.6h1.5V1011.8h1.5V1012.1h1.5V1008.0h1.5V1008.8h1.5V1008.5h1.5V1010.2h1.5V1008.2h1.5V1032.1h1.5V1009.9h1.5V1008.8h1.5V1052.4h1.5V1010.5h1.5V1010.1h1.5V1008.6h1.5V1008.7h1.5V1042.3h1.5V1007.9h1.5V1040.0h1.5V1007.5h1.5V1008.3h1.5V1009.3h1.5V1023.5h1.5V1008.6h1.5V1008.4h1.5V1006.8h1.5V1009.3h1.5V1010.0h1.5V1009.0h1.5V1007.7h1.5V1036.7h1.5V1035.4h1.5V1011.4h1.5V1010.4h1.5V1007.3h1.5V1007.6h1.5V1028.7h1.5V1007.9h1.5V1037.9h1.5V1008.0h1.5V1008.1h1.5V1036.4h1.5V1008.1h1.5V1008.4h1.5V1030.9h1.5V1008.2h1.5V1009.4h1.5V1041.3h1.5V1007.7h1.5V1009.9h1.5V1009.3h1.5V1011.0h1.5V1007.7h1.5V1007.3h1.5V1034.7h1.5V1009.8h1.5V1037.2h1.5V1006.8h1.5V1008.8h1.5V1031.9h1.5V1007.1h1.5V1009.1h1.5V1036.0h1.5V1006.9h1.5V1007.9h1.5V1007.4h1.5V1010.6h1.5V1035.4h1.5V1007.2h1.5V1006.8h1.5V1046.3h1.5V1010.1h1.5V1007.6h1.5V1009.2h1.5V1008.4h1.5V1010.7h1.5V1010.5h1.5V1009.0h1.5V1040.4h1.5V1011.5h1.5V1008.9h1.5V1008.0h1.5V1007.0h1.5V1010.1h1.5V1008.1h1.5V1011.2h1.5V1019.5h1.5V1035.1h1.5V1008.4h1.5V1008.3h1.5V1030.7h1.5V1035.6h1.5V1008.2h1.5V1048.0h1.5V1009.1h1.5V1067.2h1.5V1008.1h1.5V1007.5h1.5V1011.4h1.5V1032.2h1.5V1008.3h1.5V1010.0h1.5V1007.0h1.5V1036.0h1.5V1006.9h1.5V1044.3h1.5V1009.2h1.5V1009.9h1.5V1380.2h1.5V1371.2h1.5V1341.3h1.5V1332.8h1.5V1336.1h1.5V1326.5h1.5V1340.2h1.5V1359.9h1.5V1369.9h1.5V1358.7h1.5V1381.5h1.5V1378.2h1.5V1414.3h1.5V1406.9h1.5V1370.1h1.5V1413.7h1.5V1412.2h1.5V1376.7h1.5V1412.6h1.5V1413.1h1.5V1414.9h1.5V1412.7h1.5V1413.5h1.5V1413.4h1.5V1415.2h1.5V1413.2h1.5V1412.9h3V1412.0h1.5V1405.1h1.5V1411.4h1.5V1409.4h1.5V1385.8h1.5V1382.2h1.5V1377.0h1.5V1334.2h1.5V1305.2h1.5V1306.7h1.5V1317.4h1.5V1285.1h1.5V1260.4h1.5V1241.3h1.5V1234.9h1.5V1190.6h1.5V1148.6h1.5V1221.3h1.5V1242.6h1.5V1219.4h1.5V1115.0h1.5V1137.2h1.5V1192.1h1.5V1190.2h1.5V1122.0h1.5V1174.8h1.5V1123.6h1.5V1099.8h1.5V1106.3h1.5V1083.6h1.5V1156.9h1.5V1187.8h1.5V1196.3h1.5V1233.3h1.5V1006.8h46.5V1009.7h1.5V1006.8h1.5V1023.4h1.5V1006.8h22.5V1007.1h1.5V1016.7h1.5V1009.6h1.5V1010.7h1.5V1012.4h1.5V1012.8h1.5V1013.5h1.5V1015.4h1.5V1019.8h1.5V1021.2h1.5V1021.9h1.5V1025.7h1.5V1024.9h1.5V1028.7h1.5V1051.3h1.5V1030.2h1.5V1036.4h1.5V1038.2h1.5V1036.1h1.5V1032.6h1.5V1021.0h1.5V1015.9h1.5V1008.8h1.5V1008.9h1.5V1009.0h1.5V1009.2h1.5V1009.3h1.5V1009.2h1.5V1009.1h3V1008.8h1.5V1008.7h3V1009.9h1.5V1008.8h1.5V1008.9h1.5V1008.6h1.5V1008.7h3V1008.6h3V1008.4h1.5V1008.6h1.5V1008.9h1.5V1009.2h1.5V1008.9h1.5V1009.6h1.5V1009.4h1.5V1041.4h1.5V1009.2h1.5V1009.6h1.5V1009.8h1.5V1009.4h1.5V1009.8h1.5V1009.9h1.5V1010.1h3V1010.2h1.5V1010.7h1.5V1011.0h1.5V1011.3h1.5V1012.5h1.5V1015.6h1.5V1016.6h1.5V1021.6h1.5V1022.4h1.5V1026.4h1.5V1026.3h1.5V1028.4h1.5V1027.9h1.5V1032.1h1.5V1033.3h1.5V1032.0h1.5V1034.6h1.5V1037.8h1.5V1057.4h1.5V1061.5h1.5V1059.9h1.5V1069.8h1.5V1084.3h1.5V1068.3h1.5V1072.5h1.5V1079.2h1.5V1089.3h1.5V1094.3h1.5V1086.8h1.5V1105.2h1.5V1098.0h1.5V1098.3h1.5V1099.4h1.5V1107.1h1.5V1092.4h1.5V1103.4h1.5V1102.8h1.5V1106.8h1.5V1098.5h1.5V1085.2h1.5V1112.9h1.5V1061.5h1.5V1067.2h1.5V1078.6h1.5V1083.9h1.5V1041.8h1.5V1043.0h1.5V1035.2h1.5V1028.9h1.5V1019.8h1.5V1015.5h1.5V1015.7h1.5V1016.3h1.5V1016.5h1.5V1015.6h1.5V1016.2h1.5V1015.3h1.5V1019.8h1.5V1027.1h1.5V1039.5h1.5V1039.8h1.5V1045.6h1.5V1060.3h3V1085.4h1.5V1091.7h1.5V1072.3h1.5V1057.5h1.5V1034.6h1.5V1036.0h1.5V1033.7h1.5V1033.8h1.5V1033.5h1.5V1031.4h1.5V1033.8h1.5V1032.2h1.5V1039.9h1.5V1047.2h1.5V1053.7h1.5V1067.3h1.5V1063.0h1.5V1069.5h1.5V1058.0h1.5V1050.5h1.5V1038.3h1.5V1035.1h1.5V1028.5h1.5V1030.0h1.5V1023.7h1.5V1025.2h1.5V1026.2h1.5V1024.0h1.5V1008.1h1.5V1006.9h1.5V1009.3h1.5V1008.1h1.5V1008.8h1.5V1007.1h1.5V1008.3h1.5V1008.7h1.5V1007.0h1.5V1009.0h1.5V1006.9h3V1007.0h1.5V1011.4h1.5V1011.8h1.5V1010.7h1.5V1006.8h1.5V1010.4h1.5V1013.9h1.5V1011.9h1.5V1007.3h1.5V1007.4h1.5V1019.3h1.5V1007.0h1.5V1011.8h1.5V1007.0h1.5V1006.8h1.5V1006.9h1.5V1007.3h1.5V1007.1h1.5V1007.6h1.5V1011.9h1.5V1013.3h3V1007.0h1.5V1011.3h1.5V1010.9h1.5V1011.2h1.5V1007.0h1.5V1013.4h1.5V1017.6h1.5V1012.2h1.5V1006.8h1.5V1007.1h1.5V1006.9h1.5V1007.3h1.5V1007.6h1.5V1014.8h1.5V1018.0h1.5V1007.1h1.5V1007.7h1.5V1007.3h1.5V1011.3h1.5V1009.8h1.5V1048.3h1.5V1054.3h1.5V1034.6h1.5V1020.3h1.5V1007.6h1.5V1007.0h1.5V1006.8h1.5V1007.6h1.5V1021.9h1.5V1007.1h1.5V1008.0h3V1008.7h1.5V1007.9h1.5V1022.5h1.5V1007.8h1.5V1018.5h1.5V1019.8h1.5V1015.5h1.5V1007.5h1.5V1007.3h1.5V1016.5h1.5V1007.1h1.5V1023.0h1.5V1008.1h1.5V1007.5h1.5V1019.5h1.5V1008.8h1.5V1018.2h1.5V1007.6h1.5V1008.4h1.5V1007.5h1.5V1007.2h1.5V1007.3h1.5V1007.7h1.5V1006.8h1.5V1007.0h1.5V1008.0h1.5V1018.2h1.5V1007.0h1.5V1013.0h1.5V1019.0h1.5V1006.9h1.5V1021.3h1.5V1007.1h1.5V1006.8h1.5V1006.9h3V1006.8h1.5V1008.5h3V1006.9h1.5V1007.9h1.5V1006.9h1.5V1007.0h1.5V1008.1h1.5V1008.3h1.5V1008.6h1.5V1006.9h1.5V1007.0h1.5V1008.4h1.5V1007.0h1.5V1006.9h1.5V1008.4h1.5V1007.0h1.5V1008.5h1.5V1006.9h3V1008.4h1.5V1008.0h1.5V1008.5h3V1006.9h1.5V1008.2h1.5V1008.4h1.5V1008.7h1.5V1047.8h1.5V1076.5h1.5V1006.8h1.5V1006.9h3V1008.2h1.5V1006.9h1.5V1008.4h1.5V1008.8h1.5V1008.3h1.5V1008.6h1.5V1006.8h1.5V1008.2h1.5V1006.9h3V1006.8h3V1007.0h1.5V1008.3h1.5V1006.9h1.5V1008.6h1.5V1006.9h1.5V1008.4h1.5V1006.9h1.5V1008.8h1.5V1008.7h1.5V1008.4h1.5V1008.3h1.5V1008.4h1.5V1006.9h4.5V1014.5h1.5V1018.5h1.5V1007.6h1.5V1007.0h1.5V1035.1h1.5V1007.9h1.5V1008.6h1.5V1036.4h1.5V1007.6h1.5V1037.9h1.5V1008.9h1.5V1037.3h1.5V1007.8h1.5V1011.2h1.5V1009.9h1.5V1009.2h1.5V1055.7h1.5V1009.8h1.5V1007.9h1.5V1417.0Z"/>
<path fill="#0040ff" d="M408.0 1417.0V1008.4h69V1010.8h1.5V1048.7h1.5V1046.5h1.5V1035.3h1.5V1014.5h1.5V1012.3h1.5V1030.3h1.5V1013.0h1.5V1038.5h1.5V1032.8h1.5V1033.0h1.5V1011.0h1.5V1009.7h1.5V1015.5h1.5V1006.8h19.5V1013.2h1.5V1007.4h1.5V1039.7h1.5V1025.6h1.5V1010.7h1.5V1012.8h1.5V1007.3h1.5V1034.5h1.5V1016.3h1.5V1011.8h1.5V1042.1h1.5V1015.5h1.5V1041.4h1.5V1014.3h1.5V1040.6h1.5V1042.1h1.5V1038.5h1.5V1046.2h1.5V1056.3h1.5V1012.7h1.5V1009.0h1.5V1008.0h1.5V1006.9h1.5V1045.8h1.5V1009.4h1.5V1010.0h1.5V1008.5h1.5V1030.0h1.5V1026.1h1.5V1011.2h1.5V1037.1h1.5V1012.8h1.5V1009.6h1.5V1010.0h1.5V1009.7h1.5V1007.9h1.5V1048.5h1.5V1014.1h1.5V1050.5h1.5V1010.6h1.5V1179.6h1.5V1165.7h1.5V1219.5h1.5V1239.8h1.5V1286.6h1.5V1313.6h1.5V1317.7h1.5V1142.7h1.5V1163.8h1.5V1103.0h1.5V1055.0h1.5V1035.9h1.5V1017.0h1.5V1027.4h1.5V1007.9h1.5V1015.9h1.5V1043.7h1.5V1008.7h1.5V1007.4h1.5V1037.1h1.5V1019.8h1.5V1008.3h1.5V1015.6h1.5V1015.9h1.5V1017.1h1.5V1014.4h1.5V1012.2h1.5V1017.1h1.5V1015.2h1.5V1042.6h1.5V1009.1h1.5V1016.0h1.5V1015.8h1.5V1042.8h1.5V1063.7h1.5V1017.6h1.5V1023.7h1.5V1007.8h1.5V1009.2h1.5V1022.2h1.5V1010.9h1.5V1083.9h1.5V1011.8h1.5V1023.7h1.5V1039.3h1.5V1066.4h1.5V1009.0h1.5V1022.7h1.5V1020.4h1.5V1080.0h1.5V1063.3h1.5V1020.7h1.5V1009.3h1.5V1010.6h1.5V1019.5h1.5V1028.7h1.5V1029.8h1.5V1024.6h1.5V1073.9h1.5V1024.5h1.5V1049.9h1.5V1009.1h1.5V1033.4h1.5V1010.0h1.5V1020.9h1.5V1028.9h1.5V1025.7h1.5V1024.3h1.5V1065.7h1.5V1009.1h1.5V1009.4h1.5V1022.3h1.5V1081.8h1.5V1057.5h1.5V1066.2h1.5V1018.1h1.5V1010.7h1.5V1024.1h1.5V1018.2h1.5V1051.2h1.5V1018.5h1.5V1044.4h1.5V1024.2h1.5V1023.9h1.5V1010.9h1.5V1018.9h1.5V1011.7h1.5V1050.9h1.5V1017.1h1.5V1016.8h1.5V1056.6h1.5V1039.6h1.5V1013.9h1.5V1021.2h1.5V1026.3h1.5V1008.0h1.5V1035.6h1.5V1008.4h3V1007.9h1.5V1007.8h1.5V1007.6h3V1008.0h1.5V1014.9h1.5V1016.0h1.5V1018.6h1.5V1008.7h1.5V1008.1h1.5V1007.5h1.5V1008.8h1.5V1017.6h1.5V1008.3h1.5V1008.6h1.5V1008.5h1.5V1007.8h1.5V1008.3h1.5V1008.0h1.5V1008.1h1.5V1007.6h1.5V1007.8h1.5V1008.8h1.5V1008.0h1.5V1008.3h1.5V1008.6h1.5V1016.9h1.5V1008.5h1.5V1026.6h1.5V1018.1h1.5V1008.0h1.5V1007.4h1.5V1008.7h1.5V1007.3h1.5V1021.4h1.5V1007.7h1.5V1007.5h1.5V1018.8h1.5V1026.0h1.5V1008.2h3V1008.8h1.5V1009.1h1.5V1008.3h1.5V1007.2h1.5V1007.3h3V1008.9h1.5V1008.1h1.5V1007.3h1.5V1008.2h1.5V1008.8h1.5V1038.2h1.5V1008.8h1.5V1028.6h1.5V1008.6h1.5V1008.0h1.5V1008.1h1.5V1022.5h1.5V1018.8h1.5V1008.3h1.5V1007.9h1.5V1020.2h1.5V1007.7h1.5V1036.0h1.5V1007.7h1.5V1008.2h1.5V1008.5h1.5V1009.8h1.5V1008.5h1.5V1015.6h1.5V1025.3h1.5V1008.5h1.5V1025.9h1.5V1020.3h1.5V1008.1h1.5V1022.1h1.5V1007.5h1.5V1010.0h1.5V1007.5h1.5V1027.4h1.5V1022.6h1.5V1009.2h1.5V1018.6h1.5V1025.9h1.5V1026.5h1.5V1035.3h1.5V1008.0h1.5V1008.5h1.5V1007.9h1.5V1019.0h1.5V1007.1h1.5V1008.6h1.5V1023.3h1.5V1009.5h1.5V1027.7h1.5V1009.5h1.5V1007.8h1.5V1016.3h1.5V1008.4h1.5V1007.6h1.5V1007.7h1.5V1020.6h1.5V1009.1h1.5V1025.0h1.5V1009.8h1.5V1008.5h1.5V1008.3h3V1031.3h1.5V1028.7h1.5V1011.1h1.5V1008.6h1.5V1008.7h1.5V1039.8h1.5V1008.7h1.5V1019.5h1.5V1010.6h1.5V1008.9h1.5V1022.0h1.5V1009.3h1.5V1009.8h1.5V1030.0h1.5V1009.4h1.5V1009.5h1.5V1017.3h1.5V1010.3h1.5V1009.9h1.5V1035.0h1.5V1009.2h1.5V1027.2h1.5V1009.0h1.5V1019.1h1.5V1030.8h1.5V1007.9h1.5V1008.1h1.5V1034.2h1.5V1037.4h1.5V1007.8h1.5V1021.1h1.5V1020.1h1.5V1010.2h1.5V1008.1h1.5V1028.0h1.5V1009.8h1.5V1009.1h1.5V1011.6h1.5V1007.9h1.5V1009.5h1.5V1042.7h1.5V1008.2h1.5V1027.2h1.5V1009.3h1.5V1022.3h1.5V1009.8h1.5V1009.6h1.5V1008.6h1.5V1007.1h1.5V1010.5h1.5V1008.2h1.5V1018.1h1.5V1008.2h1.5V1038.6h1.5V1008.4h1.5V1033.6h1.5V1009.5h1.5V1008.6h1.5V1009.6h3V1020.2h1.5V1010.2h1.5V1009.6h1.5V1008.2h1.5V1008.9h1.5V1026.7h1.5V1007.9h1.5V1010.6h1.5V1008.2h1.5V1008.8h1.5V1008.9h1.5V1009.9h1.5V1033.4h1.5V1030.0h1.5V1009.6h1.5V1009.1h1.5V1010.6h1.5V1009.0h1.5V1044.9h1.5V1049.1h1.5V1007.6h1.5V1008.1h1.5V1029.5h1.5V1035.4h1.5V1010.6h1.5V1009.6h1.5V1010.1h1.5V1010.7h1.5V1011.7h1.5V1031.4h1.5V1010.3h1.5V1010.2h1.5V1037.6h1.5V1009.6h1.5V1020.5h1.5V1008.3h1.5V1007.3h1.5V1007.8h1.5V1007.7h1.5V1034.9h1.5V1077.6h1.5V1010.9h1.5V1026.2h1.5V1025.1h1.5V1025.2h1.5V1008.9h1.5V1008.2h1.5V1021.5h1.5V1024.7h1.5V1007.9h1.5V1043.7h1.5V1011.7h1.5V1062.7h1.5V1010.3h1.5V1015.2h1.5V1010.5h1.5V1012.0h1.5V1043.1h1.5V1026.9h1.5V1011.8h1.5V1039.3h1.5V1013.8h1.5V1049.5h1.5V1010.5h1.5V1008.2h1.5V1056.1h1.5V1008.7h1.5V1007.8h1.5V1059.4h1.5V1028.5h1.5V1048.7h1.5V1031.1h1.5V1036.1h1.5V1011.8h1.5V1030.0h1.5V1009.5h1.5V1039.5h1.5V1028.4h1.5V1007.7h1.5V1041.2h1.5V1049.6h1.5V1061.1h1.5V1011.0h1.5V1012.3h1.5V1012.5h1.5V1008.8h1.5V1024.4h1.5V1011.6h1.5V1012.9h1.5V1008.4h1.5V1032.5h1.5V1010.3h1.5V1009.7h1.5V1053.8h1.5V1010.6h3V1010.1h1.5V1009.1h1.5V1043.3h1.5V1008.2h1.5V1041.2h1.5V1007.9h1.5V1010.2h1.5V1011.0h1.5V1024.1h1.5V1009.6h1.5V1008.5h1.5V1007.1h1.5V1010.0h1.5V1012.2h1.5V1010.7h1.5V1009.4h1.5V1039.4h1.5V1052.9h1.5V1013.2h1.5V1011.0h1.5V1017.0h1.5V1008.9h1.5V1029.3h1.5V1008.7h1.5V1038.3h1.5V1009.5h1.5V1009.0h1.5V1037.5h1.5V1009.1h1.5V1019.5h1.5V1031.3h1.5V1010.0h1.5V1023.7h1.5V1055.4h1.5V1009.6h1.5V1010.4h1.5V1010.7h1.5V1012.2h1.5V1019.5h1.5V1007.9h1.5V1055.4h1.5V1011.2h1.5V1105.0h1.5V1008.5h1.5V1021.4h1.5V1032.1h1.5V1028.6h1.5V1011.2h1.5V1036.6h1.5V1008.0h1.5V1008.1h1.5V1008.3h1.5V1011.3h1.5V1036.5h1.5V1007.4h1.5V1008.2h1.5V1048.3h1.5V1010.5h1.5V1009.1h1.5V1026.1h1.5V1008.5h1.5V1010.7h1.5V1012.7h1.5V1011.0h1.5V1041.3h1.5V1012.0h1.5V1009.7h1.5V1008.6h1.5V1007.6h1.5V1010.3h1.5V1010.8h1.5V1012.8h1.5V1020.4h1.5V1035.6h1.5V1008.8h1.5V1023.7h1.5V1032.2h1.5V1053.6h1.5V1025.9h1.5V1064.4h1.5V1011.4h1.5V1068.9h1.5V1008.6h1.5V1009.4h1.5V1027.7h1.5V1033.0h1.5V1009.1h1.5V1011.2h1.5V1008.3h1.5V1037.1h1.5V1007.2h1.5V1064.0h1.5V1009.7h1.5V1010.3h1.5V1415.1h1.5V1417.0ZM1267.5 1417.0V1415.5h1.5V1398.7h1.5V1414.8h3V1416.2h1.5V1415.9h1.5V1414.5h1.5V1414.6h1.5V1414.2h1.5V1415.1h1.5V1415.7h1.5V1415.6h1.5V1370.2h1.5V1413.7h1.5V1412.2h1.5V1413.5h1.5V1412.6h1.5V1413.1h1.5V1414.9h1.5V1412.7h1.5V1413.5h1.5V1413.4h1.5V1415.2h1.5V1413.2h1.5V1412.9h3V1412.0h1.5V1412.8h1.5V1411.4h1.5V1409.4h1.5V1385.8h1.5V1382.4h1.5V1378.3h1.5V1364.1h1.5V1346.5h1.5V1343.3h1.5V1363.2h1.5V1339.6h1.5V1351.3h1.5V1324.3h1.5V1344.6h1.5V1381.1h1.5V1333.9h1.5V1334.6h1.5V1323.2h1.5V1333.2h1.5V1235.5h1.5V1200.2h1.5V1221.0h1.5V1215.6h1.5V1203.2h1.5V1234.2h1.5V1205.8h1.5V1135.5h1.5V1129.3h1.5V1084.3h1.5V1178.7h1.5V1206.5h1.5V1217.6h1.5V1259.7h1.5V1006.8h12V1009.5h1.5V1006.8h3V1007.6h1.5V1009.1h1.5V1010.4h1.5V1011.9h1.5V1012.7h1.5V1014.7h1.5V1015.7h1.5V1017.9h1.5V1021.1h1.5V1021.0h1.5V1022.4h1.5V1021.3h1.5V1024.6h1.5V1026.1h1.5V1031.1h1.5V1037.5h1.5V1042.1h1.5V1039.0h1.5V1032.1h1.5V1036.9h1.5V1037.2h1.5V1030.7h1.5V1043.8h1.5V1033.5h1.5V1031.6h1.5V1055.6h1.5V1049.2h1.5V1076.8h1.5V1119.7h1.5V1101.8h1.5V1112.6h1.5V1104.9h1.5V1106.2h1.5V1110.5h1.5V1111.8h1.5V1145.2h1.5V1139.5h1.5V1135.7h1.5V1153.3h1.5V1167.1h1.5V1155.7h1.5V1197.8h1.5V1179.6h1.5V1159.0h1.5V1166.1h1.5V1148.1h1.5V1172.7h1.5V1172.0h1.5V1167.8h1.5V1144.9h1.5V1140.7h1.5V1153.1h1.5V1191.6h1.5V1247.6h1.5V1236.6h1.5V1196.2h1.5V1186.0h1.5V1171.5h1.5V1151.3h1.5V1215.5h1.5V1222.2h1.5V1417.0ZM1495.5 1417.0V1397.3h1.5V1417.0ZM1510.5 1417.0V1416.1h1.5V1414.9h1.5V1414.7h1.5V1409.7h1.5V1413.2h1.5V1412.5h1.5V1411.4h1.5V1410.2h1.5V1416.3h1.5V1409.3h1.5V1408.8h1.5V1406.7h1.5V1403.2h1.5V1416.3h1.5V1396.3h1.5V1402.8h1.5V1395.6h1.5V1410.4h1.5V1414.8h1.5V1403.7h1.5V1408.9h1.5V1379.4h1.5V1385.5h1.5V1380.5h1.5V1361.4h1.5V1364.7h1.5V1375.3h1.5V1412.3h1.5V1412.8h1.5V1404.4h1.5V1371.1h1.5V1373.0h1.5V1371.8h1.5V1382.1h1.5V1376.1h1.5V1373.4h1.5V1356.5h1.5V1374.8h1.5V1402.7h1.5V1382.9h1.5V1372.8h1.5V1365.6h1.5V1364.2h1.5V1350.7h1.5V1352.4h1.5V1373.3h1.5V1357.6h1.5V1353.8h1.5V1314.8h1.5V1338.5h1.5V1338.9h1.5V1333.0h1.5V1320.7h1.5V1309.7h1.5V1268.9h1.5V1252.6h1.5V1228.9h1.5V1214.7h1.5V1179.6h1.5V1166.8h1.5V1185.2h1.5V1198.8h1.5V1209.8h1.5V1200.8h1.5V1253.1h1.5V1255.2h1.5V1285.6h1.5V1338.4h1.5V1373.8h1.5V1337.8h1.5V1282.9h1.5V1245.8h1.5V1216.6h1.5V1217.7h1.5V1262.4h1.5V1237.5h1.5V1238.0h1.5V1212.1h1.5V1250.1h1.5V1267.6h1.5V1220.8h1.5V1201.6h1.5V1253.1h1.5V1177.9h1.5V1183.3h1.5V1257.2h1.5V1296.4h1.5V1283.2h1.5V1277.7h1.5V1248.1h1.5V1303.8h1.5V1188.7h1.5V1191.6h1.5V1276.6h1.5V1288.2h1.5V1249.2h1.5V1008.1h1.5V1006.9h1.5V1009.4h1.5V1008.2h1.5V1008.9h1.5V1007.2h1.5V1008.4h1.5V1008.9h1.5V1007.2h1.5V1009.3h1.5V1007.3h3V1007.4h1.5V1011.8h1.5V1012.2h1.5V1010.9h1.5V1007.3h1.5V1010.7h1.5V1014.3h1.5V1012.2h1.5V1007.6h1.5V1007.8h1.5V1019.9h1.5V1007.7h1.5V1012.6h1.5V1007.8h1.5V1007.7h3V1007.9h1.5V1007.8h1.5V1008.3h1.5V1012.5h1.5V1013.8h1.5V1014.0h1.5V1007.8h1.5V1012.0h1.5V1011.6h1.5V1012.3h1.5V1007.9h1.5V1014.3h1.5V1018.7h1.5V1013.3h1.5V1007.7h1.5V1008.5h1.5V1007.9h1.5V1008.3h1.5V1008.9h1.5V1016.6h1.5V1019.7h1.5V1009.2h1.5V1009.6h1.5V1008.8h1.5V1012.6h1.5V1011.0h1.5V1049.8h1.5V1055.5h1.5V1036.0h1.5V1021.5h1.5V1008.9h1.5V1008.6h1.5V1008.1h1.5V1009.4h1.5V1023.4h1.5V1008.5h1.5V1010.0h1.5V1009.2h1.5V1010.6h1.5V1009.5h1.5V1024.1h1.5V1009.4h1.5V1020.5h1.5V1021.7h1.5V1017.4h1.5V1009.7h3V1018.5h1.5V1008.9h1.5V1024.4h1.5V1009.7h1.5V1009.1h1.5V1021.2h1.5V1010.5h1.5V1019.8h1.5V1009.5h1.5V1009.8h1.5V1009.3h1.5V1009.1h1.5V1008.9h1.5V1008.8h1.5V1008.1h1.5V1008.7h1.5V1009.7h1.5V1020.1h1.5V1009.4h1.5V1015.3h1.5V1022.1h1.5V1010.3h1.5V1024.6h1.5V1007.1h1.5V1006.9h1.5V1007.0h1.5V1006.9h1.5V1007.0h1.5V1008.6h1.5V1008.5h1.5V1007.4h1.5V1008.4h1.5V1007.4h1.5V1007.6h1.5V1009.0h1.5V1008.3h1.5V1009.8h1.5V1008.2h1.5V1008.0h1.5V1009.8h1.5V1007.0h1.5V1008.4h1.5V1009.8h1.5V1008.5h1.5V1009.8h1.5V1008.5h1.5V1008.6h1.5V1011.7h1.5V1010.8h1.5V1012.3h1.5V1014.3h1.5V1013.2h1.5V1018.2h1.5V1015.9h1.5V1014.7h1.5V1146.3h1.5V1302.1h1.5V1007.0h1.5V1008.5h3V1008.2h1.5V1007.0h1.5V1009.6h1.5V1010.6h1.5V1010.1h1.5V1010.3h1.5V1008.4h1.5V1008.3h1.5V1006.9h3V1008.3h1.5V1008.0h1.5V1007.1h1.5V1008.5h1.5V1008.3h1.5V1010.5h1.5V1008.6h1.5V1010.0h1.5V1006.9h1.5V1010.6h1.5V1010.0h1.5V1010.2h1.5V1008.4h3V1007.0h1.5V1009.2h1.5V1010.9h1.5V1016.1h1.5V1021.9h1.5V1049.6h1.5V1054.0h1.5V1074.9h1.5V1011.4h1.5V1009.2h1.5V1037.9h1.5V1007.9h1.5V1038.9h1.5V1021.0h1.5V1051.2h1.5V1008.2h1.5V1012.1h1.5V1022.2h1.5V1009.6h1.5V1066.4h1.5V1022.2h1.5V1008.4h1.5V1417.0Z"/>
<path fill="#00ffff" d="M408.0 1417.0V1008.4h69V1067.7h1.5V1215.8h1.5V1252.4h1.5V1269.2h1.5V1288.8h1.5V1286.1h1.5V1285.9h1.5V1263.9h1.5V1292.2h1.5V1235.2h1.5V1247.0h1.5V1179.1h1.5V1150.0h1.5V1162.2h1.5V1006.8h19.5V1013.2h1.5V1025.8h1.5V1080.5h1.5V1055.0h1.5V1038.4h1.5V1021.6h1.5V1017.7h1.5V1048.9h1.5V1028.6h1.5V1024.4h1.5V1084.1h1.5V1073.1h1.5V1093.6h1.5V1056.6h1.5V1085.2h1.5V1085.0h1.5V1090.9h1.5V1085.2h1.5V1119.1h1.5V1081.7h1.5V1062.4h1.5V1040.7h1.5V1027.3h1.5V1063.4h1.5V1031.2h1.5V1025.2h1.5V1025.8h1.5V1048.1h1.5V1043.3h1.5V1031.0h1.5V1051.4h1.5V1026.6h1.5V1058.1h1.5V1025.1h1.5V1022.3h1.5V1019.1h1.5V1060.2h1.5V1028.5h1.5V1067.2h1.5V1023.2h1.5V1193.7h1.5V1179.2h1.5V1238.1h1.5V1256.3h1.5V1303.0h1.5V1326.4h1.5V1331.9h1.5V1154.1h1.5V1174.8h1.5V1111.8h1.5V1066.0h1.5V1054.6h1.5V1051.0h1.5V1092.9h1.5V1104.6h1.5V1110.3h1.5V1138.8h1.5V1156.8h1.5V1133.0h1.5V1144.7h1.5V1132.4h1.5V1102.1h1.5V1099.2h1.5V1100.1h1.5V1095.3h1.5V1103.6h1.5V1112.1h1.5V1146.9h1.5V1146.5h1.5V1226.0h1.5V1168.7h1.5V1157.9h1.5V1168.3h1.5V1173.8h1.5V1198.2h1.5V1147.1h1.5V1127.4h1.5V1159.0h1.5V1163.4h1.5V1160.4h1.5V1203.5h1.5V1197.7h1.5V1166.4h1.5V1159.2h1.5V1195.7h1.5V1275.7h1.5V1261.5h1.5V1298.5h1.5V1231.5h1.5V1352.5h1.5V1251.5h1.5V1192.9h1.5V1168.7h1.5V1130.5h1.5V1179.7h1.5V1158.7h1.5V1140.9h1.5V1137.4h1.5V1170.6h1.5V1114.3h1.5V1150.9h1.5V1104.3h1.5V1132.9h1.5V1119.7h1.5V1110.1h1.5V1087.0h1.5V1114.6h1.5V1107.5h1.5V1150.8h1.5V1092.4h1.5V1079.8h1.5V1093.3h1.5V1143.2h1.5V1122.4h1.5V1106.5h1.5V1055.0h1.5V1051.2h1.5V1082.8h1.5V1049.9h1.5V1090.3h1.5V1051.3h1.5V1080.1h1.5V1061.0h1.5V1054.3h1.5V1051.9h1.5V1064.9h1.5V1044.1h1.5V1087.5h1.5V1042.8h1.5V1038.3h1.5V1080.4h1.5V1061.6h1.5V1030.3h1.5V1041.3h1.5V1048.5h1.5V1025.0h1.5V1050.5h1.5V1027.2h1.5V1008.4h1.5V1415.7h1.5V1413.9h1.5V1393.2h1.5V1414.5h1.5V1415.8h4.5V1415.5h1.5V1413.7h1.5V1415.5h1.5V1415.0h1.5V1414.9h1.5V1413.1h1.5V1414.9h3V1412.8h1.5V1414.5h1.5V1414.3h1.5V1415.2h1.5V1413.2h1.5V1414.6h1.5V1414.7h3V1415.0h1.5V1412.6h1.5V1414.1h1.5V1413.0h1.5V1410.8h1.5V1410.4h1.5V1412.7h1.5V1410.6h1.5V1411.5h1.5V1410.9h1.5V1409.1h1.5V1407.1h1.5V1407.9h1.5V1406.9h1.5V1406.6h1.5V1404.4h1.5V1401.6h1.5V1404.1h1.5V1397.5h1.5V1394.4h1.5V1381.8h1.5V1380.6h1.5V1390.4h1.5V1383.3h1.5V1384.8h1.5V1388.3h1.5V1395.3h1.5V1382.2h1.5V1385.9h1.5V1391.8h1.5V1393.5h1.5V1390.6h1.5V1394.6h1.5V1389.4h1.5V1384.2h1.5V1392.5h1.5V1393.5h3V1394.5h1.5V1389.0h1.5V1395.5h1.5V1390.6h1.5V1391.9h1.5V1370.2h1.5V1390.5h1.5V1367.7h1.5V1391.7h1.5V1382.1h1.5V1382.4h1.5V1377.5h1.5V1385.8h1.5V1389.5h1.5V1381.7h1.5V1375.2h1.5V1378.2h1.5V1363.1h1.5V1364.2h1.5V1351.6h1.5V1364.8h1.5V1351.4h1.5V1397.1h1.5V1394.1h1.5V1337.6h1.5V1289.3h1.5V1320.0h1.5V1318.6h1.5V1341.0h1.5V1350.9h1.5V1356.3h1.5V1356.1h1.5V1361.9h1.5V1374.3h1.5V1384.0h1.5V1381.9h1.5V1387.7h1.5V1372.0h1.5V1381.0h1.5V1367.5h1.5V1347.1h1.5V1371.2h1.5V1359.3h1.5V1349.2h1.5V1353.3h1.5V1359.4h1.5V1363.9h1.5V1369.6h1.5V1355.0h1.5V1376.5h1.5V1359.8h1.5V1370.0h1.5V1349.6h1.5V1356.8h1.5V1365.4h1.5V1359.1h1.5V1316.4h1.5V1328.5h1.5V1302.3h1.5V1324.8h1.5V1327.0h1.5V1330.8h1.5V1337.4h1.5V1282.7h1.5V1319.2h1.5V1295.1h1.5V1295.3h1.5V1334.8h1.5V1266.9h1.5V1302.6h1.5V1300.7h1.5V1276.7h1.5V1291.3h1.5V1313.5h1.5V1270.8h1.5V1287.4h1.5V1313.2h1.5V1312.9h1.5V1267.9h1.5V1299.7h1.5V1256.2h3V1286.6h1.5V1282.9h1.5V1293.3h1.5V1263.0h1.5V1312.7h1.5V1271.9h1.5V1320.7h1.5V1298.1h1.5V1267.6h1.5V1310.5h1.5V1344.0h1.5V1302.0h1.5V1297.8h1.5V1358.0h1.5V1321.3h1.5V1329.5h1.5V1296.0h1.5V1310.9h1.5V1297.9h1.5V1293.4h1.5V1304.1h1.5V1267.8h1.5V1288.2h1.5V1249.0h1.5V1288.3h1.5V1277.4h1.5V1304.5h1.5V1323.3h1.5V1296.3h1.5V1295.4h1.5V1313.1h1.5V1296.0h1.5V1267.6h1.5V1287.4h1.5V1297.8h1.5V1341.7h1.5V1299.6h1.5V1323.5h1.5V1319.3h1.5V1327.5h1.5V1309.8h1.5V1288.1h1.5V1331.5h1.5V1335.1h1.5V1341.6h1.5V1321.4h1.5V1305.4h1.5V1296.8h1.5V1285.5h1.5V1284.2h1.5V1295.5h1.5V1326.6h1.5V1274.7h1.5V1299.2h1.5V1290.9h1.5V1333.2h1.5V1283.1h1.5V1260.4h1.5V1307.6h1.5V1298.4h1.5V1287.7h1.5V1297.6h1.5V1279.3h1.5V1325.6h1.5V1296.6h1.5V1296.8h1.5V1246.1h1.5V1316.2h1.5V1323.4h1.5V1287.4h1.5V1284.8h1.5V1316.7h1.5V1345.4h1.5V1347.1h1.5V1361.5h1.5V1339.8h1.5V1369.4h1.5V1331.6h1.5V1321.9h1.5V1328.3h1.5V1352.2h1.5V1343.8h1.5V1331.5h1.5V1364.0h1.5V1346.4h1.5V1387.9h1.5V1305.0h1.5V1285.5h1.5V1305.5h1.5V1304.2h1.5V1305.3h1.5V1251.1h1.5V1286.7h1.5V1290.6h1.5V1252.5h1.5V1282.2h1.5V1268.6h1.5V1279.5h1.5V1280.7h1.5V1310.1h1.5V1282.5h1.5V1245.2h1.5V1279.2h1.5V1338.1h1.5V1291.8h1.5V1301.3h1.5V1280.7h1.5V1262.7h1.5V1259.1h1.5V1256.5h1.5V1264.3h1.5V1237.3h1.5V1228.8h1.5V1244.5h1.5V1300.9h1.5V1280.8h1.5V1314.6h1.5V1236.6h1.5V1299.4h1.5V1297.5h1.5V1245.0h1.5V1224.3h1.5V1252.7h1.5V1243.7h1.5V1213.6h1.5V1232.7h1.5V1169.0h1.5V1243.9h1.5V1224.8h1.5V1236.8h1.5V1156.1h1.5V1182.1h1.5V1165.2h1.5V1168.8h1.5V1141.5h1.5V1157.0h1.5V1147.3h1.5V1222.5h1.5V1225.7h1.5V1161.6h1.5V1154.1h1.5V1111.2h1.5V1166.1h1.5V1104.9h1.5V1186.3h1.5V1143.8h1.5V1170.3h1.5V1155.6h1.5V1248.6h1.5V1272.0h1.5V1209.9h1.5V1247.4h1.5V1218.4h1.5V1304.3h1.5V1280.2h1.5V1249.3h1.5V1237.6h1.5V1192.9h1.5V1201.3h1.5V1201.9h1.5V1206.4h1.5V1209.8h1.5V1226.0h1.5V1240.5h1.5V1246.3h1.5V1228.1h1.5V1227.3h1.5V1202.2h1.5V1240.7h1.5V1220.4h1.5V1254.6h1.5V1240.7h1.5V1231.0h1.5V1209.4h1.5V1215.4h1.5V1273.7h1.5V1261.5h1.5V1251.5h1.5V1230.7h1.5V1256.7h1.5V1285.7h1.5V1306.4h1.5V1308.0h1.5V1298.9h1.5V1304.4h1.5V1313.8h1.5V1286.1h1.5V1290.9h1.5V1319.7h1.5V1280.3h1.5V1294.1h1.5V1268.6h1.5V1270.7h1.5V1295.3h1.5V1260.1h1.5V1237.2h1.5V1304.5h1.5V1283.6h1.5V1286.9h1.5V1308.4h1.5V1329.1h1.5V1278.9h1.5V1334.0h1.5V1326.0h1.5V1285.1h1.5V1291.1h1.5V1255.6h1.5V1236.5h1.5V1202.4h1.5V1242.9h1.5V1235.0h1.5V1219.4h1.5V1149.7h1.5V1158.2h1.5V1233.2h1.5V1234.5h1.5V1415.1h1.5V1417.0ZM1267.5 1417.0V1415.5h1.5V1398.7h1.5V1414.8h3V1416.2h1.5V1415.9h1.5V1414.5h1.5V1414.6h1.5V1414.2h1.5V1415.1h1.5V1415.7h1.5V1415.6h1.5V1370.2h1.5V1413.7h1.5V1412.2h1.5V1413.5h1.5V1412.6h1.5V1413.1h1.5V1414.9h1.5V1412.7h1.5V1413.5h1.5V1413.4h1.5V1415.2h1.5V1413.2h1.5V1412.9h3V1412.0h1.5V1412.8h1.5V1411.4h1.5V1409.4h1.5V1385.8h1.5V1382.4h1.5V1378.3h1.5V1366.1h1.5V1351.7h1.5V1349.1h1.5V1371.4h1.5V1348.5h1.5V1360.0h1.5V1336.3h1.5V1359.1h1.5V1393.0h1.5V1349.1h1.5V1350.1h1.5V1339.5h1.5V1351.9h1.5V1285.0h1.5V1271.6h1.5V1283.4h1.5V1273.9h1.5V1264.0h1.5V1283.4h1.5V1245.2h1.5V1146.6h1.5V1139.3h1.5V1091.9h1.5V1187.8h1.5V1214.5h1.5V1225.7h1.5V1267.4h1.5V1006.8h12V1009.5h1.5V1006.8h3V1007.6h1.5V1009.1h1.5V1010.4h1.5V1011.9h1.5V1012.7h1.5V1014.7h1.5V1015.9h1.5V1017.9h1.5V1021.3h1.5V1021.1h1.5V1023.9h1.5V1023.0h1.5V1026.4h1.5V1026.2h1.5V1031.3h1.5V1039.0h1.5V1042.2h1.5V1039.3h1.5V1032.2h1.5V1037.0h1.5V1037.4h1.5V1032.5h1.5V1044.0h1.5V1033.7h1.5V1031.8h1.5V1055.6h1.5V1049.3h1.5V1076.9h1.5V1121.5h1.5V1101.9h1.5V1112.8h1.5V1106.9h1.5V1106.3h1.5V1110.6h1.5V1112.2h1.5V1147.6h1.5V1142.4h1.5V1135.9h1.5V1153.4h1.5V1167.1h1.5V1158.1h1.5V1197.9h1.5V1179.6h1.5V1161.1h1.5V1168.4h1.5V1148.1h1.5V1172.8h1.5V1172.1h1.5V1170.2h1.5V1145.2h1.5V1140.7h1.5V1153.3h1.5V1191.8h1.5V1249.9h1.5V1238.6h1.5V1198.1h1.5V1187.7h1.5V1173.6h1.5V1151.5h1.5V1217.6h1.5V1222.5h1.5V1417.0ZM1495.5 1417.0V1397.3h1.5V1417.0ZM1510.5 1417.0V1416.1h1.5V1414.9h1.5V1414.7h1.5V1409.7h1.5V1413.2h1.5V1412.5h1.5V1411.4h1.5V1410.2h1.5V1416.3h1.5V1409.3h1.5V1408.8h1.5V1406.7h1.5V1403.2h1.5V1416.3h1.5V1396.3h1.5V1402.8h1.5V1395.6h1.5V1410.4h1.5V1414.8h1.5V1403.7h1.5V1408.9h1.5V1379.4h1.5V1385.5h1.5V1380.5h1.5V1361.4h1.5V1364.7h1.5V1375.3h1.5V1412.3h1.5V1412.8h1.5V1404.4h1.5V1371.1h1.5V1373.0h1.5V1371.8h1.5V1382.1h1.5V1376.1h1.5V1373.4h1.5V1356.5h1.5V1374.8h1.5V1402.7h1.5V1382.9h1.5V1372.8h1.5V1365.6h1.5V1364.2h1.5V1350.7h1.5V1352.4h1.5V1373.3h1.5V1357.6h1.5V1353.8h1.5V1314.8h1.5V1338.5h1.5V1338.9h1.5V1333.0h1.5V1320.7h1.5V1332.2h1.5V1364.1h1.5V1379.8h1.5V1377.9h1.5V1371.4h1.5V1378.1h1.5V1362.5h1.5V1387.0h1.5V1362.9h1.5V1381.7h1.5V1376.4h1.5V1385.6h1.5V1373.0h1.5V1389.0h3V1405.1h1.5V1355.9h1.5V1285.8h1.5V1245.8h1.5V1216.7h1.5V1217.9h1.5V1262.6h1.5V1237.8h1.5V1238.3h1.5V1212.5h1.5V1250.7h1.5V1268.2h1.5V1221.5h1.5V1202.3h1.5V1253.8h1.5V1178.7h1.5V1184.1h1.5V1258.2h1.5V1297.4h1.5V1284.0h1.5V1278.7h1.5V1249.0h1.5V1304.9h1.5V1189.8h1.5V1192.9h1.5V1278.1h1.5V1289.8h1.5V1251.0h1.5V1008.1h1.5V1006.9h1.5V1009.4h1.5V1026.5h1.5V1008.9h1.5V1007.2h1.5V1008.4h1.5V1008.9h1.5V1007.2h1.5V1009.3h1.5V1007.3h3V1007.4h1.5V1011.8h1.5V1012.2h1.5V1010.9h1.5V1007.3h1.5V1010.7h1.5V1015.1h1.5V1013.1h1.5V1009.7h1.5V1010.3h1.5V1020.0h1.5V1007.8h1.5V1012.9h1.5V1007.9h3V1012.6h1.5V1012.5h1.5V1014.7h1.5V1008.5h1.5V1018.3h1.5V1014.2h3V1008.2h1.5V1019.8h1.5V1017.6h1.5V1019.3h1.5V1008.1h1.5V1014.4h1.5V1019.0h1.5V1020.8h1.5V1007.8h1.5V1009.1h1.5V1008.9h1.5V1016.0h1.5V1020.6h1.5V1025.6h1.5V1020.6h1.5V1009.4h1.5V1010.5h1.5V1009.6h1.5V1030.5h1.5V1011.7h1.5V1064.8h1.5V1056.5h1.5V1036.3h1.5V1045.9h1.5V1025.1h1.5V1030.2h1.5V1021.8h1.5V1046.4h1.5V1026.1h1.5V1010.5h1.5V1036.6h1.5V1011.1h1.5V1049.3h1.5V1009.8h1.5V1024.3h1.5V1012.6h1.5V1023.2h1.5V1021.7h1.5V1020.0h1.5V1011.4h1.5V1011.8h1.5V1022.3h1.5V1010.4h1.5V1025.0h1.5V1027.0h1.5V1033.9h1.5V1038.7h1.5V1031.4h1.5V1020.1h1.5V1011.1h1.5V1028.9h1.5V1011.0h1.5V1011.6h1.5V1010.3h1.5V1010.4h1.5V1067.5h1.5V1014.0h1.5V1010.3h1.5V1145.8h1.5V1140.6h1.5V1159.3h1.5V1025.9h1.5V1148.9h1.5V1134.7h1.5V1007.1h1.5V1006.9h1.5V1007.0h1.5V1006.9h1.5V1007.0h1.5V1008.6h1.5V1008.5h1.5V1007.4h1.5V1008.4h1.5V1007.4h1.5V1007.6h1.5V1009.0h1.5V1008.3h1.5V1009.8h1.5V1008.2h1.5V1008.0h1.5V1009.8h1.5V1007.0h1.5V1008.4h1.5V1009.8h1.5V1008.5h1.5V1009.8h1.5V1008.5h1.5V1013.5h1.5V1034.0h1.5V1047.3h1.5V1058.8h1.5V1072.3h1.5V1071.9h1.5V1099.9h1.5V1117.3h1.5V1111.6h1.5V1146.3h1.5V1302.1h1.5V1133.1h1.5V1150.6h1.5V1139.7h1.5V1155.1h1.5V1156.5h1.5V1154.6h1.5V1165.2h1.5V1159.7h1.5V1152.8h1.5V1142.6h1.5V1128.3h1.5V1127.2h1.5V1114.2h1.5V1135.2h1.5V1174.9h1.5V1201.0h1.5V1195.1h1.5V1184.8h1.5V1184.5h1.5V1183.8h1.5V1163.3h1.5V1177.1h1.5V1182.7h1.5V1164.9h1.5V1178.8h1.5V1205.9h1.5V1208.6h1.5V1245.3h1.5V1247.8h1.5V1172.5h1.5V1200.2h1.5V1201.4h1.5V1170.2h1.5V1174.8h1.5V1188.9h1.5V1109.8h1.5V1111.0h1.5V1126.2h1.5V1086.2h1.5V1122.8h1.5V1109.8h1.5V1135.1h1.5V1080.7h1.5V1083.2h1.5V1080.7h1.5V1056.4h1.5V1097.1h1.5V1049.2h1.5V1030.8h1.5V1417.0Z"/>
<path fill="#00ff40" d="M477.0 1417.0V1273.3h1.5V1319.1h1.5V1359.0h1.5V1367.4h1.5V1384.3h1.5V1390.6h1.5V1407.1h1.5V1399.6h1.5V1401.0h1.5V1399.7h1.5V1379.1h1.5V1401.4h1.5V1394.4h1.5V1393.5h1.5V1006.8h19.5V1013.2h1.5V1025.8h1.5V1080.5h1.5V1055.1h1.5V1038.6h1.5V1023.8h1.5V1017.8h1.5V1049.4h1.5V1033.9h1.5V1029.4h1.5V1084.6h1.5V1073.4h1.5V1094.1h1.5V1062.0h1.5V1085.4h1.5V1085.0h1.5V1091.1h1.5V1085.5h1.5V1127.2h1.5V1081.9h1.5V1062.7h1.5V1040.8h1.5V1028.2h1.5V1068.0h1.5V1031.7h1.5V1025.5h1.5V1030.1h1.5V1055.7h1.5V1043.8h1.5V1031.6h1.5V1052.0h1.5V1027.2h1.5V1065.8h1.5V1026.4h1.5V1022.9h1.5V1019.4h1.5V1060.6h1.5V1029.9h1.5V1067.7h1.5V1028.3h1.5V1199.8h1.5V1179.7h1.5V1238.1h1.5V1274.0h1.5V1303.1h1.5V1331.7h1.5V1332.0h1.5V1161.1h1.5V1181.1h1.5V1112.5h1.5V1066.3h1.5V1057.8h1.5V1051.5h1.5V1093.1h1.5V1105.0h1.5V1116.1h1.5V1139.3h1.5V1157.1h1.5V1133.7h1.5V1145.3h1.5V1133.6h1.5V1124.3h1.5V1100.0h1.5V1100.2h1.5V1102.5h1.5V1103.9h1.5V1112.2h1.5V1147.2h1.5V1146.9h1.5V1226.2h1.5V1169.6h1.5V1158.5h1.5V1168.6h1.5V1183.2h1.5V1198.5h1.5V1148.1h1.5V1135.2h1.5V1166.5h1.5V1177.9h1.5V1160.6h1.5V1204.6h1.5V1199.0h1.5V1166.7h1.5V1159.8h1.5V1196.0h1.5V1276.0h1.5V1261.7h1.5V1299.5h1.5V1232.3h1.5V1352.7h1.5V1252.8h1.5V1201.5h1.5V1178.8h1.5V1131.3h1.5V1181.0h1.5V1159.3h1.5V1141.8h1.5V1154.4h1.5V1188.7h1.5V1115.3h1.5V1171.3h1.5V1115.5h1.5V1145.2h1.5V1120.0h1.5V1110.4h1.5V1087.2h1.5V1115.5h1.5V1108.3h1.5V1150.9h1.5V1092.9h1.5V1081.3h1.5V1093.3h1.5V1143.4h1.5V1142.7h1.5V1108.8h1.5V1067.6h1.5V1052.5h1.5V1084.3h1.5V1060.6h1.5V1091.2h1.5V1052.4h1.5V1081.9h1.5V1093.9h1.5V1055.4h1.5V1064.9h1.5V1066.1h1.5V1045.5h1.5V1088.8h1.5V1052.3h1.5V1039.7h1.5V1080.7h1.5V1061.9h1.5V1031.6h1.5V1074.1h1.5V1048.8h1.5V1034.9h1.5V1050.9h1.5V1027.4h1.5V1417.0ZM726.0 1417.0V1416.1h1.5V1414.0h1.5V1416.1h1.5V1414.6h1.5V1415.8h4.5V1415.5h1.5V1413.7h1.5V1415.5h1.5V1415.0h1.5V1414.9h1.5V1413.1h1.5V1414.9h3V1412.8h1.5V1414.5h1.5V1414.3h1.5V1415.2h1.5V1413.2h1.5V1414.6h1.5V1414.7h3V1415.0h1.5V1412.6h1.5V1414.1h1.5V1413.0h1.5V1410.8h1.5V1410.4h1.5V1412.7h1.5V1410.6h1.5V1411.5h1.5V1410.9h1.5V1409.1h1.5V1407.1h1.5V1407.9h1.5V1406.9h1.5V1406.6h1.5V1404.4h1.5V1401.6h1.5V1404.1h1.5V1399.0h1.5V1399.2h1.5V1392.4h1.5V1388.0h1.5V1397.8h1.5V1393.0h1.5V1393.6h1.5V1395.1h1.5V1395.8h1.5V1388.8h1.5V1395.5h1.5V1398.0h1.5V1399.8h1.5V1399.1h1.5V1400.4h1.5V1390.3h1.5V1389.3h1.5V1398.7h1.5V1393.6h1.5V1402.8h1.5V1401.7h1.5V1396.1h1.5V1401.9h1.5V1400.0h1.5V1399.5h1.5V1378.0h1.5V1396.9h1.5V1389.9h1.5V1391.9h1.5V1386.1h1.5V1388.4h1.5V1382.1h1.5V1392.6h1.5V1395.9h1.5V1389.2h1.5V1385.5h1.5V1392.6h1.5V1402.3h1.5V1393.5h1.5V1388.2h1.5V1403.9h1.5V1401.5h1.5V1398.4h1.5V1398.3h1.5V1398.2h1.5V1386.5h1.5V1376.6h1.5V1371.2h1.5V1379.6h1.5V1366.3h1.5V1371.7h1.5V1374.9h1.5V1375.2h1.5V1382.3h1.5V1385.1h1.5V1382.4h1.5V1388.3h1.5V1372.2h1.5V1381.1h1.5V1368.0h1.5V1357.0h1.5V1379.5h1.5V1366.9h1.5V1349.7h1.5V1361.5h1.5V1367.0h1.5V1376.2h1.5V1375.9h1.5V1364.8h1.5V1377.2h1.5V1366.6h1.5V1370.1h1.5V1358.0h1.5V1357.0h1.5V1375.1h1.5V1366.2h1.5V1329.2h1.5V1336.4h1.5V1308.2h1.5V1332.1h1.5V1334.6h1.5V1341.4h1.5V1345.4h1.5V1298.2h1.5V1330.0h1.5V1308.0h1.5V1315.2h1.5V1345.3h1.5V1295.5h1.5V1318.0h1.5V1313.0h1.5V1302.3h1.5V1307.7h1.5V1324.3h1.5V1288.2h1.5V1308.3h1.5V1314.4h1.5V1329.4h1.5V1279.5h1.5V1313.1h1.5V1277.4h1.5V1279.1h1.5V1309.6h1.5V1287.7h1.5V1295.6h1.5V1268.7h1.5V1313.1h1.5V1274.8h1.5V1322.2h1.5V1342.1h1.5V1311.9h1.5V1311.5h1.5V1344.5h1.5V1327.9h1.5V1327.1h1.5V1358.1h1.5V1343.8h1.5V1330.8h1.5V1325.6h1.5V1334.1h1.5V1298.5h1.5V1294.3h1.5V1304.5h1.5V1278.4h1.5V1288.5h1.5V1268.0h1.5V1308.7h1.5V1279.2h1.5V1329.0h1.5V1350.0h1.5V1333.1h1.5V1333.4h1.5V1313.2h1.5V1301.1h1.5V1300.6h1.5V1323.1h1.5V1320.5h1.5V1342.7h1.5V1300.5h1.5V1351.9h1.5V1340.5h1.5V1352.7h1.5V1329.9h1.5V1311.4h1.5V1354.5h1.5V1351.2h1.5V1342.3h1.5V1346.4h1.5V1328.2h1.5V1328.8h1.5V1331.0h1.5V1314.4h1.5V1339.4h1.5V1328.5h1.5V1304.7h1.5V1349.8h1.5V1322.4h1.5V1335.2h1.5V1346.6h1.5V1290.4h1.5V1332.4h1.5V1324.6h1.5V1315.3h1.5V1324.5h1.5V1296.9h1.5V1326.0h1.5V1317.5h1.5V1314.6h1.5V1270.5h1.5V1332.7h1.5V1325.4h1.5V1288.8h1.5V1308.7h1.5V1333.2h1.5V1348.1h1.5V1373.2h1.5V1363.3h1.5V1368.9h1.5V1370.2h1.5V1331.6h1.5V1355.2h1.5V1346.7h1.5V1353.4h1.5V1346.3h1.5V1350.3h1.5V1365.1h1.5V1374.3h1.5V1388.3h1.5V1305.3h1.5V1293.3h1.5V1306.1h1.5V1304.9h1.5V1306.0h1.5V1264.1h1.5V1301.0h1.5V1301.8h1.5V1287.0h1.5V1282.5h1.5V1283.4h1.5V1280.1h1.5V1302.9h1.5V1332.4h1.5V1282.6h1.5V1276.1h1.5V1295.6h1.5V1338.6h1.5V1306.4h1.5V1319.8h1.5V1300.7h1.5V1298.6h1.5V1281.7h1.5V1256.8h1.5V1287.7h1.5V1239.0h1.5V1264.4h1.5V1265.9h1.5V1301.6h1.5V1282.6h1.5V1315.1h1.5V1260.0h1.5V1300.9h1.5V1319.5h1.5V1246.8h1.5V1255.0h1.5V1279.5h1.5V1255.5h1.5V1215.2h1.5V1233.7h1.5V1184.0h1.5V1258.8h1.5V1227.5h1.5V1238.1h1.5V1175.4h1.5V1207.3h1.5V1197.8h1.5V1187.3h1.5V1143.9h1.5V1179.8h1.5V1169.2h1.5V1223.3h1.5V1240.6h1.5V1161.7h1.5V1168.6h1.5V1124.7h1.5V1181.9h1.5V1106.5h1.5V1186.7h1.5V1164.3h1.5V1172.3h1.5V1188.5h1.5V1249.5h1.5V1272.6h1.5V1215.8h1.5V1247.8h1.5V1275.9h1.5V1306.1h1.5V1281.2h1.5V1287.3h1.5V1264.3h1.5V1215.2h1.5V1202.9h1.5V1219.7h1.5V1227.0h1.5V1226.2h1.5V1241.5h1.5V1241.7h1.5V1246.6h1.5V1229.2h1.5V1240.6h1.5V1219.2h1.5V1241.7h1.5V1232.8h1.5V1255.2h1.5V1253.8h1.5V1231.4h1.5V1219.7h1.5V1228.8h1.5V1284.7h1.5V1262.4h1.5V1258.3h1.5V1238.8h1.5V1264.2h1.5V1293.4h1.5V1317.1h1.5V1308.8h1.5V1299.2h1.5V1305.6h1.5V1314.7h1.5V1304.8h1.5V1307.1h1.5V1320.5h1.5V1314.5h1.5V1333.7h1.5V1393.5h1.5V1373.4h1.5V1383.9h1.5V1375.2h1.5V1369.8h1.5V1387.5h1.5V1376.7h1.5V1390.3h1.5V1389.3h1.5V1390.5h1.5V1353.9h1.5V1378.3h1.5V1383.0h1.5V1350.2h1.5V1342.5h1.5V1320.4h1.5V1308.8h1.5V1324.2h1.5V1327.1h1.5V1316.7h1.5V1291.6h1.5V1253.4h1.5V1246.7h1.5V1287.6h1.5V1284.5h1.5V1415.1h1.5V1417.0ZM1267.5 1417.0V1415.6h1.5V1398.9h1.5V1414.9h1.5V1415.1h1.5V1417.0ZM1275.0 1417.0V1416.3h1.5V1414.9h1.5V1415.0h1.5V1414.7h1.5V1415.5h1.5V1416.2h1.5V1416.0h1.5V1370.6h1.5V1414.1h1.5V1412.7h1.5V1413.8h1.5V1413.2h1.5V1413.7h1.5V1415.6h1.5V1413.4h1.5V1414.3h3V1416.1h1.5V1414.3h1.5V1414.1h1.5V1414.3h1.5V1413.5h1.5V1414.1h1.5V1412.7h1.5V1410.6h1.5V1387.5h1.5V1383.9h1.5V1380.2h1.5V1368.2h1.5V1354.0h1.5V1352.1h1.5V1374.0h1.5V1351.2h1.5V1361.9h1.5V1338.2h1.5V1361.2h1.5V1394.8h1.5V1350.7h1.5V1352.0h1.5V1341.0h1.5V1353.8h1.5V1286.8h1.5V1273.5h1.5V1285.2h1.5V1275.7h1.5V1265.6h1.5V1285.0h1.5V1246.8h1.5V1148.5h1.5V1140.8h1.5V1093.7h1.5V1189.6h1.5V1216.7h1.5V1228.7h1.5V1269.8h1.5V1006.8h12V1009.5h1.5V1006.8h3V1007.6h1.5V1009.1h1.5V1010.4h1.5V1011.9h1.5V1012.7h1.5V1014.7h1.5V1016.1h1.5V1018.0h1.5V1021.4h1.5V1021.3h1.5V1024.1h1.5V1025.7h1.5V1028.6h1.5V1028.5h1.5V1031.5h1.5V1042.1h1.5V1044.7h1.5V1039.5h1.5V1032.4h1.5V1039.8h1.5V1037.4h1.5V1032.6h1.5V1044.0h1.5V1033.8h1.5V1031.8h1.5V1058.7h1.5V1052.0h1.5V1080.2h1.5V1121.7h1.5V1102.2h1.5V1116.3h1.5V1109.6h1.5V1106.7h1.5V1110.8h1.5V1115.3h1.5V1148.0h1.5V1145.5h1.5V1135.9h1.5V1153.7h1.5V1171.1h1.5V1161.4h1.5V1198.0h1.5V1179.7h1.5V1161.4h1.5V1171.5h1.5V1148.5h1.5V1172.8h1.5V1174.8h1.5V1170.3h1.5V1145.2h1.5V1145.0h1.5V1158.0h1.5V1196.2h1.5V1250.3h1.5V1239.1h1.5V1203.0h1.5V1192.5h1.5V1174.1h1.5V1151.8h1.5V1217.8h1.5V1227.6h1.5V1417.0ZM1495.5 1417.0V1397.3h1.5V1417.0ZM1510.5 1417.0V1416.1h1.5V1414.9h1.5V1414.7h1.5V1409.7h1.5V1413.2h1.5V1412.5h1.5V1411.4h1.5V1410.2h1.5V1416.3h1.5V1409.3h1.5V1408.8h1.5V1406.7h1.5V1403.2h1.5V1416.3h1.5V1396.3h1.5V1402.8h1.5V1395.7h1.5V1410.5h1.5V1414.8h1.5V1406.6h1.5V1408.9h1.5V1382.7h1.5V1387.5h1.5V1380.8h1.5V1363.9h1.5V1366.8h1.5V1375.4h1.5V1412.4h1.5V1413.1h1.5V1407.0h1.5V1374.7h1.5V1376.0h1.5V1371.9h1.5V1385.1h1.5V1379.2h1.5V1376.1h1.5V1367.9h1.5V1374.8h1.5V1406.3h1.5V1387.2h1.5V1373.4h1.5V1365.7h1.5V1367.6h1.5V1354.0h1.5V1356.9h1.5V1373.4h1.5V1357.8h1.5V1361.0h1.5V1317.8h1.5V1340.8h1.5V1339.2h1.5V1333.1h1.5V1320.9h1.5V1332.4h1.5V1364.4h1.5V1380.2h1.5V1378.4h1.5V1375.3h1.5V1378.7h1.5V1368.0h1.5V1391.7h1.5V1362.9h1.5V1382.0h1.5V1381.0h1.5V1385.7h1.5V1373.6h1.5V1389.3h1.5V1389.2h1.5V1405.4h1.5V1356.3h1.5V1286.0h1.5V1245.8h1.5V1216.9h1.5V1221.7h1.5V1262.7h1.5V1241.9h1.5V1238.4h1.5V1216.7h1.5V1256.1h1.5V1268.5h1.5V1225.1h1.5V1206.2h1.5V1258.3h1.5V1182.7h1.5V1184.3h1.5V1258.3h1.5V1298.0h1.5V1284.2h1.5V1282.6h1.5V1254.0h1.5V1305.3h1.5V1192.9h1.5V1193.3h1.5V1283.1h1.5V1293.9h1.5V1254.8h1.5V1008.1h1.5V1006.9h1.5V1009.4h1.5V1026.5h1.5V1008.9h1.5V1007.2h1.5V1008.4h1.5V1008.9h1.5V1007.2h1.5V1009.3h1.5V1007.3h3V1008.5h1.5V1011.8h1.5V1012.2h1.5V1010.9h1.5V1007.8h1.5V1010.8h1.5V1015.4h1.5V1013.9h1.5V1009.7h1.5V1010.5h1.5V1021.9h1.5V1011.0h1.5V1012.9h1.5V1008.1h1.5V1010.0h1.5V1015.9h1.5V1012.5h1.5V1016.7h1.5V1008.7h1.5V1020.9h1.5V1014.2h1.5V1014.6h1.5V1008.2h1.5V1022.2h1.5V1017.6h1.5V1019.6h1.5V1008.3h1.5V1021.9h1.5V1019.1h1.5V1020.8h1.5V1010.7h1.5V1009.2h1.5V1009.1h1.5V1021.7h1.5V1021.0h1.5V1029.4h1.5V1020.8h1.5V1009.4h1.5V1015.0h1.5V1009.8h1.5V1034.8h1.5V1011.8h1.5V1069.0h1.5V1075.6h1.5V1041.2h1.5V1048.5h1.5V1029.1h1.5V1033.8h1.5V1022.1h1.5V1046.7h1.5V1026.1h1.5V1010.7h1.5V1036.9h1.5V1011.1h1.5V1053.8h1.5V1013.1h1.5V1029.0h1.5V1017.0h1.5V1026.0h1.5V1025.9h1.5V1020.0h1.5V1011.5h1.5V1015.3h1.5V1028.5h1.5V1016.1h1.5V1027.9h1.5V1027.2h1.5V1039.0h1.5V1046.0h1.5V1041.9h1.5V1030.1h1.5V1018.0h1.5V1035.7h1.5V1011.1h1.5V1012.0h1.5V1024.6h1.5V1026.2h1.5V1083.2h1.5V1015.4h1.5V1028.9h1.5V1146.8h1.5V1142.0h1.5V1179.0h1.5V1027.5h1.5V1161.9h1.5V1134.9h1.5V1007.3h1.5V1007.0h1.5V1007.1h1.5V1007.7h1.5V1032.5h1.5V1008.6h1.5V1010.0h1.5V1008.8h1.5V1009.8h1.5V1009.4h1.5V1009.5h1.5V1011.3h1.5V1011.2h1.5V1017.6h1.5V1027.3h1.5V1020.3h1.5V1012.3h1.5V1007.0h1.5V1008.8h1.5V1010.0h1.5V1012.2h1.5V1013.4h1.5V1012.4h1.5V1013.8h1.5V1034.3h1.5V1056.2h1.5V1070.1h1.5V1082.4h1.5V1084.4h1.5V1113.1h1.5V1118.2h1.5V1124.1h1.5V1154.5h1.5V1314.5h1.5V1134.3h1.5V1167.0h1.5V1158.5h1.5V1156.2h1.5V1158.2h1.5V1171.9h1.5V1166.4h1.5V1175.0h1.5V1154.4h1.5V1156.6h1.5V1142.9h1.5V1139.6h1.5V1114.7h1.5V1150.9h1.5V1175.5h1.5V1211.6h1.5V1205.6h1.5V1198.7h1.5V1185.5h1.5V1184.5h1.5V1175.1h1.5V1191.5h1.5V1195.2h1.5V1177.6h1.5V1178.8h1.5V1218.0h1.5V1208.8h1.5V1265.7h1.5V1270.2h1.5V1194.4h1.5V1200.6h1.5V1222.2h1.5V1170.2h1.5V1201.4h1.5V1206.8h1.5V1133.2h1.5V1118.9h1.5V1141.3h1.5V1105.8h1.5V1139.0h1.5V1111.0h1.5V1137.1h1.5V1104.6h1.5V1098.9h1.5V1093.3h1.5V1057.0h1.5V1114.3h1.5V1064.5h1.5V1032.1h1.5V1417.0Z"/>
<path fill="#80ff00" d="M477.0 1417.0V1273.3h1.5V1319.1h1.5V1359.0h1.5V1367.4h1.5V1384.3h1.5V1390.6h1.5V1407.1h1.5V1399.6h1.5V1401.0h1.5V1399.7h1.5V1379.1h1.5V1401.4h1.5V1394.4h1.5V1393.5h1.5V1006.8h19.5V1013.2h1.5V1025.8h1.5V1080.5h1.5V1055.1h1.5V1038.6h1.5V1023.8h1.5V1017.8h1.5V1049.4h1.5V1033.9h1.5V1029.4h1.5V1084.6h1.5V1073.4h1.5V1094.1h1.5V1062.0h1.5V1085.4h1.5V1085.0h1.5V1091.4h1.5V1087.8h1.5V1127.3h1.5V1087.4h1.5V1069.9h1.5V1047.9h1.5V1044.2h1.5V1080.6h1.5V1060.6h1.5V1026.4h1.5V1065.3h1.5V1092.5h1.5V1075.1h1.5V1063.9h1.5V1052.1h1.5V1028.2h1.5V1116.4h1.5V1059.9h1.5V1029.3h1.5V1020.0h1.5V1117.0h1.5V1074.4h1.5V1096.8h1.5V1047.7h1.5V1209.8h1.5V1180.0h1.5V1239.7h1.5V1275.8h1.5V1307.6h1.5V1334.7h1.5V1336.2h1.5V1161.8h1.5V1181.4h1.5V1112.5h1.5V1077.1h1.5V1064.3h1.5V1057.4h1.5V1100.4h1.5V1117.5h1.5V1123.1h1.5V1144.7h1.5V1161.8h1.5V1142.9h1.5V1157.1h1.5V1143.3h1.5V1135.6h1.5V1100.1h1.5V1114.5h1.5V1113.7h1.5V1110.5h1.5V1119.9h1.5V1159.2h1.5V1155.7h1.5V1231.2h1.5V1178.1h1.5V1167.1h1.5V1173.7h1.5V1183.4h1.5V1213.3h1.5V1157.2h1.5V1143.6h1.5V1166.8h1.5V1187.5h1.5V1171.3h1.5V1216.9h1.5V1206.1h1.5V1176.2h1.5V1161.0h1.5V1204.9h1.5V1285.0h1.5V1271.0h1.5V1306.5h1.5V1238.5h1.5V1354.0h1.5V1261.9h1.5V1208.3h1.5V1189.0h1.5V1138.0h1.5V1186.4h1.5V1164.9h1.5V1146.2h1.5V1154.6h1.5V1189.2h1.5V1115.7h1.5V1180.0h1.5V1117.0h1.5V1160.5h1.5V1121.3h1.5V1123.0h1.5V1106.0h1.5V1149.7h1.5V1130.0h1.5V1201.9h1.5V1122.7h1.5V1105.1h1.5V1093.5h1.5V1199.0h1.5V1178.4h1.5V1158.5h1.5V1122.8h1.5V1092.9h1.5V1144.4h1.5V1124.3h1.5V1142.8h1.5V1053.1h1.5V1123.1h1.5V1138.3h1.5V1060.1h1.5V1121.6h1.5V1104.4h1.5V1081.5h1.5V1110.2h1.5V1079.1h1.5V1088.7h1.5V1109.2h1.5V1099.3h1.5V1059.1h1.5V1115.9h1.5V1083.8h1.5V1091.1h1.5V1101.7h1.5V1085.0h1.5V1417.0ZM726.0 1417.0V1416.1h1.5V1414.0h1.5V1416.1h1.5V1414.7h1.5V1415.8h3V1415.9h1.5V1415.6h1.5V1413.8h1.5V1415.6h1.5V1415.1h1.5V1415.0h1.5V1413.3h1.5V1415.1h1.5V1415.0h1.5V1413.0h1.5V1414.6h1.5V1414.4h1.5V1415.3h1.5V1413.4h1.5V1414.8h4.5V1415.1h1.5V1412.8h1.5V1414.3h1.5V1413.2h1.5V1411.0h1.5V1410.7h1.5V1413.0h1.5V1410.8h1.5V1411.8h1.5V1411.2h1.5V1409.3h1.5V1407.4h1.5V1408.2h1.5V1407.2h1.5V1407.0h1.5V1404.9h1.5V1402.1h1.5V1404.4h1.5V1399.4h1.5V1399.6h1.5V1392.7h1.5V1388.3h1.5V1398.2h1.5V1393.4h1.5V1394.0h1.5V1395.4h1.5V1396.3h1.5V1389.2h1.5V1396.1h1.5V1398.6h1.5V1400.2h1.5V1399.7h1.5V1401.1h1.5V1391.1h1.5V1390.0h1.5V1399.4h1.5V1394.4h1.5V1403.4h1.5V1402.4h1.5V1396.7h1.5V1402.5h1.5V1400.4h1.5V1400.1h1.5V1378.6h1.5V1397.5h1.5V1390.5h1.5V1392.5h1.5V1386.6h1.5V1389.1h1.5V1382.6h1.5V1393.1h1.5V1396.4h1.5V1389.8h1.5V1386.0h1.5V1393.1h1.5V1402.6h1.5V1394.0h1.5V1388.6h1.5V1404.4h1.5V1401.9h1.5V1398.9h1.5V1398.7h3V1387.0h1.5V1377.2h1.5V1371.8h1.5V1380.3h1.5V1366.9h1.5V1372.4h1.5V1375.6h1.5V1375.8h1.5V1383.0h1.5V1385.8h1.5V1383.4h1.5V1389.3h1.5V1373.4h1.5V1382.3h1.5V1369.0h1.5V1357.8h1.5V1380.3h1.5V1367.8h1.5V1350.5h1.5V1362.3h1.5V1367.7h1.5V1376.9h1.5V1376.8h1.5V1365.7h1.5V1378.1h1.5V1367.6h1.5V1371.4h1.5V1359.2h1.5V1358.4h1.5V1376.2h1.5V1367.6h1.5V1330.0h1.5V1337.1h1.5V1308.7h1.5V1332.7h1.5V1335.3h1.5V1342.1h1.5V1346.3h1.5V1299.0h1.5V1330.8h1.5V1308.9h1.5V1316.1h1.5V1346.3h1.5V1296.4h1.5V1319.0h1.5V1313.9h1.5V1303.5h1.5V1309.0h1.5V1325.6h1.5V1289.3h1.5V1309.5h1.5V1315.6h1.5V1330.3h1.5V1280.7h1.5V1314.1h1.5V1278.5h1.5V1280.4h1.5V1310.6h1.5V1288.8h1.5V1296.8h1.5V1270.2h1.5V1314.6h1.5V1276.4h1.5V1324.7h1.5V1344.2h1.5V1314.3h1.5V1313.9h1.5V1346.9h1.5V1329.4h1.5V1328.8h1.5V1359.6h1.5V1345.1h1.5V1331.8h1.5V1326.5h1.5V1335.0h1.5V1299.4h1.5V1295.2h1.5V1305.4h1.5V1279.3h1.5V1289.5h1.5V1269.1h1.5V1309.8h1.5V1280.2h1.5V1330.1h1.5V1351.1h1.5V1334.4h1.5V1334.5h1.5V1314.2h1.5V1302.7h1.5V1302.2h1.5V1324.7h1.5V1322.2h1.5V1344.5h1.5V1302.8h1.5V1353.6h1.5V1342.7h1.5V1354.9h1.5V1332.3h1.5V1313.0h1.5V1356.3h1.5V1352.7h1.5V1343.4h1.5V1347.4h1.5V1329.5h1.5V1329.8h1.5V1332.1h1.5V1315.9h1.5V1340.5h1.5V1329.9h1.5V1306.4h1.5V1351.6h1.5V1324.1h1.5V1336.8h1.5V1348.9h1.5V1292.5h1.5V1334.3h1.5V1326.2h1.5V1316.7h1.5V1326.2h1.5V1298.4h1.5V1327.3h1.5V1319.2h1.5V1316.1h1.5V1270.5h1.5V1332.7h1.5V1325.4h1.5V1288.8h1.5V1308.7h1.5V1333.2h1.5V1348.1h1.5V1373.2h1.5V1363.3h1.5V1368.9h1.5V1370.2h1.5V1331.6h1.5V1355.2h1.5V1346.7h1.5V1353.4h1.5V1346.3h1.5V1350.3h1.5V1365.1h1.5V1374.3h1.5V1388.3h1.5V1305.3h1.5V1293.3h1.5V1306.1h1.5V1304.9h1.5V1306.0h1.5V1264.1h1.5V1301.0h1.5V1301.8h1.5V1287.0h1.5V1282.5h1.5V1283.4h1.5V1280.1h1.5V1302.9h1.5V1332.4h1.5V1282.6h1.5V1276.1h1.5V1295.6h1.5V1338.6h1.5V1306.4h1.5V1319.8h1.5V1300.7h1.5V1298.6h1.5V1281.7h1.5V1256.8h1.5V1287.7h1.5V1239.0h1.5V1264.4h1.5V1265.9h1.5V1301.6h1.5V1282.6h1.5V1315.1h1.5V1260.0h1.5V1300.9h1.5V1319.5h1.5V1246.8h1.5V1255.0h1.5V1279.5h1.5V1255.5h1.5V1215.2h1.5V1233.7h1.5V1184.0h1.5V1258.8h1.5V1227.5h1.5V1238.1h1.5V1175.4h1.5V1207.3h1.5V1197.8h1.5V1187.3h1.5V1143.9h1.5V1179.8h1.5V1169.2h1.5V1223.3h1.5V1240.6h1.5V1161.7h1.5V1168.6h1.5V1124.7h1.5V1181.9h1.5V1106.5h1.5V1186.7h1.5V1164.3h1.5V1172.3h1.5V1188.5h1.5V1249.5h1.5V1272.6h1.5V1215.8h1.5V1247.8h1.5V1275.9h1.5V1306.1h1.5V1281.2h1.5V1287.3h1.5V1264.3h1.5V1215.2h1.5V1202.9h1.5V1219.7h1.5V1227.0h1.5V1226.2h1.5V1241.5h1.5V1241.7h1.5V1246.6h1.5V1229.2h1.5V1240.6h1.5V1219.2h1.5V1241.7h1.5V1232.8h1.5V1255.2h1.5V1253.8h1.5V1231.4h1.5V1219.7h1.5V1228.8h1.5V1284.7h1.5V1262.4h1.5V1258.3h1.5V1238.8h1.5V1264.2h1.5V1293.4h1.5V1317.1h1.5V1308.8h1.5V1299.2h1.5V1305.6h1.5V1314.7h1.5V1304.8h1.5V1307.1h1.5V1320.5h1.5V1314.5h1.5V1333.7h1.5V1393.5h1.5V1373.4h1.5V1383.9h1.5V1375.2h1.5V1369.8h1.5V1387.5h1.5V1376.7h1.5V1390.3h1.5V1389.3h1.5V1390.5h1.5V1353.9h1.5V1378.3h1.5V1383.0h1.5V1350.2h1.5V1342.5h1.5V1320.4h1.5V1308.8h1.5V1324.2h1.5V1327.1h1.5V1316.7h1.5V1291.6h1.5V1253.4h1.5V1246.7h1.5V1287.6h1.5V1284.5h1.5V1415.1h1.5V1417.0ZM1267.5 1417.0V1415.6h1.5V1415.0h1.5V1414.9h1.5V1415.1h1.5V1417.0ZM1275.0 1417.0V1416.3h1.5V1414.9h1.5V1415.0h1.5V1414.7h1.5V1415.5h1.5V1416.2h1.5V1416.0h1.5V1414.7h1.5V1414.1h1.5V1412.7h1.5V1413.8h1.5V1413.2h1.5V1413.7h1.5V1415.6h1.5V1413.4h1.5V1414.3h3V1416.1h1.5V1414.3h1.5V1414.1h1.5V1414.3h1.5V1413.5h1.5V1414.1h1.5V1412.7h1.5V1410.6h1.5V1387.5h1.5V1383.9h1.5V1380.2h1.5V1368.2h1.5V1354.0h1.5V1352.1h1.5V1386.3h1.5V1351.2h1.5V1361.9h1.5V1345.4h1.5V1361.2h1.5V1394.8h1.5V1350.7h1.5V1352.0h1.5V1341.0h1.5V1353.8h1.5V1304.6h1.5V1311.2h1.5V1328.7h1.5V1334.4h1.5V1345.8h1.5V1357.2h1.5V1357.9h1.5V1372.3h1.5V1377.5h1.5V1393.6h1.5V1409.6h1.5V1413.8h1.5V1417.0ZM1357.5 1417.0V1006.8h12V1009.5h1.5V1006.8h3V1007.6h1.5V1009.1h1.5V1010.4h1.5V1011.9h1.5V1012.7h1.5V1014.7h1.5V1022.5h1.5V1019.7h1.5V1024.4h1.5V1021.7h1.5V1024.5h1.5V1026.1h1.5V1032.2h1.5V1032.3h1.5V1035.5h1.5V1045.6h1.5V1045.2h1.5V1039.8h1.5V1032.6h1.5V1039.9h1.5V1041.7h1.5V1036.5h1.5V1044.1h1.5V1034.0h1.5V1031.9h1.5V1064.6h1.5V1062.0h1.5V1080.4h1.5V1128.2h1.5V1108.9h1.5V1122.5h1.5V1116.6h1.5V1111.1h1.5V1116.0h1.5V1119.8h1.5V1148.5h1.5V1145.7h1.5V1136.5h1.5V1159.2h1.5V1171.6h1.5V1161.7h1.5V1202.9h1.5V1179.9h1.5V1161.8h1.5V1194.7h1.5V1154.2h1.5V1172.8h1.5V1180.8h1.5V1175.2h1.5V1145.4h1.5V1145.2h1.5V1163.6h1.5V1201.0h1.5V1256.8h1.5V1246.1h1.5V1203.2h1.5V1197.8h1.5V1180.1h1.5V1152.3h1.5V1222.8h1.5V1227.9h1.5V1417.0ZM1495.5 1417.0V1397.3h1.5V1417.0ZM1510.5 1417.0V1416.1h1.5V1414.9h1.5V1414.7h1.5V1409.7h1.5V1413.2h1.5V1412.5h1.5V1411.4h1.5V1410.2h1.5V1416.3h1.5V1409.3h1.5V1408.8h1.5V1406.7h1.5V1403.2h1.5V1416.3h1.5V1396.3h1.5V1403.2h1.5V1395.7h1.5V1411.9h1.5V1415.0h1.5V1409.8h1.5V1409.3h1.5V1386.1h1.5V1390.3h1.5V1383.8h1.5V1367.4h1.5V1371.0h1.5V1375.8h1.5V1416.0h1.5V1413.4h1.5V1411.9h1.5V1377.9h1.5V1376.0h1.5V1375.4h1.5V1385.5h1.5V1379.2h1.5V1376.2h1.5V1372.0h1.5V1374.9h1.5V1408.7h1.5V1390.0h1.5V1373.7h1.5V1368.9h1.5V1370.1h1.5V1354.2h1.5V1356.9h1.5V1376.4h1.5V1358.0h1.5V1364.3h1.5V1320.6h1.5V1341.2h1.5V1342.8h1.5V1337.2h1.5V1324.0h1.5V1335.3h1.5V1364.5h1.5V1380.6h1.5V1378.8h1.5V1375.4h1.5V1381.3h1.5V1371.8h1.5V1391.9h1.5V1366.5h1.5V1385.6h1.5V1381.5h1.5V1385.7h1.5V1373.7h1.5V1389.7h1.5V1393.0h1.5V1409.3h1.5V1360.0h1.5V1290.2h1.5V1246.1h1.5V1221.4h1.5V1222.1h1.5V1262.9h1.5V1242.4h1.5V1238.7h1.5V1219.6h1.5V1256.1h1.5V1272.0h1.5V1229.5h1.5V1209.3h1.5V1258.9h1.5V1182.9h1.5V1184.4h1.5V1258.3h1.5V1300.8h1.5V1284.4h1.5V1282.8h1.5V1257.3h1.5V1305.3h1.5V1193.1h1.5V1193.3h1.5V1286.5h1.5V1294.1h1.5V1259.5h1.5V1417.0ZM1656.0 1417.0V1399.8h1.5V1417.0ZM1674.0 1417.0V1413.7h1.5V1405.2h1.5V1406.9h1.5V1398.7h1.5V1411.8h1.5V1393.3h1.5V1392.8h1.5V1379.8h1.5V1391.0h1.5V1398.0h1.5V1386.7h1.5V1386.0h1.5V1397.0h1.5V1391.4h1.5V1402.1h1.5V1415.9h1.5V1403.0h1.5V1395.5h1.5V1385.8h1.5V1395.7h1.5V1386.9h1.5V1371.9h1.5V1362.4h1.5V1360.4h1.5V1340.8h1.5V1347.6h1.5V1366.5h1.5V1329.3h1.5V1353.8h1.5V1360.1h1.5V1341.9h1.5V1350.2h1.5V1342.1h1.5V1345.8h1.5V1350.2h1.5V1320.1h1.5V1299.4h1.5V1343.5h1.5V1328.3h1.5V1357.3h1.5V1340.7h1.5V1346.9h1.5V1342.3h1.5V1346.9h1.5V1294.2h1.5V1343.0h1.5V1347.5h1.5V1312.2h1.5V1339.9h1.5V1330.1h1.5V1296.5h1.5V1270.9h3V1169.5h1.5V1200.4h1.5V1160.0h1.5V1141.9h1.5V1145.7h1.5V1096.5h1.5V1147.0h1.5V1191.0h1.5V1185.9h1.5V1228.3h1.5V1238.9h1.5V1220.6h1.5V1170.3h1.5V1200.6h1.5V1203.0h1.5V1190.8h1.5V1157.7h1.5V1181.2h1.5V1203.3h1.5V1184.2h1.5V1152.1h1.5V1165.7h1.5V1205.3h1.5V1155.3h1.5V1149.6h1.5V1122.0h1.5V1222.2h1.5V1244.7h1.5V1244.4h1.5V1206.6h1.5V1220.6h1.5V1239.7h1.5V1007.5h1.5V1007.0h1.5V1007.1h1.5V1008.4h1.5V1033.5h1.5V1009.8h1.5V1011.3h1.5V1010.6h1.5V1010.1h1.5V1016.1h1.5V1010.3h1.5V1012.1h1.5V1019.2h1.5V1024.1h1.5V1033.6h1.5V1027.8h1.5V1020.8h1.5V1013.4h1.5V1014.3h1.5V1018.7h1.5V1021.6h1.5V1014.3h1.5V1012.7h1.5V1025.7h1.5V1034.6h1.5V1064.0h1.5V1070.2h1.5V1098.8h1.5V1085.0h1.5V1113.7h1.5V1125.6h1.5V1130.8h1.5V1154.5h1.5V1314.5h1.5V1139.4h1.5V1171.3h1.5V1158.9h1.5V1160.8h1.5V1162.8h1.5V1175.9h1.5V1166.7h1.5V1179.7h1.5V1158.8h1.5V1156.9h1.5V1147.1h1.5V1139.7h1.5V1115.0h1.5V1155.7h1.5V1181.0h1.5V1216.8h1.5V1209.4h1.5V1199.2h1.5V1193.7h1.5V1189.4h1.5V1180.3h1.5V1191.9h1.5V1201.6h1.5V1184.1h1.5V1179.5h1.5V1224.3h1.5V1214.3h1.5V1272.9h1.5V1275.3h1.5V1194.7h1.5V1201.1h1.5V1222.8h1.5V1179.6h1.5V1209.5h1.5V1207.6h1.5V1134.3h1.5V1130.1h1.5V1142.1h1.5V1120.1h1.5V1152.7h1.5V1112.2h1.5V1152.2h1.5V1117.3h1.5V1100.3h1.5V1107.7h1.5V1070.9h1.5V1115.3h1.5V1080.7h1.5V1049.2h1.5V1417.0Z"/>
<path fill="#ffbf00" d="M477.0 1417.0V1273.3h1.5V1319.1h1.5V1359.0h1.5V1367.4h1.5V1384.3h1.5V1390.6h1.5V1407.1h1.5V1399.6h1.5V1401.0h1.5V1399.7h1.5V1379.1h1.5V1401.4h1.5V1394.4h1.5V1393.5h1.5V1410.1h1.5V1409.9h1.5V1410.5h1.5V1415.2h1.5V1409.4h1.5V1414.8h3V1396.8h1.5V1405.5h1.5V1414.7h1.5V1402.9h1.5V1400.2h1.5V1402.5h1.5V1353.1h1.5V1404.0h1.5V1403.4h1.5V1397.5h1.5V1362.2h1.5V1409.4h1.5V1413.2h1.5V1378.7h1.5V1377.5h1.5V1400.1h1.5V1405.6h1.5V1414.6h1.5V1411.8h1.5V1375.2h1.5V1368.3h1.5V1339.9h1.5V1408.9h1.5V1345.5h1.5V1417.0ZM546.0 1417.0V1379.6h1.5V1395.5h1.5V1414.3h1.5V1379.5h1.5V1358.8h1.5V1340.9h1.5V1335.4h1.5V1337.7h1.5V1339.1h1.5V1327.0h1.5V1288.8h1.5V1358.5h1.5V1413.2h1.5V1374.0h1.5V1415.7h1.5V1391.8h1.5V1414.7h1.5V1373.1h1.5V1380.7h1.5V1380.2h1.5V1375.1h1.5V1374.9h1.5V1338.9h1.5V1382.8h1.5V1364.1h1.5V1371.9h1.5V1411.9h1.5V1391.6h1.5V1364.8h1.5V1366.0h1.5V1305.2h1.5V1348.3h1.5V1262.7h1.5V1353.2h1.5V1260.5h1.5V1313.0h1.5V1324.5h1.5V1312.3h1.5V1249.8h1.5V1268.3h1.5V1335.0h1.5V1237.9h1.5V1262.1h1.5V1300.8h1.5V1219.6h1.5V1298.3h1.5V1272.1h1.5V1297.3h1.5V1356.6h1.5V1368.6h1.5V1399.8h1.5V1391.9h1.5V1390.7h1.5V1381.6h1.5V1369.2h1.5V1396.9h1.5V1408.1h1.5V1397.5h1.5V1402.4h1.5V1414.7h1.5V1389.5h1.5V1415.6h1.5V1405.3h1.5V1360.9h1.5V1372.6h1.5V1368.4h1.5V1390.4h1.5V1388.9h1.5V1389.8h1.5V1410.3h1.5V1414.2h1.5V1396.3h1.5V1397.0h1.5V1416.2h1.5V1401.6h1.5V1415.1h1.5V1392.2h1.5V1406.6h1.5V1396.8h1.5V1409.9h1.5V1413.6h1.5V1409.5h1.5V1374.2h1.5V1332.9h1.5V1358.4h1.5V1347.1h1.5V1412.0h1.5V1414.0h1.5V1414.1h1.5V1402.6h1.5V1361.8h1.5V1333.7h1.5V1356.4h1.5V1372.7h1.5V1331.4h1.5V1411.8h1.5V1356.9h1.5V1364.2h1.5V1375.9h1.5V1379.1h1.5V1383.1h1.5V1339.1h1.5V1376.9h1.5V1376.6h1.5V1372.4h1.5V1388.8h1.5V1342.5h1.5V1389.0h1.5V1350.7h1.5V1336.3h1.5V1392.5h1.5V1377.2h1.5V1369.6h1.5V1367.3h1.5V1402.4h1.5V1351.9h1.5V1344.7h1.5V1388.4h1.5V1353.8h1.5V1417.0ZM727.5 1417.0V1414.9h1.5V1417.0ZM730.5 1417.0V1415.5h1.5V1417.0ZM738.0 1417.0V1415.1h1.5V1417.0ZM744.0 1417.0V1414.9h1.5V1417.0ZM748.5 1417.0V1415.2h1.5V1417.0ZM754.5 1417.0V1415.0h1.5V1417.0ZM762.0 1417.0V1414.6h1.5V1417.0ZM766.5 1417.0V1415.4h1.5V1415.5h1.5V1417.0ZM771.0 1417.0V1414.7h1.5V1417.0ZM775.5 1417.0V1415.2h1.5V1415.4h1.5V1417.0ZM783.0 1417.0V1414.5h1.5V1414.6h1.5V1417.0ZM787.5 1417.0V1412.8h1.5V1415.7h1.5V1406.1h1.5V1403.1h1.5V1415.2h1.5V1416.0h1.5V1415.6h1.5V1416.0h3V1407.5h1.5V1416.3h1.5V1415.8h1.5V1416.4h1.5V1415.5h1.5V1415.3h1.5V1406.7h1.5V1402.5h1.5V1414.4h1.5V1407.1h1.5V1414.9h1.5V1415.9h1.5V1414.9h1.5V1415.7h1.5V1415.5h1.5V1416.2h1.5V1396.7h1.5V1417.0ZM828.0 1417.0V1416.3h1.5V1415.3h1.5V1414.7h1.5V1415.4h1.5V1405.8h1.5V1416.1h1.5V1415.7h1.5V1407.4h1.5V1401.4h1.5V1403.6h1.5V1414.3h1.5V1403.4h1.5V1402.5h1.5V1415.2h1.5V1415.6h3V1415.8h1.5V1415.4h1.5V1415.1h1.5V1407.2h1.5V1414.9h3V1414.3h1.5V1415.7h1.5V1414.9h1.5V1415.1h1.5V1414.7h1.5V1415.5h1.5V1415.6h1.5V1414.5h1.5V1403.3h1.5V1415.2h1.5V1405.8h1.5V1398.7h1.5V1415.1h1.5V1415.7h1.5V1400.1h1.5V1415.8h1.5V1415.7h1.5V1415.4h1.5V1414.8h1.5V1400.5h1.5V1414.8h1.5V1402.8h1.5V1413.8h1.5V1398.6h1.5V1399.6h1.5V1413.6h1.5V1414.0h1.5V1413.4h1.5V1413.9h1.5V1391.3h1.5V1413.7h1.5V1402.4h1.5V1414.5h1.5V1414.3h1.5V1392.9h1.5V1414.1h1.5V1397.9h1.5V1390.9h1.5V1414.7h1.5V1372.0h1.5V1412.0h1.5V1413.7h1.5V1396.7h1.5V1394.9h1.5V1414.7h1.5V1385.0h1.5V1386.1h1.5V1414.4h1.5V1414.8h1.5V1377.8h1.5V1414.9h1.5V1370.8h1.5V1368.6h1.5V1412.4h1.5V1376.4h1.5V1389.8h1.5V1360.1h1.5V1415.7h1.5V1379.6h1.5V1413.6h1.5V1412.5h1.5V1398.4h1.5V1395.2h1.5V1410.2h1.5V1390.1h1.5V1384.0h1.5V1405.0h1.5V1392.5h1.5V1376.4h1.5V1364.1h1.5V1365.0h1.5V1334.1h1.5V1337.2h1.5V1343.2h1.5V1308.2h1.5V1313.1h1.5V1298.9h1.5V1337.5h1.5V1310.2h1.5V1363.1h1.5V1380.0h1.5V1363.0h1.5V1361.6h1.5V1345.7h1.5V1331.7h1.5V1340.2h1.5V1358.0h1.5V1362.9h1.5V1376.8h1.5V1343.0h1.5V1395.2h1.5V1402.0h1.5V1411.5h1.5V1413.5h1.5V1388.0h1.5V1412.3h1.5V1410.2h1.5V1411.2h1.5V1412.4h1.5V1411.7h1.5V1389.2h1.5V1396.4h1.5V1382.6h1.5V1409.9h1.5V1413.5h1.5V1375.2h1.5V1410.1h1.5V1408.5h1.5V1411.7h1.5V1410.6h1.5V1362.6h1.5V1410.3h1.5V1409.1h1.5V1409.3h1.5V1411.4h1.5V1382.8h1.5V1409.6h1.5V1411.7h1.5V1413.4h1.5V1386.0h1.5V1412.9h1.5V1417.0ZM1044.0 1417.0V1390.5h1.5V1415.7h1.5V1417.0ZM1048.5 1417.0V1394.7h1.5V1415.4h1.5V1415.9h1.5V1415.1h1.5V1417.0ZM1056.0 1417.0V1395.2h1.5V1401.7h1.5V1414.7h1.5V1414.9h1.5V1399.0h1.5V1388.2h1.5V1401.0h1.5V1415.8h1.5V1415.4h1.5V1410.0h1.5V1392.3h1.5V1396.5h1.5V1411.9h1.5V1412.1h1.5V1371.0h1.5V1413.5h1.5V1412.8h1.5V1413.1h1.5V1395.6h1.5V1409.6h1.5V1379.7h1.5V1392.5h1.5V1410.8h1.5V1391.8h1.5V1410.0h1.5V1388.6h1.5V1407.1h1.5V1410.9h1.5V1407.1h1.5V1410.8h1.5V1411.0h1.5V1407.6h1.5V1380.3h1.5V1410.2h1.5V1387.8h1.5V1387.2h1.5V1409.3h1.5V1409.0h1.5V1394.5h1.5V1409.7h1.5V1374.1h1.5V1392.1h1.5V1410.8h1.5V1368.8h1.5V1378.5h1.5V1410.0h1.5V1384.1h1.5V1372.8h1.5V1407.7h1.5V1364.7h1.5V1407.7h1.5V1404.6h1.5V1371.2h1.5V1357.1h1.5V1373.2h1.5V1411.2h1.5V1374.5h1.5V1411.3h1.5V1378.2h1.5V1370.5h1.5V1368.8h1.5V1411.9h1.5V1412.6h1.5V1382.8h1.5V1410.0h1.5V1412.7h1.5V1382.4h1.5V1410.1h1.5V1412.9h1.5V1408.5h1.5V1409.0h1.5V1409.4h1.5V1406.3h1.5V1367.1h1.5V1377.6h1.5V1402.9h1.5V1401.3h1.5V1405.5h1.5V1403.5h1.5V1339.1h1.5V1301.5h1.5V1308.8h1.5V1319.0h1.5V1323.9h1.5V1316.5h1.5V1318.9h1.5V1315.7h1.5V1298.2h1.5V1265.1h1.5V1271.2h1.5V1248.1h1.5V1265.7h1.5V1257.4h1.5V1272.9h1.5V1280.2h1.5V1259.4h1.5V1243.2h1.5V1257.0h1.5V1306.9h1.5V1284.8h1.5V1278.6h1.5V1262.6h1.5V1287.3h1.5V1316.8h1.5V1335.6h1.5V1330.2h1.5V1317.8h1.5V1327.3h1.5V1338.0h1.5V1331.2h1.5V1330.5h1.5V1345.8h1.5V1338.9h1.5V1355.7h1.5V1414.5h1.5V1392.2h1.5V1407.2h1.5V1398.3h1.5V1388.3h1.5V1408.3h1.5V1401.9h1.5V1417.0ZM1239.0 1417.0V1415.2h1.5V1414.5h1.5V1380.4h1.5V1398.3h1.5V1416.4h1.5V1390.4h1.5V1411.5h1.5V1392.1h1.5V1390.3h1.5V1402.5h1.5V1390.0h1.5V1402.6h1.5V1395.9h1.5V1360.9h1.5V1368.8h1.5V1409.4h1.5V1376.4h1.5V1415.2h1.5V1417.0ZM1267.5 1417.0V1415.8h1.5V1415.1h1.5V1415.2h1.5V1415.3h1.5V1417.0ZM1276.5 1417.0V1415.4h1.5V1415.6h1.5V1415.4h1.5V1416.1h1.5V1417.0ZM1285.5 1417.0V1415.7h1.5V1415.2h1.5V1414.3h1.5V1415.3h1.5V1414.5h1.5V1414.8h1.5V1417.0ZM1296.0 1417.0V1414.7h1.5V1415.5h1.5V1415.7h1.5V1417.0ZM1302.0 1417.0V1415.5h1.5V1415.1h1.5V1415.5h1.5V1414.6h1.5V1415.2h1.5V1415.5h1.5V1417.0ZM1312.5 1417.0V1394.3h1.5V1393.6h1.5V1389.2h1.5V1376.8h1.5V1362.6h1.5V1363.5h1.5V1399.6h1.5V1362.1h1.5V1375.3h1.5V1360.9h1.5V1373.8h1.5V1405.7h1.5V1364.9h1.5V1367.3h1.5V1366.9h1.5V1406.6h1.5V1395.9h1.5V1417.0ZM1347.0 1417.0V1415.0h1.5V1414.2h1.5V1414.4h1.5V1413.4h1.5V1413.8h1.5V1417.0ZM1357.5 1417.0V1006.8h12V1009.5h1.5V1006.8h3V1007.6h1.5V1009.1h1.5V1010.4h1.5V1011.9h1.5V1012.7h1.5V1014.7h1.5V1023.0h1.5V1021.9h1.5V1024.4h1.5V1028.5h1.5V1031.3h1.5V1026.7h1.5V1032.3h1.5V1032.7h1.5V1041.9h1.5V1052.2h1.5V1054.9h1.5V1040.2h1.5V1033.1h1.5V1045.2h1.5V1041.9h1.5V1043.6h1.5V1044.2h1.5V1034.4h1.5V1032.1h1.5V1071.7h1.5V1062.9h1.5V1087.8h1.5V1128.9h1.5V1109.5h1.5V1123.5h1.5V1116.8h1.5V1118.8h1.5V1116.3h1.5V1120.1h1.5V1148.5h1.5V1151.7h1.5V1141.4h1.5V1165.2h1.5V1178.7h1.5V1168.5h1.5V1203.5h1.5V1187.9h1.5V1162.1h1.5V1194.7h1.5V1161.9h1.5V1182.4h1.5V1180.9h1.5V1182.4h1.5V1145.6h1.5V1152.8h1.5V1171.5h1.5V1201.7h1.5V1257.4h1.5V1256.0h1.5V1203.9h1.5V1202.6h1.5V1180.4h1.5V1163.1h1.5V1223.0h1.5V1236.3h1.5V1417.0ZM1495.5 1417.0V1397.3h1.5V1417.0ZM1510.5 1417.0V1416.1h1.5V1414.9h1.5V1414.7h1.5V1409.7h1.5V1413.2h1.5V1412.5h1.5V1411.4h1.5V1410.2h1.5V1416.3h1.5V1409.3h1.5V1408.8h1.5V1406.7h1.5V1403.2h1.5V1416.3h1.5V1396.3h1.5V1403.2h1.5V1398.6h1.5V1412.2h1.5V1415.0h1.5V1415.9h1.5V1409.5h1.5V1390.7h1.5V1391.0h1.5V1384.3h1.5V1374.3h1.5V1371.8h1.5V1381.3h1.5V1416.1h1.5V1413.6h1.5V1412.0h1.5V1378.3h1.5V1376.1h1.5V1380.3h1.5V1385.7h1.5V1380.0h1.5V1381.4h1.5V1372.0h1.5V1380.2h1.5V1408.9h1.5V1390.5h1.5V1379.0h1.5V1375.2h1.5V1375.6h1.5V1359.5h1.5V1357.3h1.5V1377.3h1.5V1358.0h1.5V1364.4h1.5V1328.1h1.5V1341.5h1.5V1343.1h1.5V1337.9h1.5V1329.4h1.5V1342.2h1.5V1365.0h1.5V1381.0h1.5V1385.0h1.5V1382.8h1.5V1381.6h1.5V1379.0h1.5V1415.2h1.5V1366.6h1.5V1393.3h1.5V1386.6h1.5V1386.4h1.5V1379.6h1.5V1390.3h1.5V1393.0h1.5V1409.6h1.5V1367.6h1.5V1290.3h1.5V1252.5h1.5V1221.4h1.5V1229.3h1.5V1269.6h1.5V1249.7h1.5V1238.8h1.5V1219.9h1.5V1256.5h1.5V1272.4h1.5V1236.9h1.5V1209.4h1.5V1268.3h1.5V1188.6h1.5V1194.9h1.5V1258.7h1.5V1300.8h1.5V1284.6h1.5V1282.9h1.5V1264.0h1.5V1305.4h1.5V1200.6h1.5V1201.4h1.5V1287.0h1.5V1303.6h1.5V1267.8h1.5V1417.0ZM1656.0 1417.0V1399.8h1.5V1417.0ZM1674.0 1417.0V1413.7h1.5V1405.2h1.5V1406.9h1.5V1398.7h1.5V1411.8h1.5V1393.3h1.5V1392.8h1.5V1379.8h1.5V1391.0h1.5V1398.0h1.5V1386.7h1.5V1386.0h1.5V1397.0h1.5V1391.4h1.5V1402.1h1.5V1415.9h1.5V1403.0h1.5V1397.6h1.5V1413.1h1.5V1402.3h1.5V1397.9h1.5V1387.2h1.5V1382.1h1.5V1384.9h1.5V1371.4h1.5V1384.5h1.5V1410.0h1.5V1377.1h1.5V1393.9h1.5V1395.9h1.5V1378.5h1.5V1383.7h1.5V1379.7h1.5V1385.7h1.5V1387.8h1.5V1380.5h1.5V1360.1h1.5V1396.4h1.5V1395.4h1.5V1416.1h1.5V1394.1h1.5V1393.8h1.5V1392.9h1.5V1384.3h1.5V1319.6h1.5V1366.8h1.5V1362.5h1.5V1326.9h1.5V1350.7h1.5V1340.8h1.5V1306.9h1.5V1292.7h1.5V1301.1h1.5V1202.8h1.5V1238.7h1.5V1208.7h1.5V1190.8h1.5V1208.0h1.5V1179.3h1.5V1217.2h1.5V1277.6h1.5V1256.5h1.5V1295.9h1.5V1301.2h1.5V1292.2h1.5V1258.8h1.5V1298.6h1.5V1291.8h1.5V1333.7h1.5V1391.4h1.5V1404.8h1.5V1395.9h1.5V1382.4h1.5V1342.7h1.5V1282.1h1.5V1348.2h1.5V1284.9h1.5V1278.7h1.5V1249.9h1.5V1336.2h1.5V1356.1h1.5V1376.4h1.5V1378.8h1.5V1384.8h1.5V1416.1h1.5V1007.7h1.5V1007.4h1.5V1007.8h1.5V1009.4h1.5V1034.8h1.5V1011.3h1.5V1013.1h1.5V1013.2h1.5V1016.0h1.5V1025.8h1.5V1021.4h1.5V1023.7h1.5V1030.8h1.5V1033.5h1.5V1043.4h1.5V1040.0h1.5V1032.8h1.5V1026.4h1.5V1027.5h1.5V1030.2h1.5V1035.2h1.5V1027.4h1.5V1025.6h1.5V1038.1h1.5V1046.6h1.5V1075.4h1.5V1080.7h1.5V1109.2h1.5V1094.7h1.5V1123.3h1.5V1134.1h1.5V1138.3h1.5V1154.5h1.5V1314.5h1.5V1147.1h1.5V1179.4h1.5V1165.7h1.5V1167.7h1.5V1170.2h1.5V1184.1h1.5V1175.0h1.5V1188.6h1.5V1169.0h1.5V1166.3h1.5V1156.8h1.5V1151.0h1.5V1126.2h1.5V1166.6h1.5V1191.5h1.5V1227.6h1.5V1218.8h1.5V1209.3h1.5V1204.3h1.5V1201.1h1.5V1191.4h1.5V1202.8h1.5V1211.7h1.5V1195.4h1.5V1191.3h1.5V1236.4h1.5V1225.9h1.5V1286.4h1.5V1286.0h1.5V1208.6h1.5V1225.2h1.5V1260.0h1.5V1238.9h1.5V1302.5h1.5V1298.6h1.5V1247.3h1.5V1265.7h1.5V1243.1h1.5V1215.5h1.5V1253.2h1.5V1198.4h1.5V1260.8h1.5V1205.2h1.5V1201.5h1.5V1226.3h1.5V1187.5h1.5V1232.7h1.5V1192.4h1.5V1171.5h1.5V1417.0Z"/>
<path fill="#ff0000" d="M477.0 1417.0V1401.5h1.5V1393.6h1.5V1390.8h1.5V1404.0h1.5V1417.0ZM484.5 1417.0V1405.0h1.5V1416.2h1.5V1399.7h1.5V1401.1h1.5V1400.4h1.5V1393.3h1.5V1415.5h1.5V1414.9h1.5V1393.9h1.5V1410.3h1.5V1410.1h1.5V1410.7h1.5V1417.0ZM504.0 1417.0V1409.6h1.5V1416.2h1.5V1417.0ZM508.5 1417.0V1396.9h1.5V1407.1h1.5V1417.0ZM513.0 1417.0V1405.8h1.5V1400.2h1.5V1402.6h1.5V1398.8h1.5V1404.3h1.5V1403.5h1.5V1399.8h1.5V1365.2h1.5V1411.2h1.5V1415.2h1.5V1378.8h1.5V1379.1h1.5V1400.3h1.5V1405.7h1.5V1414.9h1.5V1411.9h1.5V1375.4h1.5V1368.4h1.5V1342.1h1.5V1411.9h1.5V1345.7h1.5V1417.0ZM546.0 1417.0V1379.8h1.5V1395.5h1.5V1414.3h1.5V1379.5h1.5V1358.9h1.5V1341.0h1.5V1335.6h1.5V1339.8h1.5V1339.2h1.5V1327.2h1.5V1289.7h1.5V1360.8h1.5V1415.7h1.5V1374.1h1.5V1416.2h1.5V1397.2h1.5V1414.9h1.5V1379.1h1.5V1380.8h1.5V1383.6h1.5V1375.5h1.5V1375.2h1.5V1373.3h1.5V1383.0h1.5V1366.8h1.5V1385.5h1.5V1414.4h1.5V1391.7h1.5V1365.0h1.5V1366.9h1.5V1305.3h1.5V1349.2h1.5V1263.9h1.5V1353.5h1.5V1261.3h1.5V1314.1h1.5V1325.1h1.5V1314.3h1.5V1250.8h1.5V1287.4h1.5V1351.2h1.5V1239.3h1.5V1263.3h1.5V1314.1h1.5V1220.2h1.5V1298.7h1.5V1283.4h1.5V1297.6h1.5V1365.8h1.5V1369.3h1.5V1399.9h1.5V1396.5h1.5V1391.0h1.5V1381.7h1.5V1369.5h1.5V1397.3h1.5V1408.3h1.5V1403.6h1.5V1402.7h1.5V1415.1h1.5V1390.0h1.5V1415.8h1.5V1414.5h1.5V1361.4h1.5V1417.0ZM643.5 1417.0V1374.2h1.5V1391.0h1.5V1388.9h1.5V1389.9h1.5V1417.0ZM651.0 1417.0V1414.4h1.5V1400.1h1.5V1397.1h1.5V1416.3h1.5V1402.3h1.5V1415.4h1.5V1393.4h1.5V1414.0h1.5V1397.8h1.5V1416.3h1.5V1414.0h1.5V1415.7h1.5V1374.7h1.5V1333.2h1.5V1359.7h1.5V1358.0h1.5V1413.4h1.5V1415.2h1.5V1415.3h3V1362.6h1.5V1334.0h1.5V1356.9h1.5V1373.7h1.5V1339.9h1.5V1412.0h1.5V1367.5h1.5V1379.4h1.5V1377.3h1.5V1381.7h1.5V1384.3h1.5V1357.0h1.5V1378.7h1.5V1377.7h1.5V1373.7h1.5V1407.1h1.5V1342.8h1.5V1409.9h1.5V1352.9h1.5V1350.2h1.5V1410.3h1.5V1387.9h1.5V1369.9h1.5V1379.4h1.5V1415.7h1.5V1371.2h1.5V1347.4h1.5V1406.7h1.5V1372.3h1.5V1417.0ZM727.5 1417.0V1414.9h1.5V1417.0ZM730.5 1417.0V1415.6h1.5V1417.0ZM738.0 1417.0V1415.2h1.5V1417.0ZM744.0 1417.0V1415.0h1.5V1417.0ZM748.5 1417.0V1415.4h1.5V1417.0ZM754.5 1417.0V1415.3h1.5V1417.0ZM762.0 1417.0V1414.9h1.5V1417.0ZM766.5 1417.0V1415.7h3V1417.0ZM771.0 1417.0V1415.2h1.5V1417.0ZM775.5 1417.0V1415.6h1.5V1415.8h1.5V1417.0ZM783.0 1417.0V1414.9h1.5V1415.1h1.5V1417.0ZM787.5 1417.0V1413.3h1.5V1416.2h1.5V1406.7h1.5V1403.7h1.5V1416.2h1.5V1416.3h1.5V1416.0h1.5V1417.0ZM801.0 1417.0V1408.0h1.5V1417.0ZM804.0 1417.0V1416.2h1.5V1417.0ZM807.0 1417.0V1416.0h1.5V1416.1h1.5V1407.3h1.5V1403.8h1.5V1415.4h1.5V1407.9h1.5V1415.8h1.5V1417.0ZM819.0 1417.0V1415.0h1.5V1416.2h1.5V1417.0ZM825.0 1417.0V1397.7h1.5V1417.0ZM829.5 1417.0V1416.3h1.5V1415.7h1.5V1417.0ZM834.0 1417.0V1406.6h1.5V1417.0ZM838.5 1417.0V1408.2h1.5V1402.8h1.5V1404.8h1.5V1415.8h1.5V1404.6h1.5V1402.6h1.5V1416.1h1.5V1417.0ZM853.5 1417.0V1416.3h1.5V1416.1h1.5V1408.0h1.5V1416.0h1.5V1416.2h1.5V1415.4h1.5V1417.0ZM867.0 1417.0V1415.8h1.5V1417.0ZM871.5 1417.0V1415.4h1.5V1403.3h1.5V1416.2h1.5V1407.0h1.5V1399.9h1.5V1416.1h1.5V1417.0ZM882.0 1417.0V1401.2h1.5V1417.0ZM888.0 1417.0V1416.2h1.5V1402.2h1.5V1415.8h1.5V1403.7h1.5V1416.1h1.5V1400.1h1.5V1401.5h1.5V1415.1h3V1415.4h1.5V1415.5h1.5V1393.2h1.5V1415.3h1.5V1403.5h1.5V1415.8h1.5V1416.0h1.5V1394.2h1.5V1415.8h1.5V1400.1h1.5V1392.3h1.5V1416.4h1.5V1373.9h1.5V1414.2h1.5V1415.4h1.5V1398.1h1.5V1396.7h1.5V1416.0h1.5V1386.6h1.5V1387.7h1.5V1415.9h1.5V1417.0ZM934.5 1417.0V1380.0h1.5V1416.3h1.5V1373.4h1.5V1371.1h1.5V1415.2h1.5V1379.7h1.5V1394.2h1.5V1363.4h1.5V1415.9h1.5V1382.1h1.5V1417.0ZM951.0 1417.0V1415.9h1.5V1401.3h1.5V1398.8h1.5V1414.7h1.5V1395.9h1.5V1388.2h1.5V1415.5h1.5V1417.0ZM963.0 1417.0V1415.1h1.5V1413.7h1.5V1417.0ZM967.5 1417.0V1383.3h1.5V1399.4h1.5V1415.4h1.5V1382.2h1.5V1414.3h1.5V1410.8h1.5V1416.0h1.5V1391.9h1.5V1414.9h1.5V1416.0h1.5V1415.2h1.5V1417.0ZM985.5 1417.0V1414.8h1.5V1415.3h1.5V1389.4h1.5V1415.8h1.5V1414.3h1.5V1416.3h1.5V1378.0h1.5V1415.6h1.5V1414.0h1.5V1414.3h1.5V1415.7h1.5V1391.6h1.5V1417.0ZM1005.0 1417.0V1414.6h1.5V1414.3h1.5V1417.0ZM1009.5 1417.0V1415.0h1.5V1393.7h1.5V1396.6h1.5V1385.8h1.5V1415.2h1.5V1417.0ZM1018.5 1417.0V1378.6h1.5V1415.8h1.5V1413.5h1.5V1414.6h1.5V1417.0ZM1026.0 1417.0V1366.4h1.5V1414.8h1.5V1413.8h1.5V1417.0ZM1032.0 1417.0V1415.9h1.5V1383.1h1.5V1413.6h1.5V1416.2h1.5V1416.4h1.5V1386.0h1.5V1412.9h1.5V1417.0ZM1044.0 1417.0V1390.5h1.5V1415.7h1.5V1417.0ZM1048.5 1417.0V1394.7h1.5V1415.4h1.5V1415.9h1.5V1415.1h1.5V1417.0ZM1056.0 1417.0V1395.2h1.5V1401.7h1.5V1414.7h1.5V1414.9h1.5V1399.0h1.5V1388.2h1.5V1401.0h1.5V1415.8h1.5V1415.4h1.5V1414.0h1.5V1395.1h1.5V1399.2h1.5V1414.4h1.5V1414.9h1.5V1373.9h1.5V1417.0ZM1080.0 1417.0V1416.2h1.5V1416.1h1.5V1399.7h1.5V1414.6h1.5V1385.5h1.5V1397.3h1.5V1416.3h1.5V1397.4h1.5V1414.9h1.5V1393.7h1.5V1414.2h1.5V1416.2h1.5V1414.2h1.5V1417.0ZM1101.0 1417.0V1416.2h1.5V1413.9h1.5V1386.0h1.5V1417.0ZM1107.0 1417.0V1392.6h1.5V1394.1h1.5V1415.2h1.5V1415.8h1.5V1399.8h1.5V1414.1h1.5V1377.6h1.5V1395.9h1.5V1414.1h1.5V1371.9h1.5V1382.8h1.5V1413.4h1.5V1388.4h1.5V1378.0h1.5V1413.0h1.5V1371.0h1.5V1414.6h1.5V1412.1h1.5V1378.1h1.5V1363.6h1.5V1379.0h1.5V1416.2h1.5V1379.2h1.5V1415.6h1.5V1382.9h1.5V1375.8h1.5V1372.7h1.5V1415.9h1.5V1417.0ZM1150.5 1417.0V1387.1h1.5V1415.0h1.5V1417.0ZM1155.0 1417.0V1386.7h1.5V1413.1h1.5V1417.0ZM1159.5 1417.0V1412.9h1.5V1413.8h1.5V1414.7h1.5V1415.2h1.5V1376.9h1.5V1391.4h1.5V1413.2h1.5V1412.3h1.5V1416.4h1.5V1415.8h1.5V1417.0ZM1179.0 1417.0V1415.5h1.5V1416.1h1.5V1415.8h1.5V1416.3h1.5V1417.0ZM1188.0 1417.0V1406.8h1.5V1415.7h1.5V1404.1h1.5V1417.0ZM1194.0 1417.0V1405.6h1.5V1404.1h1.5V1415.9h1.5V1417.0ZM1200.0 1417.0V1408.4h1.5V1407.6h1.5V1407.7h1.5V1404.5h1.5V1415.5h1.5V1405.4h1.5V1406.6h1.5V1406.5h1.5V1416.3h1.5V1404.5h1.5V1408.4h1.5V1403.0h1.5V1405.4h1.5V1416.2h1.5V1417.0ZM1222.5 1417.0V1407.2h1.5V1400.6h1.5V1416.2h1.5V1415.5h1.5V1398.7h1.5V1417.0ZM1231.5 1417.0V1398.9h1.5V1399.5h1.5V1416.4h1.5V1402.6h1.5V1417.0ZM1239.0 1417.0V1415.9h1.5V1414.8h1.5V1397.8h1.5V1398.6h1.5V1417.0ZM1246.5 1417.0V1398.7h1.5V1416.3h1.5V1392.4h1.5V1400.4h1.5V1402.9h1.5V1390.8h1.5V1415.2h1.5V1410.7h1.5V1362.1h1.5V1381.3h1.5V1412.0h1.5V1377.6h1.5V1415.2h1.5V1417.0ZM1267.5 1417.0V1415.8h1.5V1415.1h1.5V1415.2h1.5V1415.3h1.5V1417.0ZM1276.5 1417.0V1415.4h1.5V1415.6h1.5V1415.4h1.5V1416.1h1.5V1417.0ZM1285.5 1417.0V1415.7h1.5V1415.2h1.5V1414.3h1.5V1415.3h1.5V1414.5h1.5V1414.8h1.5V1417.0ZM1296.0 1417.0V1414.7h1.5V1415.5h1.5V1415.7h1.5V1417.0ZM1302.0 1417.0V1415.5h1.5V1415.1h1.5V1415.5h1.5V1414.6h1.5V1415.2h1.5V1415.5h1.5V1417.0ZM1312.5 1417.0V1394.3h1.5V1394.8h1.5V1394.7h1.5V1386.4h1.5V1372.7h1.5V1374.4h1.5V1411.9h1.5V1372.9h1.5V1386.7h1.5V1371.0h1.5V1383.1h1.5V1415.0h1.5V1374.3h1.5V1377.5h1.5V1374.5h1.5V1415.1h1.5V1400.2h1.5V1417.0ZM1347.0 1417.0V1415.0h1.5V1414.2h1.5V1414.4h1.5V1413.4h1.5V1413.8h1.5V1417.0ZM1357.5 1417.0V1006.8h12V1009.5h1.5V1006.8h3V1007.6h1.5V1009.1h1.5V1010.4h1.5V1011.9h1.5V1012.7h1.5V1014.7h1.5V1023.0h1.5V1023.5h1.5V1027.4h1.5V1034.4h1.5V1035.5h1.5V1031.2h1.5V1032.5h1.5V1032.9h1.5V1042.0h1.5V1055.9h1.5V1055.3h1.5V1040.6h1.5V1036.6h1.5V1049.4h1.5V1042.3h1.5V1048.1h1.5V1048.4h1.5V1034.4h1.5V1037.1h1.5V1077.2h1.5V1063.0h1.5V1087.9h1.5V1129.5h1.5V1116.4h1.5V1129.9h1.5V1116.8h1.5V1118.8h1.5V1116.7h1.5V1127.6h1.5V1155.1h1.5V1164.9h1.5V1148.8h1.5V1171.1h1.5V1187.6h1.5V1175.3h1.5V1211.3h1.5V1193.3h1.5V1162.3h1.5V1201.0h1.5V1169.6h1.5V1182.9h1.5V1189.8h1.5V1190.7h1.5V1145.9h1.5V1161.6h1.5V1171.9h1.5V1202.3h1.5V1265.1h1.5V1263.0h1.5V1210.7h1.5V1203.2h1.5V1181.1h1.5V1164.1h1.5V1223.5h1.5V1249.0h1.5V1417.0ZM1495.5 1417.0V1397.3h1.5V1417.0ZM1510.5 1417.0V1416.1h1.5V1414.9h1.5V1414.7h1.5V1414.1h1.5V1413.2h1.5V1412.5h1.5V1411.4h1.5V1410.2h1.5V1416.3h1.5V1409.3h1.5V1408.8h1.5V1406.7h1.5V1403.2h1.5V1416.3h1.5V1396.3h1.5V1403.9h1.5V1398.7h1.5V1415.3h3V1415.9h1.5V1414.6h1.5V1391.2h1.5V1391.3h1.5V1384.7h1.5V1379.7h1.5V1375.0h1.5V1385.9h1.5V1416.2h1.5V1414.1h1.5V1416.4h1.5V1378.4h1.5V1380.3h1.5V1384.8h1.5V1391.0h1.5V1385.3h1.5V1381.5h1.5V1372.4h1.5V1386.9h1.5V1409.5h1.5V1414.8h1.5V1386.0h1.5V1381.2h1.5V1376.3h1.5V1366.2h1.5V1361.7h1.5V1377.6h1.5V1358.1h1.5V1369.3h1.5V1332.0h1.5V1346.4h1.5V1343.5h1.5V1343.1h1.5V1336.6h1.5V1342.3h1.5V1370.0h1.5V1381.7h1.5V1385.1h1.5V1383.2h1.5V1388.1h1.5V1384.8h1.5V1415.7h1.5V1366.9h1.5V1393.8h1.5V1393.0h1.5V1386.9h1.5V1386.1h1.5V1395.6h1.5V1398.6h1.5V1415.6h1.5V1368.0h1.5V1290.6h1.5V1259.3h1.5V1227.2h1.5V1229.9h1.5V1279.1h1.5V1250.2h1.5V1239.1h1.5V1220.6h1.5V1265.3h1.5V1278.7h1.5V1237.3h1.5V1210.1h1.5V1268.9h1.5V1189.4h1.5V1201.4h1.5V1267.3h1.5V1301.3h1.5V1285.2h1.5V1283.4h1.5V1265.3h1.5V1312.1h1.5V1201.6h3V1287.9h1.5V1310.0h1.5V1274.4h1.5V1417.0ZM1656.0 1417.0V1399.8h1.5V1417.0ZM1674.0 1417.0V1413.7h1.5V1406.0h1.5V1408.8h1.5V1401.6h1.5V1416.3h1.5V1393.8h1.5V1393.1h1.5V1384.3h1.5V1394.0h1.5V1398.5h1.5V1390.6h1.5V1390.4h1.5V1397.5h1.5V1395.2h1.5V1402.2h1.5V1416.0h1.5V1403.3h3V1417.0ZM1702.5 1417.0V1402.5h1.5V1398.1h1.5V1387.3h1.5V1386.3h1.5V1384.9h1.5V1371.8h1.5V1385.0h1.5V1410.4h1.5V1377.6h1.5V1398.4h1.5V1396.1h1.5V1378.5h1.5V1389.9h1.5V1379.7h1.5V1392.1h1.5V1392.5h1.5V1386.3h1.5V1367.0h1.5V1397.0h1.5V1403.1h1.5V1416.2h1.5V1400.3h1.5V1394.3h1.5V1393.1h1.5V1384.7h1.5V1319.8h1.5V1366.9h1.5V1362.8h1.5V1331.2h1.5V1351.1h1.5V1341.6h1.5V1311.6h1.5V1302.8h1.5V1306.8h1.5V1208.0h1.5V1245.6h1.5V1221.1h1.5V1197.2h1.5V1215.4h1.5V1182.8h1.5V1218.0h1.5V1281.3h1.5V1261.3h1.5V1296.0h1.5V1301.3h1.5V1292.4h1.5V1263.4h1.5V1303.2h1.5V1291.9h1.5V1333.7h1.5V1397.0h1.5V1405.5h1.5V1400.5h1.5V1382.5h1.5V1343.1h1.5V1282.7h1.5V1348.6h1.5V1292.6h1.5V1286.0h1.5V1250.4h1.5V1342.8h1.5V1363.1h1.5V1382.8h1.5V1379.1h1.5V1390.4h1.5V1416.3h1.5V1416.2h1.5V1410.3h1.5V1403.8h1.5V1408.1h1.5V1415.9h1.5V1416.3h1.5V1416.1h1.5V1406.6h1.5V1417.0ZM1815.0 1417.0V1416.3h1.5V1409.4h1.5V1409.0h1.5V1407.5h1.5V1407.8h1.5V1399.8h1.5V1417.0ZM1825.5 1417.0V1416.2h1.5V1417.0ZM1828.5 1417.0V1408.6h1.5V1408.4h1.5V1417.0ZM1833.0 1417.0V1409.0h1.5V1407.3h1.5V1408.1h1.5V1406.0h1.5V1415.8h3V1406.1h1.5V1407.1h1.5V1417.0ZM1846.5 1417.0V1404.4h1.5V1416.3h1.5V1408.8h3V1416.1h1.5V1417.0ZM1855.5 1417.0V1416.1h1.5V1416.0h1.5V1406.8h1.5V1409.4h1.5V1407.8h1.5V1417.0ZM1864.5 1417.0V1409.5h1.5V1417.0ZM1872.0 1417.0V1416.0h1.5V1408.6h1.5V1408.7h1.5V1416.3h1.5V1409.7h1.5V1407.7h1.5V1408.1h1.5V1417.0ZM1885.5 1417.0V1416.1h1.5V1416.2h1.5V1410.5h1.5V1410.4h1.5V1410.0h1.5V1416.4h1.5V1408.4h1.5V1410.9h1.5V1417.0ZM1900.5 1417.0V1408.3h1.5V1417.0ZM1903.5 1417.0V1409.4h1.5V1406.0h1.5V1417.0ZM1908.0 1417.0V1395.8h1.5V1410.5h1.5V1409.3h1.5V1417.0ZM1915.5 1417.0V1408.9h1.5V1409.2h1.5V1410.4h1.5V1406.2h1.5V1417.0ZM1923.0 1417.0V1415.2h1.5V1320.4h1.5V1417.0Z"/>
</g>
<path d="M423.6 1680.0V1678.6H425.1V1680.0M422.1 1680.0V1678.5H424.3V1678.6M423.2 1678.5V1678.5H426.5V1680.0M420.6 1680.0V1678.4H424.9V1678.5M422.8 1678.4V1678.3H428.0V1680.0M429.5 1680.0V1678.7H431.0V1680.0M432.5 1680.0V1678.9H433.9V1680.0M433.2 1678.9V1678.8H435.4V1680.0M434.3 1678.8V1678.8H436.9V1680.0M430.2 1678.7V1678.7H435.6V1678.8M425.4 1678.3V1678.3H432.9V1678.7M429.2 1678.3V1678.2H438.4V1680.0M419.2 1680.0V1678.1H433.8V1678.2M417.7 1680.0V1678.0H426.5V1678.1M416.2 1680.0V1678.0H422.1V1678.0M414.7 1680.0V1677.2H419.1V1678.0M416.9 1677.2V1675.1H439.8V1680.0M441.3 1680.0V1676.8H442.8V1680.0M442.0 1676.8V1675.9H444.3V1680.0M428.4 1675.1V1674.7H443.2V1675.9M445.7 1680.0V1675.9H447.2V1680.0M453.1 1680.0V1678.4H454.6V1680.0M451.6 1680.0V1678.3H453.9V1678.4M450.2 1680.0V1678.2H452.8V1678.3M459.0 1680.0V1678.4H460.5V1680.0M457.5 1680.0V1678.3H459.8V1678.4M456.1 1680.0V1678.2H458.7V1678.3M451.5 1678.2V1678.2H457.4V1678.2M466.4 1680.0V1678.5H467.9V1680.0M464.9 1680.0V1678.3H467.1V1678.5M463.5 1680.0V1678.2H466.0V1678.3M462.0 1680.0V1678.2H464.7V1678.2M454.4 1678.2V1677.5H463.4V1678.2M458.9 1677.5V1677.4H469.4V1680.0M470.8 1680.0V1677.4H472.3V1680.0M464.1 1677.4V1677.3H471.6V1677.4M448.7 1680.0V1676.1H467.8V1677.3M446.5 1675.9V1675.6H458.3V1676.1M473.8 1680.0V1676.3H475.3V1680.0M452.4 1675.6V1674.7H474.5V1676.3M435.8 1674.7V1666.5H463.4V1674.7M412.5 1680.0V1658.9H440.0V1666.5M410.5 1680.0V1634.4H431.5V1658.9M408.7 1680.0V1607.3H420.1V1634.4M476.8 1680.0V1621.7H478.2V1680.0M477.5 1621.7V1599.3H479.8V1680.0M414.7 1607.3V1581.5H477.5V1599.3M482.8 1680.0V1616.1H484.4V1680.0M481.3 1680.0V1600.2H483.6V1616.1M487.5 1680.0V1631.5H489.0V1680.0M490.5 1680.0V1629.4H492.1V1680.0M488.2 1631.5V1625.0H491.3V1629.4M485.9 1680.0V1608.1H489.8V1625.0M482.4 1600.2V1595.3H487.8V1608.1M495.2 1680.0V1630.0H496.7V1680.0M493.6 1680.0V1613.9H496.0V1630.0M485.1 1595.3V1567.7H494.8V1613.9M445.6 1581.5V1499.9H485.1V1567.7M498.3 1680.0V1668.6H499.8V1680.0M501.3 1680.0V1668.4H502.8V1680.0M499.0 1668.6V1663.9H502.1V1668.4M505.9 1680.0V1661.4H507.4V1680.0M504.4 1680.0V1658.8H506.6V1661.4M500.5 1663.9V1649.6H505.5V1658.8M510.4 1680.0V1655.8H512.0V1680.0M508.9 1680.0V1637.0H511.2V1655.8M503.0 1649.6V1633.8H510.1V1637.0M513.5 1680.0V1667.5H515.0V1680.0M514.2 1667.5V1661.9H516.5V1680.0M515.4 1661.9V1660.0H518.1V1680.0M519.6 1680.0V1661.4H521.1V1680.0M525.7 1680.0V1663.7H527.2V1680.0M524.1 1680.0V1656.5H526.4V1663.7M525.3 1656.5V1655.6H528.7V1680.0M522.6 1680.0V1654.5H527.0V1655.6M520.3 1661.4V1653.5H524.8V1654.5M522.6 1653.5V1647.9H530.2V1680.0M516.7 1660.0V1642.2H526.4V1647.9M506.5 1633.8V1623.8H521.6V1642.2M531.8 1680.0V1641.4H533.3V1680.0M534.8 1680.0V1654.8H536.3V1680.0M539.3 1680.0V1652.4H540.9V1680.0M537.8 1680.0V1651.3H540.1V1652.4M535.6 1654.8V1642.7H539.0V1651.3M545.4 1680.0V1654.8H546.9V1680.0M543.9 1680.0V1653.8H546.2V1654.8M542.4 1680.0V1652.7H545.0V1653.8M537.3 1642.7V1633.5H543.7V1652.7M540.5 1633.5V1631.6H548.4V1680.0M532.5 1641.4V1620.1H544.5V1631.6M550.0 1680.0V1659.5H551.5V1680.0M550.7 1659.5V1658.6H553.0V1680.0M556.0 1680.0V1665.8H557.6V1680.0M554.5 1680.0V1665.3H556.8V1665.8M555.7 1665.3V1664.6H559.1V1680.0M551.9 1658.6V1652.0H557.4V1664.6M563.6 1680.0V1660.3H565.1V1680.0M562.1 1680.0V1657.9H564.4V1660.3M560.6 1680.0V1654.0H563.2V1657.9M566.7 1680.0V1654.8H568.2V1680.0M567.4 1654.8V1652.2H569.7V1680.0M561.9 1654.0V1651.1H568.6V1652.2M554.6 1652.0V1648.6H565.2V1651.1M572.7 1680.0V1645.9H574.2V1680.0M571.2 1680.0V1644.5H573.5V1645.9M559.9 1648.6V1637.7H572.3V1644.5M538.5 1620.1V1603.5H566.1V1637.7M517.7 1623.8V1582.4H553.7V1603.5M575.7 1680.0V1622.1H577.2V1680.0M576.5 1622.1V1595.9H578.7V1680.0M580.1 1680.0V1627.5H581.6V1680.0M584.6 1680.0V1622.3H586.0V1680.0M587.5 1680.0V1617.8H589.0V1680.0M585.3 1622.3V1615.3H588.2V1617.8M583.1 1680.0V1612.6H586.8V1615.3M593.4 1680.0V1624.9H594.9V1680.0M594.1 1624.9V1619.9H596.3V1680.0M595.2 1619.9V1617.4H597.8V1680.0M591.9 1680.0V1614.8H596.5V1617.4M594.2 1614.8V1612.0H599.3V1680.0M590.4 1680.0V1609.2H596.7V1612.0M584.9 1612.6V1606.3H593.6V1609.2M580.9 1627.5V1584.8H589.3V1606.3M577.6 1595.9V1565.9H585.1V1584.8M602.2 1680.0V1656.2H603.7V1680.0M600.7 1680.0V1655.2H602.9V1656.2M608.1 1680.0V1660.6H609.5V1680.0M606.6 1680.0V1659.8H608.8V1660.6M612.5 1680.0V1660.6H613.9V1680.0M611.0 1680.0V1659.8H613.2V1660.6M607.7 1659.8V1659.0H612.1V1659.8M605.1 1680.0V1658.1H609.9V1659.0M607.5 1658.1V1645.9H615.4V1680.0M601.8 1655.2V1634.2H611.5V1645.9M618.3 1680.0V1625.0H619.8V1680.0M616.9 1680.0V1622.7H619.1V1625.0M606.6 1634.2V1620.3H618.0V1622.7M612.3 1620.3V1573.5H621.3V1680.0M622.7 1680.0V1606.8H624.2V1680.0M627.2 1680.0V1648.0H628.7V1680.0M628.0 1648.0V1623.8H630.2V1680.0M625.7 1680.0V1603.8H629.1V1623.8M631.7 1680.0V1641.6H633.2V1680.0M632.4 1641.6V1635.6H634.7V1680.0M637.6 1680.0V1656.7H639.1V1680.0M638.4 1656.7V1649.0H640.6V1680.0M642.1 1680.0V1652.4H643.6V1680.0M642.9 1652.4V1651.3H645.1V1680.0M639.5 1649.0V1644.5H644.0V1651.3M636.1 1680.0V1639.2H641.7V1644.5M633.5 1635.6V1602.1H638.9V1639.2M627.4 1603.8V1594.2H636.2V1602.1M623.5 1606.8V1584.9H631.8V1594.2M646.6 1680.0V1646.4H648.1V1680.0M647.3 1646.4V1629.7H649.6V1680.0M654.0 1680.0V1658.1H655.5V1680.0M657.0 1680.0V1653.3H658.5V1680.0M654.8 1658.1V1645.1H657.7V1653.3M652.5 1680.0V1643.7H656.3V1645.1M651.0 1680.0V1637.1H654.4V1643.7M652.7 1637.1V1624.0H660.0V1680.0M648.4 1629.7V1605.7H656.3V1624.0M661.5 1680.0V1619.8H663.0V1680.0M664.4 1680.0V1635.4H665.9V1680.0M665.2 1635.4V1631.4H667.4V1680.0M671.9 1680.0V1640.5H673.4V1680.0M676.4 1680.0V1635.9H677.9V1680.0M674.9 1680.0V1634.1H677.1V1635.9M672.6 1640.5V1632.2H676.0V1634.1M679.3 1680.0V1632.2H680.8V1680.0M674.3 1632.2V1630.2H680.1V1632.2M670.4 1680.0V1628.1H677.2V1630.2M682.3 1680.0V1618.5H683.8V1680.0M683.1 1618.5V1615.9H685.3V1680.0M688.3 1680.0V1621.0H689.8V1680.0M686.8 1680.0V1618.5H689.0V1621.0M687.9 1618.5V1615.9H691.3V1680.0M684.2 1615.9V1613.3H689.6V1615.9M673.8 1628.1V1610.5H686.9V1613.3M668.9 1680.0V1603.6H680.3V1610.5M666.3 1631.4V1600.4H674.6V1603.6M662.2 1619.8V1597.0H670.5V1600.4M652.4 1605.7V1593.6H666.3V1597.0M627.7 1584.9V1575.9H659.4V1593.6M692.8 1680.0V1629.1H694.3V1680.0M695.8 1680.0V1634.1H697.3V1680.0M698.8 1680.0V1634.1H700.4V1680.0M696.6 1634.1V1632.2H699.6V1634.1M693.5 1629.1V1623.7H698.1V1632.2M701.9 1680.0V1611.7H703.4V1680.0M704.9 1680.0V1612.9H706.4V1680.0M702.6 1611.7V1596.1H705.7V1612.9M704.2 1596.1V1589.7H708.0V1680.0M709.5 1680.0V1636.9H711.0V1680.0M710.2 1636.9V1620.1H712.5V1680.0M715.5 1680.0V1622.5H717.1V1680.0M714.0 1680.0V1620.1H716.3V1622.5M711.4 1620.1V1617.6H715.2V1620.1M713.3 1617.6V1596.4H718.6V1680.0M706.1 1589.7V1585.9H715.9V1596.4M695.8 1623.7V1582.0H711.0V1585.9M720.1 1680.0V1624.3H721.6V1680.0M720.9 1624.3V1622.0H723.1V1680.0M726.2 1680.0V1643.2H727.7V1680.0M729.2 1680.0V1648.9H730.7V1680.0M726.9 1643.2V1629.2H730.0V1648.9M724.7 1680.0V1614.9H728.5V1629.2M722.0 1622.0V1604.5H726.6V1614.9M703.4 1582.0V1571.9H724.3V1604.5M659.4 1575.9V1565.9H710.7V1571.9M612.3 1573.5V1550.3H687.2V1565.9M583.7 1565.9V1543.5H646.1V1550.3M535.1 1582.4V1507.5H615.2V1543.5M735.2 1680.0V1678.5H736.7V1680.0M736.0 1678.5V1678.4H738.2V1680.0M733.7 1680.0V1677.0H737.1V1678.4M739.7 1680.0V1678.6H741.2V1680.0M740.4 1678.6V1678.5H742.7V1680.0M741.6 1678.5V1677.1H744.2V1680.0M742.9 1677.1V1676.9H745.6V1680.0M735.4 1677.0V1675.9H744.3V1676.9M750.1 1680.0V1678.9H751.6V1680.0M750.9 1678.9V1678.8H753.1V1680.0M752.0 1678.8V1678.8H754.6V1680.0M759.0 1680.0V1679.2H760.5V1680.0M757.6 1680.0V1679.1H759.8V1679.2M756.1 1680.0V1679.1H758.7V1679.1M753.3 1678.8V1678.7H757.4V1679.1M763.5 1680.0V1678.8H765.0V1680.0M762.0 1680.0V1678.8H764.3V1678.8M763.1 1678.8V1678.7H766.5V1680.0M755.3 1678.7V1678.7H764.8V1678.7M748.6 1680.0V1678.4H760.1V1678.7M747.1 1680.0V1678.1H754.3V1678.4M769.5 1680.0V1678.5H771.0V1680.0M768.0 1680.0V1677.5H770.2V1678.5M750.7 1678.1V1677.4H769.1V1677.5M772.5 1680.0V1677.9H773.9V1680.0M759.9 1677.4V1677.2H773.2V1677.9M766.6 1677.2V1675.9H775.4V1680.0M739.8 1675.9V1673.3H771.0V1675.9M732.2 1680.0V1672.6H755.4V1673.3M776.9 1680.0V1672.8H778.4V1680.0M743.8 1672.6V1670.5H777.7V1672.8M779.9 1680.0V1676.1H781.4V1680.0M784.4 1680.0V1676.0H785.9V1680.0M782.9 1680.0V1675.6H785.1V1676.0M780.6 1676.1V1675.1H784.0V1675.6M787.3 1680.0V1675.1H788.8V1680.0M790.3 1680.0V1675.1H791.8V1680.0M788.1 1675.1V1673.9H791.1V1675.1M782.3 1675.1V1672.4H789.6V1673.9M760.7 1670.5V1666.2H785.9V1672.4M773.3 1666.2V1660.6H793.3V1680.0M783.3 1660.6V1656.8H794.8V1680.0M796.3 1680.0V1666.2H797.8V1680.0M797.0 1666.2V1655.2H799.3V1680.0M789.1 1656.8V1651.6H798.1V1655.2M802.2 1680.0V1668.7H803.8V1680.0M803.0 1668.7V1666.3H805.2V1680.0M800.8 1680.0V1658.5H804.1V1666.3M806.8 1680.0V1670.4H808.2V1680.0M809.8 1680.0V1668.5H811.2V1680.0M807.5 1670.4V1664.6H810.5V1668.5M802.4 1658.5V1657.3H809.0V1664.6M812.8 1680.0V1655.2H814.2V1680.0M813.5 1655.2V1653.1H815.8V1680.0M817.2 1680.0V1676.8H818.8V1680.0M818.0 1676.8V1674.5H820.2V1680.0M821.8 1680.0V1673.6H823.2V1680.0M819.1 1674.5V1672.1H822.5V1673.6M826.2 1680.0V1677.0H827.8V1680.0M824.8 1680.0V1674.9H827.0V1677.0M825.9 1674.9V1672.1H829.2V1680.0M820.8 1672.1V1668.1H827.6V1672.1M833.8 1680.0V1671.6H835.2V1680.0M838.2 1680.0V1675.2H839.8V1680.0M839.0 1675.2V1672.9H841.2V1680.0M836.8 1680.0V1672.7H840.1V1672.9M838.4 1672.7V1672.3H842.8V1680.0M840.6 1672.3V1669.4H844.2V1680.0M834.5 1671.6V1667.7H842.4V1669.4M845.8 1680.0V1667.3H847.2V1680.0M851.8 1680.0V1670.8H853.2V1680.0M852.5 1670.8V1670.4H854.8V1680.0M850.2 1680.0V1670.0H853.6V1670.4M848.8 1680.0V1667.3H851.9V1670.0M846.5 1667.3V1666.7H850.3V1667.3M838.5 1667.7V1666.2H848.4V1666.7M832.2 1680.0V1665.6H843.4V1666.2M856.2 1680.0V1672.7H857.8V1680.0M857.0 1672.7V1672.4H859.2V1680.0M862.2 1680.0V1674.5H863.8V1680.0M866.8 1680.0V1673.6H868.2V1680.0M867.5 1673.6V1673.4H869.8V1680.0M865.2 1680.0V1673.1H868.6V1673.4M866.9 1673.1V1672.8H871.2V1680.0M869.1 1672.8V1672.5H872.8V1680.0M863.0 1674.5V1672.2H870.9V1672.5M874.2 1680.0V1672.2H875.8V1680.0M867.0 1672.2V1671.9H875.0V1672.2M860.8 1680.0V1671.2H871.0V1671.9M878.8 1680.0V1671.9H880.2V1680.0M881.8 1680.0V1672.9H883.2V1680.0M879.5 1671.9V1671.5H882.5V1672.9M877.2 1680.0V1671.2H881.0V1671.5M865.9 1671.2V1670.8H879.1V1671.2M858.1 1672.4V1670.4H872.5V1670.8M837.8 1665.6V1665.0H865.3V1670.4M886.2 1680.0V1673.7H887.8V1680.0M884.8 1680.0V1673.4H887.0V1673.7M885.9 1673.4V1668.0H889.2V1680.0M851.6 1665.0V1664.4H887.6V1668.0M830.8 1680.0V1659.9H869.6V1664.4M892.2 1680.0V1664.4H893.8V1680.0M895.2 1680.0V1669.8H896.8V1680.0M893.0 1664.4V1661.8H896.0V1669.8M890.8 1680.0V1659.9H894.5V1661.8M850.2 1659.9V1659.1H892.6V1659.9M824.2 1668.1V1658.2H871.4V1659.1M898.2 1680.0V1664.7H899.8V1680.0M847.8 1658.2V1657.3H899.0V1664.7M901.2 1680.0V1653.7H902.8V1680.0M873.4 1657.3V1648.0H902.0V1653.7M814.6 1653.1V1645.4H887.7V1648.0M851.2 1645.4V1639.5H904.2V1680.0M805.7 1657.3V1635.1H877.7V1639.5M789.1 1651.6V1625.4H853.1V1635.1M905.8 1680.0V1654.4H907.2V1680.0M908.8 1680.0V1665.7H910.2V1680.0M911.8 1680.0V1666.2H913.2V1680.0M909.5 1665.7V1665.1H912.5V1666.2M914.8 1680.0V1663.5H916.2V1680.0M911.0 1665.1V1662.8H915.5V1663.5M906.5 1654.4V1651.1H913.2V1662.8M919.2 1680.0V1663.0H920.8V1680.0M917.8 1680.0V1655.8H920.0V1663.0M909.9 1651.1V1635.0H918.9V1655.8M923.8 1680.0V1670.3H925.2V1680.0M924.5 1670.3V1667.1H926.8V1680.0M925.6 1667.1V1664.3H928.2V1680.0M922.2 1680.0V1663.6H926.9V1664.3M929.8 1680.0V1663.5H931.2V1680.0M924.6 1663.6V1658.5H930.5V1663.5M934.2 1680.0V1664.9H935.8V1680.0M932.8 1680.0V1663.2H935.0V1664.9M933.9 1663.2V1661.4H937.2V1680.0M938.8 1680.0V1667.8H940.2V1680.0M935.6 1661.4V1658.1H939.5V1667.8M944.8 1680.0V1663.2H946.2V1680.0M943.2 1680.0V1659.0H945.5V1663.2M941.8 1680.0V1657.0H944.4V1659.0M937.5 1658.1V1653.2H943.1V1657.0M927.5 1658.5V1645.5H940.3V1653.2M949.2 1680.0V1670.4H950.8V1680.0M947.8 1680.0V1666.0H950.0V1670.4M948.9 1666.0V1656.3H952.2V1680.0M956.8 1680.0V1662.1H958.2V1680.0M957.5 1662.1V1661.3H959.8V1680.0M955.2 1680.0V1660.5H958.6V1661.3M953.8 1680.0V1656.7H956.9V1660.5M955.3 1656.7V1655.8H961.2V1680.0M950.6 1656.3V1649.9H958.3V1655.8M933.9 1645.5V1636.5H954.4V1649.9M914.4 1635.0V1631.9H944.2V1636.5M962.8 1680.0V1644.4H964.3V1680.0M965.8 1680.0V1658.8H967.3V1680.0M968.8 1680.0V1665.3H970.3V1680.0M971.8 1680.0V1656.7H973.3V1680.0M969.5 1665.3V1655.7H972.6V1656.7M976.3 1680.0V1658.6H977.8V1680.0M974.8 1680.0V1655.7H977.1V1658.6M971.0 1655.7V1654.7H975.9V1655.7M966.5 1658.8V1653.6H973.5V1654.7M982.4 1680.0V1666.1H983.9V1680.0M985.4 1680.0V1666.1H986.9V1680.0M983.1 1666.1V1665.6H986.1V1666.1M980.8 1680.0V1665.0H984.6V1665.6M979.3 1680.0V1664.3H982.7V1665.0M989.9 1680.0V1665.6H991.4V1680.0M988.4 1680.0V1664.3H990.6V1665.6M981.0 1664.3V1663.7H989.5V1664.3M985.3 1663.7V1652.3H992.9V1680.0M989.1 1652.3V1651.1H994.4V1680.0M997.4 1680.0V1662.8H998.9V1680.0M995.9 1680.0V1662.1H998.2V1662.8M1001.9 1680.0V1671.1H1003.5V1680.0M1002.7 1671.1V1670.7H1005.0V1680.0M1006.5 1680.0V1671.1H1008.0V1680.0M1007.2 1671.1V1670.7H1009.5V1680.0M1003.8 1670.7V1670.3H1008.4V1670.7M1006.1 1670.3V1669.9H1011.0V1680.0M1000.4 1680.0V1669.5H1008.5V1669.9M1017.0 1680.0V1672.1H1018.5V1680.0M1015.5 1680.0V1671.8H1017.8V1672.1M1020.0 1680.0V1671.8H1021.5V1680.0M1016.6 1671.8V1671.4H1020.8V1671.8M1014.0 1680.0V1670.3H1018.7V1671.4M1012.5 1680.0V1669.9H1016.4V1670.3M1023.1 1680.0V1670.3H1024.6V1680.0M1023.8 1670.3V1669.9H1026.1V1680.0M1014.4 1669.9V1669.5H1024.9V1669.9M1004.5 1669.5V1669.1H1019.7V1669.5M1029.1 1680.0V1671.4H1030.6V1680.0M1027.6 1680.0V1671.1H1029.8V1671.4M1032.1 1680.0V1672.1H1033.6V1680.0M1028.7 1671.1V1670.7H1032.9V1672.1M1030.8 1670.7V1669.9H1035.1V1680.0M1041.1 1680.0V1673.9H1042.6V1680.0M1039.6 1680.0V1672.4H1041.9V1673.9M1038.1 1680.0V1672.1H1040.8V1672.4M1044.2 1680.0V1672.1H1045.7V1680.0M1039.4 1672.1V1671.7H1044.9V1672.1M1036.6 1680.0V1669.9H1042.2V1671.7M1032.9 1669.9V1669.5H1039.4V1669.9M1050.2 1680.0V1672.8H1051.7V1680.0M1048.7 1680.0V1672.5H1050.9V1672.8M1047.2 1680.0V1669.5H1049.8V1672.5M1036.2 1669.5V1669.1H1048.5V1669.5M1012.1 1669.1V1668.6H1042.3V1669.1M1054.7 1680.0V1669.9H1056.2V1680.0M1053.2 1680.0V1668.6H1055.5V1669.9M1027.2 1668.6V1668.1H1054.3V1668.6M1040.8 1668.1V1660.8H1057.7V1680.0M997.0 1662.1V1651.8H1049.2V1660.8M1060.7 1680.0V1657.8H1062.2V1680.0M1059.2 1680.0V1652.9H1061.5V1657.8M1023.1 1651.8V1649.5H1060.4V1652.9M991.7 1651.1V1646.2H1041.8V1649.5M970.0 1653.6V1628.9H1016.8V1646.2M963.5 1644.4V1610.3H993.4V1628.9M943.1 1631.9V1606.5H993.4V1610.3M807.5 1625.4V1592.2H971.6V1606.5M1063.8 1680.0V1647.7H1065.3V1680.0M1068.3 1680.0V1651.7H1069.8V1680.0M1066.8 1680.0V1650.6H1069.1V1651.7M1064.5 1647.7V1646.3H1067.9V1650.6M1066.2 1646.3V1644.9H1071.3V1680.0M1072.9 1680.0V1663.6H1074.4V1680.0M1073.6 1663.6V1662.9H1075.9V1680.0M1077.4 1680.0V1650.8H1078.9V1680.0M1074.8 1662.9V1646.5H1078.2V1650.8M1068.8 1644.9V1643.4H1076.5V1646.5M1085.0 1680.0V1667.6H1086.5V1680.0M1088.0 1680.0V1667.9H1089.5V1680.0M1085.7 1667.6V1667.1H1088.8V1667.9M1083.5 1680.0V1666.6H1087.3V1667.1M1082.0 1680.0V1657.1H1085.4V1666.6M1080.4 1680.0V1651.0H1083.7V1657.1M1072.6 1643.4V1641.9H1082.0V1651.0M1092.6 1680.0V1657.9H1094.1V1680.0M1091.0 1680.0V1651.4H1093.3V1657.9M1077.3 1641.9V1630.7H1092.2V1651.4M1100.1 1680.0V1666.4H1101.7V1680.0M1098.6 1680.0V1665.9H1100.9V1666.4M1106.2 1680.0V1670.9H1107.7V1680.0M1107.0 1670.9V1670.5H1109.2V1680.0M1104.7 1680.0V1670.1H1108.1V1670.5M1103.2 1680.0V1664.9H1106.4V1670.1M1099.8 1665.9V1655.2H1104.8V1664.9M1097.1 1680.0V1646.4H1102.3V1655.2M1095.6 1680.0V1640.3H1099.7V1646.4M1084.8 1630.7V1614.0H1097.6V1640.3M1110.7 1680.0V1643.3H1112.2V1680.0M1113.7 1680.0V1668.4H1115.2V1680.0M1116.7 1680.0V1661.2H1118.2V1680.0M1114.5 1668.4V1659.2H1117.4V1661.2M1121.2 1680.0V1665.6H1122.6V1680.0M1119.7 1680.0V1652.1H1121.9V1665.6M1115.9 1659.2V1647.8H1120.8V1652.1M1124.1 1680.0V1643.7H1125.6V1680.0M1118.4 1647.8V1633.8H1124.9V1643.7M1111.5 1643.3V1631.1H1121.6V1633.8M1128.6 1680.0V1646.6H1130.1V1680.0M1127.1 1680.0V1619.4H1129.3V1646.6M1116.6 1631.1V1615.7H1128.2V1619.4M1131.6 1680.0V1669.9H1133.1V1680.0M1132.3 1669.9V1669.5H1134.5V1680.0M1137.5 1680.0V1664.2H1139.0V1680.0M1136.0 1680.0V1663.6H1138.3V1664.2M1133.4 1669.5V1662.9H1137.1V1663.6M1140.5 1680.0V1668.7H1142.0V1680.0M1144.9 1680.0V1665.9H1146.4V1680.0M1143.5 1680.0V1665.3H1145.7V1665.9M1141.2 1668.7V1664.7H1144.6V1665.3M1135.3 1662.9V1659.2H1142.9V1664.7M1139.1 1659.2V1645.8H1147.9V1680.0M1149.4 1680.0V1664.7H1150.9V1680.0M1153.9 1680.0V1663.1H1155.4V1680.0M1152.4 1680.0V1662.4H1154.6V1663.1M1150.2 1664.7V1661.6H1153.5V1662.4M1156.8 1680.0V1666.6H1158.3V1680.0M1159.8 1680.0V1664.5H1161.3V1680.0M1164.3 1680.0V1667.3H1165.8V1680.0M1165.0 1667.3V1666.8H1167.3V1680.0M1162.8 1680.0V1664.5H1166.1V1666.8M1160.6 1664.5V1663.8H1164.5V1664.5M1157.6 1666.6V1663.2H1162.5V1663.8M1151.8 1661.6V1656.7H1160.1V1663.2M1143.5 1645.8V1635.3H1155.9V1656.7M1122.4 1615.7V1609.8H1149.7V1635.3M1089.3 1614.0V1595.9H1140.0V1609.8M1170.2 1680.0V1647.1H1171.7V1680.0M1168.7 1680.0V1626.8H1170.9V1647.1M1173.1 1680.0V1616.7H1174.6V1680.0M1173.9 1616.7V1603.3H1176.1V1680.0M1179.0 1680.0V1640.5H1180.5V1680.0M1182.0 1680.0V1621.8H1183.4V1680.0M1182.7 1621.8V1619.3H1184.9V1680.0M1179.8 1640.5V1607.4H1183.8V1619.3M1177.6 1680.0V1597.5H1181.8V1607.4M1175.0 1603.3V1594.1H1179.7V1597.5M1186.4 1680.0V1624.5H1187.9V1680.0M1187.1 1624.5V1622.1H1189.3V1680.0M1190.8 1680.0V1623.2H1192.3V1680.0M1188.2 1622.1V1619.7H1191.5V1623.2M1177.3 1594.1V1585.9H1189.9V1619.7M1169.8 1626.8V1576.5H1183.6V1585.9M1120.2 1595.9V1578.0H1182.6V1576.5M1198.2 1680.0V1650.4H1199.8V1680.0M1204.2 1680.0V1662.0H1205.8V1680.0M1202.8 1680.0V1661.2H1205.0V1662.0M1203.9 1661.2V1651.6H1207.2V1680.0M1201.2 1680.0V1650.4H1205.6V1651.6M1199.0 1650.4V1649.2H1203.4V1650.4M1196.8 1680.0V1647.5H1201.2V1649.2M1195.2 1680.0V1646.2H1199.0V1647.5M1193.8 1680.0V1644.8H1197.1V1646.2M1195.4 1644.8V1621.1H1208.8V1680.0M1210.2 1680.0V1638.4H1211.8V1680.0M1213.2 1680.0V1653.6H1214.8V1680.0M1217.8 1680.0V1654.0H1219.2V1680.0M1216.2 1680.0V1652.9H1218.5V1654.0M1214.0 1653.6V1649.2H1217.4V1652.9M1215.7 1649.2V1647.9H1220.8V1680.0M1223.8 1680.0V1650.5H1225.2V1680.0M1222.2 1680.0V1649.3H1224.5V1650.5M1218.2 1647.9V1646.6H1223.4V1649.3M1211.0 1638.4V1619.6H1220.8V1646.6M1202.1 1621.1V1599.3H1215.9V1619.6M1228.2 1680.0V1650.3H1229.7V1680.0M1226.7 1680.0V1645.7H1229.0V1650.3M1227.8 1645.7V1643.4H1231.2V1680.0M1232.7 1680.0V1648.9H1234.1V1680.0M1233.4 1648.9V1647.6H1235.6V1680.0M1229.5 1643.4V1632.5H1234.5V1647.6M1237.1 1680.0V1635.9H1238.6V1680.0M1232.0 1632.5V1624.2H1237.8V1635.9M1243.0 1680.0V1643.6H1244.5V1680.0M1243.8 1643.6V1642.1H1246.0V1680.0M1241.5 1680.0V1635.5H1244.9V1642.1M1240.1 1680.0V1627.6H1243.2V1635.5M1248.9 1680.0V1659.1H1250.4V1680.0M1251.9 1680.0V1661.2H1253.4V1680.0M1252.6 1661.2V1660.4H1254.8V1680.0M1249.7 1659.1V1658.2H1253.7V1660.4M1247.4 1680.0V1657.3H1251.7V1658.2M1256.3 1680.0V1644.5H1257.8V1680.0M1257.1 1644.5V1643.0H1259.3V1680.0M1249.6 1657.3V1641.5H1258.2V1643.0M1253.9 1641.5V1626.1H1260.8V1680.0M1241.6 1627.6V1619.9H1257.3V1626.1M1234.9 1624.2V1574.7H1249.5V1619.9M1202.1 1599.3V1568.9H1249.5V1574.7M1151.1 1578.0V1555.4H1227.4V1568.9M889.1 1592.2V1529.9H1189.8V1555.4M1263.6 1680.0V1635.2H1265.0V1680.0M1262.2 1680.0V1628.2H1264.3V1635.2M1263.3 1628.2V1626.1H1266.5V1680.0M1267.9 1680.0V1639.8H1269.3V1680.0M1264.9 1626.1V1616.8H1268.6V1639.8M1272.3 1680.0V1674.2H1273.8V1680.0M1275.3 1680.0V1673.4H1276.8V1680.0M1273.0 1674.2V1673.1H1276.1V1673.4M1278.3 1680.0V1673.7H1279.9V1680.0M1274.5 1673.1V1672.0H1279.1V1673.7M1276.8 1672.0V1671.7H1281.4V1680.0M1279.1 1671.7V1666.9H1282.9V1680.0M1281.0 1666.9V1659.9H1284.4V1680.0M1289.0 1680.0V1671.5H1290.5V1680.0M1287.4 1680.0V1669.5H1289.7V1671.5M1285.9 1680.0V1664.7H1288.6V1669.5M1287.2 1664.7V1652.2H1292.0V1680.0M1282.7 1659.9V1648.1H1289.6V1652.2M1293.5 1680.0V1658.5H1295.0V1680.0M1298.0 1680.0V1668.2H1299.6V1680.0M1304.1 1680.0V1675.3H1305.6V1680.0M1302.6 1680.0V1671.0H1304.9V1675.3M1301.1 1680.0V1669.3H1303.7V1671.0M1298.8 1668.2V1661.0H1302.4V1669.3M1296.5 1680.0V1659.1H1300.6V1661.0M1294.3 1658.5V1657.3H1298.6V1659.1M1307.1 1680.0V1659.0H1308.7V1680.0M1311.7 1680.0V1672.4H1313.2V1680.0M1312.5 1672.4V1672.1H1314.7V1680.0M1310.2 1680.0V1671.1H1313.6V1672.1M1311.9 1671.1V1665.2H1316.2V1680.0M1307.9 1659.0V1655.1H1314.1V1665.2M1296.4 1657.3V1647.3H1311.0V1655.1M1286.2 1648.1V1629.9H1303.7V1647.3M1270.8 1680.0V1622.1H1294.9V1629.9M1267.5 1616.8V1608.0H1294.9V1622.1M1319.2 1680.0V1629.2H1320.8V1680.0M1320.0 1629.2V1627.1H1322.2V1680.0M1317.8 1680.0V1611.3H1321.1V1627.1M1323.8 1680.0V1606.3H1325.2V1680.0M1319.4 1611.3V1588.0H1324.5V1606.3M1328.2 1680.0V1646.0H1329.8V1680.0M1329.0 1646.0V1614.5H1331.2V1680.0M1326.8 1680.0V1596.0H1330.1V1614.5M1322.0 1588.0V1579.4H1328.4V1596.0M1334.3 1680.0V1618.7H1335.8V1680.0M1332.8 1680.0V1616.2H1335.1V1618.7M1337.4 1680.0V1595.1H1338.9V1680.0M1341.9 1680.0V1618.0H1343.5V1680.0M1342.7 1618.0V1606.8H1345.0V1680.0M1346.5 1680.0V1616.1H1348.1V1680.0M1347.3 1616.1V1604.6H1349.6V1680.0M1343.9 1606.8V1593.9H1348.4V1604.6M1340.4 1680.0V1579.5H1346.1V1593.9M1338.1 1595.1V1570.1H1343.3V1579.5M1333.9 1616.2V1562.6H1340.7V1570.1M1351.1 1680.0V1638.7H1352.6V1680.0M1351.9 1638.7V1624.9H1354.2V1680.0M1353.0 1624.9V1607.6H1355.7V1680.0M1354.4 1607.6V1599.1H1357.2V1680.0M1337.3 1562.6V1547.8H1355.8V1599.1M1327.6 1579.4V1534.3H1342.6V1547.8M1274.1 1608.0V1514.3H1335.1V1534.3M1358.8 1680.0V1675.8H1360.3V1680.0M1359.5 1675.8V1672.4H1361.8V1680.0M1363.3 1680.0V1671.7H1364.8V1680.0M1364.1 1671.7V1669.8H1366.3V1680.0M1360.7 1672.4V1666.4H1365.2V1669.8M1362.9 1666.4V1664.7H1367.9V1680.0M1372.4 1680.0V1677.2H1373.9V1680.0M1370.9 1680.0V1676.0H1373.2V1677.2M1372.0 1676.0V1675.3H1375.4V1680.0M1377.0 1680.0V1673.8H1378.5V1680.0M1377.7 1673.8V1671.8H1380.0V1680.0M1373.7 1675.3V1670.8H1378.9V1671.8M1383.0 1680.0V1678.3H1384.6V1680.0M1381.5 1680.0V1677.4H1383.8V1678.3M1386.1 1680.0V1676.8H1387.6V1680.0M1386.8 1676.8V1676.5H1389.1V1680.0M1382.7 1677.4V1676.4H1388.0V1676.5M1390.6 1680.0V1675.5H1392.1V1680.0M1385.3 1676.4V1673.4H1391.4V1675.5M1393.7 1680.0V1676.4H1395.2V1680.0M1388.3 1673.4V1672.8H1394.4V1676.4M1376.3 1670.8V1670.3H1391.4V1672.8M1383.8 1670.3V1669.0H1396.7V1680.0M1369.4 1680.0V1661.4H1390.3V1669.0M1398.2 1680.0V1666.3H1399.7V1680.0M1379.8 1661.4V1657.4H1399.0V1666.3M1365.4 1664.7V1654.4H1389.4V1657.4M1377.4 1654.4V1640.3H1401.2V1680.0M1404.3 1680.0V1667.8H1405.8V1680.0M1405.1 1667.8V1667.3H1407.3V1680.0M1406.2 1667.3V1659.2H1408.9V1680.0M1410.4 1680.0V1662.4H1411.9V1680.0M1411.2 1662.4V1661.6H1413.4V1680.0M1415.0 1680.0V1663.8H1416.5V1680.0M1412.3 1661.6V1660.9H1415.7V1663.8M1418.0 1680.0V1663.2H1419.6V1680.0M1418.8 1663.2V1660.1H1421.1V1680.0M1414.0 1660.9V1659.2H1419.9V1660.1M1407.5 1659.2V1658.4H1417.0V1659.2M1402.8 1680.0V1657.5H1412.3V1658.4M1407.5 1657.5V1653.5H1422.6V1680.0M1415.1 1653.5V1642.4H1424.1V1680.0M1425.7 1680.0V1650.0H1427.2V1680.0M1428.7 1680.0V1645.7H1430.2V1680.0M1426.4 1650.0V1644.2H1429.5V1645.7M1419.6 1642.4V1616.8H1427.9V1644.2M1393.0 1640.3V1605.6H1427.2V1616.8M1433.4 1680.0V1610.0H1434.9V1680.0M1431.8 1680.0V1590.1H1434.1V1610.0M1439.6 1680.0V1617.0H1441.2V1680.0M1438.1 1680.0V1614.3H1440.4V1617.0M1436.5 1680.0V1605.9H1439.2V1614.3M1433.0 1590.1V1584.0H1437.9V1605.9M1445.8 1680.0V1641.8H1447.4V1680.0M1444.3 1680.0V1626.1H1446.6V1641.8M1442.8 1680.0V1612.3H1445.4V1626.1M1451.9 1680.0V1652.5H1453.5V1680.0M1450.4 1680.0V1627.5H1452.7V1652.5M1451.6 1627.5V1625.3H1455.0V1680.0M1448.9 1680.0V1623.1H1453.3V1625.3M1456.5 1680.0V1645.9H1458.1V1680.0M1459.6 1680.0V1647.3H1461.1V1680.0M1460.4 1647.3V1645.9H1462.6V1680.0M1457.3 1645.9V1644.5H1461.5V1645.9M1465.7 1680.0V1645.5H1467.2V1680.0M1464.2 1680.0V1623.3H1466.5V1645.5M1459.4 1644.5V1609.8H1465.3V1623.3M1451.1 1623.1V1606.9H1462.4V1609.8M1444.1 1612.3V1558.9H1456.7V1606.9M1435.6 1584.0V1551.5H1455.1V1558.9M1410.1 1605.6V1529.2H1446.1V1551.5M1471.7 1680.0V1676.5H1473.2V1680.0M1472.5 1676.5V1675.8H1474.7V1680.0M1473.6 1675.8V1673.3H1476.2V1680.0M1470.2 1680.0V1672.3H1474.9V1673.3M1472.5 1672.3V1669.7H1477.7V1680.0M1468.7 1680.0V1663.4H1475.1V1669.7M1471.9 1663.4V1662.4H1479.1V1680.0M1480.6 1680.0V1665.6H1482.1V1680.0M1485.1 1680.0V1673.5H1486.6V1680.0M1483.6 1680.0V1671.5H1485.8V1673.5M1489.5 1680.0V1678.0H1491.0V1680.0M1490.3 1678.0V1678.0H1492.5V1680.0M1494.0 1680.0V1678.4H1495.5V1680.0M1494.7 1678.4V1678.3H1497.0V1680.0M1491.4 1678.0V1677.9H1495.9V1678.3M1493.6 1677.9V1677.8H1498.5V1680.0M1496.0 1677.8V1677.7H1499.9V1680.0M1502.9 1680.0V1677.8H1504.4V1680.0M1503.7 1677.8V1677.1H1505.9V1680.0M1504.8 1677.1V1677.0H1507.4V1680.0M1501.4 1680.0V1676.8H1506.1V1677.0M1498.0 1677.7V1676.4H1503.8V1676.8M1500.9 1676.4V1676.2H1508.9V1680.0M1488.1 1680.0V1675.1H1504.9V1676.2M1511.8 1680.0V1676.8H1513.3V1680.0M1510.3 1680.0V1676.2H1512.6V1676.8M1496.5 1675.1V1674.3H1511.5V1676.2M1514.8 1680.0V1675.0H1516.3V1680.0M1504.0 1674.3V1673.1H1515.5V1675.0M1509.8 1673.1V1671.7H1517.8V1680.0M1484.7 1671.5V1668.5H1513.8V1671.7M1499.2 1668.5V1667.1H1519.3V1680.0M1481.4 1665.6V1660.5H1509.2V1667.1M1475.5 1662.4V1653.0H1495.3V1660.5M1523.8 1680.0V1675.1H1525.4V1680.0M1524.6 1675.1V1672.3H1526.9V1680.0M1522.3 1680.0V1666.5H1525.7V1672.3M1529.9 1680.0V1670.5H1531.5V1680.0M1530.7 1670.5V1668.5H1533.0V1680.0M1528.4 1680.0V1666.3H1531.9V1668.5M1536.1 1680.0V1668.5H1537.6V1680.0M1534.5 1680.0V1668.0H1536.8V1668.5M1530.1 1666.3V1665.7H1535.7V1668.0M1524.0 1666.5V1665.1H1532.9V1665.7M1540.6 1680.0V1663.1H1542.2V1680.0M1543.7 1680.0V1660.2H1545.2V1680.0M1541.4 1663.1V1655.4H1544.5V1660.2M1539.1 1680.0V1654.3H1542.9V1655.4M1528.5 1665.1V1651.0H1541.0V1654.3M1520.8 1680.0V1644.9H1534.7V1651.0M1495.3 1653.0V1640.3H1534.7V1644.9M1546.7 1680.0V1658.7H1548.2V1680.0M1547.5 1658.7V1653.6H1549.7V1680.0M1548.6 1653.6V1631.7H1551.2V1680.0M1552.7 1680.0V1648.5H1554.2V1680.0M1553.4 1648.5V1646.4H1555.6V1680.0M1557.1 1680.0V1666.7H1558.6V1680.0M1557.9 1666.7V1666.2H1560.1V1680.0M1561.6 1680.0V1665.9H1563.1V1680.0M1559.0 1666.2V1664.1H1562.3V1665.9M1560.7 1664.1V1657.6H1564.5V1680.0M1566.0 1680.0V1651.7H1567.5V1680.0M1562.6 1657.6V1648.6H1566.8V1651.7M1570.5 1680.0V1665.0H1572.0V1680.0M1573.5 1680.0V1666.7H1574.9V1680.0M1574.2 1666.7V1666.1H1576.4V1680.0M1577.9 1680.0V1666.1H1579.4V1680.0M1575.3 1666.1V1665.5H1578.6V1666.1M1577.0 1665.5V1664.9H1580.9V1680.0M1571.2 1665.0V1662.0H1578.9V1664.9M1569.0 1680.0V1661.2H1575.1V1662.0M1572.0 1661.2V1648.9H1582.4V1680.0M1564.7 1648.6V1639.3H1577.2V1648.9M1554.5 1646.4V1629.5H1570.9V1639.3M1549.9 1631.7V1621.2H1562.7V1629.5M1586.8 1680.0V1647.6H1588.3V1680.0M1585.3 1680.0V1644.1H1587.5V1647.6M1589.8 1680.0V1644.1H1591.3V1680.0M1586.4 1644.1V1642.6H1590.5V1644.1M1583.8 1680.0V1641.1H1588.5V1642.6M1556.3 1621.2V1607.3H1586.2V1641.1M1528.1 1640.3V1588.4H1575.8V1607.3M1592.8 1680.0V1618.5H1594.2V1680.0M1593.5 1618.5V1584.6H1595.8V1680.0M1598.8 1680.0V1651.0H1600.2V1680.0M1597.2 1680.0V1638.4H1599.5V1651.0M1601.8 1680.0V1656.4H1603.2V1680.0M1602.5 1656.4V1655.4H1604.8V1680.0M1603.6 1655.4V1654.4H1606.2V1680.0M1607.8 1680.0V1650.6H1609.2V1680.0M1604.9 1654.4V1649.3H1608.5V1650.6M1598.4 1638.4V1626.2H1606.7V1649.3M1594.6 1584.6V1578.2H1602.5V1626.2M1610.7 1680.0V1636.0H1612.2V1680.0M1613.7 1680.0V1652.7H1615.2V1680.0M1614.5 1652.7V1651.6H1616.7V1680.0M1618.2 1680.0V1657.0H1619.6V1680.0M1618.9 1657.0V1650.6H1621.1V1680.0M1622.6 1680.0V1658.4H1624.1V1680.0M1620.0 1650.6V1648.5H1623.4V1658.4M1615.6 1651.6V1642.8H1621.7V1648.5M1625.6 1680.0V1651.2H1627.1V1680.0M1626.3 1651.2V1650.0H1628.5V1680.0M1618.6 1642.8V1641.2H1627.4V1650.0M1623.0 1641.2V1639.6H1630.0V1680.0M1631.5 1680.0V1654.9H1633.0V1680.0M1632.3 1654.9V1653.8H1634.5V1680.0M1626.5 1639.6V1637.9H1633.4V1653.8M1611.5 1636.0V1628.0H1630.0V1637.9M1636.0 1680.0V1646.5H1637.5V1680.0M1638.9 1680.0V1652.2H1640.4V1680.0M1636.7 1646.5V1640.4H1639.7V1652.2M1641.9 1680.0V1643.2H1643.4V1680.0M1638.2 1640.4V1632.8H1642.6V1643.2M1620.7 1628.0V1623.0H1640.4V1632.8M1646.4 1680.0V1646.0H1647.8V1680.0M1644.9 1680.0V1621.4H1647.1V1646.0M1646.0 1621.4V1608.6H1649.3V1680.0M1650.8 1680.0V1628.3H1652.3V1680.0M1651.5 1628.3V1624.4H1653.8V1680.0M1647.7 1608.6V1601.8H1652.7V1624.4M1650.2 1601.8V1585.1H1655.3V1680.0M1630.6 1623.0V1566.8H1652.7V1585.1M1602.2 1578.2V1540.5H1630.6V1566.8M1551.8 1588.4V1521.9H1611.8V1540.5M1656.8 1680.0V1658.8H1658.2V1680.0M1659.8 1680.0V1671.2H1661.2V1680.0M1660.5 1671.2V1666.2H1662.8V1680.0M1664.2 1680.0V1675.0H1665.8V1680.0M1665.0 1675.0V1673.7H1667.2V1680.0M1671.8 1680.0V1676.5H1673.2V1680.0M1672.5 1676.5V1675.8H1674.8V1680.0M1677.8 1680.0V1676.0H1679.2V1680.0M1676.2 1680.0V1675.8H1678.5V1676.0M1673.6 1675.8V1675.6H1677.4V1675.8M1670.2 1680.0V1673.2H1675.5V1675.6M1668.8 1680.0V1672.2H1672.9V1673.2M1666.1 1673.7V1671.4H1670.8V1672.2M1682.2 1680.0V1670.0H1683.8V1680.0M1683.0 1670.0V1669.6H1685.2V1680.0M1686.8 1680.0V1673.3H1688.2V1680.0M1687.5 1673.3V1669.6H1689.8V1680.0M1684.1 1669.6V1669.1H1688.6V1669.6M1680.8 1680.0V1667.2H1686.4V1669.1M1668.5 1671.4V1666.6H1683.6V1667.2M1661.6 1666.2V1655.4H1676.0V1666.6M1668.8 1655.4V1651.0H1691.2V1680.0M1657.5 1658.8V1649.5H1680.0V1651.0M1692.8 1680.0V1666.7H1694.3V1680.0M1697.4 1680.0V1670.8H1698.9V1680.0M1695.8 1680.0V1670.4H1698.1V1670.8M1693.5 1666.7V1665.2H1697.0V1670.4M1700.4 1680.0V1669.3H1701.9V1680.0M1701.2 1669.3V1664.6H1703.5V1680.0M1695.2 1665.2V1651.2H1702.3V1664.6M1706.5 1680.0V1670.0H1708.1V1680.0M1712.6 1680.0V1666.1H1714.2V1680.0M1711.1 1680.0V1665.5H1713.4V1666.1M1709.6 1680.0V1662.9H1712.3V1665.5M1715.7 1680.0V1662.9H1717.2V1680.0M1710.9 1662.9V1662.2H1716.5V1662.9M1707.3 1670.0V1661.4H1713.7V1662.2M1705.0 1680.0V1656.6H1710.5V1661.4M1698.8 1651.2V1637.9H1707.7V1656.6M1680.0 1649.5V1632.8H1707.7V1637.9M1721.8 1680.0V1666.8H1723.2V1680.0M1722.5 1666.8V1666.2H1724.8V1680.0M1720.2 1680.0V1659.8H1723.6V1666.2M1721.9 1659.8V1659.0H1726.2V1680.0M1724.1 1659.0V1655.4H1727.8V1680.0M1718.8 1680.0V1643.5H1725.9V1655.4M1730.8 1680.0V1648.7H1732.2V1680.0M1729.2 1680.0V1620.7H1731.5V1648.7M1722.3 1643.5V1616.8H1730.4V1620.7M1698.5 1632.8V1610.9H1728.4V1616.8M1733.7 1680.0V1634.2H1735.2V1680.0M1736.7 1680.0V1634.2H1738.1V1680.0M1734.5 1634.2V1632.3H1737.4V1634.2M1739.6 1680.0V1637.7H1741.0V1680.0M1735.9 1632.3V1625.8H1740.3V1637.7M1742.5 1680.0V1607.4H1744.0V1680.0M1738.1 1625.8V1598.7H1743.2V1607.4M1748.3 1680.0V1639.3H1749.8V1680.0M1746.9 1680.0V1637.7H1749.1V1639.3M1748.0 1637.7V1623.6H1751.3V1680.0M1745.4 1680.0V1606.7H1749.6V1623.6M1740.7 1598.7V1579.6H1747.5V1606.7M1713.4 1610.9V1566.6H1740.7V1579.6M1755.8 1680.0V1657.8H1757.3V1680.0M1758.9 1680.0V1657.8H1760.4V1680.0M1756.6 1657.8V1656.9H1759.6V1657.8M1754.3 1680.0V1655.9H1758.1V1656.9M1756.2 1655.9V1654.8H1761.9V1680.0M1752.8 1680.0V1653.7H1759.1V1654.8M1755.9 1653.7V1652.6H1763.4V1680.0M1759.7 1652.6V1642.7H1765.0V1680.0M1766.5 1680.0V1652.4H1768.0V1680.0M1762.3 1642.7V1628.7H1767.3V1652.4M1774.1 1680.0V1644.0H1775.7V1680.0M1777.2 1680.0V1644.0H1778.7V1680.0M1774.9 1644.0V1642.5H1777.9V1644.0M1772.6 1680.0V1633.8H1776.4V1642.5M1771.1 1680.0V1631.9H1774.5V1633.8M1769.6 1680.0V1627.1H1772.8V1631.9M1764.8 1628.7V1597.8H1771.2V1627.1M1768.0 1597.8V1557.2H1780.2V1680.0M1784.8 1680.0V1638.3H1786.4V1680.0M1785.6 1638.3V1636.5H1787.9V1680.0M1783.3 1680.0V1627.9H1786.8V1636.5M1781.8 1680.0V1589.1H1785.0V1627.9M1789.5 1680.0V1629.3H1791.0V1680.0M1790.2 1629.3V1610.9H1792.5V1680.0M1783.4 1589.1V1567.9H1791.4V1610.9M1795.6 1680.0V1616.2H1797.2V1680.0M1794.1 1680.0V1613.6H1796.4V1616.2M1798.7 1680.0V1611.7H1800.2V1680.0M1795.2 1613.6V1608.5H1799.5V1611.7M1787.4 1567.9V1552.8H1797.3V1608.5M1772.6 1557.2V1542.2H1791.6V1552.8M1726.4 1566.6V1500.6H1782.2V1542.2M1801.8 1680.0V1670.7H1803.2V1680.0M1806.2 1680.0V1677.8H1807.8V1680.0M1804.8 1680.0V1677.5H1807.0V1677.8M1809.2 1680.0V1676.8H1810.8V1680.0M1812.2 1680.0V1677.7H1813.8V1680.0M1813.0 1677.7V1677.6H1815.2V1680.0M1814.1 1677.6V1677.5H1816.8V1680.0M1810.0 1676.8V1676.1H1815.4V1677.5M1805.9 1677.5V1676.0H1812.7V1676.1M1818.2 1680.0V1673.6H1819.8V1680.0M1819.0 1673.6V1673.0H1821.2V1680.0M1809.3 1676.0V1672.6H1820.1V1673.0M1802.5 1670.7V1669.5H1814.7V1672.6M1822.7 1680.0V1674.0H1824.1V1680.0M1825.6 1680.0V1674.9H1827.0V1680.0M1823.4 1674.0V1672.4H1826.3V1674.9M1828.4 1680.0V1670.4H1829.9V1680.0M1824.9 1672.4V1666.8H1829.1V1670.4M1827.0 1666.8V1662.5H1831.3V1680.0M1814.7 1669.5V1659.5H1830.0V1662.5M1832.8 1680.0V1652.8H1834.2V1680.0M1835.8 1680.0V1649.5H1837.2V1680.0M1833.5 1652.8V1641.4H1836.5V1649.5M1826.3 1659.5V1636.1H1836.0V1641.4M1838.8 1680.0V1627.1H1840.5V1680.0M1839.7 1627.1V1613.3H1842.2V1680.0M1832.0 1636.1V1607.2H1840.7V1613.3M1845.5 1680.0V1596.7H1847.2V1680.0M1843.8 1680.0V1592.2H1846.3V1596.7M1837.0 1607.2V1579.6H1845.7V1592.2M1851.8 1680.0V1635.4H1853.2V1680.0M1850.2 1680.0V1632.9H1852.5V1635.4M1854.8 1680.0V1616.2H1856.2V1680.0M1851.4 1632.9V1592.2H1855.5V1616.2M1848.8 1680.0V1574.7H1853.4V1592.2M1859.3 1680.0V1660.4H1860.8V1680.0M1857.8 1680.0V1659.6H1860.0V1660.4M1862.3 1680.0V1660.5H1863.8V1680.0M1865.3 1680.0V1664.8H1866.9V1680.0M1863.1 1660.5V1659.5H1866.1V1664.8M1858.9 1659.6V1658.1H1864.6V1659.5M1869.9 1680.0V1666.1H1871.4V1680.0M1870.7 1666.1V1662.2H1872.9V1680.0M1868.4 1680.0V1654.9H1871.8V1662.2M1870.1 1654.9V1653.5H1874.4V1680.0M1876.0 1680.0V1661.3H1877.5V1680.0M1872.3 1653.5V1652.4H1876.7V1661.3M1880.5 1680.0V1660.1H1882.0V1680.0M1883.6 1680.0V1660.1H1885.1V1680.0M1881.3 1660.1V1659.3H1884.3V1660.1M1879.0 1680.0V1657.7H1882.8V1659.3M1874.5 1652.4V1648.4H1880.9V1657.7M1861.7 1658.1V1647.0H1877.7V1648.4M1886.6 1680.0V1638.0H1888.1V1680.0M1869.7 1647.0V1629.9H1887.3V1638.0M1891.1 1680.0V1649.2H1892.7V1680.0M1895.7 1680.0V1662.1H1897.2V1680.0M1894.2 1680.0V1661.4H1896.4V1662.1M1895.3 1661.4V1660.6H1898.7V1680.0M1897.0 1660.6V1650.3H1900.2V1680.0M1891.9 1649.2V1645.0H1898.6V1650.3M1889.6 1680.0V1621.5H1895.3V1645.0M1878.5 1629.9V1608.4H1892.4V1621.5M1901.8 1680.0V1615.3H1903.3V1680.0M1902.5 1615.3V1608.7H1904.8V1680.0M1907.9 1680.0V1639.7H1909.4V1680.0M1906.4 1680.0V1628.9H1908.6V1639.7M1910.9 1680.0V1629.1H1912.5V1680.0M1911.7 1629.1V1615.8H1914.0V1680.0M1918.6 1680.0V1640.9H1920.1V1680.0M1921.6 1680.0V1643.2H1923.2V1680.0M1924.7 1680.0V1642.4H1926.2V1680.0M1922.4 1643.2V1640.9H1925.5V1642.4M1919.4 1640.9V1639.2H1923.9V1640.9M1917.1 1680.0V1624.8H1921.6V1639.2M1915.5 1680.0V1622.5H1919.4V1624.8M1912.9 1615.8V1607.8H1917.4V1622.5M1907.5 1628.9V1582.8H1915.1V1607.8M1903.7 1608.7V1564.7H1911.3V1582.8M1878.5 1608.4V1546.6H1911.3V1564.7M1852.7 1574.7V1527.7H1891.4V1546.6M1842.0 1579.6V1500.3H1872.7V1527.7M465.1 1431.7H1857.5M465.1 1431.7V1499.9M574.7 1431.7V1507.5M1039.0 1431.7V1529.9M1304.0 1431.7V1514.3M1428.0 1431.7V1529.2M1581.8 1431.7V1521.9M1754.7 1431.7V1500.6M1857.5 1431.7V1500.3" fill="none" stroke="#000" stroke-width="2.4" stroke-linejoin="miter"/>
<path d="M408 1680.3H1927.5" fill="none" stroke="#000" stroke-width="2.6"/>
<text x="100" y="1222" font-size="33" font-style="italic">K = 8</text>
<text transform="translate(234 1212.5) rotate(-90)" text-anchor="middle" font-size="33">Admixture proportion</text>
<text transform="translate(234 1550) rotate(-90)" text-anchor="middle" font-size="33">Distance</text>
<g stroke="#222" stroke-width="3" fill="none">
<path d="M347.5 1004.6999999999999V1417.8999999999999M319.5 1006.3H347.5M319.5 1088.3H347.5M319.5 1170.3H347.5M319.5 1252.3H347.5M319.5 1334.3H347.5M319.5 1416.3H347.5"/>
<path d="M347.5 1420.5V1681.6M319.5 1504.5H347.5M319.5 1592.2H347.5M319.5 1680H347.5"/>
</g>
<g font-size="33" text-anchor="end">
<text x="308" y="1017.0">1.0</text>
<text x="308" y="1099.0">0.8</text>
<text x="308" y="1181.0">0.6</text>
<text x="308" y="1263.0">0.4</text>
<text x="308" y="1345.0">0.2</text>
<text x="308" y="1427.0">0.0</text>
<text x="308" y="1515.2">1.0</text>
<text x="308" y="1602.9">0.5</text>
<text x="308" y="1690.7">0.0</text>
</g>
<g stroke="#000" stroke-width="2.6" fill="none">
<path d="M373.5 1692.6H1931.8V1764.2H373.5ZM488.3 1692.6V1764.2M731.6 1692.6V1764.2M1257.4 1692.6V1764.2M1361.2 1692.6V1764.2M1472.5 1692.6V1764.2M1666 1692.6V1764.2M1800.8 1692.6V1764.2"/>
</g>
<g font-size="18.6" text-anchor="middle">
<text x="429.7" y="1734.2">Syn B</text>
<text x="609.5" y="1734.2">Modern Land. Mxn</text>
<text x="996.2" y="1734.2">Elites</text>
<text x="1308.7" y="1713.2">Trad.</text>
<text x="1308.7" y="1734.2">Land.</text>
<text x="1308.7" y="1755.2">Mxn.</text>
<text x="1416" y="1713.2">Trad.</text>
<text x="1416" y="1734.2">Land.</text>
<text x="1416" y="1755.2">Irn/Tur</text>
<text x="1566.8" y="1723.6">Trad. Land.</text>
<text x="1566.8" y="1744.7">Irn/Tur/Pak</text>
<text x="1733.7" y="1725">Modern</text>
<text x="1733.7" y="1746">Land. Mxn</text>
<text x="1862.7" y="1734.2">Syn A</text>
</g>
</svg>
</body></html>
